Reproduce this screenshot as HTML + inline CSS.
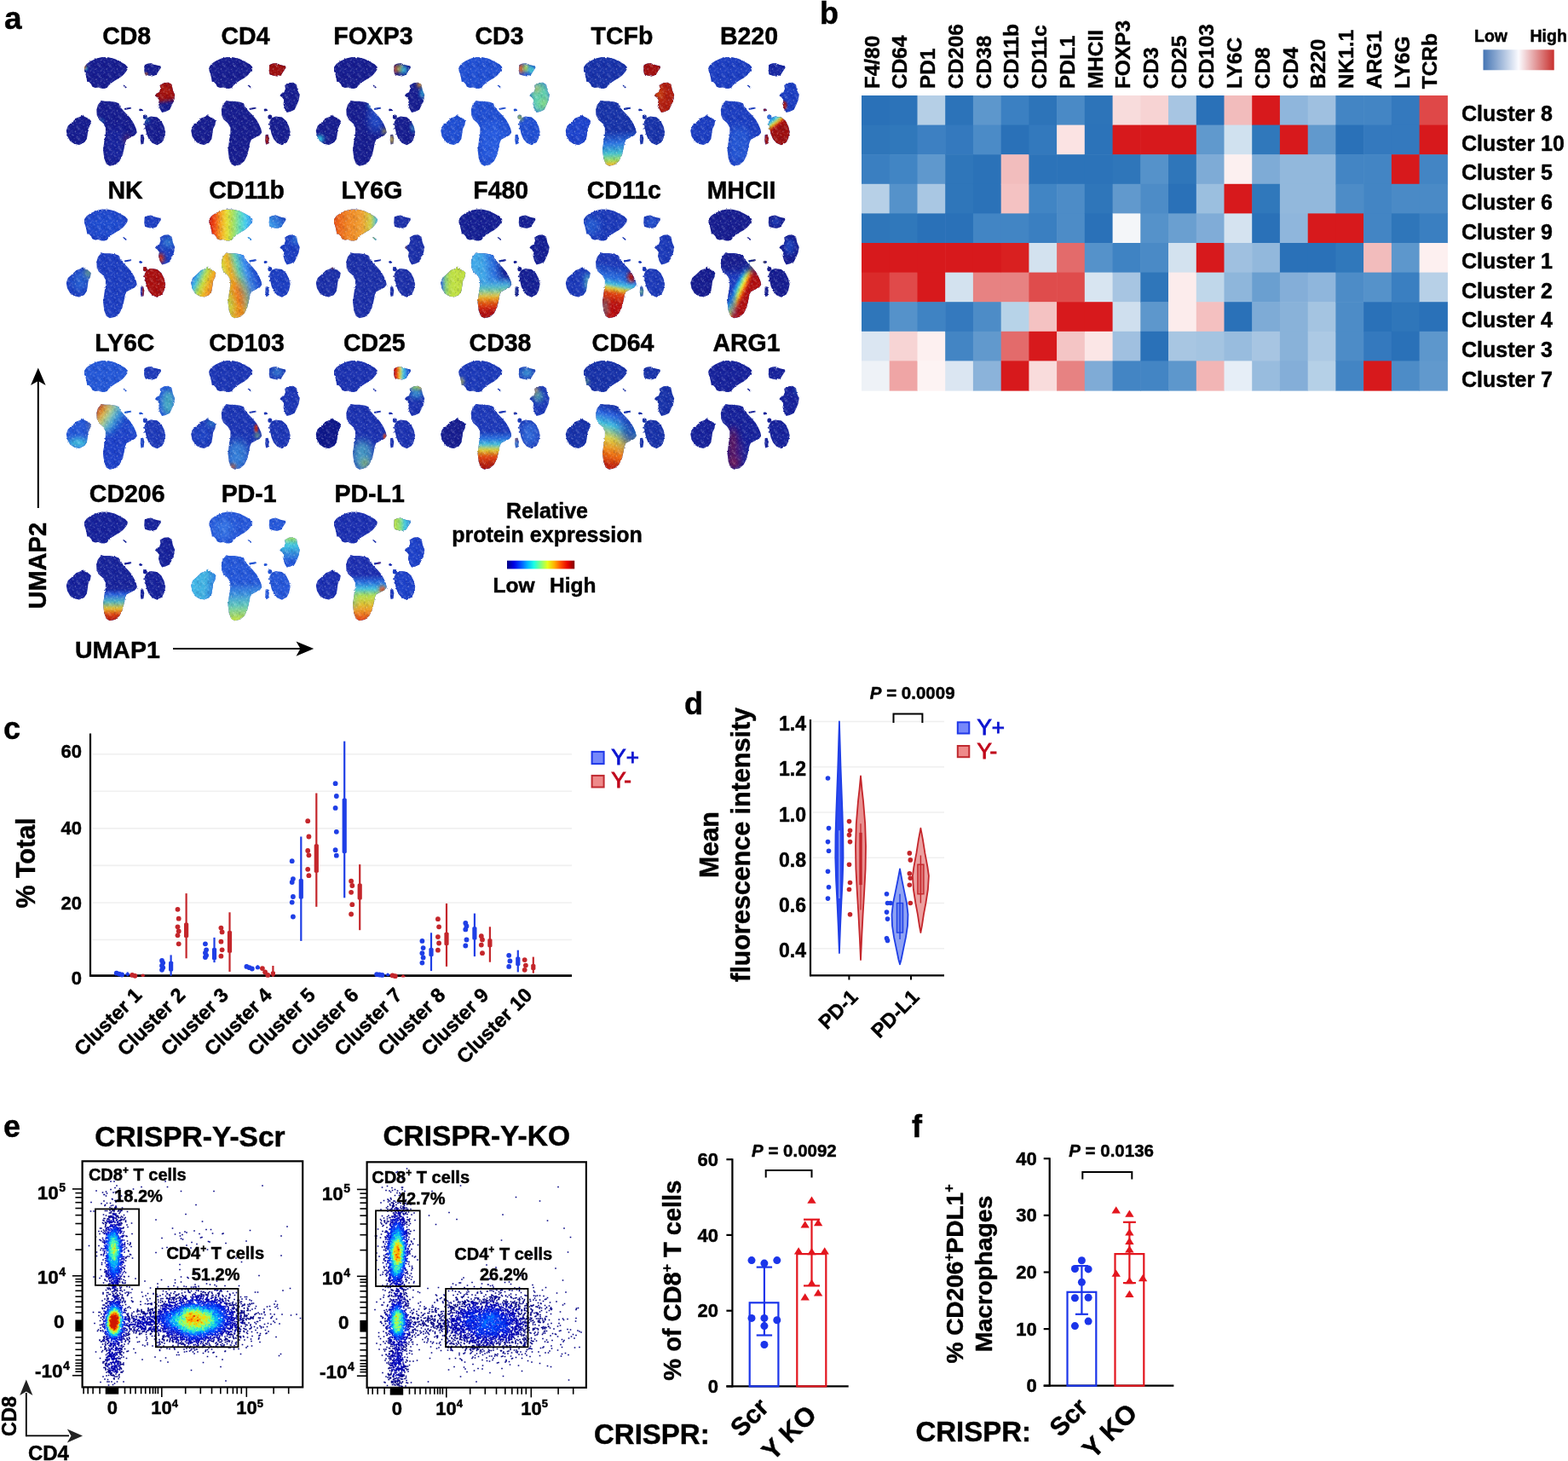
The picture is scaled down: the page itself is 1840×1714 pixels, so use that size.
<!DOCTYPE html><html><head><meta charset="utf-8"><title>Figure</title><style>html,body{margin:0;padding:0;background:#fff;}svg{display:block;filter:blur(0.55px);}</style></head><body>
<svg width="1840" height="1714" viewBox="0 0 1840 1714" font-family="'Liberation Sans', Arial, Helvetica, sans-serif" font-weight="bold">
<style>text{stroke:currentColor;stroke-width:0.45px;}</style>
<rect width="1840" height="1714" fill="#fff"/>
<defs><path id="ump" d="M355,230 390,180 450,140 530,105 610,85 700,90 790,110 870,150 940,190 975,225 975,260 950,300 910,345 860,385 800,420 740,460 700,500 680,525 640,540 590,535 560,520 510,525 470,510 450,470 420,440 395,440 385,380 370,320 355,280Z M1220,200 1260,180 1310,170 1380,200 1450,215 1455,240 1420,290 1390,340 1330,360 1270,350 1225,335 1215,280Z M1440,490 1500,455 1560,450 1610,480 1625,560 1655,630 1640,710 1610,780 1580,840 1520,870 1470,880 1440,830 1420,760 1430,700 1400,660 1370,640 1390,610 1430,590 1450,540Z M330,910 350,935 420,970 450,1000 440,1060 410,1120 400,1200 390,1260 350,1320 280,1345 210,1330 150,1290 110,1220 95,1140 120,1070 180,1020 240,960 300,940Z M600,710 650,720 720,720 800,730 850,750 870,800 920,860 980,920 1030,980 1070,1050 1100,1120 1110,1170 1080,1210 1020,1240 960,1270 940,1320 920,1420 900,1500 860,1580 800,1630 720,1650 670,1620 640,1540 625,1420 640,1300 660,1180 660,1100 620,1030 560,980 535,920 530,840 550,770Z M1250,960 1310,935 1400,950 1460,1000 1500,1080 1520,1160 1500,1250 1470,1310 1400,1350 1330,1320 1280,1260 1250,1190 1230,1100 1220,1020Z M1140,845 a25,18 0 1,0 50,0 a25,18 0 1,0 -50,0Z M1198,945 a30,32 0 1,0 60,0 a30,32 0 1,0 -60,0Z M1165,1200 1200,1195 1215,1250 1205,1330 1170,1340 1160,1280Z M905,490 925,488 965,520 950,532Z M930,820 1025,805 1030,825 935,845Z M1203,1050 a12,12 0 1,0 24,0 a12,12 0 1,0 -24,0Z M1215,1110 a10,12 0 1,0 20,0 a10,12 0 1,0 -20,0Z"/>
<clipPath id="umc"><use href="#ump"/></clipPath>
<filter id="bl15" x="-100%" y="-100%" width="300%" height="300%"><feGaussianBlur stdDeviation="15"/></filter>
<filter id="bl25" x="-100%" y="-100%" width="300%" height="300%"><feGaussianBlur stdDeviation="25"/></filter>
<filter id="bl40" x="-100%" y="-100%" width="300%" height="300%"><feGaussianBlur stdDeviation="40"/></filter>
<filter id="bl60" x="-100%" y="-100%" width="300%" height="300%"><feGaussianBlur stdDeviation="60"/></filter>
<filter id="bl90" x="-100%" y="-100%" width="300%" height="300%"><feGaussianBlur stdDeviation="90"/></filter>
<filter id="rough" x="-60" y="-60" width="1840" height="1840" filterUnits="userSpaceOnUse" primitiveUnits="userSpaceOnUse"><feTurbulence type="fractalNoise" baseFrequency="0.05" numOctaves="2" seed="4" result="t"/><feDisplacementMap in="SourceGraphic" in2="t" scale="26" xChannelSelector="R" yChannelSelector="G"/></filter>
<pattern id="spk" width="150" height="150" patternUnits="userSpaceOnUse"><circle cx="36" cy="82" r="5.1" fill="#fff" fill-opacity="0.32"/><circle cx="91" cy="94" r="4.2" fill="#fff" fill-opacity="0.32"/><circle cx="2" cy="126" r="4.8" fill="#fff" fill-opacity="0.32"/><circle cx="35" cy="149" r="5.4" fill="#fff" fill-opacity="0.32"/><circle cx="125" cy="71" r="5.9" fill="#fff" fill-opacity="0.32"/><circle cx="23" cy="95" r="6.6" fill="#fff" fill-opacity="0.32"/><circle cx="78" cy="111" r="6.0" fill="#fff" fill-opacity="0.32"/><circle cx="10" cy="114" r="5.8" fill="#fff" fill-opacity="0.32"/><circle cx="45" cy="5" r="6.6" fill="#fff" fill-opacity="0.32"/><circle cx="71" cy="108" r="6.6" fill="#fff" fill-opacity="0.32"/><circle cx="107" cy="138" r="5.2" fill="#fff" fill-opacity="0.32"/><circle cx="120" cy="67" r="6.8" fill="#fff" fill-opacity="0.32"/><circle cx="132" cy="15" r="4.4" fill="#fff" fill-opacity="0.32"/><circle cx="33" cy="145" r="5.3" fill="#fff" fill-opacity="0.32"/><circle cx="94" cy="45" r="5.5" fill="#fff" fill-opacity="0.32"/><circle cx="58" cy="53" r="5.8" fill="#fff" fill-opacity="0.32"/><circle cx="88" cy="136" r="6.0" fill="#fff" fill-opacity="0.32"/><circle cx="139" cy="128" r="7.0" fill="#fff" fill-opacity="0.32"/><circle cx="101" cy="24" r="6.6" fill="#fff" fill-opacity="0.32"/><circle cx="145" cy="136" r="5.7" fill="#fff" fill-opacity="0.32"/><circle cx="107" cy="32" r="6.5" fill="#fff" fill-opacity="0.32"/><circle cx="86" cy="43" r="4.2" fill="#fff" fill-opacity="0.32"/><circle cx="128" cy="148" r="4.3" fill="#fff" fill-opacity="0.32"/><circle cx="120" cy="62" r="4.5" fill="#fff" fill-opacity="0.32"/><circle cx="44" cy="115" r="6.6" fill="#fff" fill-opacity="0.32"/><circle cx="7" cy="92" r="4.1" fill="#fff" fill-opacity="0.32"/><circle cx="108" cy="50" r="6.6" fill="#fff" fill-opacity="0.32"/><circle cx="147" cy="76" r="7.0" fill="#fff" fill-opacity="0.32"/><circle cx="46" cy="12" r="5.8" fill="#fff" fill-opacity="0.32"/><circle cx="5" cy="30" r="5.2" fill="#fff" fill-opacity="0.32"/><circle cx="92" cy="23" r="4.1" fill="#fff" fill-opacity="0.32"/><circle cx="130" cy="47" r="6.9" fill="#fff" fill-opacity="0.32"/><circle cx="134" cy="57" r="5.4" fill="#fff" fill-opacity="0.32"/><circle cx="78" cy="97" r="5.8" fill="#fff" fill-opacity="0.32"/><circle cx="84" cy="93" r="6.8" fill="#000040" fill-opacity="0.25"/><circle cx="76" cy="65" r="6.2" fill="#000040" fill-opacity="0.25"/><circle cx="36" cy="45" r="6.9" fill="#000040" fill-opacity="0.25"/><circle cx="78" cy="82" r="4.0" fill="#000040" fill-opacity="0.25"/><circle cx="62" cy="87" r="4.1" fill="#000040" fill-opacity="0.25"/><circle cx="92" cy="95" r="4.2" fill="#000040" fill-opacity="0.25"/><circle cx="94" cy="70" r="6.0" fill="#000040" fill-opacity="0.25"/><circle cx="53" cy="106" r="6.2" fill="#000040" fill-opacity="0.25"/><circle cx="3" cy="9" r="6.0" fill="#000040" fill-opacity="0.25"/><circle cx="144" cy="38" r="5.4" fill="#000040" fill-opacity="0.25"/><circle cx="89" cy="48" r="5.1" fill="#000040" fill-opacity="0.25"/><circle cx="47" cy="55" r="5.8" fill="#000040" fill-opacity="0.25"/><circle cx="45" cy="57" r="6.3" fill="#000040" fill-opacity="0.25"/><circle cx="4" cy="85" r="6.2" fill="#000040" fill-opacity="0.25"/><circle cx="47" cy="33" r="6.4" fill="#000040" fill-opacity="0.25"/><circle cx="36" cy="28" r="5.3" fill="#000040" fill-opacity="0.25"/><circle cx="105" cy="15" r="5.0" fill="#000040" fill-opacity="0.25"/><circle cx="50" cy="125" r="5.3" fill="#000040" fill-opacity="0.25"/></pattern></defs>
<text x="5.0" y="33.5" font-size="37">a</text>
<text transform="translate(148.7,51.5) scale(1,1.04)" font-size="28.5" text-anchor="middle">CD8</text>
<g transform="translate(70.0,60) scale(0.08170)"><g filter="url(#rough)"><use href="#ump" fill="#141b8e"/><g clip-path="url(#umc)"><path d="M1340,420 1700,420 1700,700 1340,740Z" fill="#9c0a0a" filter="url(#bl25)"/><ellipse cx="1540" cy="560" rx="50" ry="50" fill="#c83010" filter="url(#bl40)" opacity="0.6"/><ellipse cx="360" cy="225" rx="22" ry="35" fill="#f07010" filter="url(#bl15)"/><ellipse cx="385" cy="250" rx="18" ry="30" fill="#30c8e8" filter="url(#bl15)" opacity="0.7"/><ellipse cx="1240" cy="330" rx="30" ry="18" fill="#f07010" filter="url(#bl15)" opacity="0.8"/><ellipse cx="960" cy="1270" rx="35" ry="70" fill="#b03030" filter="url(#bl40)" opacity="0.6"/><ellipse cx="600" cy="1000" rx="30" ry="30" fill="#30c8e8" filter="url(#bl25)" opacity="0.5"/><ellipse cx="1250" cy="990" rx="30" ry="40" fill="#30c8e8" filter="url(#bl25)" opacity="0.5"/><ellipse cx="800" cy="1350" rx="150" ry="250" fill="#1a2aa8" filter="url(#bl60)" opacity="0.6"/><rect width="1714" height="1714" fill="url(#spk)"/></g></g></g>
<text transform="translate(288.0,51.5) scale(1,1.04)" font-size="28.5" text-anchor="middle">CD4</text>
<g transform="translate(216.5,60) scale(0.08170)"><g filter="url(#rough)"><use href="#ump" fill="#141b8e"/><g clip-path="url(#umc)"><path d="M1190,150 1480,150 1480,390 1190,390Z" fill="#9c0a0a" filter="url(#bl15)"/><ellipse cx="1185" cy="1270" rx="30" ry="75" fill="#9c0a0a" filter="url(#bl15)"/><rect width="1714" height="1714" fill="url(#spk)"/></g></g></g>
<text transform="translate(438.0,51.5) scale(1,1.04)" font-size="28.5" text-anchor="middle">FOXP3</text>
<g transform="translate(363.0,60) scale(0.08170)"><g filter="url(#rough)"><use href="#ump" fill="#141b8e"/><g clip-path="url(#umc)"><ellipse cx="1235" cy="260" rx="25" ry="60" fill="#e04010" filter="url(#bl25)"/><ellipse cx="1300" cy="250" rx="45" ry="50" fill="#e8d820" filter="url(#bl25)" opacity="0.8"/><ellipse cx="1360" cy="270" rx="50" ry="60" fill="#30c8e8" filter="url(#bl25)" opacity="0.8"/><ellipse cx="1590" cy="480" rx="40" ry="40" fill="#f0a020" filter="url(#bl25)"/><ellipse cx="1625" cy="600" rx="25" ry="80" fill="#30c8e8" filter="url(#bl25)"/><ellipse cx="960" cy="950" rx="110" ry="220" fill="#2860e0" filter="url(#bl60)" opacity="0.7"/><ellipse cx="880" cy="780" rx="40" ry="30" fill="#30c8e8" filter="url(#bl25)" opacity="0.7"/><ellipse cx="1080" cy="1150" rx="25" ry="30" fill="#e8d820" filter="url(#bl25)"/><ellipse cx="150" cy="1260" rx="60" ry="50" fill="#30c8e8" filter="url(#bl25)"/><ellipse cx="1185" cy="1270" rx="30" ry="60" fill="#e0c030" filter="url(#bl25)"/><ellipse cx="1490" cy="1100" rx="25" ry="60" fill="#30c8e8" filter="url(#bl25)" opacity="0.7"/><rect width="1714" height="1714" fill="url(#spk)"/></g></g></g>
<text transform="translate(586.0,51.5) scale(1,1.04)" font-size="28.5" text-anchor="middle">CD3</text>
<g transform="translate(509.5,60) scale(0.08170)"><g filter="url(#rough)"><use href="#ump" fill="#1f4ed2"/><g clip-path="url(#umc)"><ellipse cx="1245" cy="250" rx="40" ry="70" fill="#f06010" filter="url(#bl25)"/><ellipse cx="1320" cy="240" rx="45" ry="60" fill="#b0e050" filter="url(#bl25)"/><ellipse cx="1400" cy="270" rx="50" ry="60" fill="#40d0d0" filter="url(#bl25)"/><ellipse cx="1520" cy="660" rx="150" ry="230" fill="#60d0b0" filter="url(#bl40)"/><ellipse cx="1470" cy="540" rx="50" ry="50" fill="#f0a020" filter="url(#bl40)" opacity="0.6"/><ellipse cx="1580" cy="750" rx="60" ry="80" fill="#a0e060" filter="url(#bl40)" opacity="0.6"/><ellipse cx="1230" cy="955" rx="40" ry="40" fill="#c0e040" filter="url(#bl25)"/><ellipse cx="850" cy="1300" rx="180" ry="300" fill="#2a64e8" filter="url(#bl60)" opacity="0.6"/><rect width="1714" height="1714" fill="url(#spk)"/></g></g></g>
<text transform="translate(730.0,51.5) scale(1,1.04)" font-size="28.5" text-anchor="middle">TCFb</text>
<g transform="translate(656.0,60) scale(0.08170)"><g filter="url(#rough)"><use href="#ump" fill="#1630a8"/><g clip-path="url(#umc)"><path d="M1190,150 1480,150 1480,390 1190,390Z" fill="#a01010" filter="url(#bl15)"/><path d="M1350,430 1680,430 1680,900 1350,900Z" fill="#b01a0c" filter="url(#bl15)"/><ellipse cx="1430" cy="620" rx="60" ry="90" fill="#e06010" filter="url(#bl40)" opacity="0.6"/><path d="M70,890 470,890 470,1370 70,1370Z" fill="#1d42cc" filter="url(#bl25)"/><linearGradient id="lg1" gradientUnits="userSpaceOnUse" x1="760" y1="1150" x2="780" y2="1640"><stop offset="0" stop-color="#1630a8"/><stop offset="0.35" stop-color="#2a70e0"/><stop offset="0.65" stop-color="#40c0d0"/><stop offset="0.85" stop-color="#a0e060"/><stop offset="1" stop-color="#f0b020"/></linearGradient><path d="M470,660 1122,660 1122,1700 470,1700Z" fill="url(#lg1)" filter="url(#bl15)"/><rect width="1714" height="1714" fill="url(#spk)"/></g></g></g>
<text transform="translate(879.0,51.5) scale(1,1.04)" font-size="28.5" text-anchor="middle">B220</text>
<g transform="translate(802.5,60) scale(0.08170)"><g filter="url(#rough)"><use href="#ump" fill="#1a3cc0"/><g clip-path="url(#umc)"><path d="M1190,150 1480,150 1480,390 1190,390Z" fill="#1428a0" filter="url(#bl15)"/><ellipse cx="1440" cy="780" rx="40" ry="60" fill="#9c0a0a" filter="url(#bl15)"/><linearGradient id="lg2" gradientUnits="userSpaceOnUse" x1="1250" y1="940" x2="1360" y2="1080"><stop offset="0" stop-color="#3070e0"/><stop offset="0.35" stop-color="#30c8e8"/><stop offset="0.6" stop-color="#e8d820"/><stop offset="0.8" stop-color="#d02010"/><stop offset="1" stop-color="#9c0a0a"/></linearGradient><path d="M1190,900 1540,900 1540,1370 1190,1370Z" fill="url(#lg2)" filter="url(#bl15)"/><ellipse cx="1185" cy="1270" rx="30" ry="75" fill="#9c0a0a" filter="url(#bl15)"/><ellipse cx="1160" cy="840" rx="25" ry="25" fill="#9c0a0a" filter="url(#bl15)"/><ellipse cx="800" cy="1350" rx="180" ry="280" fill="#2c68e0" filter="url(#bl60)" opacity="0.6"/><rect width="1714" height="1714" fill="url(#spk)"/></g></g></g>
<text transform="translate(147.0,232.5) scale(1,1.04)" font-size="28.5" text-anchor="middle">NK</text>
<g transform="translate(70.0,238.5) scale(0.08170)"><g filter="url(#rough)"><use href="#ump" fill="#1b3cc0"/><g clip-path="url(#umc)"><path d="M1190,900 1540,900 1540,1370 1190,1370Z" fill="#a81008" filter="url(#bl15)"/><ellipse cx="1450" cy="790" rx="50" ry="70" fill="#c02010" filter="url(#bl25)"/><ellipse cx="1560" cy="560" rx="80" ry="80" fill="#3aa0e0" filter="url(#bl40)" opacity="0.6"/><ellipse cx="410" cy="1000" rx="45" ry="70" fill="#a0e060" filter="url(#bl40)" opacity="0.8"/><ellipse cx="300" cy="1120" rx="130" ry="150" fill="#2f80e0" filter="url(#bl60)" opacity="0.5"/><ellipse cx="650" cy="300" rx="300" ry="200" fill="#2454d8" filter="url(#bl60)" opacity="0.6"/><rect width="1714" height="1714" fill="url(#spk)"/></g></g></g>
<text transform="translate(289.6,232.5) scale(1,1.04)" font-size="28.5" text-anchor="middle">CD11b</text>
<g transform="translate(216.5,238.5) scale(0.08170)"><g filter="url(#rough)"><use href="#ump" fill="#1a3cc0"/><g clip-path="url(#umc)"><linearGradient id="lg3" gradientUnits="userSpaceOnUse" x1="345" y1="300" x2="975" y2="300"><stop offset="0" stop-color="#c81810"/><stop offset="0.13" stop-color="#f04010"/><stop offset="0.27" stop-color="#f8a020"/><stop offset="0.42" stop-color="#e8e030"/><stop offset="0.57" stop-color="#a0e060"/><stop offset="0.72" stop-color="#60e0c0"/><stop offset="0.86" stop-color="#40c8f0"/><stop offset="1" stop-color="#3a90f0"/></linearGradient><path d="M330,60 1000,60 1000,560 330,560Z" fill="url(#lg3)" filter="url(#bl15)"/><linearGradient id="lg4" gradientUnits="userSpaceOnUse" x1="100" y1="1050" x2="430" y2="1190"><stop offset="0" stop-color="#2860e0"/><stop offset="0.25" stop-color="#40c0e0"/><stop offset="0.5" stop-color="#c0e040"/><stop offset="0.75" stop-color="#f0b020"/><stop offset="1" stop-color="#f08020"/></linearGradient><path d="M70,890 470,890 470,1370 70,1370Z" fill="url(#lg4)" filter="url(#bl15)"/><linearGradient id="lg5" gradientUnits="userSpaceOnUse" x1="553" y1="1037" x2="1093" y2="888"><stop offset="0" stop-color="#d0e040"/><stop offset="0.22" stop-color="#f0b020"/><stop offset="0.42" stop-color="#60d0b0"/><stop offset="0.6" stop-color="#3a90f0"/><stop offset="0.8" stop-color="#2050d0"/><stop offset="1" stop-color="#1a3cc0"/></linearGradient><path d="M470,660 1122,660 1122,1700 470,1700Z" fill="url(#lg5)" filter="url(#bl15)"/><ellipse cx="790" cy="1330" rx="90" ry="230" fill="#f05010" filter="url(#bl90)" opacity="0.9" transform="rotate(-15 790 1330)"/><ellipse cx="760" cy="1600" rx="90" ry="60" fill="#f06010" filter="url(#bl60)" opacity="0.8"/><ellipse cx="660" cy="1400" rx="30" ry="120" fill="#a0e060" filter="url(#bl60)" opacity="0.6"/><linearGradient id="lg6" gradientUnits="userSpaceOnUse" x1="1220" y1="350" x2="1450" y2="180"><stop offset="0" stop-color="#40a8f0"/><stop offset="1" stop-color="#1a40c0"/></linearGradient><path d="M1190,150 1480,150 1480,390 1190,390Z" fill="url(#lg6)" filter="url(#bl15)"/><ellipse cx="1600" cy="520" rx="60" ry="60" fill="#40a0f0" filter="url(#bl40)" opacity="0.7"/><rect width="1714" height="1714" fill="url(#spk)"/></g></g></g>
<text transform="translate(436.4,232.5) scale(1,1.04)" font-size="28.5" text-anchor="middle">LY6G</text>
<g transform="translate(363.0,238.5) scale(0.08170)"><g filter="url(#rough)"><use href="#ump" fill="#1a2ea8"/><g clip-path="url(#umc)"><linearGradient id="lg7" gradientUnits="userSpaceOnUse" x1="345" y1="300" x2="975" y2="300"><stop offset="0" stop-color="#e85010"/><stop offset="0.3" stop-color="#f08020"/><stop offset="0.65" stop-color="#f0a030"/><stop offset="0.85" stop-color="#d0d040"/><stop offset="1" stop-color="#40c0e0"/></linearGradient><path d="M330,60 1000,60 1000,560 330,560Z" fill="url(#lg7)" filter="url(#bl15)"/><ellipse cx="335" cy="920" rx="15" ry="20" fill="#f07010" filter="url(#bl15)"/><ellipse cx="1370" cy="630" rx="15" ry="20" fill="#f07010" filter="url(#bl15)"/><ellipse cx="1200" cy="1060" rx="12" ry="15" fill="#f07010" filter="url(#bl15)"/><rect width="1714" height="1714" fill="url(#spk)"/></g></g></g>
<text transform="translate(587.7,232.5) scale(1,1.04)" font-size="28.5" text-anchor="middle">F480</text>
<g transform="translate(509.5,238.5) scale(0.08170)"><g filter="url(#rough)"><use href="#ump" fill="#121e92"/><g clip-path="url(#umc)"><linearGradient id="lg8" gradientUnits="userSpaceOnUse" x1="100" y1="1100" x2="300" y2="1100"><stop offset="0" stop-color="#2860e0"/><stop offset="0.3" stop-color="#80d080"/><stop offset="0.6" stop-color="#b8e048"/><stop offset="1" stop-color="#c0e040"/></linearGradient><path d="M70,890 470,890 470,1370 70,1370Z" fill="url(#lg8)" filter="url(#bl15)"/><linearGradient id="lg9" gradientUnits="userSpaceOnUse" x1="690" y1="900" x2="1000" y2="860"><stop offset="0" stop-color="#40a8e8"/><stop offset="0.5" stop-color="#2a70e0"/><stop offset="1" stop-color="#121e92"/></linearGradient><path d="M470,660 1122,660 1122,1700 470,1700Z" fill="url(#lg9)" filter="url(#bl15)"/><linearGradient id="lg10" gradientUnits="userSpaceOnUse" x1="750" y1="1160" x2="760" y2="1630"><stop offset="0" stop-color="#40a0e8"/><stop offset="0.22" stop-color="#60d0a0"/><stop offset="0.36" stop-color="#f0d020"/><stop offset="0.55" stop-color="#e85010"/><stop offset="0.8" stop-color="#c01010"/><stop offset="1" stop-color="#a00808"/></linearGradient><path d="M470,1130 1122,1090 1122,1700 470,1700Z" fill="url(#lg10)" filter="url(#bl40)"/><rect width="1714" height="1714" fill="url(#spk)"/></g></g></g>
<text transform="translate(732.3,232.5) scale(1,1.04)" font-size="28.5" text-anchor="middle">CD11c</text>
<g transform="translate(656.0,238.5) scale(0.08170)"><g filter="url(#rough)"><use href="#ump" fill="#1a38b8"/><g clip-path="url(#umc)"><linearGradient id="lg11" gradientUnits="userSpaceOnUse" x1="880" y1="900" x2="780" y2="1450"><stop offset="0" stop-color="#1a38b8"/><stop offset="0.35" stop-color="#2a70e0"/><stop offset="0.5" stop-color="#40c0e0"/><stop offset="0.6" stop-color="#e0d030"/><stop offset="0.72" stop-color="#e04010"/><stop offset="1" stop-color="#b81010"/></linearGradient><path d="M470,660 1122,660 1122,1700 470,1700Z" fill="url(#lg11)" filter="url(#bl15)"/><ellipse cx="1040" cy="1060" rx="55" ry="75" fill="#a80c0c" filter="url(#bl25)"/><ellipse cx="660" cy="1500" rx="25" ry="150" fill="#40c0d0" filter="url(#bl40)" opacity="0.8"/><ellipse cx="410" cy="1130" rx="35" ry="130" fill="#40c0e0" filter="url(#bl40)"/><ellipse cx="430" cy="1150" rx="20" ry="90" fill="#e0d040" filter="url(#bl40)" opacity="0.5"/><ellipse cx="1185" cy="1270" rx="25" ry="50" fill="#80e080" filter="url(#bl25)"/><ellipse cx="470" cy="330" rx="110" ry="130" fill="#2a70e0" filter="url(#bl60)" opacity="0.7"/><ellipse cx="1330" cy="270" rx="90" ry="70" fill="#2a60d8" filter="url(#bl40)" opacity="0.7"/><rect width="1714" height="1714" fill="url(#spk)"/></g></g></g>
<text transform="translate(870.0,232.5) scale(1,1.04)" font-size="28.5" text-anchor="middle">MHCII</text>
<g transform="translate(802.5,238.5) scale(0.08170)"><g filter="url(#rough)"><use href="#ump" fill="#141b8e"/><g clip-path="url(#umc)"><linearGradient id="lg12" gradientUnits="userSpaceOnUse" x1="1046" y1="476" x2="1219" y2="555"><stop offset="0" stop-color="#1a3cc0"/><stop offset="0.25" stop-color="#20b0f0"/><stop offset="0.45" stop-color="#a0f070"/><stop offset="0.6" stop-color="#f8e020"/><stop offset="0.78" stop-color="#f05010"/><stop offset="1" stop-color="#b00c0c"/></linearGradient><path d="M470,660 1122,660 1122,1700 470,1700Z" fill="url(#lg12)" filter="url(#bl15)"/><path d="M400,600 1300,600 1300,950 400,1010Z" fill="#141b8e" filter="url(#bl60)"/><ellipse cx="700" cy="1450" rx="40" ry="200" fill="#1a3cc0" filter="url(#bl40)" opacity="0.8"/><ellipse cx="1320" cy="260" rx="60" ry="50" fill="#2a60e0" filter="url(#bl40)" opacity="0.7"/><ellipse cx="1520" cy="620" rx="70" ry="120" fill="#2458d8" filter="url(#bl40)" opacity="0.7"/><ellipse cx="1140" cy="840" rx="15" ry="15" fill="#e8d820" filter="url(#bl15)"/><rect width="1714" height="1714" fill="url(#spk)"/></g></g></g>
<text transform="translate(146.3,411.5) scale(1,1.04)" font-size="28.5" text-anchor="middle">LY6C</text>
<g transform="translate(70.0,416) scale(0.08170)"><g filter="url(#rough)"><use href="#ump" fill="#2256d6"/><g clip-path="url(#umc)"><linearGradient id="lg13" gradientUnits="userSpaceOnUse" x1="540" y1="800" x2="860" y2="1000"><stop offset="0" stop-color="#c01810"/><stop offset="0.12" stop-color="#f06010"/><stop offset="0.3" stop-color="#e8d030"/><stop offset="0.5" stop-color="#80d8a0"/><stop offset="0.72" stop-color="#30a0e8"/><stop offset="1" stop-color="#1a40c8"/></linearGradient><path d="M480,680 1000,680 1000,1150 480,1250Z" fill="url(#lg13)" filter="url(#bl60)"/><path d="M480,1150 1140,1100 1140,1700 480,1700Z" fill="#1a40c8" filter="url(#bl60)"/><ellipse cx="270" cy="1270" rx="150" ry="70" fill="#40c0e0" filter="url(#bl40)"/><ellipse cx="1560" cy="690" rx="90" ry="180" fill="#50c0c0" filter="url(#bl40)" opacity="0.8"/><path d="M1190,150 1480,150 1480,390 1190,390Z" fill="#1a38b8" filter="url(#bl15)"/><path d="M1190,900 1540,900 1540,1370 1190,1370Z" fill="#1a38b8" filter="url(#bl25)"/><rect width="1714" height="1714" fill="url(#spk)"/></g></g></g>
<text transform="translate(289.6,411.5) scale(1,1.04)" font-size="28.5" text-anchor="middle">CD103</text>
<g transform="translate(216.5,416) scale(0.08170)"><g filter="url(#rough)"><use href="#ump" fill="#1a34b4"/><g clip-path="url(#umc)"><ellipse cx="1030" cy="1060" rx="25" ry="60" fill="#c02010" filter="url(#bl15)"/><ellipse cx="1045" cy="1160" rx="25" ry="40" fill="#a0e050" filter="url(#bl25)" opacity="0.8"/><ellipse cx="760" cy="1450" rx="160" ry="220" fill="#3a90e0" filter="url(#bl60)" opacity="0.8"/><ellipse cx="690" cy="1610" rx="40" ry="30" fill="#e06010" filter="url(#bl25)"/><ellipse cx="1330" cy="250" rx="90" ry="70" fill="#3a90d8" filter="url(#bl40)" opacity="0.7"/><ellipse cx="390" cy="980" rx="60" ry="60" fill="#40b0e0" filter="url(#bl40)" opacity="0.7"/><ellipse cx="250" cy="1150" rx="150" ry="150" fill="#2050d0" filter="url(#bl60)" opacity="0.6"/><rect width="1714" height="1714" fill="url(#spk)"/></g></g></g>
<text transform="translate(439.3,411.5) scale(1,1.04)" font-size="28.5" text-anchor="middle">CD25</text>
<g transform="translate(363.0,416) scale(0.08170)"><g filter="url(#rough)"><use href="#ump" fill="#1a30b0"/><g clip-path="url(#umc)"><linearGradient id="lg14" gradientUnits="userSpaceOnUse" x1="1220" y1="260" x2="1450" y2="260"><stop offset="0" stop-color="#b01010"/><stop offset="0.15" stop-color="#f03010"/><stop offset="0.35" stop-color="#e8d030"/><stop offset="0.55" stop-color="#40c8e0"/><stop offset="0.8" stop-color="#2a70e0"/><stop offset="1" stop-color="#1a40c0"/></linearGradient><path d="M1190,150 1480,150 1480,390 1190,390Z" fill="url(#lg14)" filter="url(#bl15)"/><ellipse cx="1540" cy="470" rx="90" ry="40" fill="#a0e060" filter="url(#bl25)"/><ellipse cx="1600" cy="470" rx="30" ry="25" fill="#f08020" filter="url(#bl25)"/><ellipse cx="1540" cy="560" rx="90" ry="60" fill="#40c0e0" filter="url(#bl40)" opacity="0.7"/><ellipse cx="1085" cy="1180" rx="20" ry="45" fill="#e04010" filter="url(#bl15)"/><ellipse cx="760" cy="1450" rx="150" ry="220" fill="#50b0c8" filter="url(#bl60)" opacity="0.8"/><ellipse cx="800" cy="1560" rx="60" ry="60" fill="#c0d040" filter="url(#bl40)" opacity="0.6"/><path d="M70,890 470,890 470,1370 70,1370Z" fill="#101888" filter="url(#bl15)"/><rect width="1714" height="1714" fill="url(#spk)"/></g></g></g>
<text transform="translate(587.0,411.5) scale(1,1.04)" font-size="28.5" text-anchor="middle">CD38</text>
<g transform="translate(509.5,416) scale(0.08170)"><g filter="url(#rough)"><use href="#ump" fill="#1a38b8"/><g clip-path="url(#umc)"><linearGradient id="lg15" gradientUnits="userSpaceOnUse" x1="760" y1="1100" x2="760" y2="1640"><stop offset="0" stop-color="#1a38b8"/><stop offset="0.2" stop-color="#2a70e0"/><stop offset="0.35" stop-color="#40c0e0"/><stop offset="0.5" stop-color="#e0d030"/><stop offset="0.68" stop-color="#e04010"/><stop offset="1" stop-color="#a01010"/></linearGradient><path d="M470,660 1122,660 1122,1700 470,1700Z" fill="url(#lg15)" filter="url(#bl15)"/><ellipse cx="1440" cy="520" rx="40" ry="70" fill="#f0a020" filter="url(#bl40)"/><ellipse cx="1500" cy="600" rx="60" ry="80" fill="#60d0b0" filter="url(#bl40)" opacity="0.7"/><ellipse cx="1330" cy="260" rx="90" ry="70" fill="#40a8d8" filter="url(#bl40)" opacity="0.8"/><ellipse cx="1370" cy="1140" rx="120" ry="180" fill="#3a80e8" filter="url(#bl60)" opacity="0.7"/><ellipse cx="1180" cy="1200" rx="20" ry="40" fill="#f08020" filter="url(#bl25)"/><ellipse cx="1180" cy="1290" rx="20" ry="40" fill="#60c0e0" filter="url(#bl25)"/><ellipse cx="1141" cy="820" rx="15" ry="15" fill="#f07010" filter="url(#bl15)"/><ellipse cx="390" cy="390" rx="25" ry="60" fill="#d0d040" filter="url(#bl25)"/><path d="M70,890 470,890 470,1370 70,1370Z" fill="#141b8e" filter="url(#bl15)"/><rect width="1714" height="1714" fill="url(#spk)"/></g></g></g>
<text transform="translate(731.0,411.5) scale(1,1.04)" font-size="28.5" text-anchor="middle">CD64</text>
<g transform="translate(656.0,416) scale(0.08170)"><g filter="url(#rough)"><use href="#ump" fill="#1630a8"/><g clip-path="url(#umc)"><linearGradient id="lg16" gradientUnits="userSpaceOnUse" x1="969" y1="801" x2="745" y2="1602"><stop offset="0" stop-color="#1630a8"/><stop offset="0.15" stop-color="#2a64e0"/><stop offset="0.32" stop-color="#40c0e0"/><stop offset="0.55" stop-color="#e0d040"/><stop offset="0.8" stop-color="#f07010"/><stop offset="1" stop-color="#c02010"/></linearGradient><path d="M480,680 1140,680 1140,1700 480,1700Z" fill="url(#lg16)" filter="url(#bl15)"/><path d="M900,880 1140,880 1140,1300 960,1330Z" fill="#1630a8" filter="url(#bl90)"/><ellipse cx="400" cy="390" rx="20" ry="40" fill="#80d080" filter="url(#bl25)"/><rect width="1714" height="1714" fill="url(#spk)"/></g></g></g>
<text transform="translate(876.0,411.5) scale(1,1.04)" font-size="28.5" text-anchor="middle">ARG1</text>
<g transform="translate(802.5,416) scale(0.08170)"><g filter="url(#rough)"><use href="#ump" fill="#14209a"/><g clip-path="url(#umc)"><ellipse cx="700" cy="1300" rx="60" ry="260" fill="#801040" filter="url(#bl60)" opacity="0.9"/><ellipse cx="720" cy="1560" rx="90" ry="80" fill="#a01830" filter="url(#bl60)" opacity="0.8"/><ellipse cx="800" cy="1400" rx="60" ry="150" fill="#5a2080" filter="url(#bl60)" opacity="0.5"/><ellipse cx="1620" cy="520" rx="30" ry="30" fill="#40a0e0" filter="url(#bl25)" opacity="0.6"/><rect width="1714" height="1714" fill="url(#spk)"/></g></g></g>
<text transform="translate(149.2,589.0) scale(1,1.04)" font-size="28.5" text-anchor="middle">CD206</text>
<g transform="translate(70.0,593.5) scale(0.08170)"><g filter="url(#rough)"><use href="#ump" fill="#14209a"/><g clip-path="url(#umc)"><linearGradient id="lg17" gradientUnits="userSpaceOnUse" x1="760" y1="1200" x2="760" y2="1650"><stop offset="0" stop-color="#14209a"/><stop offset="0.15" stop-color="#2a60e0"/><stop offset="0.4" stop-color="#50b8c0"/><stop offset="0.6" stop-color="#e0c030"/><stop offset="0.8" stop-color="#e04010"/><stop offset="1" stop-color="#a81010"/></linearGradient><path d="M470,660 1122,660 1122,1700 470,1700Z" fill="url(#lg17)" filter="url(#bl15)"/><rect width="1714" height="1714" fill="url(#spk)"/></g></g></g>
<text transform="translate(292.2,589.0) scale(1,1.04)" font-size="28.5" text-anchor="middle">PD-1</text>
<g transform="translate(216.5,593.5) scale(0.08170)"><g filter="url(#rough)"><use href="#ump" fill="#2456d8"/><g clip-path="url(#umc)"><linearGradient id="lg18" gradientUnits="userSpaceOnUse" x1="100" y1="1100" x2="430" y2="1150"><stop offset="0" stop-color="#40b8e8"/><stop offset="0.6" stop-color="#40b0e0"/><stop offset="1" stop-color="#2a80e0"/></linearGradient><path d="M70,890 470,890 470,1370 70,1370Z" fill="url(#lg18)" filter="url(#bl15)"/><linearGradient id="lg19" gradientUnits="userSpaceOnUse" x1="760" y1="1100" x2="780" y2="1640"><stop offset="0" stop-color="#2456d8"/><stop offset="0.3" stop-color="#3a90e0"/><stop offset="0.6" stop-color="#60c8c0"/><stop offset="1" stop-color="#c0e040"/></linearGradient><path d="M470,660 1122,660 1122,1700 470,1700Z" fill="url(#lg19)" filter="url(#bl15)"/><linearGradient id="lg20" gradientUnits="userSpaceOnUse" x1="1540" y1="450" x2="1540" y2="800"><stop offset="0" stop-color="#a0e060"/><stop offset="0.3" stop-color="#40c8e0"/><stop offset="1" stop-color="#2456d8"/></linearGradient><path d="M1350,430 1680,430 1680,900 1350,900Z" fill="url(#lg20)" filter="url(#bl15)"/><ellipse cx="560" cy="320" rx="130" ry="150" fill="#3a80e8" filter="url(#bl60)" opacity="0.7"/><rect width="1714" height="1714" fill="url(#spk)"/></g></g></g>
<text transform="translate(433.6,589.0) scale(1,1.04)" font-size="28.5" text-anchor="middle">PD-L1</text>
<g transform="translate(363.0,593.5) scale(0.08170)"><g filter="url(#rough)"><use href="#ump" fill="#1a2eb0"/><g clip-path="url(#umc)"><linearGradient id="lg21" gradientUnits="userSpaceOnUse" x1="760" y1="1000" x2="760" y2="1640"><stop offset="0" stop-color="#1a2eb0"/><stop offset="0.15" stop-color="#2a70e0"/><stop offset="0.3" stop-color="#40c0e0"/><stop offset="0.45" stop-color="#b0e050"/><stop offset="0.65" stop-color="#e0c030"/><stop offset="0.85" stop-color="#f08020"/><stop offset="1" stop-color="#e04010"/></linearGradient><path d="M470,660 1122,660 1122,1700 470,1700Z" fill="url(#lg21)" filter="url(#bl15)"/><ellipse cx="640" cy="1350" rx="25" ry="150" fill="#60d0c0" filter="url(#bl40)" opacity="0.7"/><ellipse cx="1050" cy="1200" rx="45" ry="50" fill="#e04010" filter="url(#bl25)"/><linearGradient id="lg22" gradientUnits="userSpaceOnUse" x1="1210" y1="270" x2="1440" y2="270"><stop offset="0" stop-color="#c0e040"/><stop offset="0.4" stop-color="#90e070"/><stop offset="0.7" stop-color="#40c8e0"/><stop offset="1" stop-color="#40a0e0"/></linearGradient><path d="M1190,150 1480,150 1480,390 1190,390Z" fill="url(#lg22)" filter="url(#bl15)"/><ellipse cx="1000" cy="830" rx="15" ry="15" fill="#e03010" filter="url(#bl15)"/><path d="M1350,430 1680,430 1680,900 1350,900Z" fill="#1a40c8" filter="url(#bl15)"/><path d="M1190,900 1540,900 1540,1370 1190,1370Z" fill="#1a40c8" filter="url(#bl15)"/><rect width="1714" height="1714" fill="url(#spk)"/></g></g></g>
<line x1="44.8" y1="596.0" x2="44.8" y2="446.0" stroke="#000" stroke-width="2"/>
<path d="M44.8,431.5 L53.6,452 L44.8,447 L36,452 Z"/>
<text transform="translate(53.8,714.5) rotate(-90)" font-size="29">UMAP2</text>
<text x="88.0" y="772.4" font-size="28.5">UMAP1</text>
<line x1="203.0" y1="761.1" x2="354.0" y2="761.1" stroke="#000" stroke-width="2"/>
<path d="M368.2,761.1 L347.5,769.8 L352.5,761.1 L347.5,752.4 Z"/>
<text x="642.0" y="607.5" font-size="25" text-anchor="middle">Relative</text>
<text x="642.0" y="636.4" font-size="25" text-anchor="middle">protein expression</text>
<linearGradient id="jetg" x1="0" x2="1" y1="0" y2="0"><stop offset="0.0" stop-color="#00007f"/><stop offset="0.1" stop-color="#0000e5"/><stop offset="0.2" stop-color="#004cff"/><stop offset="0.3" stop-color="#00b2ff"/><stop offset="0.4" stop-color="#19ffe5"/><stop offset="0.5" stop-color="#7fff7f"/><stop offset="0.6" stop-color="#e5ff19"/><stop offset="0.7" stop-color="#ffb200"/><stop offset="0.8" stop-color="#ff4c00"/><stop offset="0.9" stop-color="#e50000"/><stop offset="1.0" stop-color="#7f0000"/></linearGradient>
<rect x="595.0" y="657.7" width="79.2" height="9.7" fill="url(#jetg)"/>
<text x="578.5" y="694.8" font-size="24.5">Low</text>
<text x="645.0" y="694.8" font-size="24.5">High</text>
<text x="962.0" y="27.5" font-size="36">b</text>
<rect x="1011.0" y="112.0" width="33.3" height="35.2" fill="#2a71b8"/>
<rect x="1011.0" y="146.6" width="33.3" height="35.2" fill="#2f76ba"/>
<rect x="1011.0" y="181.2" width="33.3" height="35.2" fill="#3a7fc1"/>
<rect x="1011.0" y="215.8" width="33.3" height="35.2" fill="#b7d0e7"/>
<rect x="1011.0" y="250.4" width="33.3" height="35.2" fill="#2f76ba"/>
<rect x="1011.0" y="285.0" width="33.3" height="35.2" fill="#d7191c"/>
<rect x="1011.0" y="319.6" width="33.3" height="35.2" fill="#da2a2a"/>
<rect x="1011.0" y="354.2" width="33.3" height="35.2" fill="#2f76ba"/>
<rect x="1011.0" y="388.8" width="33.3" height="35.2" fill="#dbe6f2"/>
<rect x="1011.0" y="423.4" width="33.3" height="35.2" fill="#eef2f7"/>
<text transform="translate(1031.7,104.3) rotate(-90)" font-size="24.5">F4/80</text>
<rect x="1043.7" y="112.0" width="33.3" height="35.2" fill="#2c73b9"/>
<rect x="1043.7" y="146.6" width="33.3" height="35.2" fill="#3078bb"/>
<rect x="1043.7" y="181.2" width="33.3" height="35.2" fill="#4185c4"/>
<rect x="1043.7" y="215.8" width="33.3" height="35.2" fill="#5592ca"/>
<rect x="1043.7" y="250.4" width="33.3" height="35.2" fill="#3078bb"/>
<rect x="1043.7" y="285.0" width="33.3" height="35.2" fill="#d7191c"/>
<rect x="1043.7" y="319.6" width="33.3" height="35.2" fill="#e04a4a"/>
<rect x="1043.7" y="354.2" width="33.3" height="35.2" fill="#5592ca"/>
<rect x="1043.7" y="388.8" width="33.3" height="35.2" fill="#f7d4d4"/>
<rect x="1043.7" y="423.4" width="33.3" height="35.2" fill="#efa5a5"/>
<text transform="translate(1064.4,104.3) rotate(-90)" font-size="24.5">CD64</text>
<rect x="1076.5" y="112.0" width="33.3" height="35.2" fill="#b5cfe6"/>
<rect x="1076.5" y="146.6" width="33.3" height="35.2" fill="#3d80c2"/>
<rect x="1076.5" y="181.2" width="33.3" height="35.2" fill="#5f98cd"/>
<rect x="1076.5" y="215.8" width="33.3" height="35.2" fill="#a9c7e3"/>
<rect x="1076.5" y="250.4" width="33.3" height="35.2" fill="#2a71b8"/>
<rect x="1076.5" y="285.0" width="33.3" height="35.2" fill="#d7191c"/>
<rect x="1076.5" y="319.6" width="33.3" height="35.2" fill="#d7191c"/>
<rect x="1076.5" y="354.2" width="33.3" height="35.2" fill="#3f83c3"/>
<rect x="1076.5" y="388.8" width="33.3" height="35.2" fill="#fdf0f0"/>
<rect x="1076.5" y="423.4" width="33.3" height="35.2" fill="#fdf3f3"/>
<text transform="translate(1097.1,104.3) rotate(-90)" font-size="24.5">PD1</text>
<rect x="1109.2" y="112.0" width="33.3" height="35.2" fill="#2c73b9"/>
<rect x="1109.2" y="146.6" width="33.3" height="35.2" fill="#3479be"/>
<rect x="1109.2" y="181.2" width="33.3" height="35.2" fill="#2f76ba"/>
<rect x="1109.2" y="215.8" width="33.3" height="35.2" fill="#2f76ba"/>
<rect x="1109.2" y="250.4" width="33.3" height="35.2" fill="#2a71b8"/>
<rect x="1109.2" y="285.0" width="33.3" height="35.2" fill="#d7191c"/>
<rect x="1109.2" y="319.6" width="33.3" height="35.2" fill="#d3e2ef"/>
<rect x="1109.2" y="354.2" width="33.3" height="35.2" fill="#3479be"/>
<rect x="1109.2" y="388.8" width="33.3" height="35.2" fill="#4385c4"/>
<rect x="1109.2" y="423.4" width="33.3" height="35.2" fill="#dbe6f2"/>
<text transform="translate(1129.9,104.3) rotate(-90)" font-size="24.5">CD206</text>
<rect x="1141.9" y="112.0" width="33.3" height="35.2" fill="#5d97cc"/>
<rect x="1141.9" y="146.6" width="33.3" height="35.2" fill="#4b8bc7"/>
<rect x="1141.9" y="181.2" width="33.3" height="35.2" fill="#2b72b8"/>
<rect x="1141.9" y="215.8" width="33.3" height="35.2" fill="#2b72b8"/>
<rect x="1141.9" y="250.4" width="33.3" height="35.2" fill="#4285c4"/>
<rect x="1141.9" y="285.0" width="33.3" height="35.2" fill="#d7191c"/>
<rect x="1141.9" y="319.6" width="33.3" height="35.2" fill="#e78282"/>
<rect x="1141.9" y="354.2" width="33.3" height="35.2" fill="#4d8cc7"/>
<rect x="1141.9" y="388.8" width="33.3" height="35.2" fill="#6199cd"/>
<rect x="1141.9" y="423.4" width="33.3" height="35.2" fill="#8bb3da"/>
<text transform="translate(1162.6,104.3) rotate(-90)" font-size="24.5">CD38</text>
<rect x="1174.7" y="112.0" width="33.3" height="35.2" fill="#3b80c2"/>
<rect x="1174.7" y="146.6" width="33.3" height="35.2" fill="#2a71b8"/>
<rect x="1174.7" y="181.2" width="33.3" height="35.2" fill="#f2bdbd"/>
<rect x="1174.7" y="215.8" width="33.3" height="35.2" fill="#f4c2c2"/>
<rect x="1174.7" y="250.4" width="33.3" height="35.2" fill="#4285c4"/>
<rect x="1174.7" y="285.0" width="33.3" height="35.2" fill="#d92020"/>
<rect x="1174.7" y="319.6" width="33.3" height="35.2" fill="#e78282"/>
<rect x="1174.7" y="354.2" width="33.3" height="35.2" fill="#b7d3e8"/>
<rect x="1174.7" y="388.8" width="33.3" height="35.2" fill="#e36b6b"/>
<rect x="1174.7" y="423.4" width="33.3" height="35.2" fill="#d7191c"/>
<text transform="translate(1195.3,104.3) rotate(-90)" font-size="24.5">CD11b</text>
<rect x="1207.4" y="112.0" width="33.3" height="35.2" fill="#2d74b9"/>
<rect x="1207.4" y="146.6" width="33.3" height="35.2" fill="#3379bd"/>
<rect x="1207.4" y="181.2" width="33.3" height="35.2" fill="#2c73b9"/>
<rect x="1207.4" y="215.8" width="33.3" height="35.2" fill="#4185c4"/>
<rect x="1207.4" y="250.4" width="33.3" height="35.2" fill="#3a7fc1"/>
<rect x="1207.4" y="285.0" width="33.3" height="35.2" fill="#d3e2ef"/>
<rect x="1207.4" y="319.6" width="33.3" height="35.2" fill="#df4c4c"/>
<rect x="1207.4" y="354.2" width="33.3" height="35.2" fill="#f4c2c2"/>
<rect x="1207.4" y="388.8" width="33.3" height="35.2" fill="#d7191c"/>
<rect x="1207.4" y="423.4" width="33.3" height="35.2" fill="#f9dcdc"/>
<text transform="translate(1228.0,104.3) rotate(-90)" font-size="24.5">CD11c</text>
<rect x="1240.1" y="112.0" width="33.3" height="35.2" fill="#4a8ac6"/>
<rect x="1240.1" y="146.6" width="33.3" height="35.2" fill="#fbe3e3"/>
<rect x="1240.1" y="181.2" width="33.3" height="35.2" fill="#2c73b9"/>
<rect x="1240.1" y="215.8" width="33.3" height="35.2" fill="#4d8cc7"/>
<rect x="1240.1" y="250.4" width="33.3" height="35.2" fill="#4d8cc7"/>
<rect x="1240.1" y="285.0" width="33.3" height="35.2" fill="#e36b6b"/>
<rect x="1240.1" y="319.6" width="33.3" height="35.2" fill="#df4c4c"/>
<rect x="1240.1" y="354.2" width="33.3" height="35.2" fill="#d7191c"/>
<rect x="1240.1" y="388.8" width="33.3" height="35.2" fill="#f4c5c5"/>
<rect x="1240.1" y="423.4" width="33.3" height="35.2" fill="#e78282"/>
<text transform="translate(1260.8,104.3) rotate(-90)" font-size="24.5">PDL1</text>
<rect x="1272.8" y="112.0" width="33.3" height="35.2" fill="#2d74b9"/>
<rect x="1272.8" y="146.6" width="33.3" height="35.2" fill="#2c73b9"/>
<rect x="1272.8" y="181.2" width="33.3" height="35.2" fill="#2c73b9"/>
<rect x="1272.8" y="215.8" width="33.3" height="35.2" fill="#2f76ba"/>
<rect x="1272.8" y="250.4" width="33.3" height="35.2" fill="#2a71b8"/>
<rect x="1272.8" y="285.0" width="33.3" height="35.2" fill="#5592ca"/>
<rect x="1272.8" y="319.6" width="33.3" height="35.2" fill="#d8e5f1"/>
<rect x="1272.8" y="354.2" width="33.3" height="35.2" fill="#d7191c"/>
<rect x="1272.8" y="388.8" width="33.3" height="35.2" fill="#fbe6e6"/>
<rect x="1272.8" y="423.4" width="33.3" height="35.2" fill="#7fabd6"/>
<text transform="translate(1293.5,104.3) rotate(-90)" font-size="24.5">MHCII</text>
<rect x="1305.6" y="112.0" width="33.3" height="35.2" fill="#f8dcdc"/>
<rect x="1305.6" y="146.6" width="33.3" height="35.2" fill="#d7191c"/>
<rect x="1305.6" y="181.2" width="33.3" height="35.2" fill="#2f76ba"/>
<rect x="1305.6" y="215.8" width="33.3" height="35.2" fill="#6199cd"/>
<rect x="1305.6" y="250.4" width="33.3" height="35.2" fill="#f4f6f9"/>
<rect x="1305.6" y="285.0" width="33.3" height="35.2" fill="#3f83c3"/>
<rect x="1305.6" y="319.6" width="33.3" height="35.2" fill="#a7c5e2"/>
<rect x="1305.6" y="354.2" width="33.3" height="35.2" fill="#cfdfee"/>
<rect x="1305.6" y="388.8" width="33.3" height="35.2" fill="#a0c0e0"/>
<rect x="1305.6" y="423.4" width="33.3" height="35.2" fill="#4385c4"/>
<text transform="translate(1326.2,104.3) rotate(-90)" font-size="24.5">FOXP3</text>
<rect x="1338.3" y="112.0" width="33.3" height="35.2" fill="#f7d3d3"/>
<rect x="1338.3" y="146.6" width="33.3" height="35.2" fill="#d7191c"/>
<rect x="1338.3" y="181.2" width="33.3" height="35.2" fill="#5592ca"/>
<rect x="1338.3" y="215.8" width="33.3" height="35.2" fill="#4d8cc7"/>
<rect x="1338.3" y="250.4" width="33.3" height="35.2" fill="#5592ca"/>
<rect x="1338.3" y="285.0" width="33.3" height="35.2" fill="#4a8ac6"/>
<rect x="1338.3" y="319.6" width="33.3" height="35.2" fill="#2f76ba"/>
<rect x="1338.3" y="354.2" width="33.3" height="35.2" fill="#5d97cc"/>
<rect x="1338.3" y="388.8" width="33.3" height="35.2" fill="#2a71b8"/>
<rect x="1338.3" y="423.4" width="33.3" height="35.2" fill="#4385c4"/>
<text transform="translate(1359.0,104.3) rotate(-90)" font-size="24.5">CD3</text>
<rect x="1371.0" y="112.0" width="33.3" height="35.2" fill="#a7c5e2"/>
<rect x="1371.0" y="146.6" width="33.3" height="35.2" fill="#d7191c"/>
<rect x="1371.0" y="181.2" width="33.3" height="35.2" fill="#2f76ba"/>
<rect x="1371.0" y="215.8" width="33.3" height="35.2" fill="#2a71b8"/>
<rect x="1371.0" y="250.4" width="33.3" height="35.2" fill="#6a9fd0"/>
<rect x="1371.0" y="285.0" width="33.3" height="35.2" fill="#d3e2ef"/>
<rect x="1371.0" y="319.6" width="33.3" height="35.2" fill="#fcecec"/>
<rect x="1371.0" y="354.2" width="33.3" height="35.2" fill="#fcecec"/>
<rect x="1371.0" y="388.8" width="33.3" height="35.2" fill="#a8c6e2"/>
<rect x="1371.0" y="423.4" width="33.3" height="35.2" fill="#5d97cc"/>
<text transform="translate(1391.7,104.3) rotate(-90)" font-size="24.5">CD25</text>
<rect x="1403.8" y="112.0" width="33.3" height="35.2" fill="#2a71b8"/>
<rect x="1403.8" y="146.6" width="33.3" height="35.2" fill="#6099cd"/>
<rect x="1403.8" y="181.2" width="33.3" height="35.2" fill="#7eabd6"/>
<rect x="1403.8" y="215.8" width="33.3" height="35.2" fill="#9bbfdf"/>
<rect x="1403.8" y="250.4" width="33.3" height="35.2" fill="#80acd7"/>
<rect x="1403.8" y="285.0" width="33.3" height="35.2" fill="#d7191c"/>
<rect x="1403.8" y="319.6" width="33.3" height="35.2" fill="#c0d7ea"/>
<rect x="1403.8" y="354.2" width="33.3" height="35.2" fill="#f4c0c0"/>
<rect x="1403.8" y="388.8" width="33.3" height="35.2" fill="#a4c4e1"/>
<rect x="1403.8" y="423.4" width="33.3" height="35.2" fill="#f2b5b5"/>
<text transform="translate(1424.4,104.3) rotate(-90)" font-size="24.5">CD103</text>
<rect x="1436.5" y="112.0" width="33.3" height="35.2" fill="#f2bcbc"/>
<rect x="1436.5" y="146.6" width="33.3" height="35.2" fill="#d0e1ef"/>
<rect x="1436.5" y="181.2" width="33.3" height="35.2" fill="#fcf0f0"/>
<rect x="1436.5" y="215.8" width="33.3" height="35.2" fill="#d7191c"/>
<rect x="1436.5" y="250.4" width="33.3" height="35.2" fill="#d5e3f0"/>
<rect x="1436.5" y="285.0" width="33.3" height="35.2" fill="#9fc0e0"/>
<rect x="1436.5" y="319.6" width="33.3" height="35.2" fill="#8eb6db"/>
<rect x="1436.5" y="354.2" width="33.3" height="35.2" fill="#2a71b8"/>
<rect x="1436.5" y="388.8" width="33.3" height="35.2" fill="#98bcde"/>
<rect x="1436.5" y="423.4" width="33.3" height="35.2" fill="#e6eef7"/>
<text transform="translate(1457.2,104.3) rotate(-90)" font-size="24.5">LY6C</text>
<rect x="1469.2" y="112.0" width="33.3" height="35.2" fill="#d7191c"/>
<rect x="1469.2" y="146.6" width="33.3" height="35.2" fill="#3078bb"/>
<rect x="1469.2" y="181.2" width="33.3" height="35.2" fill="#7eabd6"/>
<rect x="1469.2" y="215.8" width="33.3" height="35.2" fill="#3078bb"/>
<rect x="1469.2" y="250.4" width="33.3" height="35.2" fill="#2a71b8"/>
<rect x="1469.2" y="285.0" width="33.3" height="35.2" fill="#92b8dc"/>
<rect x="1469.2" y="319.6" width="33.3" height="35.2" fill="#6a9fd0"/>
<rect x="1469.2" y="354.2" width="33.3" height="35.2" fill="#7eabd6"/>
<rect x="1469.2" y="388.8" width="33.3" height="35.2" fill="#a7c5e2"/>
<rect x="1469.2" y="423.4" width="33.3" height="35.2" fill="#98bcde"/>
<text transform="translate(1489.9,104.3) rotate(-90)" font-size="24.5">CD8</text>
<rect x="1501.9" y="112.0" width="33.3" height="35.2" fill="#8fb6dc"/>
<rect x="1501.9" y="146.6" width="33.3" height="35.2" fill="#d7191c"/>
<rect x="1501.9" y="181.2" width="33.3" height="35.2" fill="#92b8dc"/>
<rect x="1501.9" y="215.8" width="33.3" height="35.2" fill="#92b8dc"/>
<rect x="1501.9" y="250.4" width="33.3" height="35.2" fill="#8fb6dc"/>
<rect x="1501.9" y="285.0" width="33.3" height="35.2" fill="#2a71b8"/>
<rect x="1501.9" y="319.6" width="33.3" height="35.2" fill="#84aed8"/>
<rect x="1501.9" y="354.2" width="33.3" height="35.2" fill="#89b2d9"/>
<rect x="1501.9" y="388.8" width="33.3" height="35.2" fill="#89b2d9"/>
<rect x="1501.9" y="423.4" width="33.3" height="35.2" fill="#84aed8"/>
<text transform="translate(1522.6,104.3) rotate(-90)" font-size="24.5">CD4</text>
<rect x="1534.7" y="112.0" width="33.3" height="35.2" fill="#9fc0e0"/>
<rect x="1534.7" y="146.6" width="33.3" height="35.2" fill="#6199cd"/>
<rect x="1534.7" y="181.2" width="33.3" height="35.2" fill="#92b8dc"/>
<rect x="1534.7" y="215.8" width="33.3" height="35.2" fill="#92b8dc"/>
<rect x="1534.7" y="250.4" width="33.3" height="35.2" fill="#d7191c"/>
<rect x="1534.7" y="285.0" width="33.3" height="35.2" fill="#2a71b8"/>
<rect x="1534.7" y="319.6" width="33.3" height="35.2" fill="#8fb6dc"/>
<rect x="1534.7" y="354.2" width="33.3" height="35.2" fill="#a4c4e1"/>
<rect x="1534.7" y="388.8" width="33.3" height="35.2" fill="#acc9e4"/>
<rect x="1534.7" y="423.4" width="33.3" height="35.2" fill="#b5d0e7"/>
<text transform="translate(1555.3,104.3) rotate(-90)" font-size="24.5">B220</text>
<rect x="1567.4" y="112.0" width="33.3" height="35.2" fill="#4385c4"/>
<rect x="1567.4" y="146.6" width="33.3" height="35.2" fill="#2a71b8"/>
<rect x="1567.4" y="181.2" width="33.3" height="35.2" fill="#4385c4"/>
<rect x="1567.4" y="215.8" width="33.3" height="35.2" fill="#4d8cc7"/>
<rect x="1567.4" y="250.4" width="33.3" height="35.2" fill="#d7191c"/>
<rect x="1567.4" y="285.0" width="33.3" height="35.2" fill="#3078bb"/>
<rect x="1567.4" y="319.6" width="33.3" height="35.2" fill="#4d8cc7"/>
<rect x="1567.4" y="354.2" width="33.3" height="35.2" fill="#4d8cc7"/>
<rect x="1567.4" y="388.8" width="33.3" height="35.2" fill="#4d8cc7"/>
<rect x="1567.4" y="423.4" width="33.3" height="35.2" fill="#4385c4"/>
<text transform="translate(1588.1,104.3) rotate(-90)" font-size="24.5">NK1.1</text>
<rect x="1600.1" y="112.0" width="33.3" height="35.2" fill="#4385c4"/>
<rect x="1600.1" y="146.6" width="33.3" height="35.2" fill="#3479be"/>
<rect x="1600.1" y="181.2" width="33.3" height="35.2" fill="#4385c4"/>
<rect x="1600.1" y="215.8" width="33.3" height="35.2" fill="#4385c4"/>
<rect x="1600.1" y="250.4" width="33.3" height="35.2" fill="#4385c4"/>
<rect x="1600.1" y="285.0" width="33.3" height="35.2" fill="#f2bcbc"/>
<rect x="1600.1" y="319.6" width="33.3" height="35.2" fill="#5592ca"/>
<rect x="1600.1" y="354.2" width="33.3" height="35.2" fill="#2a71b8"/>
<rect x="1600.1" y="388.8" width="33.3" height="35.2" fill="#3479be"/>
<rect x="1600.1" y="423.4" width="33.3" height="35.2" fill="#d7191c"/>
<text transform="translate(1620.8,104.3) rotate(-90)" font-size="24.5">ARG1</text>
<rect x="1632.9" y="112.0" width="33.3" height="35.2" fill="#3479be"/>
<rect x="1632.9" y="146.6" width="33.3" height="35.2" fill="#3479be"/>
<rect x="1632.9" y="181.2" width="33.3" height="35.2" fill="#d7191c"/>
<rect x="1632.9" y="215.8" width="33.3" height="35.2" fill="#4a8ac6"/>
<rect x="1632.9" y="250.4" width="33.3" height="35.2" fill="#2f76ba"/>
<rect x="1632.9" y="285.0" width="33.3" height="35.2" fill="#5d97cc"/>
<rect x="1632.9" y="319.6" width="33.3" height="35.2" fill="#3a7fc1"/>
<rect x="1632.9" y="354.2" width="33.3" height="35.2" fill="#2f76ba"/>
<rect x="1632.9" y="388.8" width="33.3" height="35.2" fill="#2a71b8"/>
<rect x="1632.9" y="423.4" width="33.3" height="35.2" fill="#4d8cc7"/>
<text transform="translate(1653.5,104.3) rotate(-90)" font-size="24.5">LY6G</text>
<rect x="1665.6" y="112.0" width="33.3" height="35.2" fill="#df4848"/>
<rect x="1665.6" y="146.6" width="33.3" height="35.2" fill="#d7191c"/>
<rect x="1665.6" y="181.2" width="33.3" height="35.2" fill="#4385c4"/>
<rect x="1665.6" y="215.8" width="33.3" height="35.2" fill="#4a8ac6"/>
<rect x="1665.6" y="250.4" width="33.3" height="35.2" fill="#3a7fc1"/>
<rect x="1665.6" y="285.0" width="33.3" height="35.2" fill="#fdf0f0"/>
<rect x="1665.6" y="319.6" width="33.3" height="35.2" fill="#b7d0e7"/>
<rect x="1665.6" y="354.2" width="33.3" height="35.2" fill="#2a71b8"/>
<rect x="1665.6" y="388.8" width="33.3" height="35.2" fill="#5d97cc"/>
<rect x="1665.6" y="423.4" width="33.3" height="35.2" fill="#6199cd"/>
<text transform="translate(1686.3,104.3) rotate(-90)" font-size="24.5">TCRb</text>
<text x="1715.0" y="142.1" font-size="25">Cluster 8</text>
<text x="1715.0" y="176.7" font-size="25">Cluster 10</text>
<text x="1715.0" y="211.3" font-size="25">Cluster 5</text>
<text x="1715.0" y="245.9" font-size="25">Cluster 6</text>
<text x="1715.0" y="280.5" font-size="25">Cluster 9</text>
<text x="1715.0" y="315.1" font-size="25">Cluster 1</text>
<text x="1715.0" y="349.7" font-size="25">Cluster 2</text>
<text x="1715.0" y="384.3" font-size="25">Cluster 4</text>
<text x="1715.0" y="418.9" font-size="25">Cluster 3</text>
<text x="1715.0" y="453.5" font-size="25">Cluster 7</text>
<linearGradient id="bwr" x1="0" x2="1" y1="0" y2="0"><stop offset="0" stop-color="#4575b4"/><stop offset="0.5" stop-color="#fbfbff"/><stop offset="1" stop-color="#c8302e"/></linearGradient>
<rect x="1740.5" y="58.3" width="83.2" height="24.0" fill="url(#bwr)"/>
<text x="1730.0" y="49.0" font-size="19.5">Low</text>
<text x="1795.5" y="49.0" font-size="19.5">High</text>
<text x="4.0" y="866.8" font-size="36">c</text>
<line x1="108.0" y1="1102.5" x2="671.0" y2="1102.5" stroke="#f0f0f0" stroke-width="1.6"/>
<line x1="108.0" y1="1059.0" x2="671.0" y2="1059.0" stroke="#f0f0f0" stroke-width="1.6"/>
<line x1="108.0" y1="1015.4" x2="671.0" y2="1015.4" stroke="#f0f0f0" stroke-width="1.6"/>
<line x1="108.0" y1="971.9" x2="671.0" y2="971.9" stroke="#f0f0f0" stroke-width="1.6"/>
<line x1="108.0" y1="928.3" x2="671.0" y2="928.3" stroke="#f0f0f0" stroke-width="1.6"/>
<line x1="108.0" y1="884.8" x2="671.0" y2="884.8" stroke="#f0f0f0" stroke-width="1.6"/>
<line x1="106.0" y1="860.6" x2="106.0" y2="1145.5" stroke="#000" stroke-width="2.2"/>
<line x1="105.0" y1="1144.6" x2="671.0" y2="1144.6" stroke="#000" stroke-width="2.6"/>
<text x="96.0" y="889.2" font-size="22" text-anchor="end">60</text>
<text x="96.0" y="978.8" font-size="22" text-anchor="end">40</text>
<text x="96.0" y="1067.0" font-size="22" text-anchor="end">20</text>
<text x="96.0" y="1155.2" font-size="22" text-anchor="end">0</text>
<text transform="translate(41.2,1012.5) rotate(-90)" font-size="30.5" text-anchor="middle">% Total</text>
<line x1="149.7" y1="1140.4" x2="149.7" y2="1145.2" stroke="#1f3fe6" stroke-width="2.2"/>
<rect x="147.1" y="1141.7" width="5.2" height="2.6" rx="1.5" fill="#1f3fe6"/>
<circle cx="136.7" cy="1141.7" r="2.9" fill="#1f3fe6"/>
<circle cx="139.9" cy="1142.6" r="2.9" fill="#1f3fe6"/>
<circle cx="143.1" cy="1143.5" r="2.9" fill="#1f3fe6"/>
<line x1="167.7" y1="1142.6" x2="167.7" y2="1146.1" stroke="#c4262b" stroke-width="2.2"/>
<rect x="165.1" y="1143.5" width="5.2" height="2.0" rx="1.5" fill="#c4262b"/>
<circle cx="155.2" cy="1143.9" r="2.9" fill="#c4262b"/>
<circle cx="158.4" cy="1144.8" r="2.9" fill="#c4262b"/>
<text transform="translate(167.8,1168.8) rotate(-45)" font-size="23.5" text-anchor="end">Cluster 1</text>
<line x1="200.6" y1="1120.4" x2="200.6" y2="1144.8" stroke="#1f3fe6" stroke-width="2.2"/>
<rect x="198.0" y="1127.8" width="5.2" height="11.8" rx="1.5" fill="#1f3fe6"/>
<circle cx="190.0" cy="1126.9" r="2.9" fill="#1f3fe6"/>
<circle cx="191.2" cy="1129.6" r="2.9" fill="#1f3fe6"/>
<circle cx="190.0" cy="1133.0" r="2.9" fill="#1f3fe6"/>
<circle cx="191.2" cy="1135.2" r="2.9" fill="#1f3fe6"/>
<circle cx="190.0" cy="1137.8" r="2.9" fill="#1f3fe6"/>
<line x1="218.6" y1="1048.1" x2="218.6" y2="1124.3" stroke="#c4262b" stroke-width="2.2"/>
<rect x="216.0" y="1082.5" width="5.2" height="17.4" rx="1.5" fill="#c4262b"/>
<circle cx="208.5" cy="1066.8" r="2.9" fill="#c4262b"/>
<circle cx="209.7" cy="1077.7" r="2.9" fill="#c4262b"/>
<circle cx="208.5" cy="1087.3" r="2.9" fill="#c4262b"/>
<circle cx="209.7" cy="1092.5" r="2.9" fill="#c4262b"/>
<circle cx="208.5" cy="1097.3" r="2.9" fill="#c4262b"/>
<circle cx="209.7" cy="1107.3" r="2.9" fill="#c4262b"/>
<text transform="translate(218.7,1168.8) rotate(-45)" font-size="23.5" text-anchor="end">Cluster 2</text>
<line x1="251.5" y1="1099.9" x2="251.5" y2="1129.1" stroke="#1f3fe6" stroke-width="2.2"/>
<rect x="248.9" y="1112.1" width="5.2" height="13.9" rx="1.5" fill="#1f3fe6"/>
<circle cx="240.9" cy="1107.3" r="2.9" fill="#1f3fe6"/>
<circle cx="242.1" cy="1114.3" r="2.9" fill="#1f3fe6"/>
<circle cx="240.9" cy="1117.8" r="2.9" fill="#1f3fe6"/>
<circle cx="242.1" cy="1120.8" r="2.9" fill="#1f3fe6"/>
<circle cx="240.9" cy="1123.0" r="2.9" fill="#1f3fe6"/>
<line x1="269.5" y1="1070.3" x2="269.5" y2="1140.0" stroke="#c4262b" stroke-width="2.2"/>
<rect x="266.9" y="1092.1" width="5.2" height="25.7" rx="1.5" fill="#c4262b"/>
<circle cx="259.4" cy="1088.6" r="2.9" fill="#c4262b"/>
<circle cx="260.6" cy="1093.4" r="2.9" fill="#c4262b"/>
<circle cx="259.4" cy="1104.7" r="2.9" fill="#c4262b"/>
<circle cx="260.6" cy="1114.3" r="2.9" fill="#c4262b"/>
<circle cx="259.4" cy="1121.7" r="2.9" fill="#c4262b"/>
<text transform="translate(269.6,1168.8) rotate(-45)" font-size="23.5" text-anchor="end">Cluster 3</text>
<line x1="302.4" y1="1132.2" x2="302.4" y2="1137.4" stroke="#1f3fe6" stroke-width="2.2"/>
<rect x="299.8" y="1133.0" width="5.2" height="3.9" rx="1.5" fill="#1f3fe6"/>
<circle cx="289.4" cy="1133.9" r="2.9" fill="#1f3fe6"/>
<circle cx="292.6" cy="1135.2" r="2.9" fill="#1f3fe6"/>
<circle cx="295.8" cy="1136.5" r="2.9" fill="#1f3fe6"/>
<line x1="320.4" y1="1133.0" x2="320.4" y2="1146.1" stroke="#c4262b" stroke-width="2.2"/>
<rect x="317.8" y="1139.6" width="5.2" height="5.2" rx="1.5" fill="#c4262b"/>
<circle cx="307.9" cy="1136.1" r="2.9" fill="#c4262b"/>
<circle cx="311.1" cy="1140.4" r="2.9" fill="#c4262b"/>
<circle cx="314.3" cy="1143.9" r="2.9" fill="#c4262b"/>
<text transform="translate(320.5,1168.8) rotate(-45)" font-size="23.5" text-anchor="end">Cluster 4</text>
<line x1="353.3" y1="981.5" x2="353.3" y2="1103.9" stroke="#1f3fe6" stroke-width="2.2"/>
<rect x="350.7" y="1031.1" width="5.2" height="23.5" rx="1.5" fill="#1f3fe6"/>
<circle cx="342.7" cy="1010.2" r="2.9" fill="#1f3fe6"/>
<circle cx="343.9" cy="1031.1" r="2.9" fill="#1f3fe6"/>
<circle cx="342.7" cy="1035.0" r="2.9" fill="#1f3fe6"/>
<circle cx="343.9" cy="1052.0" r="2.9" fill="#1f3fe6"/>
<circle cx="342.7" cy="1058.6" r="2.9" fill="#1f3fe6"/>
<circle cx="343.9" cy="1075.5" r="2.9" fill="#1f3fe6"/>
<line x1="371.3" y1="930.5" x2="371.3" y2="1063.8" stroke="#c4262b" stroke-width="2.2"/>
<rect x="368.7" y="990.2" width="5.2" height="33.5" rx="1.5" fill="#c4262b"/>
<circle cx="361.2" cy="963.2" r="2.9" fill="#c4262b"/>
<circle cx="362.4" cy="981.5" r="2.9" fill="#c4262b"/>
<circle cx="361.2" cy="998.0" r="2.9" fill="#c4262b"/>
<circle cx="362.4" cy="1003.3" r="2.9" fill="#c4262b"/>
<circle cx="361.2" cy="1019.8" r="2.9" fill="#c4262b"/>
<circle cx="362.4" cy="1027.2" r="2.9" fill="#c4262b"/>
<text transform="translate(371.4,1168.8) rotate(-45)" font-size="23.5" text-anchor="end">Cluster 5</text>
<line x1="404.2" y1="869.6" x2="404.2" y2="1053.3" stroke="#1f3fe6" stroke-width="2.2"/>
<rect x="401.6" y="936.6" width="5.2" height="64.5" rx="1.5" fill="#1f3fe6"/>
<circle cx="393.6" cy="919.2" r="2.9" fill="#1f3fe6"/>
<circle cx="394.8" cy="934.0" r="2.9" fill="#1f3fe6"/>
<circle cx="393.6" cy="947.9" r="2.9" fill="#1f3fe6"/>
<circle cx="394.8" cy="975.8" r="2.9" fill="#1f3fe6"/>
<circle cx="393.6" cy="997.2" r="2.9" fill="#1f3fe6"/>
<circle cx="394.8" cy="1003.7" r="2.9" fill="#1f3fe6"/>
<line x1="422.2" y1="1014.1" x2="422.2" y2="1091.2" stroke="#c4262b" stroke-width="2.2"/>
<rect x="419.6" y="1036.4" width="5.2" height="19.2" rx="1.5" fill="#c4262b"/>
<circle cx="412.1" cy="1033.7" r="2.9" fill="#c4262b"/>
<circle cx="413.3" cy="1039.0" r="2.9" fill="#c4262b"/>
<circle cx="412.1" cy="1046.8" r="2.9" fill="#c4262b"/>
<circle cx="413.3" cy="1061.2" r="2.9" fill="#c4262b"/>
<circle cx="412.1" cy="1072.5" r="2.9" fill="#c4262b"/>
<text transform="translate(422.3,1168.8) rotate(-45)" font-size="23.5" text-anchor="end">Cluster 6</text>
<line x1="455.1" y1="1141.7" x2="455.1" y2="1145.2" stroke="#1f3fe6" stroke-width="2.2"/>
<rect x="452.5" y="1142.6" width="5.2" height="2.2" rx="1.5" fill="#1f3fe6"/>
<circle cx="442.1" cy="1143.1" r="2.9" fill="#1f3fe6"/>
<circle cx="445.3" cy="1143.5" r="2.9" fill="#1f3fe6"/>
<circle cx="448.5" cy="1143.9" r="2.9" fill="#1f3fe6"/>
<line x1="473.1" y1="1143.5" x2="473.1" y2="1146.1" stroke="#c4262b" stroke-width="2.2"/>
<rect x="470.5" y="1144.4" width="5.2" height="2.0" rx="1.5" fill="#c4262b"/>
<circle cx="460.6" cy="1144.4" r="2.9" fill="#c4262b"/>
<circle cx="463.8" cy="1145.2" r="2.9" fill="#c4262b"/>
<text transform="translate(473.2,1168.8) rotate(-45)" font-size="23.5" text-anchor="end">Cluster 7</text>
<line x1="506.0" y1="1094.3" x2="506.0" y2="1139.1" stroke="#1f3fe6" stroke-width="2.2"/>
<rect x="503.4" y="1112.1" width="5.2" height="10.0" rx="1.5" fill="#1f3fe6"/>
<circle cx="495.4" cy="1103.9" r="2.9" fill="#1f3fe6"/>
<circle cx="496.6" cy="1112.1" r="2.9" fill="#1f3fe6"/>
<circle cx="495.4" cy="1118.2" r="2.9" fill="#1f3fe6"/>
<circle cx="496.6" cy="1123.5" r="2.9" fill="#1f3fe6"/>
<circle cx="495.4" cy="1129.6" r="2.9" fill="#1f3fe6"/>
<line x1="524.0" y1="1059.9" x2="524.0" y2="1133.9" stroke="#c4262b" stroke-width="2.2"/>
<rect x="521.4" y="1093.8" width="5.2" height="15.2" rx="1.5" fill="#c4262b"/>
<circle cx="513.9" cy="1078.2" r="2.9" fill="#c4262b"/>
<circle cx="515.1" cy="1087.3" r="2.9" fill="#c4262b"/>
<circle cx="513.9" cy="1099.1" r="2.9" fill="#c4262b"/>
<circle cx="515.1" cy="1106.5" r="2.9" fill="#c4262b"/>
<circle cx="513.9" cy="1114.7" r="2.9" fill="#c4262b"/>
<text transform="translate(524.1,1168.8) rotate(-45)" font-size="23.5" text-anchor="end">Cluster 8</text>
<line x1="556.9" y1="1071.6" x2="556.9" y2="1122.1" stroke="#1f3fe6" stroke-width="2.2"/>
<rect x="554.3" y="1087.3" width="5.2" height="15.2" rx="1.5" fill="#1f3fe6"/>
<circle cx="546.3" cy="1083.0" r="2.9" fill="#1f3fe6"/>
<circle cx="547.5" cy="1086.4" r="2.9" fill="#1f3fe6"/>
<circle cx="546.3" cy="1090.4" r="2.9" fill="#1f3fe6"/>
<circle cx="547.5" cy="1102.5" r="2.9" fill="#1f3fe6"/>
<circle cx="546.3" cy="1109.5" r="2.9" fill="#1f3fe6"/>
<line x1="574.9" y1="1087.3" x2="574.9" y2="1128.7" stroke="#c4262b" stroke-width="2.2"/>
<rect x="572.3" y="1101.2" width="5.2" height="10.0" rx="1.5" fill="#c4262b"/>
<circle cx="564.8" cy="1098.2" r="2.9" fill="#c4262b"/>
<circle cx="566.0" cy="1102.5" r="2.9" fill="#c4262b"/>
<circle cx="564.8" cy="1108.6" r="2.9" fill="#c4262b"/>
<circle cx="566.0" cy="1118.2" r="2.9" fill="#c4262b"/>
<text transform="translate(575.0,1168.8) rotate(-45)" font-size="23.5" text-anchor="end">Cluster 9</text>
<line x1="607.8" y1="1114.7" x2="607.8" y2="1140.4" stroke="#1f3fe6" stroke-width="2.2"/>
<rect x="605.2" y="1122.6" width="5.2" height="10.5" rx="1.5" fill="#1f3fe6"/>
<circle cx="597.2" cy="1120.8" r="2.9" fill="#1f3fe6"/>
<circle cx="598.4" cy="1127.4" r="2.9" fill="#1f3fe6"/>
<circle cx="597.2" cy="1133.9" r="2.9" fill="#1f3fe6"/>
<line x1="625.8" y1="1122.6" x2="625.8" y2="1141.7" stroke="#c4262b" stroke-width="2.2"/>
<rect x="623.2" y="1130.9" width="5.2" height="7.0" rx="1.5" fill="#c4262b"/>
<circle cx="615.7" cy="1126.1" r="2.9" fill="#c4262b"/>
<circle cx="616.9" cy="1132.6" r="2.9" fill="#c4262b"/>
<circle cx="615.7" cy="1137.8" r="2.9" fill="#c4262b"/>
<text transform="translate(625.9,1168.8) rotate(-45)" font-size="23.5" text-anchor="end">Cluster 10</text>
<rect x="694.6" y="881.9" width="14" height="14.2" fill="#7688fa" stroke="#2038e8" stroke-width="2"/>
<rect x="694.6" y="909.9" width="14" height="13.6" fill="#ee8a8a" stroke="#c02a30" stroke-width="2"/>
<text x="717.3" y="897.0" font-size="26" font-weight="normal" fill="#0c14d0" color="#0c14d0" style="stroke-width:0.9px">Y+</text>
<text x="717.3" y="924.4" font-size="26" font-weight="normal" fill="#c0081c" color="#c0081c" style="stroke-width:0.9px">Y-</text>
<text x="803.0" y="837.5" font-size="36">d</text>
<line x1="953.0" y1="1112.7" x2="1108.0" y2="1112.7" stroke="#efefef" stroke-width="1.5"/>
<line x1="953.0" y1="1059.5" x2="1108.0" y2="1059.5" stroke="#efefef" stroke-width="1.5"/>
<line x1="953.0" y1="1006.2" x2="1108.0" y2="1006.2" stroke="#efefef" stroke-width="1.5"/>
<line x1="953.0" y1="953.0" x2="1108.0" y2="953.0" stroke="#efefef" stroke-width="1.5"/>
<line x1="953.0" y1="899.7" x2="1108.0" y2="899.7" stroke="#efefef" stroke-width="1.5"/>
<line x1="953.0" y1="846.5" x2="1108.0" y2="846.5" stroke="#efefef" stroke-width="1.5"/>
<line x1="951.0" y1="843.9" x2="951.0" y2="1145.3" stroke="#000" stroke-width="2.2"/>
<line x1="950.0" y1="1144.3" x2="1108.0" y2="1144.3" stroke="#000" stroke-width="2.2"/>
<line x1="996.4" y1="1144.3" x2="996.4" y2="1149.5" stroke="#000" stroke-width="2"/>
<line x1="1069.0" y1="1144.3" x2="1069.0" y2="1149.5" stroke="#000" stroke-width="2"/>
<text x="946.0" y="1123.2" font-size="23" text-anchor="end">0.4</text>
<text x="946.0" y="1070.0" font-size="23" text-anchor="end">0.6</text>
<text x="946.0" y="1016.7" font-size="23" text-anchor="end">0.8</text>
<text x="946.0" y="963.5" font-size="23" text-anchor="end">1.0</text>
<text x="946.0" y="910.2" font-size="23" text-anchor="end">1.2</text>
<text x="946.0" y="857.0" font-size="23" text-anchor="end">1.4</text>
<text transform="translate(842.7,991.0) rotate(-90)" font-size="30.5" text-anchor="middle">Mean</text>
<text transform="translate(879.8,991.0) rotate(-90)" font-size="30.5" text-anchor="middle">fluorescence intensity</text>
<path d="M984.9,846.5 985.7,873.1 986.5,899.7 987.5,926.3 988.5,953.0 989.3,979.6 989.5,1006.2 988.7,1032.8 987.3,1059.5 986.1,1086.1 984.9,1118.0 984.9,1118.0 983.7,1086.1 982.5,1059.5 981.1,1032.8 980.3,1006.2 980.5,979.6 981.3,953.0 982.3,926.3 983.3,899.7 984.1,873.1 984.9,846.5Z" fill="#2a48f0" fill-opacity="1.0" stroke="#1f3fe6" stroke-width="1.8" stroke-linejoin="round"/>
<line x1="984.9" y1="974.2" x2="984.9" y2="1054.1" stroke="#8ea2f4" stroke-width="1.5"/>
<path d="M1010.0,910.4 1011.5,926.3 1013.0,939.6 1015.2,966.3 1016.0,992.9 1015.6,1019.5 1014.2,1046.1 1012.6,1072.8 1011.2,1099.4 1010.0,1126.0 1010.0,1126.0 1008.8,1099.4 1007.4,1072.8 1005.8,1046.1 1004.4,1019.5 1004.0,992.9 1004.8,966.3 1007.0,939.6 1008.5,926.3 1010.0,910.4Z" fill="#e89090" fill-opacity="1.0" stroke="#c4262b" stroke-width="1.8" stroke-linejoin="round"/>
<rect x="1008.3" y="976.9" width="3.4" height="61.2" fill="#c4262b"/>
<line x1="1010.0" y1="966.3" x2="1010.0" y2="1067.4" stroke="#c4262b" stroke-width="1.2"/>
<path d="M1056.0,1019.5 1058.5,1032.8 1061.2,1046.1 1064.0,1059.5 1065.5,1072.8 1065.0,1086.1 1063.0,1099.4 1060.2,1112.7 1057.5,1126.0 1056.0,1131.3 1056.0,1131.3 1054.5,1126.0 1051.8,1112.7 1049.0,1099.4 1047.0,1086.1 1046.5,1072.8 1048.0,1059.5 1050.8,1046.1 1053.5,1032.8 1056.0,1019.5Z" fill="#8ea2f4" fill-opacity="1.0" stroke="#1f3fe6" stroke-width="1.8" stroke-linejoin="round"/>
<rect x="1052.5" y="1059.5" width="7" height="34.6" fill="#6f88f0" stroke="#1f3fe6" stroke-width="1.4"/>
<line x1="1056.0" y1="1048.8" x2="1056.0" y2="1102.0" stroke="#1f3fe6" stroke-width="1.4"/>
<path d="M1080.4,971.6 1082.9,984.9 1085.4,1000.9 1088.4,1016.9 1089.9,1027.5 1088.9,1043.5 1086.4,1059.5 1083.9,1072.8 1081.9,1086.1 1080.4,1094.1 1080.4,1094.1 1078.9,1086.1 1076.9,1072.8 1074.4,1059.5 1071.9,1043.5 1070.9,1027.5 1072.4,1016.9 1075.4,1000.9 1077.9,984.9 1080.4,971.6Z" fill="#eba0a0" fill-opacity="1.0" stroke="#c4262b" stroke-width="1.8" stroke-linejoin="round"/>
<rect x="1076.9" y="1014.2" width="7" height="34.6" fill="#e07878" stroke="#c4262b" stroke-width="1.4"/>
<line x1="1080.4" y1="1003.5" x2="1080.4" y2="1059.5" stroke="#c4262b" stroke-width="1.4"/>
<circle cx="971.5" cy="913.0" r="2.8" fill="#1f3fe6"/>
<circle cx="972.5" cy="971.6" r="2.8" fill="#1f3fe6"/>
<circle cx="971.5" cy="987.6" r="2.8" fill="#1f3fe6"/>
<circle cx="972.5" cy="998.2" r="2.8" fill="#1f3fe6"/>
<circle cx="971.5" cy="1022.2" r="2.8" fill="#1f3fe6"/>
<circle cx="972.5" cy="1040.8" r="2.8" fill="#1f3fe6"/>
<circle cx="971.5" cy="1054.1" r="2.8" fill="#1f3fe6"/>
<circle cx="996.5" cy="963.6" r="2.8" fill="#c4262b"/>
<circle cx="997.5" cy="974.2" r="2.8" fill="#c4262b"/>
<circle cx="996.5" cy="979.6" r="2.8" fill="#c4262b"/>
<circle cx="997.5" cy="987.6" r="2.8" fill="#c4262b"/>
<circle cx="996.5" cy="1014.2" r="2.8" fill="#c4262b"/>
<circle cx="997.5" cy="1035.5" r="2.8" fill="#c4262b"/>
<circle cx="996.5" cy="1043.5" r="2.8" fill="#c4262b"/>
<circle cx="997.5" cy="1072.8" r="2.8" fill="#c4262b"/>
<circle cx="1040.5" cy="1048.8" r="2.8" fill="#1f3fe6"/>
<circle cx="1041.5" cy="1059.5" r="2.8" fill="#1f3fe6"/>
<circle cx="1040.5" cy="1070.1" r="2.8" fill="#1f3fe6"/>
<circle cx="1041.5" cy="1078.1" r="2.8" fill="#1f3fe6"/>
<circle cx="1040.5" cy="1100.7" r="2.8" fill="#1f3fe6"/>
<circle cx="1041.5" cy="1103.4" r="2.8" fill="#1f3fe6"/>
<circle cx="1067.3" cy="1000.9" r="2.8" fill="#c4262b"/>
<circle cx="1068.3" cy="1008.9" r="2.8" fill="#c4262b"/>
<circle cx="1067.3" cy="1024.8" r="2.8" fill="#c4262b"/>
<circle cx="1068.3" cy="1030.2" r="2.8" fill="#c4262b"/>
<circle cx="1067.3" cy="1038.2" r="2.8" fill="#c4262b"/>
<circle cx="1068.3" cy="1059.5" r="2.8" fill="#c4262b"/>
<circle cx="1045" cy="1059.5" r="2.8" fill="#1f3fe6"/>
<path d="M1048.5,848 V837.5 H1082.4 V848" fill="none" stroke="#000" stroke-width="2"/>
<text x="1020.8" y="820.3" font-size="20.5"><tspan font-style="italic">P</tspan> = 0.0009</text>
<text transform="translate(1008.0,1171.0) rotate(-45)" font-size="23.5" text-anchor="end">PD-1</text>
<text transform="translate(1080.0,1171.0) rotate(-45)" font-size="23.5" text-anchor="end">PD-L1</text>
<rect x="1123.8" y="847.3" width="13.5" height="13.2" fill="#7688fa" stroke="#2038e8" stroke-width="2"/>
<rect x="1123.8" y="875" width="13.5" height="13.2" fill="#ee8a8a" stroke="#c02a30" stroke-width="2"/>
<text x="1146.5" y="861.8" font-size="26" font-weight="normal" fill="#0c14d0" color="#0c14d0" style="stroke-width:0.9px">Y+</text>
<text x="1146.5" y="889.8" font-size="26" font-weight="normal" fill="#c0081c" color="#c0081c" style="stroke-width:0.9px">Y-</text>
<text x="4.0" y="1333.8" font-size="36">e</text>
<text x="222.9" y="1344.7" font-size="33.5" text-anchor="middle">CRISPR-Y-Scr</text>
<text x="559.2" y="1344.0" font-size="33.5" text-anchor="middle">CRISPR-Y-KO</text>
<path d="M218 1424.5h0M166 1392.5h0M265 1458.5h0M304 1496.5h0M212.5 1397.5h0M167 1595h0M110 1498h0M230 1413.5h0M324 1568.5h0M277 1476h0M251 1397.5h0M289 1456h0M332 1514h0M308 1391h0M196.5 1392.5h0M156.5 1395h0M265 1620h0M330 1473h0M224.5 1607.5h0M237.5 1433h0M183 1431h0M104.5 1461.5h0M291 1468.5h0M107 1410.5h0M159 1500h0M337 1439h0M229 1492.5h0M190 1452.5h0M352.5 1546.5h0M259 1603.5h0M293.5 1443.5h0M225 1473h0M283.5 1480.5h0M182 1592h0M330 1450h0M282.5 1588.5h0M280.5 1508.5h0M211 1489.5h0M183 1469.5h0M340.5 1511.5h0M194 1386h0M190.5 1464.5h0M238.5 1598.5h0M196 1463.5h0M170 1503h0M188.5 1596.5h0M131 1377.5h0M211 1483.5h0M348 1542h0M261 1595h0M228 1444h0M231.5 1467.5h0M329.5 1588.5h0M110 1421h0M341.5 1543h0M159 1587h0M194.5 1593h0M243.5 1466h0M327.5 1590.5h0M221 1499.5h0M130 1386h0M197 1598h0M331 1542h0M202.5 1441h0M113 1397h0M262 1447h0M208.5 1467h0M134 1386h0M249.5 1447h0M244.5 1456.5h0M189.5 1501.5h0M118 1621.5h0M219 1461h0M247.5 1442.5h0M302.5 1516h0M106.5 1421h0M225 1457.5h0M212.5 1498h0M145 1621h0M109.5 1539.5h0M185 1510h0M208.5 1465.5h0M231 1459.5h0M185 1506h0M224 1464h0M242 1442.5h0M205.5 1448h0M246 1457h0M166.5 1516h0M328 1553h0M299.5 1516h0M305 1574.5h0M235.5 1452h0M176.5 1511h0M242.5 1502h0M161.5 1574.5h0M254.5 1501h0M112.5 1586h0M155 1447.5h0M254 1591.5h0M234 1447.5h0M261 1447.5h0M205.5 1501.5h0M295.5 1579h0M220 1498.5h0M157 1582.5h0M112.5 1451h0M219 1446h0M211 1446.5h0M140.5 1394.5h0M289 1581h0M149.5 1421.5h0M137 1391h0M212.5 1504h0M237 1451.5h0M154.5 1435h0M214.5 1454h0M242.5 1506h0M290.5 1579.5h0M243.5 1591.5h0M254.5 1503h0M264 1585.5h0M155 1512.5h0M139.5 1400.5h0M135 1393.5h0M323.5 1526.5h0M212.5 1453h0M217 1445h0M130 1395.5h0M119 1412h0M311.5 1560.5h0M205.5 1505h0M295 1573.5h0M315 1562h0M111 1552.5h0M155.5 1527.5h0M167.5 1521h0M141.5 1408h0M173.5 1517.5h0M165 1527h0M142.5 1403h0M264 1508.5h0M264.5 1585h0M120.5 1399h0M187.5 1584.5h0M170 1579h0M312 1564.5h0M294.5 1571h0M155.5 1476h0M252 1507.5h0M322 1530h0M113.5 1473.5h0M125.5 1400h0M289.5 1521.5h0M318 1553.5h0M197.5 1509.5h0M122.5 1401.5h0M179 1579h0M313.5 1533h0M167.5 1578h0M160.5 1569h0M135.5 1398.5h0M325.5 1530.5h0M210 1589.5h0M314.5 1552.5h0M211.5 1450h0M322 1542h0M322.5 1551.5h0M122 1401.5h0M303.5 1571h0M171 1520h0M251 1586.5h0M151 1497.5h0M316.5 1532.5h0M317.5 1541.5h0M319.5 1544.5h0M184 1518.5h0M156 1527h0M323 1533.5h0M250 1587h0M163.5 1574h0M313 1564h0M127.5 1625h0M113.5 1469h0M133 1399h0M277.5 1516.5h0M180 1518h0M124.5 1398h0M310 1536h0M214 1448.5h0M122 1409h0M304 1567h0M117.5 1593.5h0M325 1532.5h0M204 1508.5h0M153.5 1516.5h0M173 1577.5h0M296 1567.5h0M246.5 1507h0M124.5 1403h0M207.5 1589.5h0M125.5 1411.5h0M324.5 1547.5h0M321 1550h0M126 1621h0M274.5 1583h0M326 1535h0M132.5 1624.5h0M153.5 1472h0M305 1566.5h0M171.5 1572.5h0M180 1517.5h0M318 1546.5h0M290.5 1569h0M172.5 1524h0M317 1536.5h0M154.5 1522.5h0M117 1499.5h0M280 1582.5h0M304 1569.5h0M118 1489.5h0M216 1509h0M210 1589.5h0M199 1582.5h0M284.5 1577.5h0M208.5 1510h0M238.5 1587.5h0M154 1462.5h0M287.5 1521.5h0M196 1582h0M173 1575.5h0M114.5 1561.5h0M154.5 1526h0M143.5 1417h0M309 1557h0M128 1621h0M308.5 1546.5h0M295.5 1562.5h0M121 1615h0M152 1510h0M297.5 1529h0M274.5 1581h0M273.5 1517h0M205 1583h0M123 1414.5h0M306.5 1556.5h0M209 1586.5h0M172.5 1570.5h0M246.5 1512h0M123.5 1413.5h0M153 1459.5h0M134.5 1623h0M311 1542.5h0M310 1539h0M310.5 1553.5h0M287 1572h0M218.5 1509.5h0M120 1526h0M282.5 1521.5h0M153 1458h0M289 1524h0M191.5 1514.5h0M299.5 1535h0M151 1516h0M267 1515h0M254 1509h0M187.5 1583.5h0M137.5 1621h0M303 1540h0M149 1509.5h0M295 1526h0M244.5 1586h0M310 1540h0M305.5 1564.5h0M189 1581h0M150.5 1585h0M131 1621h0M121 1518h0M318.5 1546h0M241 1585.5h0M228 1588h0M313.5 1556.5h0M302 1558h0M198.5 1513h0M300.5 1532.5h0M302 1563.5h0M277 1577h0M165 1530.5h0M188 1520h0M216 1583h0M176 1523.5h0M126.5 1618.5h0M138 1408h0M275.5 1519.5h0M150 1519h0M151 1468h0M149 1585.5h0M293 1525h0M116 1444.5h0M304.5 1541.5h0M132 1407h0M116 1539.5h0M306.5 1558h0M275 1578.5h0M286 1568.5h0M298.5 1556.5h0M131.5 1406.5h0M277.5 1574.5h0M231 1583h0M148.5 1593.5h0M184.5 1521h0M151.5 1574.5h0M150 1439.5h0M121 1516.5h0M152.5 1471.5h0M173.5 1526h0M123 1618h0M224.5 1510h0M151 1517.5h0M136 1409h0M284 1524h0M135 1408.5h0M307 1541.5h0M300.5 1553h0M270 1581h0M295.5 1529.5h0M172 1568.5h0M229 1507h0M116 1543.5h0M129.5 1411.5h0M119.5 1586h0M227 1510h0M219 1585.5h0M208.5 1512.5h0M149 1516h0M299 1542.5h0M300 1560.5h0M147 1505h0M116 1461.5h0M299 1551.5h0M295 1557h0M170.5 1529.5h0M151.5 1474h0M123.5 1420.5h0M233 1509h0M185.5 1521h0M204.5 1581.5h0M203 1578.5h0M291 1535.5h0M248.5 1583h0M305 1555.5h0M299.5 1541.5h0M243.5 1583.5h0M259.5 1513.5h0M149 1437h0M119 1497h0M204.5 1581.5h0M302.5 1550.5h0M136 1410h0M305 1549h0M238 1512h0M301 1541h0M276.5 1575.5h0M150.5 1576.5h0M191 1518.5h0M222.5 1585h0M296 1536h0M268.5 1581h0M192 1579h0M222.5 1585h0M216.5 1586h0M305 1546.5h0M290.5 1561.5h0M270 1519h0M121.5 1425h0M213.5 1513h0M173 1530h0M195 1515.5h0M230 1510h0M147 1428.5h0M184.5 1579h0M293.5 1530.5h0M303.5 1546h0M271 1578h0M283.5 1527h0M130.5 1414.5h0M262.5 1512.5h0M229 1509.5h0M195 1515.5h0M301.5 1550.5h0M118.5 1580.5h0M142 1420.5h0M283 1529.5h0M147.5 1432h0M139 1617.5h0M186.5 1575h0M153 1534.5h0M293.5 1537.5h0M190.5 1575h0M254.5 1514h0M232 1586h0M305.5 1546h0M149.5 1456h0M294 1554h0M145.5 1425.5h0M221 1513.5h0M243.5 1512.5h0M117.5 1454.5h0M289.5 1563.5h0M269.5 1518h0M147 1502.5h0M181.5 1571h0M253.5 1579h0M253 1513h0M293 1559h0M150 1534h0M205 1515.5h0M294.5 1558.5h0M220 1512.5h0M293 1529.5h0M252 1513.5h0M261 1519.5h0M143 1420h0M161.5 1536h0M120.5 1434.5h0M233.5 1511.5h0M294 1555h0M226.5 1586h0M152 1460.5h0M210 1518h0M255.5 1580.5h0M245 1581.5h0M279 1525.5h0M269.5 1522h0M115.5 1560h0M221 1514.5h0M123 1524h0M224.5 1514.5h0M222 1516h0M121.5 1505h0M132.5 1414h0M145 1599h0M151.5 1533h0M191 1523.5h0M149.5 1520h0M186.5 1578h0M280.5 1525.5h0M202.5 1580h0M176.5 1529.5h0M248.5 1516h0M295.5 1529h0M290.5 1564.5h0M255.5 1513.5h0M230.5 1514h0M141.5 1419.5h0M149 1450.5h0M241.5 1584h0M189 1523.5h0M125.5 1516.5h0M146 1513.5h0M117 1447.5h0M282 1527.5h0M292.5 1532.5h0M297 1547h0M163.5 1538h0M189.5 1574.5h0M161.5 1537.5h0M234.5 1512h0M119 1441h0M143.5 1610h0M188 1577h0M184.5 1575h0M157 1539h0M217.5 1512.5h0M117.5 1441h0M275 1524.5h0M118.5 1574h0M297 1545.5h0M291.5 1532.5h0M291 1537.5h0M181.5 1528h0M259 1514h0M270 1519.5h0M187 1575.5h0M260 1579h0M196.5 1517.5h0M228.5 1584h0M147 1517h0M281 1572h0M200.5 1517h0M182.5 1573h0M146.5 1505.5h0M291 1530.5h0M125.5 1420.5h0M276.5 1569.5h0M285 1531h0M140 1615.5h0M292 1552h0M265 1570.5h0M228.5 1580.5h0M205.5 1515.5h0M147.5 1433.5h0M120 1534.5h0M196 1518h0M287 1531h0M294.5 1545h0M274.5 1570.5h0M199.5 1519h0M262.5 1579.5h0M152 1573.5h0M290 1554.5h0M287 1530h0M124.5 1508h0M134 1618h0M122 1429.5h0M185.5 1525h0M217 1516h0M145 1431h0M291.5 1541.5h0M157 1539h0M144.5 1522.5h0M289 1559.5h0M118.5 1561.5h0M120.5 1584.5h0M193 1576h0M219 1582h0M143.5 1515h0M286.5 1562.5h0M260 1515h0M285.5 1567.5h0M125 1614h0M291 1536h0M119 1444.5h0M142.5 1510h0M145 1592h0M188.5 1525.5h0M282 1568.5h0M250.5 1580h0M120.5 1577h0M272 1575.5h0M152 1570.5h0M117 1572.5h0M209 1579h0M178 1529h0M254 1580h0M148 1450h0M261.5 1521h0M147.5 1493h0M121.5 1597.5h0M266.5 1576.5h0M286 1561.5h0M117 1454.5h0M145 1601h0M150.5 1467h0M263 1577.5h0M187 1571.5h0M297.5 1544.5h0M213.5 1517h0M174.5 1529.5h0M166 1538h0M135 1615h0M296 1546h0M258 1515h0M295 1546.5h0M134 1617h0M227.5 1580.5h0M144.5 1608.5h0M261 1579h0M119.5 1483.5h0M265.5 1520.5h0M166 1564.5h0M246 1515.5h0M290.5 1534.5h0M125.5 1521h0M146 1430h0M133.5 1617h0M270.5 1578h0M282.5 1568.5h0M187.5 1573.5h0M204 1517.5h0M272.5 1573.5h0M263 1578h0M178.5 1567.5h0M117 1572h0M186 1527.5h0M121 1431.5h0M282.5 1569.5h0M142 1513.5h0M144 1428h0M269 1574h0M163.5 1565.5h0M174 1536h0M196 1573h0M181.5 1567.5h0M224 1584h0M117.5 1539.5h0M141 1422h0M291.5 1547h0M119.5 1481.5h0M139.5 1419.5h0M277 1570h0M255.5 1517.5h0M150 1459h0M140 1612.5h0M225 1582.5h0M274 1569.5h0M188.5 1528h0M222.5 1581.5h0M186.5 1566.5h0M183 1569h0M163 1538h0M247.5 1579.5h0M244.5 1516.5h0M186 1566.5h0M145 1587h0M192.5 1573h0M279 1566.5h0M186 1532h0M142.5 1427h0M285.5 1531.5h0M124.5 1426h0M118 1561h0M177.5 1530.5h0M122.5 1597.5h0M277 1529h0M221.5 1516h0M119.5 1574h0M269 1523h0M236 1517.5h0M281 1568h0M138 1514.5h0M161 1538h0M144.5 1441h0M238 1516h0M183.5 1533.5h0M261 1576.5h0M227.5 1582h0M240.5 1516.5h0M206.5 1519h0M230.5 1583h0M121 1598h0M178 1530.5h0M129 1420h0M121 1599h0M122.5 1531h0M122 1604.5h0M281 1564.5h0M147 1526.5h0M136.5 1416.5h0M129 1416.5h0M125.5 1519.5h0M118 1558h0M117.5 1549.5h0M171.5 1565.5h0M268.5 1522.5h0M255.5 1577.5h0M151.5 1569h0M253.5 1519.5h0M145 1501.5h0M266.5 1574h0M118.5 1546h0M135.5 1417h0M183.5 1570.5h0M286 1558.5h0M284 1532.5h0M234 1580.5h0M147.5 1530.5h0M118 1466.5h0M141 1511h0M249 1517.5h0M149.5 1474h0M137.5 1615h0M121 1531h0M126 1511h0M183.5 1534h0M250 1519.5h0M286.5 1539.5h0M135 1416.5h0M137 1615h0M286.5 1534.5h0M232.5 1513.5h0M294 1546h0M121.5 1435.5h0M285 1552.5h0M129.5 1512h0M127.5 1613.5h0M213 1577h0M120.5 1535.5h0M117.5 1554.5h0M182 1533.5h0M240.5 1578.5h0M268.5 1526.5h0M273.5 1568.5h0M166 1536.5h0M184 1530h0M136 1415h0M256.5 1517h0M190.5 1571h0M124.5 1513.5h0M259 1577.5h0M278 1567h0M155 1540.5h0M127 1516.5h0M267 1571.5h0M259 1574.5h0M145 1579.5h0M142.5 1609.5h0M280 1528.5h0M152 1565h0M266 1570.5h0M237.5 1580.5h0M183 1570.5h0M126 1523.5h0M145 1526h0M140.5 1517h0M273.5 1527.5h0M143.5 1519h0M283 1537.5h0M288 1556h0M146 1498h0M143.5 1580.5h0M123 1501h0M164 1565.5h0M198.5 1519h0M236 1515h0M135 1418.5h0M132 1419.5h0M130.5 1418.5h0M124 1529h0M128 1518.5h0M207.5 1519.5h0M146.5 1582.5h0M293.5 1547.5h0M145 1524h0M124.5 1582h0M286.5 1558.5h0M254 1575h0M123.5 1600h0M135 1417.5h0M174 1534.5h0M279 1531.5h0M214 1577h0M206.5 1574.5h0M253 1576h0M287.5 1559.5h0M290 1537.5h0M191 1571.5h0M257.5 1574.5h0M143.5 1520h0M176.5 1564.5h0M255.5 1576.5h0M192.5 1568h0M267.5 1525.5h0M199.5 1520.5h0M145.5 1571h0M281 1559h0M136 1514h0M223 1516.5h0M166 1539.5h0M128 1610.5h0M159.5 1564h0M206.5 1520.5h0M141.5 1511.5h0M119 1464.5h0M257.5 1517h0M265 1524h0M245.5 1578h0M290 1543.5h0M286.5 1541h0M269.5 1573h0M278.5 1534.5h0M122 1432h0M162 1542h0M218 1520h0M128.5 1423h0M239 1515.5h0M143.5 1527h0M282.5 1568h0M209 1577h0M194.5 1520.5h0M154.5 1542.5h0M157 1563.5h0M289 1543h0M149.5 1571.5h0M196 1523.5h0M141 1514h0M177.5 1530.5h0M130.5 1421.5h0M205 1522h0M151 1566h0M286.5 1538h0M264 1523h0M123.5 1502h0M139.5 1613.5h0M118.5 1472h0M131 1417.5h0M199 1574h0M265 1526h0M243 1577h0M150.5 1572h0M276.5 1531h0M176.5 1565.5h0M262 1521h0M282 1540h0M144 1505h0M125.5 1503h0M145 1440h0M273.5 1567h0M246.5 1578h0M125.5 1525.5h0M292 1547.5h0M131.5 1613.5h0M161 1539h0M287 1543.5h0M122 1573.5h0M140 1423.5h0M123 1429.5h0M289 1548.5h0M145.5 1445h0M143 1430.5h0M141.5 1428.5h0M135 1418.5h0M143.5 1504h0M289 1544.5h0M118.5 1455.5h0M209 1519h0M119 1472h0M124 1600.5h0M126 1430h0M192.5 1571.5h0M156 1561.5h0M256.5 1572.5h0M154.5 1543.5h0M178.5 1562.5h0M204.5 1523.5h0M142 1430.5h0M289 1548.5h0M286.5 1535h0M147.5 1479h0M151.5 1565.5h0M268 1573h0M254.5 1577.5h0M154 1559h0M143 1435.5h0M201.5 1522.5h0M147.5 1476h0M123 1580h0M159.5 1544h0M143 1585.5h0M283.5 1539h0M182.5 1565.5h0M124 1596h0M173.5 1538h0M192 1569h0M142 1610h0M288.5 1547.5h0M123.5 1604.5h0M195.5 1523h0M177 1536h0M144 1600.5h0M144.5 1505.5h0M141 1598h0M120.5 1452.5h0M128.5 1600.5h0M147 1574h0M164 1564h0M191 1569.5h0M238 1579h0M134 1421h0M124 1436.5h0M177.5 1564.5h0M146.5 1528h0M261 1524h0M142 1605h0M123.5 1581.5h0M145.5 1497.5h0M285 1552h0M241.5 1576.5h0M143 1523h0M264.5 1570h0M142.5 1592.5h0M212.5 1576.5h0M241 1516.5h0M265 1572h0M264.5 1574.5h0M134 1419.5h0M217 1579h0M148.5 1464h0M143 1600.5h0M278 1532h0M125.5 1584h0M138.5 1506.5h0M280.5 1532.5h0M141 1594h0M146 1577h0M160 1562.5h0M170 1541h0M244.5 1518h0M287 1553h0M273 1530h0M124 1595h0M257 1518.5h0M196 1522.5h0M150.5 1541h0M119 1541.5h0M143 1590h0M142.5 1431.5h0M167.5 1539h0M241.5 1518.5h0M124 1602h0M284 1540.5h0M280 1533.5h0M124 1607h0M123 1579.5h0M190.5 1526.5h0M139 1594h0M227.5 1518h0M137 1427.5h0M242.5 1519.5h0M219.5 1580h0M275 1530.5h0M260.5 1524h0M233 1514.5h0M139.5 1420.5h0M122 1568.5h0M127 1523h0M290 1546.5h0M239 1519h0M281.5 1562.5h0M141.5 1518.5h0M259.5 1574.5h0M132.5 1420.5h0M280.5 1533.5h0M220.5 1579h0M143 1522h0M128 1508.5h0M174 1538h0M143 1583h0M123 1492.5h0M203.5 1522h0M199.5 1572.5h0M256.5 1519.5h0M280 1532.5h0M214 1519.5h0M128 1511h0M279.5 1539h0M196.5 1572h0M167.5 1539h0M133 1613h0M216 1577.5h0M141 1604h0M275 1535h0M226 1519h0M182.5 1566.5h0M127 1609.5h0M288.5 1544.5h0M285 1540h0M147.5 1535h0M121 1446h0M135.5 1517.5h0M244 1520h0M271.5 1531.5h0M145.5 1487.5h0M160 1562h0M178.5 1535.5h0M142.5 1606h0M286 1549h0M133.5 1510.5h0M273.5 1531.5h0M223.5 1579.5h0M130 1423h0M123.5 1434h0M282 1561.5h0M249.5 1519.5h0M147.5 1567.5h0M194 1527h0M135.5 1418.5h0M182 1535h0M237 1518.5h0M127.5 1427h0M149 1570h0M279.5 1562h0M214.5 1520.5h0M141 1600h0M191 1527.5h0M136 1429h0M134 1419.5h0M288.5 1554h0M179 1537.5h0M175.5 1540.5h0M137.5 1519h0M239 1578.5h0M141 1589h0M171.5 1563h0M229.5 1577.5h0M145.5 1449.5h0M214.5 1575.5h0M137.5 1512h0M270.5 1568.5h0M129.5 1611.5h0M145 1449.5h0M123 1583h0M123.5 1583h0M217 1577.5h0M148 1475h0M202 1573h0M170.5 1541h0M283 1548h0M158.5 1560.5h0M202.5 1572.5h0M121.5 1471.5h0M259.5 1571.5h0M174 1536.5h0M152 1547.5h0M173 1561h0M198 1523.5h0M126 1588h0M149 1566.5h0M275 1565h0M120.5 1457h0M132.5 1517.5h0M139.5 1597h0M132.5 1423.5h0M272.5 1528.5h0M133 1614h0M136 1612h0M176 1536.5h0M179 1562h0M282.5 1559.5h0M238 1579.5h0M184 1562.5h0M260.5 1573h0M125 1585h0M266.5 1567.5h0M274 1532h0M167.5 1541h0M140.5 1605h0M287 1542.5h0M265 1571.5h0M122 1569.5h0M168.5 1540h0M286.5 1546.5h0M177 1536h0M142.5 1582h0M147.5 1572.5h0M286 1546.5h0M192 1568.5h0M169 1539h0M238.5 1574.5h0M126 1576.5h0M248.5 1520.5h0M139.5 1428.5h0M150 1566.5h0M124 1434.5h0M272.5 1565.5h0M139.5 1520h0M121.5 1571.5h0M137 1426h0M212 1575.5h0M232 1579h0M149 1541.5h0M137.5 1514h0M202.5 1522.5h0M157 1559.5h0M150 1564.5h0M199.5 1522.5h0M168 1562h0M128 1511.5h0M157 1544.5h0M153.5 1559h0M242 1519h0M124 1578h0M199.5 1571h0M147.5 1475.5h0M146.5 1537.5h0M210.5 1576h0M141.5 1598.5h0M126.5 1573h0M125 1610h0M265 1529h0M124.5 1494h0M172 1562.5h0M129.5 1518.5h0M141 1432.5h0M136 1424h0M275 1534h0M256 1573h0M123 1489.5h0M174 1561h0M275.5 1564.5h0M209 1575h0M132 1515.5h0M121.5 1443h0M142.5 1500.5h0M131.5 1515.5h0M127.5 1506.5h0M151 1563h0M157.5 1559h0M128.5 1610h0M125 1435h0M284.5 1538h0M156 1557h0M203.5 1574h0M256.5 1521h0M122.5 1444.5h0M157.5 1561.5h0M129 1506h0M148 1475.5h0M132.5 1520h0M231 1579h0M287 1551.5h0M136.5 1516.5h0M142.5 1434.5h0M141 1604h0M125.5 1593h0M218.5 1524h0M284.5 1550h0M277 1536h0M182 1562.5h0M271 1565h0M176 1537.5h0M138.5 1426.5h0M130 1612.5h0M215.5 1521h0M162.5 1561.5h0M245.5 1576h0M138 1521.5h0M151.5 1545h0M268.5 1529.5h0M269.5 1531.5h0M146 1491.5h0M272.5 1534.5h0M281 1549h0M250.5 1574h0M178.5 1536.5h0M133 1578.5h0M141 1581.5h0M142.5 1586h0M270 1529h0M210.5 1521.5h0M263.5 1572h0M130.5 1613.5h0M169.5 1561.5h0M141 1435h0M285 1548.5h0M164 1561.5h0M139 1435h0M121.5 1573.5h0M157 1546.5h0M126.5 1606.5h0M124 1606h0M191 1567.5h0M211.5 1524h0M158 1549.5h0M270 1531h0M180 1539.5h0M258.5 1525h0M126.5 1527.5h0M229.5 1516.5h0M179.5 1535.5h0M139 1428.5h0M127 1512.5h0M156.5 1550h0M215.5 1576.5h0M126 1602.5h0M243.5 1519h0M120.5 1572.5h0M186 1564h0M124.5 1441.5h0M151 1544.5h0M127.5 1581.5h0M129 1427h0M219 1575.5h0M130 1426.5h0M207 1523.5h0M166 1559h0M134 1515h0M127 1524h0M138.5 1427h0M140.5 1586.5h0M128.5 1608h0M247.5 1573h0M155 1545h0M269 1569h0M194.5 1568h0M119.5 1554h0M245 1573h0M277.5 1537h0M217 1523h0M154 1560h0M283 1543.5h0M176 1541h0M120.5 1548h0M167 1562.5h0M140.5 1509h0M276 1560.5h0M284 1551.5h0M286.5 1544.5h0M125.5 1595h0M140.5 1593.5h0M192 1530.5h0M123.5 1439.5h0M137 1609.5h0M253.5 1522h0M144 1531.5h0M203.5 1574h0M151 1555.5h0M149.5 1542.5h0M224 1575.5h0M198.5 1569h0M270 1565.5h0M122.5 1456h0M120.5 1560.5h0M188.5 1562h0M149 1559.5h0M134 1614h0M135 1424.5h0M176 1539.5h0M170 1540.5h0M179.5 1559h0M258.5 1571h0M141.5 1587h0M128.5 1431h0M135.5 1512.5h0M152.5 1559.5h0M121.5 1568.5h0M266.5 1530h0M282.5 1544h0M137.5 1518.5h0M138.5 1421h0M188.5 1532h0M139.5 1586.5h0M150 1544h0M142 1583.5h0M127 1430h0M233 1578h0M186 1561h0M127 1608.5h0M199 1528h0M128 1428h0M256.5 1570.5h0M125 1602.5h0M243.5 1575h0M191 1560.5h0M282 1547h0M152 1557h0M239 1577.5h0M156.5 1550h0M141 1589h0M186.5 1536.5h0M217.5 1521.5h0M224.5 1574h0M131.5 1524h0M252.5 1521.5h0M128 1428.5h0M122.5 1568h0M224 1521.5h0M128.5 1506h0M129 1608.5h0M140.5 1501.5h0M182.5 1560.5h0M236 1518.5h0M186.5 1566h0M267 1565.5h0M282.5 1541h0M204 1525.5h0M125 1599h0M284.5 1552h0M280.5 1562h0M129.5 1579h0M211 1522h0M141 1437.5h0M277.5 1558h0M127 1608.5h0M280.5 1541h0M124.5 1589.5h0M141 1432h0M161 1560h0M148 1537.5h0M122.5 1570.5h0M146 1488.5h0M175 1560h0M250.5 1573h0M285 1550.5h0M124 1438h0M126.5 1596h0M203 1574.5h0M124 1532.5h0M146 1571h0M135.5 1522h0M123.5 1576.5h0M283 1545.5h0M151.5 1546h0M177.5 1557h0M137 1608.5h0M249 1573.5h0M137.5 1430.5h0M121 1478h0M284.5 1547h0M178.5 1536.5h0M142.5 1574.5h0M190.5 1558.5h0M202 1567h0M283 1556h0M143 1578h0M235.5 1576.5h0M261 1525.5h0M265 1528.5h0M213 1522.5h0M196 1567h0M190 1531.5h0M201 1525h0M261.5 1524.5h0M130.5 1427h0M169 1561.5h0M147.5 1558.5h0M178 1560.5h0M133 1519.5h0M134.5 1522h0M273.5 1535.5h0M177.5 1540.5h0M278.5 1544.5h0M278 1538h0M124.5 1443.5h0M211 1522.5h0M181 1561.5h0M129.5 1513h0M279 1562h0M227.5 1578h0M128.5 1586h0M183.5 1561.5h0M207 1575h0M130 1428h0M164.5 1542h0M135 1521.5h0M122.5 1535h0M130.5 1508.5h0M169 1541.5h0M209 1523h0M128 1607.5h0M127 1575.5h0M193 1529h0M279 1551h0M133.5 1519h0M278.5 1536.5h0M131 1611.5h0M124.5 1491h0M238 1576.5h0M198 1567h0M128 1587h0M199 1524h0M141.5 1525.5h0M203.5 1524h0M126 1495h0M142.5 1579h0M206.5 1524.5h0M152 1546.5h0M170.5 1544h0M137 1582h0M126 1498h0M139 1582.5h0M197 1523.5h0M122.5 1447.5h0M140.5 1587.5h0M241.5 1576h0M132.5 1428.5h0M267.5 1564.5h0M164.5 1546h0M192 1530h0M169.5 1562h0M136.5 1593.5h0M184 1562h0M213 1574h0M140.5 1504h0M266.5 1529h0M175.5 1558.5h0M198 1525.5h0M122 1569h0M236.5 1520h0M141.5 1601h0M271 1566h0M274 1534h0M141.5 1498h0M201 1569h0M192.5 1566.5h0M162.5 1548.5h0M182 1562.5h0M124 1574.5h0M275 1539h0M155 1546.5h0M271 1531h0M129.5 1609.5h0M248.5 1522.5h0M125 1528.5h0M142 1589h0M138 1520h0M250 1522h0M134 1429h0M279 1561h0M273 1560h0M124.5 1434.5h0M158 1554h0M178 1562h0M200 1528h0M135 1520.5h0M175.5 1540h0M125 1600h0M236 1521.5h0M205 1571.5h0M160.5 1544.5h0M278 1545h0" stroke="#000083" stroke-width="1.6" stroke-linecap="square" fill="none"/>
<path d="M207 1573.5h0M157.5 1554.5h0M282.5 1543h0M261 1564.5h0M150.5 1548h0M173 1551.5h0M279.5 1547.5h0M143.5 1449.5h0M283.5 1552h0M275.5 1561.5h0M205.5 1570.5h0M278 1557.5h0M273.5 1536h0M204 1568.5h0M146.5 1485h0M232 1520h0M139.5 1591.5h0M133 1511h0M120 1554h0M125.5 1597h0M160 1545h0M258.5 1524h0M134 1423.5h0M159.5 1547.5h0M139 1503h0M281 1558h0M207.5 1526.5h0M135.5 1425h0M186 1538.5h0M144.5 1447h0M122 1538h0M126.5 1592.5h0M128.5 1587.5h0M185.5 1561.5h0M140 1432h0M275 1564h0M276 1562h0M140 1522.5h0M132.5 1520.5h0M146.5 1465h0M147 1547.5h0M137.5 1589.5h0M137 1610.5h0M140.5 1607h0M204.5 1569h0M122.5 1572.5h0M154.5 1551.5h0M177 1539h0M182 1560.5h0M140 1606.5h0M139.5 1579h0M157 1556.5h0M243.5 1521.5h0M276 1546.5h0M278 1560h0M175 1554.5h0M132.5 1425h0M133.5 1514.5h0M150 1546.5h0M141.5 1524.5h0M279.5 1557h0M126 1595.5h0M134 1425h0M279.5 1561.5h0M137 1580.5h0M174.5 1551h0M151 1549.5h0M220.5 1575.5h0M122.5 1470.5h0M144.5 1450.5h0M160.5 1561.5h0M124.5 1443h0M122 1541.5h0M155 1554h0M134.5 1513.5h0M136 1426.5h0M130.5 1507.5h0M174.5 1559.5h0M143 1450.5h0M125.5 1529.5h0M277 1546h0M157 1556.5h0M265 1529.5h0M172 1541.5h0M280 1558h0M264 1568h0M149 1561h0M219 1524h0M143 1574.5h0M278 1547.5h0M136.5 1431.5h0M216 1522h0M282.5 1548.5h0M238 1520.5h0M226 1520.5h0M150 1548.5h0M277.5 1543.5h0M157 1547h0M185.5 1560.5h0M126.5 1602.5h0M239.5 1520.5h0M186.5 1561h0M136.5 1583.5h0M122.5 1447h0M138 1606.5h0M128 1600.5h0M140 1602h0M233 1575h0M140.5 1602.5h0M137 1602.5h0M198.5 1524.5h0M182 1539h0M262.5 1527h0M133 1427.5h0M162.5 1558.5h0M131.5 1427h0M242.5 1522.5h0M132 1511.5h0M173.5 1545h0M282 1544.5h0M126 1433.5h0M182 1558.5h0M136 1521h0M146 1469h0M126.5 1603.5h0M275 1539h0M160.5 1547.5h0M267.5 1562.5h0M128.5 1508h0M180 1539.5h0M258.5 1523.5h0M230.5 1575h0M191.5 1562.5h0M276 1557.5h0M162 1555h0M131.5 1582.5h0M142 1497h0M151 1556.5h0M134.5 1509.5h0M159.5 1551h0M233.5 1520.5h0M155 1554.5h0M125.5 1432h0M218.5 1524.5h0M128.5 1583h0M207.5 1531h0M279 1551h0M122.5 1469.5h0M131.5 1581.5h0M158.5 1557.5h0M137 1610h0M278.5 1544h0M141 1499.5h0M133.5 1428h0M225.5 1575.5h0M133 1429h0M134 1522h0M131.5 1602.5h0M214.5 1524h0M278 1557h0M134.5 1512h0M127 1430.5h0M134.5 1508.5h0M278.5 1541h0M164.5 1545h0M125 1592.5h0M140.5 1585h0M141 1584.5h0M149.5 1555h0M162 1556.5h0M277.5 1544h0M263.5 1529h0M134 1609.5h0M191 1533h0M152.5 1548h0M275.5 1552.5h0M136 1521.5h0M251 1572h0M260.5 1525h0M133.5 1592.5h0M273.5 1540h0M157.5 1547.5h0M197 1566.5h0M136 1429.5h0M152 1550h0M269.5 1559.5h0M139 1600h0M229 1519h0M128 1499h0M192.5 1562.5h0M138 1609.5h0M137.5 1597h0M278 1553.5h0M138.5 1433h0M277.5 1554.5h0M173 1540.5h0M264 1528.5h0M203 1571.5h0M186 1538.5h0M176.5 1543h0M143 1441h0M248.5 1571h0M130.5 1432h0M146 1460.5h0M226.5 1523.5h0M258 1523h0M144.5 1476.5h0M152 1561.5h0M137.5 1577h0M124.5 1444h0M128.5 1502.5h0M180 1541h0M218 1524h0M274.5 1546h0M131 1610.5h0M125 1571.5h0M203.5 1527.5h0M193 1530h0M282 1546.5h0M170.5 1542.5h0M170.5 1541.5h0M127 1601h0M159.5 1548h0M171 1559h0M143.5 1528h0M284.5 1552.5h0M215.5 1523.5h0M124.5 1496h0M167.5 1545h0M169.5 1560h0M143 1444.5h0M143 1572h0M236.5 1574.5h0M128.5 1590h0M125 1497.5h0M203 1524h0M257.5 1569.5h0M128 1578.5h0M273.5 1535.5h0M145.5 1474.5h0M145 1570h0M128.5 1435h0M191 1532h0M123.5 1491.5h0M156 1553.5h0M253.5 1522.5h0M269.5 1566h0M121 1454.5h0M152 1558.5h0M139 1603h0M279 1556.5h0M147 1540h0M140.5 1584.5h0M134.5 1510h0M202 1568.5h0M279.5 1556h0M135 1509h0M257 1572h0M122.5 1469h0M137 1432h0M163.5 1545h0M269 1562.5h0M127.5 1600h0M232 1575.5h0M127 1590.5h0M130.5 1581.5h0M176.5 1541.5h0M184.5 1557.5h0M127.5 1526.5h0M277.5 1550.5h0M176.5 1559h0M138.5 1523.5h0M129 1610h0M145.5 1477h0M240.5 1572.5h0M131 1605.5h0M142 1437h0M272 1539.5h0M167 1547.5h0M134 1503h0M143.5 1495h0M188.5 1561.5h0M183.5 1539h0M222.5 1574.5h0M274 1548h0M150.5 1543h0M139.5 1582h0M146.5 1458h0M216.5 1523.5h0M128 1434h0M124.5 1569h0M131 1605h0M136 1523.5h0M127.5 1432.5h0M137 1596.5h0M242 1524h0M276.5 1560h0M176 1546.5h0M165.5 1545.5h0M140.5 1436h0M124.5 1497.5h0M177 1542h0M151.5 1550h0M252 1525h0M145 1481.5h0M137 1504.5h0M129 1579.5h0M178.5 1559.5h0M139 1584h0M260.5 1567h0M131.5 1586.5h0M262 1563.5h0M170.5 1560h0M181.5 1540h0M138.5 1597h0M132 1598.5h0M140.5 1440.5h0M205 1569h0M129.5 1585.5h0M140.5 1528h0M256.5 1526h0M181.5 1552h0M195 1530h0M273.5 1541.5h0M136 1510h0M168.5 1544h0M129 1503.5h0M221.5 1577h0M210.5 1526h0M161.5 1560h0M250.5 1569.5h0M254.5 1525h0M254.5 1569.5h0M226.5 1522.5h0M132 1428.5h0M152 1555.5h0M145.5 1466.5h0M188 1537h0M172 1545.5h0M279 1552h0M268.5 1564h0M128 1605h0M127.5 1584h0M133.5 1428h0M132.5 1510h0M146 1536h0M176.5 1560h0M138 1586.5h0M133.5 1520.5h0M265.5 1564h0M253.5 1525.5h0M148 1565.5h0M206 1530h0M270 1562.5h0M231 1524h0M126 1440h0M121 1465h0M159 1552h0M271 1562h0M209.5 1572h0M138 1506.5h0M139.5 1525h0M277.5 1543h0M153.5 1553.5h0M126 1570.5h0M125 1441h0M208 1571.5h0M130.5 1599h0M187.5 1561h0M244.5 1570h0M122 1457.5h0M129 1433h0M175 1558.5h0M211 1525.5h0M137.5 1605.5h0M278 1557h0M227 1521.5h0M158.5 1557.5h0M127.5 1500.5h0M269 1563h0M207 1571h0M128 1601h0M194.5 1530.5h0M282.5 1551.5h0M136.5 1603.5h0M168.5 1545.5h0M134 1588.5h0M175 1547h0M232 1577h0M219.5 1573h0M278.5 1556.5h0M133 1580.5h0M136.5 1602h0M131.5 1428h0M141 1582h0M186.5 1550.5h0M198 1526.5h0M234 1519.5h0M129.5 1585.5h0M268 1535h0M129.5 1507.5h0M274 1552.5h0M207.5 1570.5h0M137 1604.5h0M128 1595.5h0M258 1526h0M186 1539.5h0M134.5 1602.5h0M137 1506h0M212.5 1571.5h0M187.5 1560h0M127.5 1573h0M137 1584h0M166.5 1557h0M162 1555h0M126.5 1440h0M160 1556h0M136 1582.5h0M133.5 1591.5h0M200.5 1565.5h0M176.5 1560h0M208 1572h0M260.5 1565.5h0M276 1552.5h0M256 1571h0M144.5 1493h0M271 1536.5h0M232.5 1520.5h0M179.5 1559.5h0M211 1526h0M223.5 1575h0M166.5 1545.5h0M127.5 1432.5h0M212 1524.5h0M247.5 1523.5h0M129 1583.5h0M169 1552h0M261 1565h0M202.5 1570.5h0M130.5 1579h0M269.5 1559h0M126 1572h0M184.5 1556.5h0M137.5 1607.5h0M271 1558.5h0M142 1579h0M145.5 1565.5h0M235.5 1520.5h0M200 1531h0M133 1598.5h0M229 1521.5h0M251 1571.5h0M129 1439h0M198 1564.5h0M209.5 1573.5h0M128.5 1591.5h0M133 1598.5h0M136.5 1604h0M176.5 1552.5h0M179 1550.5h0M272 1562.5h0M244 1573h0M138.5 1502.5h0M164.5 1557.5h0M138 1593h0M121.5 1557h0M157 1550.5h0M135.5 1609.5h0M205.5 1528h0M146 1567h0M181.5 1556.5h0M257.5 1568h0M262 1526.5h0M135.5 1607h0M252.5 1523.5h0M201.5 1527.5h0M215 1571.5h0M152 1555.5h0M184 1552.5h0M148 1548.5h0M166.5 1560h0M134.5 1433.5h0M240.5 1573h0M259.5 1565h0M136.5 1594.5h0M144.5 1480.5h0M123 1534.5h0M132 1591h0M251.5 1568.5h0M131.5 1594.5h0M132.5 1608.5h0M135.5 1582h0M233 1525.5h0M274.5 1546h0M207 1569h0M128 1499.5h0M143 1477h0M200 1570.5h0M228.5 1518.5h0M164.5 1551.5h0M180 1544h0M153 1554.5h0M180 1557h0M251.5 1569.5h0M269.5 1559.5h0M148 1561h0M120.5 1544.5h0M129 1428.5h0M132.5 1433.5h0M143.5 1451.5h0M244 1574h0M197 1568h0M194.5 1533.5h0M225 1523h0M133.5 1431.5h0M221.5 1576h0M133 1509h0M146 1537.5h0M130 1598.5h0M176 1557.5h0M146.5 1462.5h0M131 1577h0M129 1606h0M150 1555.5h0M130 1527.5h0M268 1565.5h0M261 1526.5h0M158.5 1548.5h0M206 1571h0M129.5 1434h0M141 1443h0M146 1459.5h0M130.5 1578.5h0M212.5 1569.5h0M275.5 1554h0M183 1558h0M190.5 1531.5h0M134 1577.5h0M208.5 1569.5h0M131.5 1595h0M128.5 1601h0M246.5 1572h0M140 1575.5h0M133 1430h0M221.5 1526h0M134 1609.5h0M132.5 1575.5h0M140 1435.5h0M272.5 1557.5h0M124 1446h0M236 1575h0M182 1538.5h0M243.5 1524.5h0M255 1567h0M243 1523h0M178.5 1545.5h0M207 1527h0M134 1605h0M236.5 1573.5h0M164.5 1555h0M214.5 1528h0M133 1590h0M196 1563.5h0M179 1544.5h0M238 1524h0M122.5 1556.5h0M249.5 1567h0M138 1434h0M218 1522.5h0M148 1555h0M173 1552h0M196 1564.5h0M142.5 1497h0M137 1580.5h0M136.5 1520.5h0M193.5 1562h0M273.5 1549.5h0M158 1554h0M245.5 1572h0M182.5 1557h0M276 1556h0M121 1467h0M123.5 1481.5h0M176 1550.5h0M128.5 1594h0M134 1607h0M172.5 1553h0M265.5 1563.5h0M127 1594.5h0M135.5 1590h0M152 1554h0M176 1547h0M183.5 1553h0M161.5 1549.5h0M232 1522h0M260 1528h0M140 1500.5h0M145 1566h0M133.5 1429h0M134.5 1594h0M196 1530h0M148 1545h0M194 1562h0M131 1582h0M252 1527.5h0M181 1553h0M180.5 1560h0M224 1574.5h0M130.5 1507.5h0M273 1551.5h0M183.5 1545h0M126.5 1442.5h0M248.5 1523h0M139 1575h0M212.5 1528h0M136 1581h0M127.5 1526.5h0M271.5 1542.5h0M130 1598.5h0M135 1587.5h0M156.5 1548h0M206.5 1571h0M170.5 1557h0M202 1569h0M168 1548h0M126.5 1591.5h0M138.5 1601h0M125 1493h0M197.5 1557h0M134 1508h0M134.5 1606.5h0M139.5 1577.5h0M168.5 1559.5h0M162.5 1553h0M242.5 1525h0M273 1545.5h0M176 1548h0M256 1569.5h0M142 1441.5h0M125.5 1440.5h0M199.5 1527.5h0M161.5 1556h0M133 1597.5h0M146.5 1460.5h0M142.5 1569.5h0M275.5 1550.5h0M135 1434h0M214 1569.5h0M255 1524.5h0M130 1583.5h0M136.5 1587.5h0M133.5 1602.5h0M130 1499h0M267.5 1536h0M141.5 1445.5h0M130.5 1576.5h0M139 1577h0M273.5 1539h0M273.5 1554h0M132.5 1428.5h0M171 1557.5h0M133 1594h0M138 1587h0M161.5 1551.5h0M269 1559.5h0M176 1554.5h0M133.5 1589h0M169.5 1558.5h0M124.5 1571.5h0M144.5 1480h0M165.5 1557h0M188.5 1534.5h0M240 1572.5h0M132 1605.5h0M140 1527h0M128.5 1588.5h0M137 1589h0M162.5 1549.5h0M134.5 1503h0M137.5 1582h0M137.5 1598h0M139.5 1438h0M244.5 1570.5h0M192 1562h0M171 1556.5h0M170 1550h0M267 1532.5h0M194 1562.5h0M230.5 1521.5h0M145.5 1455h0M152 1547h0M130.5 1591.5h0M176 1547.5h0M249 1566h0M149.5 1555h0M168 1558.5h0M134.5 1602.5h0M133.5 1525.5h0M252.5 1568.5h0M202 1568.5h0M165.5 1557h0M142.5 1572.5h0M186 1544h0M144 1570.5h0M214.5 1525.5h0M137.5 1600h0M152 1551h0M132 1437.5h0M136 1584h0M161.5 1552.5h0M220 1526h0M198.5 1568h0M232 1522h0M225 1525.5h0M222 1574.5h0M227.5 1577.5h0M217.5 1574h0M132.5 1527h0M259 1529h0M126.5 1569.5h0M178.5 1554.5h0M277 1555h0M252.5 1524h0M275.5 1539.5h0M206.5 1567h0M235.5 1522h0M133 1508h0M171 1552h0M199 1531.5h0M143.5 1486.5h0M229.5 1521.5h0M175 1547.5h0M272 1538h0M150 1552.5h0M185 1559h0M194.5 1561.5h0M157 1553.5h0M175 1545h0M195.5 1531.5h0M138 1501h0M268 1563h0M198 1528h0M135 1584.5h0M172 1553.5h0M159 1554h0M130 1590.5h0M134.5 1502.5h0M243.5 1525h0M161 1555h0M249 1526h0M140.5 1585.5h0M130.5 1592h0M177 1544.5h0M204 1566.5h0M131.5 1577h0M134.5 1600.5h0M272 1539h0M149 1554.5h0M145.5 1478h0M182 1542.5h0M131 1505.5h0M143 1489.5h0M273.5 1549h0M205 1528.5h0M272 1556.5h0M133 1583.5h0M141.5 1572.5h0M131.5 1577h0M212 1526.5h0M129.5 1608h0M202.5 1570h0M135 1524h0M205 1568.5h0M188.5 1538h0M135 1578h0M143.5 1483.5h0M138.5 1600.5h0M188 1538.5h0M249.5 1570h0M148 1564h0M190.5 1555.5h0M131.5 1508.5h0M182 1542.5h0M131.5 1587h0M128 1574.5h0M131.5 1577h0M166.5 1559h0M233 1572h0M258 1567h0M165 1556h0M135.5 1589.5h0M135.5 1602h0M162.5 1549h0M257.5 1569h0M167.5 1547h0M122 1554h0M231 1573h0M141 1447h0M211.5 1529h0M133 1605.5h0M129 1591h0M130 1588.5h0M263 1562.5h0M139.5 1496.5h0M136.5 1598h0M214 1525.5h0M212 1572h0M273 1541h0M270 1539.5h0M182 1560h0M143 1461h0M181 1551h0M129.5 1598.5h0M135.5 1598h0M206 1566.5h0M138 1437h0M238 1570.5h0M170.5 1557h0M134 1594.5h0M142.5 1535.5h0M132.5 1509h0M138.5 1528h0M274.5 1548.5h0M123 1459h0M145 1460.5h0M130.5 1590h0M183 1556.5h0M144.5 1486.5h0M141 1440.5h0M131.5 1507.5h0M143.5 1568h0M268 1553h0M181 1559h0M173 1547h0M163 1548.5h0M129 1434.5h0M177 1558h0M258.5 1527.5h0M133 1579h0M193 1538h0M137.5 1434.5h0M219 1572.5h0M181 1556.5h0M236 1523.5h0M167.5 1552h0M203.5 1528.5h0M206.5 1530.5h0M135.5 1608h0M183 1549.5h0M275 1547.5h0M121.5 1473h0M130 1434h0M132 1603.5h0M183.5 1547.5h0M167.5 1554h0M219 1572.5h0M134.5 1589.5h0M132.5 1431h0M189.5 1540h0M201 1532h0M136 1596.5h0M130.5 1604h0M129.5 1577h0M132 1586.5h0M226.5 1523h0M199 1566h0M128.5 1498.5h0M268.5 1537.5h0M125.5 1571h0M121.5 1545h0M204.5 1564.5h0M130 1575.5h0M196.5 1531.5h0M246.5 1568.5h0M214 1571.5h0M199 1533h0M190.5 1551h0M229.5 1573h0M133 1598h0M125.5 1491h0M121 1562h0M202 1566h0M226 1522.5h0M182 1542.5h0M196.5 1531.5h0M265.5 1531h0M126.5 1531.5h0M170 1547.5h0M133 1607h0M129 1527h0M180.5 1546h0M165 1557.5h0M132.5 1506.5h0M137 1580.5h0M124 1565.5h0M272.5 1540h0M123.5 1476.5h0M129 1584.5h0M137.5 1597h0M128 1496.5h0M188 1560h0M215 1527h0M199.5 1527.5h0M132 1590.5h0M242.5 1525.5h0M216.5 1571.5h0M127 1496.5h0M193.5 1532h0M186 1556h0M166 1557h0M122.5 1542.5h0M207.5 1568.5h0M243.5 1526h0M132 1598h0M271.5 1552.5h0M139 1598.5h0M241 1528h0M197.5 1567.5h0M135.5 1576h0M148 1553h0M138.5 1504h0M215 1526h0M138 1502.5h0M134.5 1603.5h0M163.5 1556.5h0M131.5 1437.5h0M268 1533.5h0M182.5 1554.5h0M130 1437h0M167.5 1557.5h0M181.5 1547.5h0M161.5 1553.5h0M214 1572h0M233.5 1573.5h0M241.5 1569h0M230.5 1520.5h0M247 1569h0M192 1558.5h0M181.5 1544.5h0M223.5 1576h0M165 1552h0M185.5 1541.5h0M170 1547h0M169.5 1558.5h0M162 1553h0M133.5 1607h0M258 1564.5h0M182.5 1551h0M232.5 1521.5h0M131 1590.5h0M147 1555h0M122 1546h0M199.5 1530.5h0M187.5 1553.5h0M136.5 1504.5h0M189.5 1540h0M271 1558h0M198.5 1558.5h0M273.5 1543h0M243 1568.5h0M265 1533h0M133 1505.5h0M184.5 1553.5h0M190.5 1538h0M174 1552h0M180.5 1550h0M131.5 1604.5h0M132.5 1500.5h0M235.5 1523.5h0M212 1570h0M135 1577h0M255 1527.5h0M131.5 1587.5h0M133 1433h0M270.5 1551.5h0M276.5 1557.5h0M132.5 1438h0M135 1587.5h0M263 1559.5h0M131 1593h0M137 1574h0M169 1547.5h0M197 1565.5h0M273.5 1555h0M133 1595.5h0M126 1494.5h0M263.5 1561.5h0M210.5 1529h0M166 1556.5h0M191.5 1560h0M179 1554h0M240.5 1570.5h0M127.5 1587h0M192 1535h0M224.5 1525.5h0M176.5 1550.5h0M253.5 1566.5h0M135 1605h0M135.5 1579h0M134.5 1603h0M206 1532.5h0M177 1558h0M170 1547.5h0M237.5 1571h0M191.5 1536h0M195 1533h0M125 1492h0M267 1554.5h0M134.5 1591.5h0M197 1564h0M182 1552h0M193.5 1534.5h0M131 1433.5h0M141 1528h0M170 1549h0M267.5 1562h0M147 1546h0M144.5 1480h0M271.5 1544h0M188 1541h0M270.5 1541h0M134.5 1598.5h0M171 1551h0M137.5 1503h0M243 1526.5h0M136.5 1523h0M266 1556.5h0M253.5 1528h0M271 1547.5h0M148 1548h0M134 1592.5h0M143 1481.5h0M222.5 1574.5h0M270.5 1541.5h0M140 1499.5h0M141 1442.5h0M197.5 1532h0M137.5 1524.5h0M179.5 1549h0M142 1485h0M177 1553.5h0M134 1604.5h0M168.5 1555.5h0M177 1548h0M201 1532h0M186 1547h0M177.5 1554.5h0M138.5 1505.5h0M193 1536.5h0M266.5 1550.5h0M133.5 1575.5h0M137 1573h0M143 1568.5h0M172 1550h0M127.5 1441h0M174 1554h0M178.5 1548h0M136 1587h0M271.5 1548.5h0M167 1548.5h0M168.5 1553h0M125 1568h0M231 1572h0M135.5 1528h0M267.5 1539h0M123.5 1539.5h0M128.5 1527.5h0M216.5 1528h0M230.5 1523h0M142 1446h0M245 1525h0M234 1572.5h0M135.5 1603h0M124 1479h0M272.5 1555h0M196 1531.5h0M236 1574h0M137.5 1523h0M127.5 1495.5h0M231.5 1573.5h0M130 1589h0M137.5 1577h0M208.5 1529.5h0M228.5 1574h0M131 1600.5h0M138 1576.5h0M228.5 1525h0M141.5 1443.5h0M233 1522h0M233 1528h0M187.5 1538.5h0M222 1527.5h0M238.5 1522.5h0M137.5 1574.5h0M137 1498h0M272.5 1546.5h0M183.5 1548.5h0M136.5 1505h0M137.5 1576.5h0M190 1550.5h0M268.5 1546h0M232 1525.5h0M203.5 1562h0M194.5 1537h0M191 1535h0M168.5 1547h0M178.5 1555h0M244 1526.5h0M272 1549.5h0M218.5 1572h0M142.5 1567h0M122.5 1455.5h0M182.5 1546h0M165 1551.5h0M163.5 1549h0M127.5 1440h0M208 1569.5h0M275.5 1555.5h0M234.5 1523.5h0M272.5 1554h0M272.5 1545.5h0M184.5 1545h0M136 1597h0M135 1442h0M197 1559h0M187 1544.5h0M134 1578h0M136.5 1597.5h0M224.5 1528.5h0M201 1531.5h0M188 1540.5h0M130 1591.5h0M244.5 1526.5h0M130.5 1502h0M164.5 1551h0M201.5 1534h0M209.5 1568.5h0M249.5 1526h0M165.5 1552.5h0M133 1591h0M182.5 1551h0M127.5 1531.5h0M135 1524.5h0M168 1551.5h0M164 1553h0M270.5 1556.5h0M223 1573.5h0M238.5 1526h0M268 1536h0M202 1528.5h0M234 1570.5h0M135.5 1506h0M131.5 1437.5h0M137.5 1436.5h0M268 1536.5h0M134 1576.5h0M131 1504h0M134 1592.5h0M246.5 1569.5h0M131 1607.5h0M123 1467.5h0M138.5 1576.5h0M214 1528h0M212 1569h0M266.5 1558.5h0M186 1552h0M139.5 1436.5h0M165 1550h0M131 1434.5h0M270.5 1545h0M200.5 1531.5h0M128 1591.5h0M250.5 1527.5h0M140 1529.5h0M190.5 1536h0M124.5 1451.5h0M141.5 1531.5h0M173 1548.5h0M222 1570.5h0M132 1505h0M270.5 1555h0M141.5 1488.5h0M222 1573h0M273 1557h0M199.5 1566h0M233.5 1526h0M143 1477.5h0M234 1528.5h0M254.5 1568.5h0M197 1562.5h0M231.5 1523h0M144.5 1559h0M263 1532.5h0M141 1444h0M192.5 1557h0M204.5 1531.5h0M124.5 1485.5h0M185 1544h0M143.5 1455h0M136 1437h0M211.5 1569h0M205.5 1563h0M131 1592.5h0M233 1573h0M189.5 1555h0M230 1520.5h0M145 1568h0M208.5 1565.5h0M190 1542.5h0M259.5 1565.5h0M130.5 1589h0M239 1572h0M138.5 1500h0M226.5 1527h0M266.5 1539h0M200 1531.5h0M231.5 1522.5h0M164.5 1552.5h0M143 1534h0M201 1532h0M221.5 1571h0M122 1550.5h0M246.5 1527h0M133 1440h0M126 1567.5h0M246.5 1570h0M127 1497h0M142.5 1467h0M145.5 1539.5h0M203 1562.5h0M245 1525.5h0M162.5 1551.5h0M194 1558h0M136.5 1596h0M132 1499h0M231 1573.5h0M270.5 1557h0M142.5 1463.5h0M121.5 1552.5h0M261.5 1564h0M260.5 1561.5h0M262.5 1559h0M176 1551.5h0M264 1559h0M177.5 1551h0M143 1476h0M173 1548.5h0M134 1436.5h0M126.5 1535h0M141 1443h0M241 1524.5h0M243.5 1569.5h0M270.5 1556h0M165.5 1556.5h0M175 1553.5h0M267.5 1558h0M137.5 1501.5h0M145 1539.5h0M245 1524.5h0M166.5 1553.5h0M244.5 1569h0M188 1547h0M130.5 1437h0M249.5 1570h0M193 1532.5h0M125 1533h0M234 1524.5h0M251.5 1526.5h0M122 1546.5h0M120.5 1556h0M270.5 1540h0M142 1565.5h0M265 1562h0M259.5 1563.5h0M266.5 1561.5h0M208 1566h0M264.5 1533h0M226.5 1525h0M262.5 1560h0M142 1571h0M268 1545h0M172 1554.5h0M179 1550h0M130 1527.5h0M135.5 1502.5h0M189 1558h0M230.5 1523h0M142 1492h0M131.5 1527.5h0M247.5 1564.5h0M193 1536h0M271 1558.5h0M264 1561h0M135 1529.5h0M146 1563h0M124 1562.5h0M257.5 1531h0M132.5 1607.5h0M248.5 1526h0M196 1534.5h0M212.5 1527.5h0M126 1486.5h0M169.5 1555.5h0M178 1550.5h0M247 1568.5h0M136 1504.5h0M137 1437h0M172.5 1551h0M270.5 1551.5h0M248 1527h0M189.5 1539h0M133 1501h0M138.5 1500h0M272.5 1546.5h0M214.5 1533.5h0M197 1559h0M187.5 1548.5h0M258.5 1532h0M132 1588h0M134.5 1599h0M139 1530.5h0M268 1559h0M234 1571h0M211.5 1568h0M187 1540.5h0M262.5 1546h0M272.5 1558h0M127.5 1570.5h0M241.5 1570.5h0M221.5 1571.5h0M122.5 1458h0M242.5 1527h0M133 1499.5h0M125 1452h0M124.5 1456h0M137 1499h0M202 1532h0M163.5 1549h0M269 1558.5h0M257 1529.5h0M145.5 1558h0M142.5 1564h0M177.5 1549.5h0M186.5 1548h0M207.5 1565h0M146.5 1558h0M252 1526.5h0M270 1554.5h0M270.5 1548h0M130.5 1530h0M123 1564h0M219 1527.5h0M166 1556h0M271.5 1548h0M182 1546.5h0M133 1527.5h0M132 1504h0M200 1533h0M262 1562.5h0M271.5 1546h0M143.5 1454.5h0M168 1548.5h0M142 1534h0M180.5 1550h0M199 1533h0M195.5 1558.5h0M262.5 1535h0M265 1554.5h0M128 1443h0M168.5 1554h0M200 1536h0M173 1553h0M143.5 1476.5h0M135 1437.5h0M124.5 1473.5h0M214 1568.5h0M241.5 1571h0M211 1560.5h0M132.5 1593.5h0M182 1545.5h0M124.5 1540.5h0M258 1530.5h0M136 1594h0M129.5 1498.5h0M183.5 1550h0M235 1570.5h0M210.5 1532.5h0M163.5 1550h0M231 1525h0M234.5 1525h0M186.5 1550.5h0M132 1437h0M239.5 1527.5h0M187 1548h0" stroke="#0000ae" stroke-width="1.6" stroke-linecap="square" fill="none"/>
<path d="M192.5 1535h0M270 1553h0M131.5 1527h0M199 1563h0M213 1528.5h0M272 1557h0M185.5 1548.5h0M190.5 1541.5h0M131 1438.5h0M136 1501h0M131.5 1529.5h0M247 1570h0M169.5 1551.5h0M225.5 1526.5h0M259.5 1564h0M124 1541.5h0M139.5 1497.5h0M131.5 1438h0M192 1555.5h0M124.5 1463.5h0M270.5 1542h0M123.5 1462.5h0M194.5 1556h0M197 1561h0M265 1537h0M193.5 1558h0M269.5 1539h0M124.5 1460.5h0M257 1532h0M253 1564.5h0M130 1528.5h0M229.5 1525.5h0M144.5 1463h0M199 1530h0M135 1525h0M223.5 1525.5h0M237 1570h0M148 1547h0M140.5 1443h0M193 1539h0M187 1551h0M259 1562.5h0M130.5 1573.5h0M255.5 1566h0M193 1560h0M142 1482.5h0M213 1529h0M143.5 1463.5h0M133 1439h0M192.5 1558h0M125.5 1533.5h0M130 1437.5h0M134.5 1599.5h0M263 1535.5h0M126 1565.5h0M268.5 1546.5h0M221.5 1528h0M184.5 1546.5h0M219.5 1571.5h0M256 1565h0M258 1532h0M193 1556.5h0M137 1443.5h0M263.5 1558.5h0M226 1524.5h0M128 1533.5h0M192 1556h0M179.5 1551h0M135 1439h0M188.5 1539.5h0M237.5 1527.5h0M238 1529.5h0M140.5 1527h0M264.5 1560.5h0M126.5 1480h0M226.5 1572h0M127.5 1570.5h0M218 1530h0M259 1562.5h0M255 1562.5h0M136.5 1503h0M126.5 1488h0M128.5 1529.5h0M134 1577h0M258 1534h0M138.5 1442h0M134.5 1500h0M271 1540h0M258 1561h0M218.5 1529.5h0M201 1565h0M262.5 1533.5h0M137 1527h0M195 1562h0M235.5 1526.5h0M188.5 1546.5h0M129.5 1439h0M244 1528h0M262.5 1533h0M233 1570h0M143.5 1461h0M126.5 1448.5h0M140.5 1492h0M170 1552h0M183.5 1548h0M131.5 1588.5h0M253 1565h0M146 1559h0M268 1545.5h0M222.5 1572h0M199.5 1563.5h0M130 1530h0M143 1564h0M142 1481h0M166.5 1550.5h0M127 1494h0M270 1559.5h0M169.5 1555.5h0M230 1525h0M194 1538h0M192.5 1536h0M137 1502.5h0M215.5 1532h0M229.5 1571h0M260 1562.5h0M134 1504.5h0M205.5 1531.5h0M133.5 1440.5h0M183 1549h0M206.5 1561h0M143 1455.5h0M267 1550.5h0M134.5 1504h0M214.5 1570h0M130 1499.5h0M127 1490h0M211 1528.5h0M194.5 1559.5h0M192 1536.5h0M202 1565.5h0M218 1568.5h0M131 1529.5h0M143 1468.5h0M133 1498.5h0M123.5 1538.5h0M198 1564h0M136 1574h0M266.5 1554h0M124 1464h0M249 1528h0M124 1463h0M263 1557h0M134 1502.5h0M131 1572h0M202.5 1560.5h0M232 1571.5h0M228 1570.5h0M197.5 1535.5h0M246.5 1527.5h0M225 1526h0M269 1547.5h0M241.5 1569h0M187.5 1549h0M131.5 1527.5h0M193.5 1559.5h0M236.5 1571h0M129.5 1495.5h0M135.5 1498h0M266.5 1553h0M133.5 1506h0M127.5 1442.5h0M185.5 1550.5h0M199 1535.5h0M142.5 1490h0M261 1532.5h0M263 1539h0M124 1539h0M265 1555.5h0M136.5 1442h0M266 1553.5h0M261 1535.5h0M131.5 1439h0M146 1561h0M189 1553h0M123.5 1457.5h0M141 1494h0M232 1525h0M235.5 1528h0M124.5 1447.5h0M202.5 1532h0M224.5 1570.5h0M196.5 1557h0M272.5 1540.5h0M258.5 1531h0M136 1500h0M168 1554h0M140.5 1489.5h0M269.5 1550.5h0M122 1549.5h0M249.5 1565.5h0M267 1550h0M141.5 1565.5h0M186.5 1545h0M134.5 1504.5h0M270 1542h0M249.5 1527h0M142.5 1472h0M134.5 1529.5h0M242.5 1568.5h0M194.5 1558.5h0M230.5 1526h0M257.5 1560.5h0M134 1526.5h0M270.5 1540h0M137 1439.5h0M216 1567.5h0M200.5 1560.5h0M127 1492.5h0M196.5 1553h0M262 1550h0M140.5 1569h0M232 1566.5h0M191.5 1546h0M201.5 1537.5h0M252 1527h0M125.5 1452h0M238 1529h0M187.5 1543h0M134 1574h0M129 1500h0M139 1528h0M141 1492h0M206 1537h0M258.5 1538.5h0M267.5 1550h0M124 1465h0M212 1567h0M201 1564h0M142 1568.5h0M257.5 1562h0M184 1546.5h0M222.5 1526.5h0M221.5 1572.5h0M210 1564.5h0M260.5 1533.5h0M214 1567.5h0M137.5 1499.5h0M165.5 1551h0M188 1546.5h0M241 1528.5h0M137.5 1441.5h0M131.5 1497h0M143.5 1459.5h0M234 1571.5h0M188 1545.5h0M139 1440.5h0M131.5 1501.5h0M187 1543.5h0M191 1552.5h0M267.5 1551h0M133 1500h0M256 1566h0M238 1528h0M239 1529.5h0M262.5 1535h0M263.5 1555h0M206.5 1533.5h0M185.5 1544.5h0M267 1539h0M190 1555.5h0M144.5 1474.5h0M250.5 1565.5h0M265 1557.5h0M183.5 1544.5h0M126 1484.5h0M226.5 1574.5h0M190.5 1545.5h0M235.5 1570h0M129.5 1494.5h0M128 1480h0M129.5 1441.5h0M136.5 1527.5h0M200 1532.5h0M134.5 1439.5h0M269.5 1540.5h0M139 1530h0M216 1570.5h0M209.5 1535.5h0M195 1536h0M140 1490.5h0M261 1559.5h0M201.5 1562.5h0M140 1534h0M192 1542.5h0M194 1536.5h0M245 1565.5h0M233 1526h0M133 1570.5h0M267.5 1548.5h0M247 1565.5h0M196 1556.5h0M186 1549h0M131.5 1571h0M202.5 1535h0M146.5 1545h0M252.5 1566h0M207 1534h0M193 1540h0M130 1487h0M143 1472h0M255.5 1563.5h0M186.5 1550.5h0M123.5 1540.5h0M219 1529.5h0M134 1574h0M138.5 1495h0M134 1571h0M224.5 1526.5h0M130.5 1530.5h0M183.5 1547.5h0M223.5 1530h0M251 1565.5h0M123.5 1562h0M221.5 1569.5h0M224 1525h0M143.5 1480h0M244 1530h0M192 1550.5h0M129.5 1569.5h0M131.5 1594h0M138.5 1526.5h0M198.5 1532.5h0M257.5 1533.5h0M146 1553.5h0M221.5 1526.5h0M126 1537h0M265.5 1543h0M223.5 1527.5h0M144.5 1550.5h0M197 1531h0M194.5 1554h0M221.5 1526.5h0M230.5 1568.5h0M146 1552h0M142 1487.5h0M209.5 1566h0M125.5 1447h0M223.5 1572.5h0M126.5 1540h0M133 1576h0M240 1529h0M137.5 1527.5h0M272 1547.5h0M193.5 1537.5h0M228 1573.5h0M269 1550.5h0M235 1571h0M224.5 1571.5h0M141 1484h0M127 1490h0M241 1532.5h0M218.5 1566.5h0M272 1544h0M263.5 1541.5h0M131.5 1569h0M236 1526h0M133 1573.5h0M195.5 1542h0M135 1528.5h0M141.5 1451h0M266 1544.5h0M208 1534h0M201 1562h0M251.5 1528.5h0M242.5 1569.5h0M191.5 1550.5h0M138 1532h0M257.5 1558.5h0M208.5 1534.5h0M208 1563.5h0M192 1556h0M133.5 1497.5h0M265.5 1541h0M123 1465h0M127.5 1483h0M135.5 1493.5h0M222 1569.5h0M192 1552h0M193.5 1539h0M127.5 1487h0M196.5 1546h0M136 1572.5h0M238 1529h0M128 1490.5h0M251 1527h0M146.5 1548h0M124.5 1547h0M271 1551.5h0M235.5 1571h0M124 1453.5h0M262 1551h0M135.5 1500h0M199.5 1535.5h0M197.5 1539h0M266.5 1542h0M196.5 1538.5h0M138.5 1529h0M135.5 1441h0M136.5 1528h0M137 1570.5h0M266.5 1537h0M255 1531h0M257 1559h0M125 1565h0M248 1531.5h0M129.5 1531.5h0M143 1474h0M265.5 1541h0M130.5 1489.5h0M200.5 1558.5h0M188 1545h0M139.5 1496h0M251 1536h0M127.5 1533h0M141.5 1535.5h0M127.5 1448.5h0M136.5 1530.5h0M125 1473h0M200 1537.5h0M126.5 1536.5h0M247.5 1528h0M144 1557h0M268 1554.5h0M137 1527h0M254.5 1530h0M242 1527h0M142 1480h0M197.5 1535h0M268.5 1546.5h0M209 1564h0M140 1444h0M142 1455h0M269 1552.5h0M249 1566h0M139.5 1530h0M197 1534.5h0M134.5 1571h0M264.5 1539h0M131.5 1495h0M193 1549.5h0M206.5 1562h0M270 1549.5h0M192.5 1556h0M123 1555.5h0M134 1500h0M204.5 1562.5h0M129 1500h0M138.5 1442.5h0M239 1569.5h0M228 1570h0M133.5 1496.5h0M219.5 1568.5h0M237.5 1527.5h0M122.5 1465h0M188.5 1542h0M125 1565.5h0M256 1561h0M210 1563h0M140 1529.5h0M194.5 1535.5h0M251 1528h0M143 1473.5h0M125 1483.5h0M218.5 1529.5h0M207.5 1534h0M137 1440.5h0M206.5 1534h0M141 1533.5h0M209 1532h0M211.5 1563.5h0M142.5 1488h0M230 1571.5h0M139.5 1441h0M210.5 1532.5h0M248 1529h0M130.5 1490.5h0M253.5 1527.5h0M267 1544.5h0M254.5 1532.5h0M225 1570h0M248.5 1562.5h0M258 1556h0M266.5 1549h0M193.5 1556h0M122.5 1461.5h0M140.5 1571.5h0M270.5 1552.5h0M268.5 1545.5h0M267.5 1553.5h0M130 1492h0M144 1561h0M206.5 1564h0M138 1574h0M200.5 1538.5h0M142.5 1465h0M241.5 1568h0M195.5 1540h0M141.5 1481.5h0M187.5 1542.5h0M241 1568h0M195 1536.5h0M196 1541h0M213 1566h0M141 1534.5h0M138.5 1529h0M255.5 1531.5h0M221.5 1571.5h0M217 1569h0M270 1545h0M264 1554.5h0M189 1542.5h0M134.5 1571.5h0M127.5 1485h0M128 1446h0M240 1568h0M259.5 1543h0M187 1548.5h0M137.5 1497.5h0M126.5 1483.5h0M197 1539h0M204.5 1533.5h0M193 1554.5h0M228.5 1570h0M263 1536.5h0M247.5 1564.5h0M228.5 1566.5h0M130 1441.5h0M218.5 1568.5h0M245.5 1527.5h0M199 1562h0M197 1542h0M210.5 1564.5h0M219.5 1529.5h0M270 1541h0M265.5 1547h0M146 1547.5h0M129.5 1531.5h0M190.5 1546h0M236.5 1568.5h0M210 1561h0M254 1528.5h0M129 1569.5h0M143.5 1459h0M126.5 1537.5h0M214.5 1569.5h0M242.5 1568h0M259 1556h0M261 1533h0M261.5 1536.5h0M266.5 1548h0M227 1570.5h0M200.5 1536.5h0M236.5 1527h0M190.5 1539h0M127.5 1492h0M246.5 1531h0M137 1449h0M131.5 1439h0M267.5 1550h0M201 1539.5h0M124 1463h0M260.5 1534h0M124 1548.5h0M137.5 1568.5h0M134 1439.5h0M260 1535h0M257 1531h0M141.5 1483h0M133 1573.5h0M140.5 1472h0M261 1559h0M239 1568h0M140.5 1531.5h0M200.5 1542h0M167 1550.5h0M126.5 1565h0M267.5 1548h0M204.5 1534.5h0M132 1493h0M146 1550.5h0M264 1539h0M138.5 1442.5h0M138 1571.5h0M135 1438.5h0M196 1539h0M228 1569h0M200 1557.5h0M244.5 1563.5h0M142.5 1560h0M136.5 1441h0M189.5 1547.5h0M260 1562h0M139 1443h0M261 1554.5h0M195 1546h0M124.5 1546h0M139 1451h0M253 1531h0M142 1566.5h0M269.5 1547h0M265.5 1552h0M192 1541.5h0M131.5 1498h0M269.5 1545h0M261 1537h0M215 1568h0M143.5 1467h0M125.5 1477h0M137.5 1569.5h0M251 1529h0M229.5 1569.5h0M239.5 1566h0M231.5 1568.5h0M140.5 1490h0M203 1564h0M244 1566.5h0M137.5 1574h0M137.5 1495h0M203 1560h0M122.5 1544h0M125.5 1473.5h0M226.5 1569h0M261.5 1536.5h0M222 1528.5h0M208 1533.5h0M214 1565h0M191.5 1544.5h0M139 1445h0M199.5 1538h0M212.5 1532.5h0M252 1563.5h0M263.5 1548.5h0M213 1565.5h0M126.5 1445h0M204 1536.5h0M272 1548.5h0M265 1553.5h0M259 1531.5h0M138 1442.5h0M266.5 1542.5h0M146 1560h0M195.5 1544h0M125.5 1456.5h0M193 1553h0M211.5 1534.5h0M217.5 1530.5h0M207 1535h0M215.5 1530.5h0M254 1557.5h0M189.5 1550h0M139 1487.5h0M207 1561.5h0M194 1539h0M268.5 1542h0M134 1492.5h0M191 1546.5h0M131 1442h0M194.5 1552h0M213 1530.5h0M139.5 1490h0M260 1532.5h0M231 1571.5h0M259.5 1536.5h0M126.5 1475.5h0M266 1544.5h0M145.5 1554.5h0M141 1453h0M264 1535h0M128 1489.5h0M264.5 1552h0M139 1492.5h0M251.5 1532h0M201.5 1562h0M146 1551h0M192 1545h0M141.5 1478h0M201 1560h0M247.5 1568h0M133.5 1528.5h0M216 1530h0M260 1537h0M231 1532h0M141 1455.5h0M125.5 1476.5h0M138 1493h0M130.5 1497.5h0M232.5 1528h0M142 1462h0M206.5 1539.5h0M191.5 1549h0M258.5 1558h0M239 1531.5h0M141.5 1457h0M261.5 1549h0M144.5 1563h0M212.5 1563.5h0M264.5 1546.5h0M238 1528.5h0M233 1572h0M143 1547.5h0M246 1562.5h0M132.5 1444h0M221 1530h0M194.5 1538.5h0M137.5 1528.5h0M263.5 1555h0M142.5 1556.5h0M249.5 1531h0M199 1561.5h0M196 1541h0M142 1455.5h0M261 1550.5h0M195.5 1555.5h0M137 1448h0M240.5 1568.5h0M123 1559h0M139.5 1572h0M262 1560h0M261 1540.5h0M190 1544h0M131.5 1442h0M210.5 1536h0M130 1446h0M136 1439h0M263 1544h0M126.5 1451.5h0M131 1496.5h0M258 1533h0M242.5 1565h0M140 1452.5h0M140 1570h0M265 1555.5h0M137 1443h0M131 1493h0M125.5 1476.5h0M125.5 1475h0M138.5 1492.5h0M133.5 1497h0M254.5 1533h0M128.5 1450h0M126 1473.5h0M231.5 1528h0M141.5 1468.5h0M241.5 1568.5h0M228 1567h0M125 1479.5h0M219.5 1562.5h0M143 1562h0M243.5 1565h0M141 1464h0M201.5 1538h0M264.5 1553h0M223.5 1528.5h0M203 1557h0M137.5 1444h0M143 1561h0M259.5 1558.5h0M245.5 1529.5h0M219 1529.5h0M195.5 1550h0M263.5 1553.5h0M229 1571h0M257.5 1555h0M205 1560.5h0M139 1446h0M215 1564h0M227.5 1569.5h0M203.5 1561h0M219 1570h0M142 1463.5h0M265 1555h0M212 1534h0M193.5 1547h0M264.5 1537.5h0M226 1570h0M199.5 1536h0M136.5 1530h0M231.5 1570h0M195 1554h0M136.5 1443.5h0M136 1570.5h0M218.5 1531.5h0M127 1446.5h0M136 1493.5h0M259 1533h0M141 1464h0M133 1571h0M125 1449h0M258.5 1541.5h0M123 1557.5h0M257.5 1533.5h0M134.5 1569.5h0M139 1451.5h0M261 1541h0M262 1557.5h0M266.5 1547h0M225.5 1571.5h0M247.5 1532h0M248 1529h0M136.5 1569h0M129 1443.5h0M262 1552.5h0M203 1560h0M257 1554.5h0M132 1443.5h0M141 1458h0M253.5 1563h0M143 1559h0M205.5 1558.5h0M237 1532.5h0M205.5 1559h0M257.5 1561h0M137.5 1440.5h0M126 1479h0M226.5 1529h0M128 1480h0M248.5 1530h0M139.5 1568.5h0M206.5 1559.5h0M135 1442.5h0M234 1567.5h0M127.5 1445.5h0M205 1538h0M253 1530.5h0M256 1533h0M138 1494.5h0M195 1552.5h0M264.5 1546h0M139 1492.5h0M201.5 1536h0M142.5 1481.5h0M127.5 1471.5h0M128.5 1567.5h0M134.5 1496h0M253.5 1562h0M124 1550h0M215.5 1566h0M142.5 1468h0M239.5 1531h0M137 1490h0M259.5 1534.5h0M194 1553.5h0M192 1545h0M131.5 1496.5h0M227 1568.5h0M242.5 1530.5h0M265 1540h0M125.5 1467.5h0M240.5 1532.5h0M223.5 1569.5h0M208 1534.5h0M138.5 1442.5h0M128 1484.5h0M191.5 1548h0M192.5 1552h0M208.5 1562.5h0M144 1562.5h0M141 1474h0M228.5 1569.5h0M265.5 1545h0M131 1570.5h0M139.5 1482h0M214.5 1532h0M258 1540h0M265 1540.5h0M190.5 1552.5h0M193 1539h0M211.5 1565.5h0M228.5 1530.5h0M206 1537.5h0M142 1551h0" stroke="#0011d1" stroke-width="1.6" stroke-linecap="square" fill="none"/>
<path d="M141 1473h0M133 1500h0M253 1558.5h0M129.5 1486h0M126 1461h0M232 1565h0M136 1531h0M131.5 1443h0M132.5 1498h0M205 1542h0M243.5 1530.5h0M196.5 1556h0M139.5 1493h0M223.5 1529.5h0M227.5 1568.5h0M248 1565h0M234 1568h0M142 1468.5h0M196 1555.5h0M207 1562h0M125.5 1455.5h0M263.5 1548.5h0M142.5 1534.5h0M200 1545h0M142.5 1536.5h0M190.5 1550h0M197 1542h0M144 1555.5h0M231 1531.5h0M267 1545h0M198.5 1560h0M195.5 1557h0M261 1534.5h0M142.5 1553.5h0M263.5 1540h0M197 1539.5h0M249 1565.5h0M259.5 1551.5h0M239 1566h0M130.5 1492h0M231 1526.5h0M136.5 1441h0M189 1547.5h0M137 1476.5h0M128.5 1443.5h0M260 1550h0M137.5 1530.5h0M130 1490.5h0M257 1558.5h0M140 1492.5h0M141.5 1461.5h0M228 1569.5h0M234 1528h0M143 1538.5h0M126.5 1452.5h0M142.5 1533h0M125.5 1467.5h0M257 1538h0M192 1543.5h0M232 1565.5h0M262 1544h0M196.5 1553.5h0M197 1551h0M237 1529.5h0M259.5 1560h0M213 1531h0M189 1544h0M126 1461h0M139 1450h0M223.5 1569.5h0M198.5 1558h0M217 1568h0M229 1569h0M132 1531h0M249 1564.5h0M192.5 1543.5h0M125 1565.5h0M241 1530.5h0M137.5 1568.5h0M133.5 1441h0M257 1560h0M252 1566h0M129 1494h0M135 1497.5h0M126 1466.5h0M128.5 1568h0M262 1556h0M223 1529.5h0M138.5 1493.5h0M218.5 1564h0M198.5 1544h0M266.5 1552h0M224.5 1569h0M190.5 1549h0M193 1552.5h0M262 1558h0M136.5 1445.5h0M139.5 1488h0M135.5 1444.5h0M243.5 1531.5h0M214.5 1566h0M128.5 1485h0M136.5 1568.5h0M196.5 1555h0M258 1560h0M207 1559h0M222.5 1529.5h0M261 1549h0M206.5 1538h0M131 1571.5h0M263 1543.5h0M125.5 1451.5h0M134.5 1497h0M247 1564h0M130 1446.5h0M124.5 1462h0M194.5 1546.5h0M139.5 1484h0M137.5 1452h0M125.5 1538.5h0M195 1543h0M256.5 1530.5h0M224 1572h0M199 1555h0M139 1482.5h0M250.5 1532.5h0M232.5 1529.5h0M128.5 1476h0M234.5 1533.5h0M230.5 1568h0M209 1561h0M197.5 1542h0M258.5 1538.5h0M256 1534h0M225 1528.5h0M141 1463h0M255 1530.5h0M135.5 1496h0M237 1563h0M193 1548h0M262 1534.5h0M133 1491h0M262.5 1538h0M142.5 1457h0M137 1568.5h0M248.5 1532h0M131 1568.5h0M257 1532h0M125 1452h0M265 1544.5h0M194 1545.5h0M124.5 1456h0M129.5 1487.5h0M144 1540.5h0M126 1463.5h0M131 1495h0M225 1568.5h0M137.5 1447.5h0M142.5 1463.5h0M191 1543h0M260.5 1556h0M201.5 1559.5h0M222 1565.5h0M259 1555h0M249.5 1532h0M211.5 1533h0M258 1534.5h0M135.5 1494h0M138 1490h0M134 1529h0M135 1498h0M130.5 1445.5h0M142 1471.5h0M239 1564.5h0M195 1543h0M125.5 1452.5h0M213 1530.5h0M202.5 1559h0M138 1489h0M206 1536h0M128 1536h0M139.5 1475.5h0M126 1462h0M192.5 1546.5h0M132 1534h0M245.5 1566h0M234 1566.5h0M221 1531h0M144 1561h0M139 1453h0M139 1487.5h0M124.5 1563.5h0M256 1560.5h0M140.5 1570h0M223 1567.5h0M138.5 1484h0M126 1476h0M262 1541h0M247 1565.5h0M195.5 1554.5h0M217 1565h0M250.5 1532.5h0M261.5 1547.5h0M204 1539h0M127.5 1474.5h0M252 1538.5h0M197 1541.5h0M139 1532.5h0M139 1493.5h0M190 1548.5h0M252.5 1563.5h0M140.5 1461.5h0M259 1549h0M132.5 1444h0M241.5 1567h0M200.5 1554h0M141 1564.5h0M244.5 1565h0M194 1544h0M133.5 1444.5h0M244.5 1532.5h0M243 1563.5h0M244 1562.5h0M133 1495.5h0M258 1562h0M135.5 1443.5h0M129.5 1533.5h0M210.5 1561h0M249 1534.5h0M136 1491h0M254 1563h0M233.5 1530h0M139.5 1490h0M132.5 1494.5h0M198 1552.5h0M243 1540h0M208 1561h0M195 1552.5h0M265.5 1555h0M128 1537.5h0M205.5 1538.5h0M130 1491.5h0M253.5 1559.5h0M142 1472.5h0M139 1450h0M137 1487h0M253.5 1561.5h0M129 1480.5h0M203.5 1557h0M194 1540.5h0M261.5 1544h0M200 1540.5h0M138 1494.5h0M242 1532h0M137 1532h0M195.5 1550.5h0M233 1529.5h0M191.5 1549.5h0M136 1568.5h0M132 1495.5h0M258 1561.5h0M258.5 1540.5h0M255 1534h0M200.5 1554h0M139.5 1458h0M229.5 1567h0M128 1476h0M249 1533.5h0M134 1495h0M127.5 1487h0M233 1570h0M213 1564h0M229.5 1569.5h0M138.5 1531.5h0M223 1569.5h0M232.5 1531h0M200 1542h0M258.5 1534.5h0M133.5 1533h0M260 1536h0M131 1530.5h0M195 1551h0M221 1567.5h0M198.5 1556h0M126 1453h0M253 1536h0M218.5 1533h0M209.5 1543h0M137.5 1489h0M197.5 1549.5h0M249.5 1531.5h0M138.5 1485.5h0M193.5 1554h0M212.5 1533.5h0M234 1528.5h0M130 1489.5h0M260.5 1543h0M125 1540.5h0M259 1554h0M255.5 1559h0M216 1533.5h0M141.5 1564h0M262 1556.5h0M247 1532.5h0M127.5 1448.5h0M227 1566.5h0M240.5 1566.5h0M209 1538h0M252.5 1531.5h0M224 1569.5h0M143 1555.5h0M125.5 1562.5h0M131.5 1531h0M127.5 1533.5h0M142 1482.5h0M242.5 1530.5h0M140.5 1482.5h0M143 1561.5h0M246 1562.5h0M250 1532h0M142.5 1464.5h0M245.5 1563h0M256.5 1534.5h0M139.5 1491h0M133.5 1497h0M248 1529h0M140 1457.5h0M249.5 1529.5h0M139.5 1479h0M241 1534h0M264 1543.5h0M219.5 1531.5h0M191 1548h0M137 1489h0M129 1494.5h0M221 1531.5h0M260.5 1543h0M252.5 1561.5h0M207.5 1536h0M125 1474h0M142 1537h0M140 1483.5h0M227 1530h0M207.5 1534.5h0M132.5 1570h0M135 1571.5h0M137 1533h0M253 1535h0M139 1456h0M212 1534h0M125 1470h0M253.5 1566h0M213.5 1565.5h0M125.5 1456.5h0M259 1535h0M244 1532.5h0M205.5 1546h0M264 1540h0M126 1461.5h0M235 1564h0M263 1550h0M135.5 1447h0M201 1538.5h0M218.5 1565h0M139 1485h0M131 1443.5h0M253 1538h0M192.5 1542.5h0M195 1546h0M196.5 1541.5h0M124.5 1461.5h0M195.5 1540.5h0M255 1537h0M235 1565h0M253.5 1558.5h0M142 1566h0M236.5 1565h0M205 1537h0M263.5 1549.5h0M262.5 1539h0M257.5 1536h0M211 1540.5h0M214 1531h0M232.5 1529.5h0M233 1567h0M263.5 1537h0M194.5 1551.5h0M192.5 1548h0M201 1555h0M137 1569h0M196 1553.5h0M228 1530h0M139.5 1488h0M131.5 1486h0M245.5 1529.5h0M262.5 1550.5h0M139 1565.5h0M258 1543.5h0M192.5 1546h0M128 1568h0M259.5 1540h0M251.5 1530.5h0M248 1532h0M197.5 1556h0M139.5 1456.5h0M141.5 1540h0M200.5 1553.5h0M251 1532.5h0M236 1566.5h0M142 1467.5h0M257.5 1533.5h0M210.5 1563.5h0M140 1487.5h0M208.5 1559.5h0M208.5 1539h0M135.5 1492h0M215.5 1533.5h0M200 1542h0M202 1540h0M197.5 1543h0M136.5 1492h0M259 1549.5h0M129.5 1487.5h0M253.5 1558h0M134 1444.5h0M207.5 1535.5h0M249 1562.5h0M134 1445h0M127.5 1447.5h0M260 1547.5h0M135.5 1493.5h0M224.5 1568h0M126 1476h0M200.5 1553.5h0M206.5 1558.5h0M197 1542.5h0M236 1566h0M129.5 1482.5h0M200.5 1558h0M257.5 1559h0M264 1545h0M201 1546.5h0M137.5 1483h0M141 1562.5h0M125 1476.5h0M201.5 1557.5h0M131.5 1532.5h0M136 1443.5h0M262 1547.5h0M212.5 1563.5h0M199.5 1547h0M260 1536.5h0M219 1562.5h0M130.5 1533.5h0M193 1548h0M137.5 1492.5h0M191 1552h0M196.5 1543.5h0M202.5 1538.5h0M128 1453.5h0M134.5 1495.5h0M132 1494h0M138 1448h0M202 1538h0M251.5 1531h0M239 1534.5h0M138.5 1566h0M220.5 1567h0M263 1553.5h0M126.5 1473h0M250.5 1562.5h0M197 1546.5h0M136 1489h0M190.5 1545.5h0M129.5 1483h0M198.5 1548.5h0M215.5 1532h0M235 1566h0M196.5 1546h0M129 1488.5h0M216 1535h0M140 1454h0M256.5 1553h0M245.5 1556.5h0M263.5 1551.5h0M191 1545h0M262 1544h0M255.5 1538.5h0M223 1565.5h0M135 1444h0M142 1560h0M234 1566h0M237.5 1533.5h0M125.5 1465.5h0M194.5 1542h0M129.5 1568h0M256 1535.5h0M127 1482.5h0M240.5 1565h0M262 1541.5h0M265 1545.5h0M129.5 1492h0M234.5 1535.5h0M193.5 1548h0M137.5 1486.5h0M261.5 1548h0M244 1534h0M260 1543.5h0M245.5 1563h0M123.5 1553.5h0M258 1556h0M139 1485.5h0M133 1529.5h0M135.5 1447.5h0M136.5 1487h0M228 1529.5h0M257.5 1556.5h0M133 1528.5h0M241.5 1564.5h0M249.5 1561.5h0M226 1570h0M222.5 1568h0M210 1535h0M139 1476.5h0M208 1557.5h0M127 1451.5h0M238.5 1533.5h0M131 1444h0M128 1474h0M203.5 1537.5h0M134.5 1450h0M197 1548.5h0M240 1535.5h0M201 1554.5h0M219.5 1533h0M253.5 1533h0M208.5 1538h0M245.5 1534.5h0M227.5 1532.5h0M139.5 1454h0M138.5 1488.5h0M260.5 1555h0M136.5 1491.5h0M248 1562.5h0M253.5 1532h0M129.5 1449h0M126 1462.5h0M139.5 1478h0M135.5 1494h0M252 1532.5h0M250 1533.5h0M125 1457.5h0M245 1531.5h0M221 1565.5h0M140.5 1457.5h0M229 1565.5h0M253.5 1533h0M125 1465h0M202 1560h0M126 1459h0M238 1567h0M256.5 1560.5h0M124 1550h0M139 1491h0M262.5 1544h0M196 1551h0M256.5 1538.5h0M130 1535.5h0M133 1499.5h0M207.5 1537h0M199.5 1548h0M258.5 1555h0M126.5 1448.5h0M243 1534h0M133 1444.5h0M258.5 1556.5h0M136.5 1452h0M139 1458h0M128.5 1482.5h0M130.5 1448h0M130 1452h0M254.5 1539.5h0M243.5 1532h0M259 1538h0M131 1495h0M138.5 1486.5h0M218.5 1531h0M140.5 1470.5h0M204.5 1558.5h0M131.5 1569h0M236 1568h0M141.5 1475h0M127 1456.5h0M252.5 1531h0M263 1545h0M240 1532.5h0M260 1556h0M128 1449h0M129 1482.5h0M198.5 1546.5h0M251.5 1531.5h0M244 1531h0M252 1531h0M142 1459.5h0M240 1533.5h0M244.5 1564.5h0M137 1489.5h0M133.5 1442.5h0M198.5 1540.5h0M140 1535h0M225 1529.5h0M129 1452.5h0M218 1532h0M244 1561h0M228 1531.5h0M224.5 1569h0M135.5 1494h0M219 1565h0M212.5 1559.5h0M124.5 1552h0M128 1480h0M131 1444h0M260 1541.5h0M137.5 1492h0M133 1532h0M204.5 1537h0M218 1562h0M210 1541.5h0M139.5 1452.5h0M259 1540h0M140.5 1567h0M136.5 1447h0M139.5 1458h0M126.5 1561.5h0M251 1561.5h0M138 1485.5h0M138.5 1534.5h0M216 1532.5h0M194 1545h0M255.5 1550.5h0M237.5 1534h0M211.5 1537.5h0M126.5 1475h0M124.5 1552.5h0M138.5 1491h0M139 1485.5h0M252.5 1534h0M200 1542h0M203 1546h0M205 1559h0M243.5 1529.5h0M132.5 1568.5h0M131 1446.5h0M237 1534h0M206.5 1555h0M192 1550h0M255.5 1538h0M195 1551h0M235 1563h0M137.5 1532.5h0M142.5 1474h0M135 1446h0M204 1541.5h0M256.5 1542.5h0M144 1553.5h0M247.5 1532h0M236 1530h0M210 1538h0M141 1466.5h0M235 1568h0M203.5 1538h0M132 1491.5h0M130 1472h0M252.5 1558.5h0M202 1554.5h0M203.5 1538.5h0M234.5 1531h0M242 1565h0M126 1472h0M138.5 1464.5h0M219 1531.5h0M216.5 1563h0M203.5 1541h0M211 1555h0M223 1530.5h0M195.5 1545.5h0M207 1537h0M138.5 1494h0M204.5 1536.5h0M231 1531.5h0M214.5 1559h0M200 1543.5h0M141 1540h0M259 1540.5h0M201 1537.5h0M264 1546h0M252.5 1537.5h0M134.5 1487h0M239.5 1533h0M136 1442h0M228.5 1565h0M258 1554h0M129 1567h0M204.5 1540h0M262.5 1545.5h0M128 1485h0M252.5 1534.5h0M222.5 1566h0M127 1480.5h0M126 1479.5h0M257 1556h0M248 1562h0M255.5 1540h0M139 1566.5h0M211 1537.5h0M201.5 1553.5h0M127 1566h0M221 1564h0M251 1561.5h0M195 1542.5h0M125.5 1554.5h0M131 1445.5h0M227 1532h0M208.5 1535h0M259 1538h0M138 1492.5h0M142 1540h0M246.5 1535h0M251 1560.5h0M199.5 1543h0M130 1448h0M235.5 1532h0M253.5 1558.5h0M128 1455h0M235.5 1532.5h0M135.5 1492.5h0M259.5 1548h0M245.5 1532.5h0M262 1543.5h0M258 1550h0M259 1539h0M134.5 1490h0M132 1489.5h0M207.5 1539.5h0M205 1556h0M133 1493h0M217 1534h0M137 1483h0M135.5 1484h0M130 1564.5h0M133 1568.5h0M250.5 1533.5h0M131.5 1536h0M137.5 1481.5h0M202 1552h0M196.5 1545.5h0M258 1541.5h0M134.5 1443h0M200.5 1555.5h0M131 1493.5h0M212 1558.5h0M139 1534.5h0M132 1486.5h0M258.5 1559.5h0M232 1534h0M203 1543h0M201 1541.5h0M141 1467.5h0M129.5 1490h0M255.5 1536.5h0M210.5 1533.5h0M139.5 1480.5h0M138.5 1453.5h0M138 1446.5h0M198.5 1553h0M256 1562h0M132 1533.5h0M133 1492.5h0M139 1458h0M138 1483.5h0M135.5 1490.5h0M203.5 1539.5h0M144 1549.5h0M126.5 1452.5h0M230.5 1536h0M136.5 1443h0M194.5 1546h0M133.5 1489.5h0M224 1564h0M255.5 1558h0M128 1539h0M129.5 1486h0M130 1448h0M200 1547.5h0M211.5 1561h0M249.5 1534.5h0M139 1482h0M246 1561h0M128 1566h0M247.5 1533h0M253 1536.5h0M136.5 1493.5h0M261.5 1541h0M251 1541h0M241.5 1562.5h0M230.5 1564h0M143 1543h0M205.5 1557h0M124.5 1555.5h0M221.5 1532.5h0M200 1541h0M135 1465.5h0M139 1478h0M225.5 1530.5h0M137 1491h0M134.5 1569h0M221 1566.5h0M135 1485h0M210.5 1535h0M141 1472h0M198 1542h0M221.5 1561h0M134.5 1448h0M137.5 1484.5h0M132.5 1485h0M208.5 1539h0M212.5 1560h0M140 1459.5h0M223.5 1531h0M259 1541h0M217 1536h0M231.5 1562.5h0M198.5 1546.5h0M261.5 1547h0M203 1538.5h0M133.5 1493.5h0M203.5 1535.5h0M205 1557.5h0M257.5 1543.5h0M134.5 1492.5h0M137 1491.5h0M135 1445h0M128 1460h0M205 1559.5h0M229 1531h0M201 1556h0M136.5 1446h0M127.5 1466h0M127.5 1449h0M244 1534.5h0M144 1545h0M198.5 1551h0M221.5 1566.5h0M253.5 1535h0M250.5 1559h0M132.5 1531h0M213.5 1537.5h0M130.5 1450h0M262 1543h0M220.5 1565h0M127.5 1479.5h0M126.5 1464.5h0M195.5 1549.5h0" stroke="#0030ef" stroke-width="1.6" stroke-linecap="square" fill="none"/>
<path d="M222.5 1565.5h0M240.5 1566h0M132.5 1568h0M139 1475.5h0M239 1568h0M254 1543.5h0M235 1533h0M138 1473.5h0M133.5 1491h0M258 1555.5h0M254 1557.5h0M197.5 1546h0M142 1465h0M134.5 1446.5h0M222.5 1532h0M260 1549.5h0M130.5 1483.5h0M232 1533.5h0M218 1566h0M202 1549.5h0M240.5 1564.5h0M207.5 1540.5h0M135 1531h0M138.5 1450.5h0M139.5 1481h0M212.5 1561.5h0M128 1451.5h0M137 1568h0M214.5 1534.5h0M257 1550h0M252.5 1557.5h0M204.5 1542h0M199 1551h0M235 1565h0M214.5 1532.5h0M202.5 1542h0M228.5 1531.5h0M242.5 1533.5h0M252 1556.5h0M262 1549.5h0M257.5 1553h0M256.5 1543.5h0M223 1532h0M143.5 1545.5h0M244 1531.5h0M237.5 1562.5h0M213 1563h0M261 1544h0M230 1535h0M136.5 1566h0M221.5 1530.5h0M138.5 1475.5h0M251.5 1537.5h0M131.5 1533h0M133 1492h0M127 1537.5h0M133.5 1496.5h0M202 1556.5h0M129 1469h0M140 1475h0M238 1564.5h0M202 1545.5h0M129.5 1566.5h0M128 1482h0M254 1534h0M202.5 1553.5h0M130.5 1565.5h0M255 1543h0M195.5 1551.5h0M257.5 1555h0M135 1564.5h0M132 1569h0M130.5 1448.5h0M258.5 1543h0M258 1553.5h0M258.5 1551.5h0M212 1536h0M132 1449.5h0M208 1559h0M200 1553.5h0M257 1539h0M134 1445.5h0M200.5 1553h0M197 1555h0M213.5 1563.5h0M137.5 1484h0M249 1561.5h0M258.5 1545.5h0M219 1531h0M139 1473h0M141 1466h0M255 1534.5h0M132 1567h0M260.5 1554h0M132.5 1538h0M208 1539.5h0M257 1548h0M136.5 1444h0M202 1542h0M226 1565h0M140 1478h0M139 1565.5h0M133.5 1447.5h0M128 1471h0M207.5 1540.5h0M226.5 1565h0M222.5 1536.5h0M240 1565.5h0M128 1454.5h0M251 1537.5h0M128.5 1474.5h0M214 1561.5h0M256 1554.5h0M201 1556h0M259 1547.5h0M255 1546h0M132 1490h0M243 1564h0M200 1553.5h0M139.5 1534.5h0M136.5 1448h0M132.5 1446h0M132.5 1568h0M260.5 1550h0M239 1534h0M216 1563.5h0M230 1563.5h0M131 1486.5h0M201.5 1553h0M129.5 1470.5h0M232.5 1532h0M232 1531.5h0M236.5 1560.5h0M128.5 1481.5h0M131.5 1448h0M128.5 1472.5h0M195 1548.5h0M211 1537.5h0M247.5 1562h0M140 1461.5h0M226.5 1562h0M216 1535h0M134.5 1454h0M215.5 1534.5h0M208 1537h0M130.5 1487h0M251.5 1560h0M125.5 1559.5h0M144 1544.5h0M253 1557.5h0M248 1534.5h0M213.5 1533h0M144 1547h0M218 1563h0M129.5 1479h0M252 1531.5h0M140 1482.5h0M136.5 1489.5h0M128.5 1467h0M252.5 1559h0M129 1448h0M128.5 1564.5h0M132 1566.5h0M134 1533h0M209.5 1558h0M249 1547.5h0M251 1553.5h0M212.5 1562h0M133.5 1449.5h0M137 1534.5h0M202.5 1541.5h0M230 1535.5h0M127 1457h0M252.5 1544.5h0M135 1530.5h0M257 1544h0M260.5 1547.5h0M127.5 1480h0M133 1445h0M227.5 1531.5h0M135.5 1534h0M128 1450.5h0M211 1536h0M234 1564h0M130 1483h0M128 1477h0M259 1539h0M136.5 1451h0M256.5 1550h0M248.5 1548h0M218 1533.5h0M247.5 1536h0M244 1536.5h0M140 1473.5h0M129 1479h0M232.5 1564.5h0M236 1563h0M198.5 1548.5h0M137.5 1483.5h0M249.5 1559.5h0M201.5 1547.5h0M204.5 1549.5h0M255 1543h0M227 1565h0M235 1564.5h0M213.5 1534h0M137 1538h0M214 1561.5h0M139.5 1475h0M242 1561h0M229 1531h0M257 1552.5h0M125 1545.5h0M141.5 1539.5h0M131.5 1566.5h0M134.5 1493h0M243 1563h0M247.5 1533.5h0M132.5 1492.5h0M253 1539h0M133.5 1445.5h0M210.5 1544h0M135 1449.5h0M134.5 1445.5h0M243 1538.5h0M125.5 1549h0M200.5 1553h0M205.5 1560h0M245 1538h0M135.5 1534h0M256.5 1554.5h0M197 1545h0M254 1541h0M232 1534h0M131 1452.5h0M211 1535.5h0M244 1564h0M241.5 1561.5h0M250.5 1536.5h0M258.5 1546h0M136.5 1478.5h0M259.5 1547h0M127 1450h0M128.5 1471.5h0M244.5 1561h0M133 1487.5h0M205.5 1538.5h0M247 1560.5h0M127.5 1453h0M217 1534h0M257.5 1554h0M140.5 1543.5h0M138.5 1476.5h0M225 1534h0M242.5 1555h0M254 1538h0M140.5 1469h0M198 1543.5h0M232.5 1565.5h0M252.5 1536.5h0M130 1481.5h0M223.5 1562.5h0M137 1476.5h0M142 1561h0M242.5 1562.5h0M258 1548.5h0M137.5 1452.5h0M196.5 1546.5h0M127.5 1563.5h0M127.5 1448.5h0M128.5 1454.5h0M257 1543h0M251 1536.5h0M203.5 1542h0M128 1471h0M140 1475.5h0M219.5 1560.5h0M219 1563.5h0M139 1562.5h0M229 1563h0M127.5 1540h0M129.5 1447.5h0M134.5 1479h0M253 1552h0M246.5 1558.5h0M200 1548h0M205 1539.5h0M206.5 1541h0M250 1563h0M219.5 1561.5h0M261 1543.5h0M130.5 1489h0M202.5 1555h0M207 1541h0M254.5 1548.5h0M134 1492.5h0M133 1567.5h0M216 1535h0M210.5 1539h0M134 1452h0M136.5 1451h0M249 1535.5h0M213.5 1533h0M240.5 1561.5h0M134.5 1534h0M130 1449h0M129.5 1537.5h0M141.5 1539.5h0M139 1538h0M129.5 1484.5h0M130 1534h0M127.5 1458.5h0M137 1452h0M203 1554h0M135 1456h0M248.5 1541.5h0M216.5 1539h0M250 1534h0M234.5 1563.5h0M127.5 1562.5h0M127.5 1453h0M140.5 1565h0M133 1535.5h0M236.5 1561h0M252.5 1542h0M136 1481h0M203.5 1544h0M257.5 1544.5h0M212 1561.5h0M127 1471h0M138 1564.5h0M130.5 1477h0M135 1563.5h0M140 1487.5h0M256.5 1556.5h0M132 1484.5h0M256.5 1539.5h0M252 1537.5h0M259 1551h0M126 1462h0M133.5 1444h0M214 1559.5h0M133.5 1448h0M201 1554h0M137 1488.5h0M131 1491.5h0M125 1557.5h0M230.5 1530.5h0M209.5 1542h0M219.5 1561.5h0M244.5 1535h0M139 1563.5h0M126 1558.5h0M127.5 1539h0M246 1537h0M216 1533h0M133.5 1456h0M251.5 1562h0M135 1484h0M221 1565.5h0M129 1453.5h0M138 1533.5h0M217 1561.5h0M258.5 1548.5h0M249 1554h0M218 1560.5h0M256 1539.5h0M233 1566h0M211 1557.5h0M128.5 1467.5h0M215 1563h0M139.5 1459.5h0M226 1565.5h0M206.5 1540.5h0M201.5 1554h0M132.5 1452h0M205 1546h0M243.5 1535.5h0M139 1457h0M228.5 1565h0M208.5 1556.5h0M129 1482h0M140.5 1455h0M248.5 1557h0M254 1536h0M135 1488.5h0M224.5 1535h0M218.5 1564h0M225 1566h0M204.5 1546.5h0M198 1543.5h0M262 1546.5h0M126.5 1465.5h0M255.5 1545h0M137 1453.5h0M140.5 1454h0M249 1532.5h0M132.5 1456h0M135 1567.5h0M229.5 1531h0M224.5 1565.5h0M242 1559h0M227.5 1561.5h0M252 1557.5h0M258.5 1548.5h0M133 1485h0M126 1543.5h0M195.5 1545.5h0M132.5 1447.5h0M200 1552.5h0M126.5 1557.5h0M140 1538h0M257 1544.5h0M133.5 1491.5h0M135.5 1489.5h0M197.5 1549.5h0M126.5 1561h0M235 1557h0M213.5 1535h0M128.5 1543.5h0M132.5 1479.5h0M257.5 1544.5h0M252.5 1557.5h0M231.5 1566h0M228.5 1533h0M255 1555.5h0M227 1562.5h0M138 1454h0M217 1559.5h0M249.5 1535h0M248 1537.5h0M128 1466h0M127 1474h0M246.5 1538h0M212.5 1558h0M198.5 1544.5h0M137.5 1566h0M140 1464.5h0M128.5 1484.5h0M252.5 1558h0M226.5 1533h0M140.5 1566h0M131.5 1447.5h0M247.5 1560.5h0M256.5 1553h0M127 1455.5h0M135.5 1482.5h0M253 1554.5h0M204.5 1543h0M128.5 1540h0M126.5 1548h0M199.5 1547.5h0M243.5 1538.5h0M204.5 1544.5h0M135.5 1474.5h0M252 1558h0M135.5 1568h0M256.5 1552h0M218 1539h0M131.5 1451h0M234.5 1560.5h0M140 1462.5h0M126.5 1551h0M248.5 1535h0M125 1553h0M132.5 1532.5h0M248.5 1561h0M214.5 1561h0M252 1537h0M126.5 1559.5h0M252 1534h0M131.5 1534.5h0M209.5 1542.5h0M133.5 1490h0M227 1533h0M257 1552.5h0M227 1563h0M132 1490h0M205 1547.5h0M218 1561h0M138.5 1453.5h0M226 1565.5h0M203.5 1543h0M220 1533.5h0M221.5 1566h0M128.5 1468.5h0M211 1535h0M251 1543h0M217 1561.5h0M215.5 1535h0M132.5 1490h0M137.5 1449h0M258.5 1551.5h0M253 1543.5h0M219 1564.5h0M227 1566h0M129 1479.5h0M137.5 1450.5h0M137 1492h0M222 1561.5h0M254 1540h0M215 1561.5h0M203 1540.5h0M130 1485.5h0M224 1564.5h0M239 1563.5h0M139 1484h0M204 1545.5h0M249.5 1560h0M130.5 1466.5h0M139 1461.5h0M232 1530.5h0M209 1537h0M126 1560h0M140.5 1467.5h0M128 1456.5h0M144 1554h0M250.5 1560h0M210.5 1545.5h0M136 1488.5h0M205.5 1545.5h0M139.5 1471h0M247.5 1535h0M128.5 1453.5h0M254 1536.5h0M252.5 1540h0M131 1566.5h0M138 1452.5h0M132.5 1448h0M130.5 1453.5h0M245.5 1537.5h0M135.5 1456.5h0M255 1554h0M217 1560.5h0M232.5 1533h0M140.5 1474.5h0M136.5 1483h0M251 1542h0M199 1551.5h0M137 1536.5h0M129 1448h0M259.5 1543.5h0M130.5 1448h0M220.5 1534h0M249.5 1556h0M242 1561h0M138 1464.5h0M133.5 1454h0M130 1481h0M256.5 1548.5h0M238 1536.5h0M128.5 1465.5h0M208 1558.5h0M226 1564h0M200 1548.5h0M140.5 1456.5h0M136.5 1480.5h0M126.5 1545h0M246.5 1561.5h0M245.5 1535.5h0M246 1535h0M240 1561h0M256.5 1552.5h0M251 1540h0M135.5 1492h0M226 1531h0M138 1536h0M142 1560.5h0M133 1537.5h0M237.5 1563.5h0M237 1537h0M215 1538h0M256.5 1542.5h0M220.5 1534.5h0M138 1463h0M222 1532.5h0M247.5 1551.5h0M251.5 1558.5h0M254 1557h0M255 1555h0M133.5 1449h0M204.5 1555.5h0M129.5 1484h0M234.5 1533h0M207 1553.5h0M215.5 1560.5h0M140.5 1555.5h0M248 1559.5h0M209.5 1537.5h0M202 1552.5h0M246 1536h0M229 1532.5h0M127.5 1467h0M222.5 1536.5h0M137 1461.5h0M202.5 1551h0M132 1531.5h0M217 1534.5h0M132 1479h0M206 1551h0M243 1536.5h0M259 1544.5h0M257 1554h0M127.5 1538.5h0M129 1565h0M196 1545h0M244 1536h0M135.5 1480.5h0M131 1488h0M128 1457.5h0M212.5 1539.5h0M139 1565h0M129.5 1463.5h0M251 1543h0M235.5 1562.5h0M133 1488.5h0M255.5 1554.5h0M134.5 1485.5h0M252.5 1538.5h0M234 1533h0M133 1489.5h0M249.5 1557h0M132 1477h0M138.5 1536h0M238.5 1535h0M200.5 1553.5h0M141.5 1540.5h0M224.5 1562h0M135.5 1534h0M207 1555h0M142 1542.5h0M207 1546h0M213 1538h0M141 1554h0M204 1545h0M242 1561h0M248.5 1559.5h0M129.5 1565.5h0M127.5 1463h0M200.5 1547.5h0M135 1473h0M133 1568h0M243 1554h0M250 1541.5h0M253.5 1546.5h0M127 1562.5h0M208.5 1552.5h0M135 1482h0M130.5 1539.5h0M260 1541.5h0M260.5 1552h0M209 1558h0M139 1463h0M204.5 1555.5h0M223 1565h0M203.5 1554h0M134 1452h0M260.5 1540.5h0M198 1548h0M138.5 1470.5h0M254.5 1550h0M210.5 1541h0M243 1561.5h0M226.5 1531h0M200.5 1548.5h0M228 1535h0M133 1478.5h0M235 1536h0M137.5 1485h0M134 1488.5h0M134 1567.5h0M208.5 1556h0M131.5 1487h0M141 1541.5h0M229.5 1532.5h0M130 1484.5h0M138.5 1457.5h0M128 1456.5h0M224.5 1532.5h0M215.5 1538h0M223.5 1564.5h0M132 1483.5h0M137 1451h0M258 1549.5h0M242.5 1535.5h0M203.5 1555.5h0M249.5 1562h0M195.5 1547h0M133.5 1480.5h0M235 1561h0M134.5 1492.5h0M132 1479.5h0M127.5 1560.5h0M211.5 1538h0M136.5 1460.5h0M213.5 1553.5h0M215.5 1559.5h0M132.5 1485h0M233 1563h0M213.5 1561h0M254.5 1547h0M204.5 1545.5h0M240 1557h0M124.5 1544.5h0M244.5 1541.5h0M212.5 1539h0M135.5 1481.5h0M141 1543h0M203.5 1547.5h0M207 1540h0M135 1534h0M126 1554h0M207.5 1548h0M256.5 1540h0M199 1550h0M216 1558.5h0M244 1558h0M127.5 1478h0M247.5 1558.5h0M247.5 1560h0M135 1450.5h0M252.5 1547.5h0M133.5 1532.5h0M216.5 1559h0M133.5 1449h0M142 1553.5h0M219 1532.5h0M127 1463h0M256.5 1551.5h0M249.5 1535.5h0M127.5 1542h0M247.5 1552.5h0M250.5 1550.5h0M131 1485.5h0M140.5 1541.5h0M226.5 1566h0M224 1557h0M249 1539.5h0M240.5 1560.5h0M229 1534h0M131.5 1460.5h0M140.5 1536.5h0M199 1547.5h0M127 1463h0M203.5 1544.5h0M131 1486h0M139 1468.5h0M138 1450h0M129 1459h0M205 1540.5h0M140 1460h0M250.5 1559.5h0M217.5 1534.5h0M135 1567h0M140 1561h0M206.5 1554h0" stroke="#005aff" stroke-width="1.6" stroke-linecap="square" fill="none"/>
<path d="M243 1557.5h0M128 1461.5h0M248 1542.5h0M251 1557h0M135 1483.5h0M254.5 1548h0M203.5 1555h0M141 1541h0M255 1546h0M207.5 1554.5h0M253.5 1550.5h0M237.5 1561h0M256 1545.5h0M241.5 1562h0M239 1538h0M231.5 1562.5h0M133.5 1564.5h0M131 1453h0M138 1480h0M222 1562.5h0M249.5 1537h0M130 1456.5h0M134.5 1482.5h0M202.5 1544h0M224 1563h0M247.5 1539h0M132.5 1567.5h0M215 1556.5h0M136.5 1450.5h0M228.5 1536h0M211 1539.5h0M130 1480.5h0M125.5 1555.5h0M245 1559.5h0M234.5 1533.5h0M226 1562.5h0M207.5 1554h0M126.5 1543h0M199 1550h0M248 1559h0M136 1566.5h0M136 1535h0M134.5 1449h0M251.5 1549h0M140 1536.5h0M137.5 1478h0M127.5 1477.5h0M235.5 1533.5h0M251.5 1555.5h0M254 1551.5h0M251.5 1553.5h0M246.5 1539h0M251.5 1541.5h0M201 1552.5h0M231.5 1535h0M219 1535.5h0M208.5 1555h0M135.5 1481h0M200.5 1548.5h0M237 1534h0M258.5 1547.5h0M125.5 1555h0M205.5 1542.5h0M130 1537h0M133 1489h0M255 1546h0M129.5 1472h0M129 1451h0M225.5 1561.5h0M257.5 1542.5h0M254.5 1549.5h0M217 1535h0M213.5 1536.5h0M208 1555h0M137 1487h0M240.5 1533.5h0M236 1561h0M235 1534h0M140 1562.5h0M127 1450.5h0M143 1549.5h0M205.5 1544.5h0M214 1543.5h0M206.5 1539h0M205.5 1549h0M233.5 1561.5h0M139 1473h0M138.5 1464.5h0M130 1480.5h0M255 1552h0M230.5 1563.5h0M242.5 1539h0M223 1535.5h0M236 1534h0M213.5 1534.5h0M208 1554h0M138 1456.5h0M137 1474.5h0M207 1555h0M130.5 1483.5h0M136.5 1483h0M216 1539.5h0M234 1564.5h0M128 1472h0M254 1538.5h0M257 1551.5h0M137 1451h0M125.5 1557.5h0M134.5 1536h0M247 1545.5h0M228 1565h0M214.5 1558.5h0M126.5 1546.5h0M125 1547h0M257.5 1544.5h0M201.5 1547h0M205 1543h0M231.5 1534h0M137.5 1479h0M141 1555h0M202 1545h0M256.5 1536.5h0M202 1556h0M209 1545h0M220 1535h0M245 1538h0M250.5 1543h0M205.5 1544h0M251.5 1537h0M218 1535h0M134.5 1454h0M127 1477.5h0M131 1482.5h0M238.5 1533h0M135 1481.5h0M227.5 1561h0M127.5 1472h0M216.5 1560h0M247 1535h0M134.5 1472.5h0M139 1468h0M134.5 1535.5h0M139.5 1459h0M258 1550.5h0M229 1565h0M256.5 1555h0M256.5 1550.5h0M208 1544h0M208 1553h0M141 1548.5h0M254.5 1543.5h0M247 1545h0M139.5 1464h0M133.5 1484.5h0M133 1448.5h0M249 1558h0M132 1486h0M140 1454.5h0M254 1556h0M129.5 1453h0M243 1559h0M254.5 1547h0M134 1481.5h0M126.5 1557h0M137.5 1492h0M138 1482.5h0M210 1557h0M128 1542h0M140.5 1537.5h0M132.5 1481.5h0M134 1484h0M249.5 1537h0M244.5 1558.5h0M138 1473.5h0M138 1472.5h0M251 1556.5h0M136.5 1461.5h0M129 1470h0M204 1549h0M134.5 1471h0M247.5 1536.5h0M251.5 1543h0M131.5 1451.5h0M140.5 1471.5h0M218 1533.5h0M234 1562.5h0M137 1457h0M135 1447h0M142.5 1562h0M252.5 1557h0M131.5 1566.5h0M144.5 1548.5h0M129.5 1536.5h0M127 1549.5h0M215.5 1561h0M133.5 1490h0M204 1551.5h0M138 1535h0M129 1476.5h0M213 1559h0M133.5 1566.5h0M126 1554.5h0M131 1534h0M258.5 1547.5h0M240 1555h0M254 1552.5h0M256.5 1552h0M130 1453.5h0M135 1565.5h0M245.5 1540h0M137.5 1451h0M198 1542.5h0M253 1555.5h0M137 1483.5h0M218 1559h0M137 1454h0M223.5 1532.5h0M253 1545.5h0M137.5 1565h0M132.5 1481h0M130.5 1461.5h0M240.5 1553h0M256.5 1541.5h0M212 1543.5h0M254.5 1539h0M245 1551.5h0M141.5 1539.5h0M206 1554h0M137 1464.5h0M213.5 1559h0M242.5 1561.5h0M209 1545h0M248 1557h0M139 1464.5h0M206.5 1545.5h0M229 1566h0M126.5 1558h0M250 1546.5h0M210.5 1558.5h0M253.5 1553.5h0M227 1534h0M249.5 1545.5h0M251 1547.5h0M130 1482h0M233.5 1550.5h0M254 1539h0M248.5 1559h0M131.5 1448.5h0M204 1549h0M137 1535h0M131.5 1482.5h0M134 1566h0M242 1556h0M138 1465.5h0M132 1482.5h0M130 1455.5h0M134.5 1448.5h0M216 1560.5h0M236 1535h0M208 1540h0M140.5 1468.5h0M234 1535.5h0M247.5 1536h0M218 1535h0M129.5 1564.5h0M137 1472h0M237 1538.5h0M134 1458h0M227.5 1565h0M133.5 1489h0M228.5 1532.5h0M205 1552.5h0M127.5 1458.5h0M201 1539.5h0M137 1468h0M223.5 1564h0M242 1559h0M212.5 1555h0M244 1540h0M248 1546.5h0M128 1560.5h0M257.5 1545h0M135.5 1565.5h0M132.5 1452h0M139.5 1473h0M252 1555.5h0M215 1557.5h0M135.5 1533.5h0M219 1562h0M207.5 1556h0M203 1545.5h0M250 1552.5h0M204.5 1556h0M230.5 1562.5h0M209.5 1558h0M134 1478h0M250 1555h0M252 1546h0M208 1554.5h0M231.5 1562h0M131.5 1534.5h0M233 1533.5h0M139 1470h0M137.5 1535.5h0M205.5 1555h0M137 1469.5h0M125 1551.5h0M236.5 1535.5h0M253 1549h0M134 1447h0M244.5 1557.5h0M231.5 1564h0M131 1484h0M220 1558.5h0M232.5 1557.5h0M129.5 1455h0M139.5 1460.5h0M258.5 1551h0M139 1470.5h0M130 1536.5h0M132.5 1455h0M132 1568h0M219 1560.5h0M133.5 1449h0M230.5 1557.5h0M132.5 1478.5h0M249.5 1539h0M204 1551.5h0M255 1549h0M251 1553h0M238.5 1538h0M132 1535.5h0M238.5 1561.5h0M138.5 1538h0M213 1537.5h0M251 1543h0M125 1555h0M130 1454h0M134.5 1487.5h0M244.5 1561.5h0M249 1545.5h0M212 1537h0M229 1533.5h0M224.5 1564.5h0M134 1451h0M245.5 1559.5h0M240.5 1558.5h0M214 1537.5h0M129 1461.5h0M226.5 1534.5h0M230.5 1562.5h0M133.5 1450h0M129.5 1459.5h0M255 1548h0M217 1557h0M126.5 1466.5h0M244 1538h0M207 1555.5h0M210.5 1549.5h0M136.5 1483.5h0M209 1545.5h0M132 1539h0M204 1545.5h0M135.5 1476h0M252.5 1538.5h0M128.5 1539.5h0M136.5 1470h0M214.5 1559h0M137 1466.5h0M128.5 1478h0M132 1455h0M213 1540h0M129.5 1475h0M204 1544.5h0M129 1565.5h0M136 1483.5h0M136.5 1566.5h0M233 1561h0M129.5 1537.5h0M216.5 1561h0M217.5 1561.5h0M238 1533.5h0M131.5 1477.5h0M203.5 1551h0M204 1545.5h0M243 1557.5h0M224 1560.5h0M254 1550.5h0M133.5 1484.5h0M137.5 1451h0M244.5 1550h0M140 1469h0M140.5 1556.5h0M129.5 1472.5h0M135 1450.5h0M240 1559h0M132.5 1461.5h0M137 1536.5h0M131 1449.5h0M133 1472.5h0M213.5 1546.5h0M136.5 1564.5h0M130.5 1466h0M243.5 1556h0M208 1543.5h0M201 1547.5h0M248.5 1538h0M131 1535.5h0M210 1539h0M237.5 1561h0M236.5 1555.5h0M220 1535h0M136.5 1534.5h0M243 1557h0M136.5 1482h0M251.5 1552h0M132 1479.5h0M243.5 1557h0M231.5 1555h0M244.5 1559h0M133 1535.5h0M129 1477.5h0M229.5 1565.5h0M223.5 1564.5h0M138 1484.5h0M250.5 1536.5h0M137.5 1475.5h0M134.5 1535h0M217 1537.5h0M234.5 1561h0M205.5 1551.5h0M231.5 1536.5h0M130 1474h0M138 1538h0M137 1477h0M138.5 1463h0M207 1546h0M201 1548.5h0M208.5 1544h0M139.5 1541.5h0M133.5 1483.5h0M129.5 1477.5h0M218.5 1534.5h0M240 1534.5h0M132 1564.5h0M254.5 1551.5h0M131.5 1474.5h0M204 1548.5h0M137 1472.5h0M126.5 1542h0M240 1561.5h0M229.5 1533.5h0M132.5 1454.5h0M131.5 1564h0M251.5 1541.5h0M217 1558.5h0M243 1538h0M137.5 1475.5h0M251 1544.5h0M128 1469h0M243 1549.5h0M131 1446.5h0M235 1548.5h0M132.5 1483h0M133 1459.5h0M236 1561.5h0M225.5 1536.5h0M138.5 1459h0M213.5 1541h0M237 1540.5h0M132 1482h0M207.5 1555h0M230 1565.5h0M138 1478h0M234 1535h0M223 1563.5h0M138 1469h0M240.5 1538h0M238 1538h0M223.5 1537h0M129.5 1455h0M210 1554h0M138 1535h0M229.5 1535.5h0M137 1455h0M139.5 1455h0M251 1540.5h0M131 1533h0M252.5 1555.5h0M249.5 1558h0M213.5 1556h0M135 1536h0M253 1544h0M247 1539h0M207 1551.5h0M234.5 1562h0M209.5 1551h0M137.5 1565.5h0M138 1535.5h0M233.5 1533.5h0M215 1558.5h0M134 1482h0M128.5 1562h0M137 1452h0M212 1558h0M223.5 1535.5h0M129.5 1480.5h0M231.5 1539.5h0M211 1551h0M130 1452.5h0M210.5 1543h0M250 1549h0M248.5 1546h0M253 1551h0M129.5 1475.5h0M134.5 1486h0M256.5 1550.5h0M130 1455.5h0M253.5 1546.5h0M235 1560.5h0M139.5 1561h0M129 1462.5h0M210.5 1552h0M138 1479h0M235.5 1552.5h0M135 1536h0M133 1453h0M137.5 1457.5h0M129 1478h0M130.5 1535h0M130.5 1475.5h0M241 1544h0M205.5 1548h0M128.5 1554.5h0M244.5 1557h0M258 1542.5h0M129.5 1462.5h0M252.5 1555h0M229.5 1555h0M252.5 1546.5h0M135 1485h0M209 1547.5h0M129.5 1457h0M133.5 1534.5h0M213 1541.5h0M206.5 1542.5h0M132.5 1455.5h0M213 1541h0M215 1560h0M213 1540.5h0M137 1470h0M214.5 1534.5h0M251 1547.5h0M230 1536h0M137.5 1536h0M244.5 1538h0M252 1552.5h0M255 1543h0M133 1489h0M215.5 1558h0M249.5 1542.5h0M134 1482h0M213.5 1540.5h0M241.5 1562h0M131 1480.5h0M202.5 1541h0M206.5 1549.5h0M252.5 1551.5h0M208 1545.5h0M212.5 1543.5h0M249.5 1551.5h0M206.5 1542.5h0M223.5 1539h0M221.5 1536h0M132 1451h0M140.5 1550h0M213.5 1537h0M224.5 1556.5h0M255 1541h0M135.5 1564.5h0M207.5 1546h0M243 1547h0M240 1559h0M218 1550.5h0M211 1543h0M131 1565h0M137 1472h0M244 1559.5h0M248.5 1557.5h0M133.5 1486h0M131.5 1484h0M137.5 1457h0M132.5 1480.5h0M223 1536h0M207.5 1544.5h0M200 1551h0M250.5 1555h0M135.5 1538h0M252.5 1542h0M222.5 1535.5h0M138 1458h0M199.5 1548.5h0M134.5 1450.5h0M209 1553.5h0M239.5 1541.5h0M129 1475.5h0M136 1454h0M224.5 1560.5h0M208.5 1545h0M249.5 1559.5h0M206.5 1553.5h0M206.5 1553h0M251 1544.5h0M138 1456.5h0M246.5 1538.5h0M206.5 1554h0M142 1561.5h0M246.5 1556h0M132 1454h0M219.5 1536.5h0M132 1537h0M240.5 1533h0M129.5 1476.5h0M215.5 1560.5h0M135 1483h0M206.5 1547h0M258 1552h0M230 1536h0M241 1541.5h0M257.5 1550h0M226.5 1535.5h0M141.5 1544h0M241 1537.5h0M131 1476.5h0M248.5 1557.5h0M126.5 1555.5h0M136 1462.5h0M247 1543h0M129.5 1460h0M127.5 1471h0M128.5 1473.5h0M205 1552h0M250.5 1549h0M249.5 1539.5h0M134.5 1447.5h0M214.5 1540.5h0M213.5 1547h0M132.5 1471.5h0M134 1488h0M217 1535.5h0M236 1535h0M242.5 1538.5h0M212.5 1547h0M246.5 1540h0M225.5 1562h0M128.5 1459h0M239 1560h0M215.5 1537.5h0M134 1477h0M243.5 1562h0M236.5 1561.5h0M248 1542h0M130.5 1475h0M137.5 1565.5h0M203.5 1547.5h0M213 1556h0M214.5 1552h0M235.5 1558h0M132 1467h0M215 1560.5h0M132 1462.5h0M140.5 1553.5h0M206 1546.5h0M130.5 1462.5h0M236 1539.5h0M204 1548.5h0M249 1554h0M126.5 1551h0M249 1544h0M132.5 1451h0M133 1452.5h0M239 1545.5h0M135 1454.5h0M127 1542h0M136.5 1463h0M205.5 1552.5h0M130.5 1541.5h0M202.5 1551h0M248 1558.5h0M128.5 1449h0M212 1556.5h0M244.5 1538.5h0M137 1456.5h0M250.5 1547.5h0M209 1549h0M229 1538h0M223.5 1561h0M132 1480.5h0M255.5 1546.5h0M241 1536h0M238.5 1562.5h0M223.5 1533.5h0M137.5 1463.5h0M222.5 1536h0M209 1545h0M226 1561h0M213 1553h0M245 1543.5h0M207 1549.5h0M214 1543h0M133 1456h0M208.5 1547.5h0M251.5 1551h0M130.5 1451h0M133 1453h0M139 1539h0M134 1566.5h0M240.5 1540h0M241.5 1558h0M247.5 1542h0M127 1478h0M138.5 1564.5h0M254.5 1541h0M130 1461.5h0M229 1560.5h0M134.5 1482h0M241.5 1550.5h0M216 1539h0M239 1536.5h0" stroke="#0090ff" stroke-width="1.6" stroke-linecap="square" fill="none"/>
<path d="M212.5 1545.5h0M242 1537.5h0M137.5 1472.5h0M130.5 1564.5h0M133.5 1476h0M136.5 1471.5h0M222 1562.5h0M131.5 1467h0M135 1459h0M244 1558.5h0M219 1539.5h0M247 1539.5h0M248 1549h0M225.5 1534h0M137 1470.5h0M207 1545h0M138 1457h0M134.5 1565h0M244.5 1542.5h0M129 1453h0M134.5 1564h0M248 1542h0M229 1562h0M228.5 1556h0M234 1561h0M139 1561.5h0M137 1472.5h0M142 1555.5h0M260 1548.5h0M235.5 1537.5h0M138.5 1470.5h0M230.5 1538h0M252.5 1555.5h0M219.5 1540h0M221.5 1535.5h0M231.5 1535h0M219.5 1559h0M233 1560h0M129 1474.5h0M237 1563.5h0M134.5 1566.5h0M133.5 1455.5h0M131 1477h0M137 1462h0M205.5 1554h0M217.5 1560h0M130.5 1540h0M243 1545.5h0M133.5 1454h0M209 1552h0M133.5 1476h0M213 1557h0M247 1552.5h0M254 1555h0M212 1544h0M227.5 1531.5h0M132.5 1477.5h0M250.5 1538h0M131 1453.5h0M131 1450.5h0M242.5 1547.5h0M222 1559.5h0M127 1546h0M233 1560h0M132 1474h0M216 1543.5h0M250 1545h0M129 1538h0M137.5 1481h0M128.5 1477h0M250 1557h0M219.5 1536.5h0M135.5 1535.5h0M214.5 1551.5h0M141.5 1554h0M131 1485h0M135 1478.5h0M134 1456.5h0M242 1559h0M242 1557h0M249.5 1550.5h0M225.5 1534h0M230.5 1559.5h0M215.5 1547.5h0M228.5 1563h0M131 1479.5h0M252.5 1555h0M133.5 1483h0M232.5 1550.5h0M259.5 1548h0M203 1553.5h0M204.5 1544.5h0M132 1458.5h0M128.5 1478.5h0M239 1538h0M142 1555h0M134 1457h0M239.5 1550h0M248.5 1554.5h0M132.5 1464h0M129 1473h0M209.5 1557.5h0M215.5 1558.5h0M139 1468h0M136.5 1452.5h0M129.5 1462.5h0M243 1538h0M130 1471.5h0M246 1543h0M216.5 1546h0M136.5 1452.5h0M245 1545h0M235.5 1558h0M216 1542.5h0M214 1551h0M130.5 1540.5h0M212 1539.5h0M234.5 1537.5h0M220.5 1555h0M131 1476.5h0M236.5 1558.5h0M227 1557.5h0M135 1457.5h0M240.5 1561h0M137.5 1456h0M221.5 1535.5h0M209 1541h0M134 1475.5h0M213 1558.5h0M208.5 1549h0M238.5 1558.5h0M223 1536.5h0M210 1546h0M250.5 1552.5h0M219.5 1534.5h0M215 1542h0M132.5 1475.5h0M213 1555h0M233.5 1560h0M247.5 1554h0M214.5 1558h0M206 1550.5h0M210 1545.5h0M142.5 1557h0M136.5 1477.5h0M210.5 1550.5h0M201.5 1548.5h0M243.5 1548.5h0M204.5 1546h0M140 1542h0M128 1471.5h0M131.5 1455.5h0M224.5 1559h0M252 1546.5h0M226.5 1536h0M228.5 1562h0M220 1538h0M127 1560.5h0M132.5 1537.5h0M250.5 1557h0M207.5 1548h0M135.5 1534.5h0M243.5 1558.5h0M135 1458h0M139.5 1562.5h0M232.5 1536.5h0M235 1559.5h0M234.5 1538.5h0M215.5 1537h0M135.5 1475.5h0M134.5 1535h0M233 1533h0M212 1551h0M208.5 1549.5h0M129.5 1459h0M132.5 1565h0M252 1549.5h0M213 1555.5h0M132.5 1452h0M230 1551h0M134 1478h0M225 1562h0M253 1541.5h0M240 1538h0M249 1554h0M254.5 1549.5h0M205.5 1551.5h0M135 1476.5h0M133 1472.5h0M131 1452.5h0M132.5 1537.5h0M253.5 1548.5h0M207 1550.5h0M220.5 1560h0M129 1463.5h0M207 1547h0M255 1548h0M234 1538.5h0M137.5 1477.5h0M232 1547.5h0M128 1556.5h0M248 1554h0M243 1547h0M129.5 1560h0M255 1546.5h0M240.5 1558.5h0M256 1550h0M249 1558.5h0M253 1549.5h0M132.5 1465h0M222 1536.5h0M223 1561.5h0M248 1539.5h0M207 1546h0M245 1546.5h0M130.5 1463h0M228 1557.5h0M252 1546.5h0M250 1557.5h0M136.5 1537.5h0M234.5 1539h0M239 1560.5h0M247.5 1537.5h0M135 1473h0M236.5 1538.5h0M135.5 1451h0M241.5 1539.5h0M136.5 1536h0M250.5 1553.5h0M222.5 1550.5h0M204 1547h0M135.5 1476.5h0M240.5 1539h0M203.5 1545.5h0M129.5 1480h0M221.5 1561.5h0M245.5 1542.5h0M253 1553.5h0M129 1464.5h0M215.5 1542h0M221 1554.5h0M249 1545h0M223 1560.5h0M239.5 1537h0M211.5 1553.5h0M128.5 1560.5h0M246 1538.5h0M217 1559.5h0M131.5 1539h0M244.5 1545.5h0M129 1561.5h0M221.5 1560h0M136 1459h0M132 1478h0M240.5 1537.5h0M250 1557h0M134.5 1482.5h0M244 1556h0M132.5 1470.5h0M250.5 1548.5h0M247 1554h0M138 1469.5h0M213 1550.5h0M202 1550h0M247.5 1543.5h0M129.5 1457.5h0M125.5 1553h0M238.5 1537h0M222.5 1562h0M133.5 1456h0M229 1534.5h0M129.5 1459.5h0M219.5 1559h0M134 1486.5h0M139.5 1558.5h0M226.5 1537.5h0M221 1535.5h0M137 1564h0M232 1557h0M128 1556h0M131.5 1482h0M217 1545h0M243 1539.5h0M223 1556.5h0M231.5 1559h0M231 1540h0M136 1465h0M210.5 1551h0M225.5 1537.5h0M132 1479.5h0M244 1541h0M252.5 1549h0M214 1540.5h0M242.5 1536.5h0M131 1468.5h0M211.5 1557h0M235 1559h0M129 1466h0M223 1535.5h0M135 1564.5h0M253.5 1554.5h0M229 1534.5h0M202.5 1550.5h0M139 1561h0M203 1547h0M134.5 1483.5h0M136.5 1539h0M136.5 1452h0M224.5 1562h0M129 1458.5h0M131.5 1474h0M133.5 1455.5h0M130 1459.5h0M209 1554h0M210.5 1554h0M245.5 1555h0M126 1545h0M249.5 1553.5h0M221 1554.5h0M133.5 1476.5h0M130 1462.5h0M247.5 1554h0M242 1555.5h0M128 1560.5h0M133 1463.5h0M213.5 1559h0M136.5 1460h0M133 1566h0M141 1544.5h0M224.5 1537h0M244 1539.5h0M248 1538.5h0M135 1452h0M229 1561.5h0M133 1468.5h0M128.5 1475h0M232.5 1559.5h0M134.5 1452.5h0M137.5 1463.5h0M130 1474h0M136 1479.5h0M135 1535h0M135 1564h0M227.5 1561.5h0M134 1537.5h0M214.5 1541.5h0M212 1542.5h0M214.5 1550.5h0M142.5 1552h0M130.5 1450.5h0M141 1540.5h0M253.5 1545.5h0M139 1545h0M130 1558.5h0M245 1541h0M239.5 1552h0M208 1543.5h0M129 1564h0M205 1550.5h0M228.5 1559h0M138 1468.5h0M214 1546.5h0M233.5 1535.5h0M206 1549.5h0M136 1471h0M225 1532.5h0M130.5 1458.5h0M255 1548h0M248.5 1538.5h0M222 1538h0M234.5 1537h0M216 1542h0M224 1559.5h0M244.5 1554h0M132 1468h0M226.5 1561.5h0M135 1478.5h0M246.5 1548.5h0M133 1452.5h0M232 1560.5h0M235 1537h0M243.5 1548h0M139.5 1563h0M243 1553.5h0M133 1483h0M134.5 1457h0M209.5 1557.5h0M237.5 1560h0M132.5 1468.5h0M251 1545h0M219.5 1538.5h0M216 1557.5h0M242.5 1553.5h0M131 1480.5h0M132.5 1456.5h0M135 1477h0M135.5 1484h0M253 1547.5h0M248 1552.5h0M240.5 1561h0M237.5 1559h0M235.5 1540.5h0M133 1460.5h0M130.5 1455.5h0M210.5 1545.5h0M138 1465h0M137 1464.5h0M225.5 1541.5h0M237.5 1537h0M223.5 1537h0M247.5 1556h0M135.5 1535h0M245 1556.5h0M137 1479.5h0M137.5 1468.5h0M209.5 1545h0M129.5 1470.5h0M208 1552h0M133.5 1537h0M207 1550.5h0M242 1538h0M228.5 1558.5h0M236.5 1543h0M128.5 1465.5h0M247 1540.5h0M137.5 1457h0M139 1561h0M211 1552h0M130 1471.5h0M228.5 1561.5h0M255 1547.5h0M132 1465h0M216.5 1557h0M237 1554.5h0M209.5 1555h0M226 1534.5h0M250.5 1546.5h0M211 1555.5h0M241 1558h0M254.5 1553.5h0M241.5 1538.5h0M243.5 1537h0M245 1554.5h0M209.5 1549h0M243.5 1554.5h0M246 1544h0M136 1462h0M249.5 1558h0M135 1480h0M211.5 1546h0M135 1535h0M203 1550h0M241.5 1560h0M134.5 1480.5h0M219 1545.5h0M248 1547.5h0M214 1542h0M131 1471.5h0M239.5 1541.5h0M133 1535h0M246.5 1554.5h0M215 1554h0M136 1456.5h0M250.5 1547.5h0M134 1449.5h0M248.5 1555.5h0M224 1538h0M238.5 1555.5h0M216 1540h0M243 1552h0M130 1457h0M212.5 1545.5h0M137 1470h0M129.5 1469h0M243.5 1553.5h0M206.5 1546h0M245 1541.5h0M132 1463h0M131.5 1452h0M228 1558.5h0M130.5 1466.5h0M136.5 1454h0M246.5 1554.5h0M219 1540h0M134 1469h0M221 1552.5h0M243.5 1540.5h0M230.5 1534.5h0M136 1565h0M246 1538.5h0M233 1558.5h0M131 1454.5h0M136 1465h0M223.5 1558h0M134.5 1447h0M230.5 1557.5h0M127.5 1547.5h0M134 1467h0M135.5 1459h0M216.5 1534.5h0M141 1546.5h0M141.5 1549.5h0M235.5 1560h0M205 1547.5h0M232 1537h0M130 1465h0M221 1534.5h0M217 1544.5h0M245 1555h0M245.5 1551.5h0M129.5 1453h0M227.5 1548.5h0M232 1561h0M235 1538h0M250.5 1545.5h0M219.5 1544.5h0M232.5 1539.5h0M212 1543.5h0M251.5 1554h0M210 1553h0M211 1544h0M232 1560.5h0M245.5 1541h0M135.5 1457h0M135 1566h0M137.5 1563.5h0M231.5 1539.5h0M213 1556h0M136 1463h0M207 1554.5h0M223 1536.5h0M133.5 1470h0M134 1475.5h0M133.5 1457h0M132.5 1476h0M216 1551.5h0M137 1457.5h0M212 1554.5h0M135 1464.5h0M133.5 1474.5h0M142 1547.5h0M227 1556.5h0M234 1558.5h0M222.5 1541.5h0M218 1543h0M233.5 1537.5h0M214.5 1540h0M137.5 1537h0M134.5 1474h0M132 1537h0M231.5 1539.5h0M236 1556.5h0M133.5 1565h0M136 1474h0M248.5 1548.5h0M134 1475.5h0M253.5 1544.5h0M240.5 1539h0M245 1548h0M137.5 1465h0M205 1551h0M134.5 1461h0M211 1558h0M247.5 1556.5h0M250 1552h0M139 1558.5h0M134 1476h0M241.5 1539h0M207 1545.5h0M227 1560.5h0M219 1548.5h0M217.5 1540h0M130.5 1458h0M251.5 1548.5h0M223 1562h0M205 1545h0M130 1467.5h0M249 1544.5h0M243 1558.5h0M239 1552h0M239.5 1538.5h0M239 1542h0M239 1559.5h0M240.5 1539h0M220.5 1536.5h0M248 1554h0M131.5 1464h0M235 1552h0M213.5 1543h0M237 1557.5h0M254.5 1542h0M246.5 1547h0M244.5 1540.5h0M209.5 1554.5h0M137.5 1458.5h0M133.5 1454h0M128.5 1470h0M133 1455.5h0M248.5 1540h0M248.5 1551h0M140 1557h0M218 1555.5h0M209 1543.5h0M249.5 1555.5h0M237.5 1547h0M218 1542.5h0M226 1557h0M213.5 1544h0M134.5 1469h0M252 1547h0M141.5 1551h0M136.5 1474.5h0M226.5 1564h0M133 1485.5h0M134 1474h0M130 1540h0M133 1564h0M232.5 1541h0M216 1550.5h0M222.5 1556h0M133.5 1478h0M221.5 1559.5h0M226.5 1538h0M129 1471h0M247 1549.5h0M132 1537.5h0M130 1463.5h0M240 1540.5h0M135.5 1458.5h0M138.5 1555h0M129.5 1539h0M131 1454h0M131 1562.5h0M250 1548.5h0M133.5 1481h0M241 1554.5h0M210.5 1551h0M130 1463h0M131 1474.5h0M213 1546.5h0M247.5 1545.5h0M227.5 1558h0M244.5 1556h0M204 1546.5h0M235 1553.5h0M129 1472h0M141 1548h0M138 1459h0M245.5 1542h0M135.5 1471.5h0M211.5 1542.5h0M237.5 1544.5h0M135.5 1563.5h0M135 1537h0M237 1562h0M218.5 1538h0M130.5 1566h0M243.5 1543h0M136.5 1562h0M136.5 1481.5h0M217.5 1555h0M134 1452.5h0M222 1561.5h0M215 1555.5h0M218.5 1554h0M134.5 1477h0M246 1544h0M131.5 1539h0M213.5 1554h0M232 1550.5h0M240.5 1538.5h0M137 1548h0M224.5 1561.5h0M238.5 1553h0M209.5 1548.5h0M233 1558.5h0M233 1534.5h0M240 1556h0M222.5 1557.5h0M133 1561.5h0M250.5 1546h0M136 1459h0M226 1559.5h0M233.5 1560h0M214 1552.5h0M133.5 1472h0M130.5 1460h0M134 1450h0M131 1457h0M131.5 1456h0M217 1537.5h0M130.5 1561h0M213.5 1554h0M218.5 1552.5h0M132.5 1461h0M223 1557h0M229.5 1556.5h0M139.5 1553.5h0M238 1549.5h0" stroke="#0dc1f1" stroke-width="1.6" stroke-linecap="square" fill="none"/>
<path d="M224 1537.5h0M135.5 1465.5h0M240.5 1538.5h0M248 1548.5h0M221 1536h0M220.5 1558h0M243.5 1557h0M127 1549.5h0M210 1554h0M218 1537.5h0M243 1556.5h0M217 1552h0M129 1457.5h0M136 1473h0M214 1548h0M246 1550h0M228.5 1551.5h0M133.5 1462h0M132.5 1460.5h0M219.5 1559h0M236 1544.5h0M215.5 1543.5h0M133.5 1563.5h0M216 1544.5h0M230 1535h0M133.5 1563h0M244.5 1538h0M133.5 1472.5h0M215.5 1560h0M215 1542.5h0M130.5 1465.5h0M238 1541.5h0M225 1549.5h0M221 1542.5h0M137.5 1538h0M132.5 1470.5h0M207.5 1545h0M246 1549.5h0M132.5 1461.5h0M236 1544h0M235.5 1560.5h0M238 1539.5h0M221 1560.5h0M219 1562h0M228.5 1536.5h0M140.5 1560.5h0M249 1548h0M237.5 1560h0M233.5 1536.5h0M242 1553h0M133.5 1561h0M219.5 1548.5h0M243 1557h0M213.5 1558.5h0M211 1551.5h0M241 1553h0M137 1472h0M248.5 1551.5h0M130 1539h0M132.5 1538.5h0M129.5 1541h0M224.5 1558h0M141 1552.5h0M224.5 1560h0M219.5 1549.5h0M212.5 1545.5h0M241.5 1553h0M244 1548h0M249.5 1547h0M210.5 1547.5h0M139 1558h0M221 1558h0M229 1560.5h0M226.5 1556.5h0M224 1539.5h0M233 1557h0M232.5 1534.5h0M237 1540h0M131 1464.5h0M219 1540.5h0M136.5 1476h0M134.5 1459.5h0M220.5 1560h0M234.5 1557.5h0M221 1543h0M239 1559h0M227 1560.5h0M206 1549h0M249 1550h0M219.5 1542h0M215 1556h0M227.5 1543h0M242.5 1537h0M241 1557h0M131 1453h0M230.5 1553h0M247.5 1548.5h0M233 1537h0M235 1558h0M208.5 1544.5h0M133.5 1465h0M220.5 1538.5h0M136 1473.5h0M248.5 1552h0M133.5 1455.5h0M220.5 1535h0M135.5 1474.5h0M132 1472.5h0M135 1535h0M243 1555.5h0M227.5 1540.5h0M137.5 1471h0M225 1557h0M218 1542h0M246.5 1553h0M134 1461.5h0M140 1542h0M135.5 1478h0M222 1555.5h0M236 1559h0M246.5 1557h0M128.5 1463.5h0M226.5 1560h0M233 1541h0M134 1566h0M251 1552.5h0M139 1558.5h0M131 1562.5h0M212.5 1551h0M223 1536h0M249 1552.5h0M130.5 1474h0M224.5 1556.5h0M129.5 1465.5h0M135.5 1563h0M132.5 1454.5h0M232 1559h0M138.5 1463.5h0M137.5 1554.5h0M130.5 1472.5h0M138.5 1458h0M128.5 1464.5h0M134.5 1460.5h0M133.5 1537h0M235.5 1556.5h0M137 1566.5h0M243.5 1547.5h0M232.5 1560h0M233.5 1559h0M213.5 1553.5h0M234 1553.5h0M141.5 1549.5h0M231 1545.5h0M219.5 1557.5h0M232 1560h0M236.5 1542.5h0M134 1537h0M215.5 1540.5h0M235.5 1560h0M241 1551.5h0M248 1543.5h0M134.5 1473h0M240.5 1538.5h0M134 1458h0M214 1557.5h0M131.5 1474.5h0M211.5 1547h0M138 1468h0M245 1551h0M134 1453h0M132 1458.5h0M209.5 1552h0M135 1460h0M221 1541h0M217 1554.5h0M233 1556h0M132 1461h0M137 1539h0M239.5 1559h0M225.5 1560.5h0M220.5 1557h0M232 1559h0M135 1477.5h0M230.5 1557.5h0M210.5 1546h0M233.5 1539.5h0M127.5 1557h0M133 1463.5h0M229 1555h0M235 1539.5h0M132.5 1462h0M207 1541.5h0M245.5 1546h0M138 1472.5h0M139.5 1544.5h0M133 1462.5h0M211 1546.5h0M213.5 1557h0M133 1473h0M129 1466.5h0M138.5 1543h0M135 1464h0M236 1549.5h0M138.5 1562.5h0M210 1547h0M127.5 1556h0M139 1560h0M132 1539.5h0M243 1550h0M135 1462h0M133.5 1474.5h0M247 1547.5h0M223.5 1554h0M240.5 1536.5h0M226.5 1540h0M131.5 1563.5h0M209.5 1549.5h0M127.5 1548h0M240.5 1554.5h0M216 1562h0M217.5 1549h0M237 1555.5h0M133 1473.5h0M242.5 1542h0M213 1540h0M228.5 1554h0M234.5 1538h0M242 1538.5h0M131.5 1460.5h0M245 1553h0M231 1554.5h0M228.5 1545h0M251.5 1552h0M208 1554.5h0M235.5 1545h0M238.5 1542h0M226.5 1559.5h0M130 1560.5h0M225 1534.5h0M139.5 1544.5h0M228 1557.5h0M130.5 1562.5h0M134 1563h0M134 1461.5h0M218 1536.5h0M212.5 1554.5h0M240 1537.5h0M241.5 1538.5h0M234.5 1558.5h0M216.5 1548h0M244 1544h0M131 1472h0M219.5 1537h0M221 1558.5h0M248 1540h0M137 1563h0M218.5 1541h0M132.5 1564.5h0M217.5 1559.5h0M233.5 1561h0M251.5 1556h0M133.5 1475h0M225 1539h0M240 1540h0M218 1537h0M228.5 1539.5h0M210.5 1548.5h0M229.5 1556.5h0M135.5 1464.5h0M236.5 1545.5h0M131.5 1541h0M214.5 1558.5h0M132.5 1538h0M239.5 1552.5h0M246.5 1554.5h0M250.5 1544h0M213.5 1554h0M210 1551.5h0M133.5 1537h0M226 1562h0M226.5 1537h0M220.5 1540h0M218 1542h0M126 1553.5h0M134 1468h0M207 1547h0M132 1458.5h0M231.5 1541.5h0M130.5 1462h0M134.5 1467.5h0M136 1463h0M135 1473h0M132 1477h0M135 1562.5h0M129 1468h0M132 1472.5h0M239 1548h0M132 1463.5h0M136 1465.5h0M135.5 1476.5h0M129 1560.5h0M238.5 1557.5h0M243 1547.5h0M133.5 1465.5h0M247 1552h0M130.5 1468h0M215 1552.5h0M211 1546.5h0M136.5 1461.5h0M135 1464.5h0M132 1467h0M246 1541h0M128.5 1545.5h0M226 1551.5h0M216.5 1547h0M133.5 1471.5h0M212 1550.5h0M227 1541.5h0M214.5 1553h0M224 1553.5h0M238.5 1557h0M206 1547.5h0M220 1551h0M217.5 1542h0M131 1455.5h0M133 1457.5h0M130.5 1562.5h0M131 1463h0M130.5 1455.5h0M206.5 1548.5h0M137.5 1538.5h0M210 1548.5h0M131.5 1563.5h0M235 1541h0M224 1541.5h0M227 1539h0M236 1552.5h0M239 1553h0M134 1562h0M249 1550.5h0M241 1557h0M223 1551h0M129.5 1470h0M242 1559h0M248.5 1538.5h0M134.5 1565.5h0M219 1547h0M238.5 1545h0M228.5 1541.5h0M132.5 1470h0M137.5 1561.5h0M216.5 1552.5h0M134.5 1462.5h0M231 1556.5h0M210.5 1548.5h0M213 1549.5h0M230.5 1538h0M208.5 1549h0M137 1471h0M134.5 1466h0M129.5 1472.5h0M218 1553.5h0M242.5 1553.5h0M241.5 1549.5h0M130 1558h0M243 1548h0M213 1544h0M221.5 1552.5h0M136 1469h0M130.5 1467h0M132.5 1471h0M228.5 1547.5h0M248.5 1550.5h0M241.5 1541h0M239.5 1552.5h0M128.5 1556h0M138 1564h0M237 1555.5h0M235 1545.5h0M222 1557h0M135 1469.5h0M217.5 1542h0M133 1469h0M233 1538h0M227.5 1541.5h0M218 1549.5h0M128.5 1556.5h0M232 1540h0M229.5 1537.5h0M250 1555h0M137 1561h0M235.5 1554.5h0M221.5 1536h0M217.5 1550h0M241.5 1550h0M129.5 1460.5h0M132 1473h0M251.5 1549.5h0M219.5 1552.5h0M247 1548.5h0M217 1545.5h0M216.5 1544.5h0M138.5 1561.5h0M137 1563.5h0M237.5 1550.5h0M134 1560.5h0M237.5 1543h0M131.5 1538.5h0M231 1539h0M135 1468.5h0M136 1562h0M230 1558h0M245.5 1549.5h0M230 1535h0M219.5 1539.5h0M139.5 1553h0M225.5 1554h0M137.5 1463h0M250 1550h0M227 1563.5h0M250.5 1546.5h0M216.5 1543h0M132 1540h0M136.5 1461.5h0M229.5 1556.5h0M225 1558h0M126.5 1546h0M239 1543h0M131 1473h0M233 1536.5h0M248.5 1548.5h0M228 1553.5h0M232 1560h0M214 1547h0M214 1544h0M136 1561.5h0M240.5 1556h0M134 1459.5h0M230.5 1545h0M233 1555h0M221 1559.5h0M215.5 1551h0M140.5 1552.5h0M214.5 1549.5h0M246 1542h0M221 1559.5h0M236 1539.5h0M216.5 1546h0M217 1545h0M227.5 1555h0M128.5 1555h0M246 1554h0M240.5 1543h0M211.5 1551h0M235 1556h0M241 1542.5h0M227.5 1558h0M241 1547.5h0M249.5 1548.5h0M136.5 1469.5h0M234.5 1552h0M131 1460.5h0M135.5 1540h0M234.5 1560h0M236 1541.5h0M133.5 1469h0M239 1558h0M240.5 1543h0M235.5 1542h0M139.5 1545.5h0M218 1556.5h0M237.5 1555.5h0M240.5 1556.5h0M224 1556h0M213.5 1551h0M139.5 1544h0M244 1552h0M229.5 1540.5h0M133 1468h0M217.5 1555.5h0M229.5 1555h0M214 1553h0M218 1543h0M218 1540.5h0M223 1545.5h0M233 1540.5h0M129 1541h0M232 1537.5h0M227.5 1538h0M247.5 1540.5h0M134.5 1459.5h0M244.5 1543.5h0M215 1552h0M229 1552.5h0M236 1535h0M136.5 1469.5h0M221.5 1558h0M229 1540.5h0M241.5 1546.5h0M136 1540h0M213 1559.5h0M242.5 1549.5h0M220.5 1549h0M224 1540.5h0M234.5 1559.5h0M226.5 1536.5h0M230.5 1544h0M217.5 1540.5h0M222.5 1537.5h0M133.5 1476h0M235.5 1542h0M239 1539.5h0M236.5 1554h0M135.5 1541h0M243.5 1552.5h0M215 1553h0M224.5 1560h0M227 1557h0M238 1549h0M237 1555.5h0M130 1458.5h0M233.5 1552.5h0M216 1548h0M133.5 1470h0M223.5 1540h0M131 1561h0M239.5 1557.5h0M241 1543h0M216.5 1544.5h0M210 1547h0M248.5 1542.5h0M237.5 1552h0M214 1555h0M133.5 1460h0M216 1545h0M224.5 1538.5h0M127.5 1543h0M140 1559.5h0M133 1459.5h0M128 1557h0M215.5 1551h0M132.5 1563h0M233 1557h0M232.5 1560h0M242 1546h0M133 1541.5h0M142 1544.5h0M247 1553.5h0M243 1543.5h0M132 1472.5h0M142.5 1548h0M231 1542h0M230 1550.5h0M238.5 1558h0M134 1459.5h0M133.5 1473h0M130.5 1469h0M133.5 1470h0M215.5 1548.5h0M220 1559h0M231 1551h0M224.5 1544.5h0M134 1471h0M225 1538.5h0M223.5 1557.5h0M222 1552.5h0M139.5 1542h0M217.5 1549.5h0M222 1540.5h0M132.5 1461.5h0M207 1550h0M130.5 1469.5h0M133 1453h0M233.5 1537h0M209.5 1554h0M212 1545h0M208 1549h0M127 1554h0M136 1566.5h0M232 1540h0M232 1553.5h0M228 1545h0M131.5 1456.5h0M214 1551h0M225 1556.5h0M210.5 1551h0M129 1472h0M136 1458.5h0M137 1539.5h0M134.5 1468h0M134.5 1465.5h0M231 1550h0M209.5 1553h0M228 1559h0M228 1538.5h0M218.5 1557h0M137 1538.5h0M231 1539h0M215 1552.5h0M140.5 1541.5h0M218.5 1558h0M241.5 1556h0M214.5 1550h0M226.5 1538h0M213 1545.5h0M226.5 1555.5h0M217 1560h0M216.5 1546.5h0M231.5 1545.5h0M228 1558.5h0M221 1559h0M232.5 1537.5h0M232 1547h0M136 1558.5h0M135.5 1561h0M131 1466h0M127.5 1549h0M134 1476h0M214.5 1551.5h0M220 1550.5h0M236 1539.5h0M240 1555.5h0M233.5 1557.5h0M224.5 1557.5h0M226 1540h0M247.5 1545h0M131 1453h0M136 1544.5h0M129 1463h0" stroke="#2fead0" stroke-width="1.6" stroke-linecap="square" fill="none"/>
<path d="M135.5 1467h0M218 1545.5h0M234 1540.5h0M231.5 1554h0M216 1545.5h0M221.5 1551h0M247.5 1545.5h0M232.5 1560h0M131.5 1539.5h0M235.5 1551h0M137.5 1555h0M218.5 1539h0M219.5 1542h0M232 1535.5h0M231.5 1561h0M244.5 1547.5h0M237.5 1557.5h0M229.5 1544h0M136.5 1456.5h0M136 1467.5h0M215 1542.5h0M131.5 1462h0M221 1558h0M234.5 1555h0M222.5 1557.5h0M219.5 1554h0M245.5 1549.5h0M222.5 1543h0M134.5 1455.5h0M233.5 1557h0M134.5 1460.5h0M134 1538.5h0M243.5 1542.5h0M132.5 1476h0M241 1540h0M246 1543h0M135.5 1469h0M138.5 1557.5h0M225.5 1556.5h0M135.5 1472h0M217 1558h0M231 1545h0M242.5 1543.5h0M215.5 1541.5h0M136.5 1537h0M224.5 1537h0M134.5 1537.5h0M241 1545h0M220.5 1550h0M250 1552.5h0M222.5 1560h0M224 1557.5h0M216 1538h0M132 1460.5h0M134 1539.5h0M213.5 1554.5h0M132 1475.5h0M133.5 1453h0M232 1546h0M225 1544.5h0M225.5 1551h0M134 1475.5h0M232 1559.5h0M130.5 1563h0M132.5 1453.5h0M246 1551.5h0M225.5 1547h0M244.5 1548.5h0M220.5 1538.5h0M237.5 1551h0M238 1554.5h0M140.5 1548.5h0M133.5 1460h0M135 1469.5h0M241 1548h0M212.5 1549h0M248 1541h0M131.5 1468.5h0M244 1548.5h0M239 1550h0M221 1555.5h0M132.5 1468h0M217.5 1547.5h0M240 1556h0M220.5 1557h0M135 1564h0M130.5 1470h0M250.5 1546.5h0M132.5 1457.5h0M138.5 1541.5h0M221.5 1539.5h0M219.5 1556.5h0M219.5 1555.5h0M233 1543h0M228 1556h0M250 1550.5h0M129 1559.5h0M237 1554.5h0M235 1546h0M219.5 1550.5h0M240 1555.5h0M225 1554h0M211.5 1551h0M210.5 1550.5h0M223 1554h0M136.5 1467h0M244 1552.5h0M217 1554h0M137 1563.5h0M134 1537.5h0M235 1553h0M136 1561.5h0M215 1551.5h0M222.5 1539.5h0M224 1559h0M231 1539h0M238 1543h0M237.5 1559h0M246 1541h0M250 1549h0M131.5 1467h0M133.5 1459h0M225 1555.5h0M210.5 1552h0M134 1475.5h0M228 1556h0M216 1548.5h0M245.5 1543h0M218 1541.5h0M220.5 1550.5h0M224 1540h0M127 1555.5h0M244.5 1546.5h0M214.5 1554.5h0M239 1540h0M243.5 1539.5h0M232 1538.5h0M128 1556.5h0M131 1558.5h0M226 1559.5h0M135 1538.5h0M136 1470h0M240.5 1549.5h0M239 1551h0M243 1552.5h0M227 1559h0M220 1539h0M212 1546.5h0M212.5 1547h0M234 1541h0M230.5 1560.5h0M219.5 1553.5h0M220 1556.5h0M131.5 1563.5h0M225.5 1555.5h0M230 1543h0M247.5 1554.5h0M134 1470.5h0M240.5 1551h0M241.5 1546.5h0M230.5 1542h0M216 1539h0M127 1556.5h0M233 1557.5h0M244 1554.5h0M136 1469h0M131.5 1563.5h0M133 1460.5h0M221.5 1540h0M135.5 1468h0M235 1558h0M227.5 1555.5h0M135 1539.5h0M136.5 1466h0M220 1548h0M222.5 1554h0M131 1458h0M227 1539h0M132.5 1460.5h0M228 1561.5h0M238 1560h0M136 1460.5h0M218 1555.5h0M134.5 1468.5h0M213.5 1553.5h0M134.5 1464h0M227.5 1557h0M237.5 1553h0M220.5 1555.5h0M225.5 1559h0M127.5 1553h0M128.5 1561.5h0M234.5 1553.5h0M135 1458.5h0M133.5 1563.5h0M234 1557.5h0M241 1551h0M213.5 1552h0M132.5 1467.5h0M225.5 1540h0M134.5 1470h0M244.5 1546.5h0M229 1541.5h0M134 1536h0M236.5 1550.5h0M213 1552.5h0M221.5 1544h0M233 1560h0M140.5 1541.5h0M207 1549h0M134.5 1561.5h0M230 1557.5h0M128.5 1547h0M212 1547.5h0M240 1550h0M132.5 1470h0M239.5 1545h0M211.5 1549.5h0M229.5 1556.5h0M129.5 1542h0M240 1551.5h0M245.5 1548h0M229 1554.5h0M241 1543.5h0M226 1550.5h0M128 1554h0M211.5 1547.5h0M219 1544.5h0M247.5 1550h0M129.5 1466h0M219 1547.5h0M138.5 1542h0M134 1468h0M244.5 1540.5h0M226.5 1553h0M132 1554h0M236.5 1538h0M132.5 1473.5h0M234 1544.5h0M138 1466h0M131.5 1467h0M215.5 1543.5h0M245 1550.5h0M248 1544.5h0M211 1553.5h0M234.5 1549.5h0M130.5 1560h0M133.5 1464h0M221 1540.5h0M236.5 1542h0M132 1469.5h0M134 1466.5h0M133.5 1563.5h0M131.5 1464h0M225.5 1541h0M217 1535.5h0M241.5 1545.5h0M133 1468.5h0M136 1560.5h0M133 1459.5h0M132 1562.5h0M138 1559h0M229 1540.5h0M214 1548.5h0M243.5 1546h0M219.5 1545h0M227 1550.5h0M242 1553h0M229 1539h0M139 1542h0M216 1546.5h0M222 1550.5h0M228.5 1548.5h0M127.5 1545.5h0M228 1542h0M138 1562h0M133.5 1460h0M229 1547h0M226 1539.5h0M127 1551h0M130.5 1561.5h0M132.5 1460h0M231 1546.5h0M215.5 1540.5h0M133.5 1466.5h0M248 1544.5h0M225.5 1538.5h0M237.5 1551h0M134 1460.5h0M130 1559.5h0M221.5 1539h0M239.5 1551h0M219 1545h0M239 1543.5h0M218.5 1551h0M132.5 1561h0M232.5 1541.5h0M140 1558.5h0M239 1547h0M134 1540h0M136 1541.5h0M131 1467h0M211.5 1547.5h0M135 1467h0M132 1562.5h0M216 1552.5h0M128 1559.5h0M135.5 1472h0M131.5 1538.5h0M248 1543.5h0M137.5 1551h0M240 1548.5h0M128 1551h0M235.5 1550.5h0M225.5 1556h0M244.5 1550h0M140 1542.5h0M132.5 1456h0M133.5 1564.5h0M132.5 1540.5h0M130 1540h0M140 1543.5h0M245.5 1544.5h0M248 1546.5h0M224.5 1548.5h0M215 1552h0M247 1543h0M128 1548.5h0M232.5 1542h0M218.5 1547.5h0M233 1555.5h0M135 1469h0M131 1542.5h0M236 1541h0M135.5 1563h0M217 1544h0M135.5 1467h0M135 1561h0M135.5 1463.5h0M138.5 1556h0M139 1544.5h0M225 1556h0M211.5 1554h0M130.5 1558h0M133 1538.5h0M244.5 1545h0M132.5 1555h0M235 1551h0M241.5 1543h0M221 1556h0M131.5 1462h0M226.5 1536.5h0M232.5 1538h0M240.5 1556h0M226.5 1553.5h0M224.5 1540h0M133.5 1460h0M128.5 1556.5h0M217 1540.5h0M138.5 1559.5h0M224 1547.5h0M229.5 1539h0M227.5 1556.5h0M138 1537.5h0M226 1538h0M128 1549.5h0M134.5 1471h0M211.5 1548.5h0M228 1537.5h0M134.5 1456.5h0M237 1555h0M131 1539h0M235 1547h0M237.5 1549.5h0M134.5 1541h0M134 1474.5h0M225.5 1557.5h0M130.5 1542.5h0M233.5 1555h0M221.5 1549h0M220.5 1549.5h0M235.5 1549.5h0M226.5 1551.5h0M130 1560h0M216.5 1553h0M235 1539.5h0M233 1544.5h0M221 1541h0M214.5 1552h0M243.5 1549h0M240.5 1556h0M219 1544.5h0M132 1562h0M128.5 1545.5h0M132.5 1466.5h0M132 1464h0M130 1543.5h0M136.5 1467h0M134.5 1539h0M219.5 1545h0M242 1552.5h0M127 1546h0M133 1464h0M230 1558.5h0M238.5 1543.5h0M128.5 1540h0M127 1548h0M221 1540h0M214.5 1552h0M131 1563h0M214.5 1551h0M129 1543.5h0M239.5 1552.5h0M244 1542.5h0M133 1470.5h0M235 1541h0M225 1542h0M140 1552.5h0M236 1542h0M139.5 1542h0M222.5 1543.5h0M243.5 1545h0M246 1547.5h0M220.5 1555h0M127 1547h0M128.5 1551h0M222.5 1548.5h0M131.5 1465.5h0M240.5 1544h0M233.5 1545.5h0M219 1548h0M216 1550h0M211 1552h0M131.5 1463h0M209 1546.5h0M222 1553.5h0M224 1554h0M132.5 1544.5h0M134 1473h0M218 1553.5h0M241.5 1544.5h0M132 1560.5h0M219 1551h0M138 1561.5h0M132.5 1463h0M132.5 1461h0M233.5 1549h0M236 1547.5h0M133.5 1466h0M239 1556.5h0M231 1542.5h0M218 1551.5h0M228.5 1550h0M234.5 1550h0M232 1551h0M221 1555h0M225.5 1558h0M130.5 1558h0M226.5 1553h0M219 1550.5h0M222 1541.5h0M135.5 1563.5h0M226 1544h0M239 1547.5h0M235.5 1553.5h0M235 1549h0M130.5 1543h0M247 1548.5h0M128.5 1548h0M131 1556.5h0M131 1460.5h0M129 1561.5h0M241.5 1552.5h0M129.5 1547.5h0M237.5 1542h0M232 1552.5h0M235.5 1553h0M133 1464h0M235 1539.5h0M213.5 1553.5h0M238 1542.5h0M137.5 1558h0M220.5 1539.5h0M228 1537.5h0M237 1544.5h0M128.5 1546.5h0M236 1544h0M128.5 1547.5h0M224 1547.5h0M225.5 1556h0M131 1542h0M128.5 1546h0M222.5 1543.5h0M229 1548.5h0M223.5 1551.5h0M242 1542.5h0M217.5 1542h0M219.5 1539h0M217.5 1550h0M133 1545h0M131.5 1468.5h0M214.5 1548.5h0M239.5 1555.5h0M221.5 1537h0M217.5 1548.5h0M237.5 1543.5h0M223 1539.5h0M128.5 1547.5h0M133.5 1540.5h0M236.5 1544.5h0M133 1462.5h0M214 1548.5h0M245.5 1550h0M218 1555.5h0M230 1556h0M242.5 1542h0M136 1469h0M242.5 1547h0M241 1551.5h0M234.5 1545h0M223.5 1559.5h0M218 1553.5h0M233.5 1540h0M140 1551h0M236 1552.5h0M221 1557h0M216 1546h0" stroke="#61ff9e" stroke-width="1.6" stroke-linecap="square" fill="none"/>
<path d="M130 1551.5h0M128.5 1544h0M135 1465.5h0M232.5 1545.5h0M218 1542h0M219.5 1543h0M129.5 1546h0M234.5 1544.5h0M232.5 1545h0M137 1538.5h0M228.5 1545.5h0M135.5 1560.5h0M224.5 1538.5h0M231 1545h0M242.5 1550h0M239 1543.5h0M243 1544.5h0M210.5 1551.5h0M243 1554h0M224.5 1545h0M239 1545h0M128.5 1546h0M233.5 1548.5h0M130 1552.5h0M241.5 1547.5h0M135 1467.5h0M227 1549.5h0M239 1546.5h0M247.5 1548.5h0M211.5 1545h0M233.5 1552h0M134.5 1536.5h0M232 1553h0M215 1545.5h0M241 1547.5h0M246 1544h0M232.5 1540h0M231 1537h0M222 1554.5h0M229 1542.5h0M226.5 1538.5h0M137 1541.5h0M136.5 1559.5h0M233 1557.5h0M137 1560h0M229 1550.5h0M234 1552.5h0M137 1545.5h0M134.5 1475.5h0M221.5 1557h0M217 1550.5h0M219.5 1539.5h0M240 1542h0M239 1547.5h0M233 1540.5h0M230.5 1553h0M136.5 1466.5h0M242 1544h0M226 1549.5h0M220 1550.5h0M233.5 1547.5h0M233.5 1543.5h0M228 1542h0M217 1543.5h0M133 1464h0M137.5 1552.5h0M211.5 1551h0M134.5 1555.5h0M234.5 1551h0M218.5 1553h0M128.5 1551.5h0M243 1549.5h0M239.5 1547.5h0M129.5 1556.5h0M245.5 1545.5h0M231.5 1556h0M240.5 1547h0M214 1543.5h0M220.5 1550h0M131.5 1556h0M138 1548h0M228.5 1548h0M138 1558h0M129.5 1558.5h0M136.5 1558.5h0M243 1547.5h0M233 1545h0M244 1552h0M237 1549.5h0M216.5 1543h0M132.5 1466h0M234.5 1553.5h0M238.5 1551.5h0M226.5 1540h0M244.5 1544.5h0M129.5 1547.5h0M134.5 1476.5h0M227 1552.5h0M234.5 1538.5h0M230 1553.5h0M135.5 1542.5h0M129 1549.5h0M133.5 1471.5h0M221.5 1547.5h0M228.5 1555.5h0M225.5 1539h0M234.5 1543h0M226 1539.5h0M133 1470h0M135 1460.5h0M216 1553.5h0M231.5 1545.5h0M214.5 1554h0M239.5 1560.5h0M239 1549h0M217.5 1544h0M128 1547.5h0M133.5 1563h0M213 1553h0M221 1553.5h0M136 1539h0M131 1461.5h0M233.5 1556.5h0M230.5 1545h0M132 1466h0M136 1467.5h0M224.5 1543h0M130 1553h0M224 1542.5h0M232.5 1556.5h0M225 1549h0M136.5 1557.5h0M220 1542h0M138.5 1557h0M222 1542.5h0M228 1540h0M130 1556.5h0M241 1548h0M135 1559.5h0M134 1539.5h0M137.5 1541h0M219 1551.5h0M133 1539h0M136.5 1546.5h0M138 1540h0M237 1542.5h0M231.5 1553h0M229.5 1538.5h0M221 1546h0M130 1548.5h0M236.5 1544h0M220 1551h0M222.5 1540.5h0M134 1538h0M225 1553.5h0M135 1546h0M230.5 1553h0M232.5 1541.5h0M236.5 1544.5h0M134 1469.5h0M235.5 1551h0M217.5 1552h0M234 1549h0M239 1554.5h0M232.5 1550h0M224.5 1551.5h0M233 1547.5h0M137 1540h0M224.5 1551h0M219 1550h0M128 1553h0M225 1539.5h0M222 1547.5h0M137.5 1545h0M248 1549h0M128.5 1550.5h0M224 1541h0M245.5 1556h0M230.5 1552h0M132 1464.5h0M221 1542h0M130.5 1556.5h0M126.5 1553h0M232 1542.5h0M129.5 1557.5h0M216 1542.5h0M133 1463.5h0M238 1551h0M220 1545h0M236.5 1550.5h0M239.5 1546h0M137 1556h0M220.5 1554.5h0M236.5 1542h0M217.5 1544.5h0M134 1478h0M238 1557.5h0M240 1546h0M242.5 1540.5h0M234 1545h0M135 1459.5h0M220 1536.5h0M217 1553.5h0M217 1545h0M223 1553h0M134 1466h0M220.5 1549.5h0M129.5 1555.5h0M229.5 1553.5h0M231.5 1542.5h0M227 1542h0M131.5 1460h0M137 1548h0M140 1550h0M224.5 1542h0M136.5 1543h0M231.5 1555h0M131.5 1542h0M230 1543.5h0M229 1552.5h0M223.5 1545.5h0M224.5 1545.5h0M216.5 1553h0M128.5 1548.5h0M128.5 1549.5h0M241 1545.5h0M220.5 1552h0M225.5 1542.5h0M227.5 1543.5h0M235.5 1555.5h0M217 1549.5h0M240.5 1543.5h0M220.5 1551h0M136 1560.5h0M222 1556.5h0M129 1559h0M229 1542.5h0M236.5 1544.5h0M131 1561.5h0M230.5 1540.5h0M227 1551.5h0M215 1551h0M225.5 1556h0M231 1555h0M221.5 1546.5h0M226 1541h0M139.5 1551h0M233 1557.5h0M237.5 1551.5h0M223 1551.5h0M224.5 1542.5h0M219.5 1547h0M222.5 1545.5h0M220.5 1536.5h0M227 1546h0M134 1559.5h0M236 1540.5h0M127 1550h0M220.5 1542.5h0M139.5 1550.5h0M236 1549.5h0M212 1548.5h0M222.5 1547h0M128.5 1555h0M217.5 1544.5h0M229 1551h0M135.5 1463.5h0M133 1465.5h0M234.5 1541h0M140 1549.5h0M137.5 1541h0M225 1547.5h0M239 1549h0M137.5 1539h0M218 1556h0M132.5 1562h0M239.5 1546.5h0M226.5 1542.5h0M137.5 1559.5h0M237 1546.5h0M227.5 1539h0M130 1541.5h0M134.5 1559.5h0M138 1544h0M216 1551.5h0M133.5 1559.5h0M233.5 1552.5h0M220 1550.5h0M132 1552h0M231 1553.5h0M136.5 1561.5h0M134.5 1544h0M135 1542h0M136.5 1542.5h0M229 1541h0M137.5 1542h0M138 1542h0M139.5 1551.5h0M132 1562h0M129.5 1555h0M227 1554h0M129 1558h0M135 1556.5h0M139.5 1553h0M244.5 1551h0M226 1545.5h0M224.5 1541h0M222 1551.5h0M231 1539.5h0M220 1545.5h0M246 1552h0M128.5 1549h0M220 1548.5h0M216.5 1552h0M134.5 1561h0M228.5 1545.5h0M227 1549.5h0M220.5 1558h0M225 1551.5h0M134.5 1476h0M130 1551.5h0M224 1553h0M244 1542.5h0M221 1552h0M222 1549.5h0M138 1546h0M133 1540h0M227.5 1541.5h0M243.5 1545.5h0M224 1540.5h0M133.5 1547h0M133 1539h0M210.5 1550h0M244 1547.5h0M231.5 1552h0M234 1550h0M135 1558h0M135 1467h0M228 1549.5h0M226 1550h0M242.5 1555.5h0M219 1543h0M236 1550h0M227.5 1550.5h0M229 1541.5h0M238 1542h0M224 1539.5h0M217.5 1551.5h0M227.5 1551.5h0M234.5 1546h0M232 1554.5h0M225.5 1539h0M131 1462.5h0M226 1550h0M230 1549.5h0M215.5 1551h0M237 1544h0M240 1547.5h0M238 1558h0M228 1539.5h0M134 1540h0M231.5 1542h0M239.5 1545.5h0M232 1542.5h0M133.5 1538.5h0M239.5 1546h0M222 1550.5h0M226.5 1548.5h0M134 1464h0M130 1553h0M234.5 1550.5h0M222.5 1558h0M227 1537h0M136.5 1560.5h0M132.5 1559.5h0M220 1542h0M137 1542.5h0M219.5 1543.5h0M229 1557.5h0M224 1543h0M135.5 1559h0M236 1545h0M240 1544h0M238 1548h0M133 1544h0M231.5 1543.5h0M231.5 1555h0M140.5 1545.5h0M226.5 1552h0M235 1549h0M225 1555.5h0M139.5 1549.5h0M136.5 1555.5h0M241.5 1547.5h0M225.5 1555.5h0M236 1544.5h0M229 1545h0M237.5 1552h0M131 1546h0M227 1554.5h0M224 1538.5h0" stroke="#a4ff5c" stroke-width="1.6" stroke-linecap="square" fill="none"/>
<path d="M134 1560h0M240 1545.5h0M140 1551h0M138 1542h0M132.5 1558.5h0M227 1547h0M230.5 1540.5h0M228 1544.5h0M229 1545h0M129.5 1544.5h0M225.5 1549.5h0M126.5 1555h0M132 1559.5h0M231.5 1550.5h0M238 1552h0M237 1553.5h0M128.5 1557h0M235.5 1551.5h0M227.5 1552.5h0M233.5 1545h0M128.5 1549.5h0M130.5 1550h0M136 1542h0M240.5 1553.5h0M134 1561h0M224.5 1542h0M226 1548h0M236.5 1549.5h0M232 1537.5h0M233 1551h0M232.5 1540.5h0M140 1545h0M242.5 1552h0M228 1541h0M239 1543.5h0M224.5 1550.5h0M224.5 1548.5h0M233.5 1541h0M137.5 1553.5h0M220 1549.5h0M129.5 1555h0M221 1545h0M135 1555h0M240 1548.5h0M224.5 1547h0M232 1541.5h0M233 1550.5h0M130 1551h0M217 1543.5h0M131 1540.5h0M240 1550.5h0M238 1551.5h0M232.5 1550.5h0M133.5 1543.5h0M237.5 1551.5h0M221 1543.5h0M240 1540.5h0M244 1545.5h0M129 1557h0M136.5 1557.5h0M233 1544h0M222.5 1553.5h0M134.5 1558h0M134.5 1461.5h0M245 1552h0M231.5 1548.5h0M214 1549.5h0M236 1545.5h0M234 1555h0M219.5 1554.5h0M135.5 1554.5h0M234 1538.5h0M219 1547h0M234 1555.5h0M133.5 1561h0M219 1545.5h0M235.5 1541.5h0M139.5 1556h0M239.5 1547.5h0M137.5 1548.5h0M218.5 1548.5h0M136 1561.5h0M215.5 1551h0M136 1539h0M236 1547.5h0M236 1540.5h0M232 1556h0M226.5 1549.5h0M132 1540h0M130.5 1558h0M239 1546.5h0M242.5 1549h0M232.5 1542.5h0M134.5 1560.5h0M224.5 1546h0M128.5 1549h0M215 1555.5h0M130.5 1553h0M128.5 1554.5h0M136.5 1541h0M224.5 1554h0M222.5 1552h0M228.5 1546h0M134.5 1462.5h0M225.5 1548h0M219 1542h0M134 1469h0M227 1546.5h0M238 1552.5h0M227 1545h0M231 1551.5h0M238.5 1544h0M219 1544h0M138 1545.5h0M220 1542.5h0M220 1540h0M240 1548h0M240.5 1545.5h0M128 1549.5h0M135 1551h0M222 1548.5h0M236.5 1550.5h0M223.5 1546h0M137.5 1551.5h0M233.5 1544h0M134.5 1558.5h0M226 1542h0M222.5 1545.5h0M133 1469.5h0M128.5 1550.5h0M138 1553.5h0M246 1545.5h0M129 1553.5h0M219.5 1552h0M230.5 1556h0M224 1551h0M241 1549h0M220 1554.5h0M139.5 1547.5h0M228.5 1551.5h0M236 1541.5h0M133 1465.5h0M227 1553.5h0M130 1552h0M136.5 1562.5h0M137.5 1557.5h0M134 1558h0M135 1558.5h0M130 1560h0M224.5 1543.5h0M219.5 1541.5h0M230 1542.5h0M224 1543h0M133 1559.5h0M232 1545h0M131.5 1542.5h0M131 1539.5h0M223.5 1543.5h0M133.5 1564h0M232.5 1550.5h0M218.5 1542h0M224 1552h0M139 1546h0M242 1551.5h0M222.5 1547.5h0M232 1549.5h0M132 1550.5h0M237 1545.5h0M138 1558h0M134.5 1562h0M139.5 1552.5h0M137.5 1542h0M220.5 1541h0M136 1557h0M226 1547.5h0M136 1555h0M129.5 1548h0M230 1539h0M135 1561h0M236.5 1549.5h0M236 1553h0M133 1550h0M138 1559.5h0M224 1545.5h0M221.5 1551h0M134 1542h0M136.5 1548h0M135 1558h0M138 1552.5h0M228 1553h0M219 1548.5h0M239 1544.5h0M130.5 1546h0M136 1556h0M130 1552.5h0M134.5 1540h0M219.5 1543h0M138 1557.5h0M133 1556.5h0M224.5 1552.5h0M223.5 1543h0M231 1552.5h0M229 1548h0M235 1545.5h0M222.5 1546.5h0M130.5 1545.5h0M227 1550h0M219.5 1540.5h0M230 1549.5h0M225.5 1556h0M136.5 1539.5h0M238 1542.5h0M223 1547h0M228 1543h0M231 1547.5h0M238.5 1545.5h0M226 1542.5h0M134 1557h0M138 1541.5h0M130 1543.5h0M131 1541.5h0M216.5 1543h0M222 1551h0M228 1543.5h0M132 1545h0M139.5 1549h0M226.5 1546h0M231 1542h0M232 1545h0M137 1558h0M226 1545.5h0M135 1547.5h0M139.5 1551h0M244 1545h0M132 1559.5h0M238.5 1547.5h0M132.5 1558.5h0M239 1548h0M134.5 1543h0M224 1550.5h0M136 1541.5h0M136 1553h0M236.5 1546.5h0M136.5 1560h0M224.5 1544.5h0M226 1553h0M229.5 1544h0M220 1546.5h0M221 1549h0M232.5 1542.5h0M219.5 1545h0M132.5 1564h0M233.5 1552.5h0M131.5 1544.5h0M228.5 1543.5h0M226 1549h0M135 1543h0M224 1547h0M226 1548h0M132 1543.5h0M231.5 1548.5h0M238 1546.5h0M238.5 1553.5h0M136 1539.5h0M129 1557.5h0M238 1549h0M221.5 1548h0M233 1542.5h0M231.5 1552.5h0M231 1551h0M137 1542.5h0M134 1468h0M138.5 1547.5h0M223 1542h0M242 1549.5h0M137.5 1551h0M235 1550h0M131 1557.5h0M135.5 1557.5h0M136.5 1551.5h0M130.5 1558h0M135.5 1557h0M223.5 1544.5h0M236 1545.5h0M135 1540.5h0M134 1544.5h0M134 1544.5h0M140 1547h0M136.5 1548.5h0M226 1548.5h0M233.5 1550h0M140 1550.5h0M230.5 1549h0M225 1550h0" stroke="#d1f12e" stroke-width="1.6" stroke-linecap="square" fill="none"/>
<path d="M231.5 1550h0M222.5 1549.5h0M230.5 1554h0M130 1543.5h0M132.5 1542.5h0M132 1545.5h0M137.5 1542.5h0M230.5 1555.5h0M240.5 1544.5h0M137 1553h0M239 1545h0M133.5 1545.5h0M227.5 1547.5h0M229 1547.5h0M229 1553.5h0M232 1554.5h0M137.5 1542h0M130.5 1551.5h0M233.5 1552.5h0M130 1555h0M246 1547h0M237.5 1546.5h0M229 1549.5h0M222.5 1556h0M222.5 1540h0M137.5 1557h0M232.5 1548.5h0M222 1545h0M225.5 1547.5h0M228 1545h0M136 1554.5h0M224.5 1541.5h0M132.5 1559h0M221.5 1542h0M228.5 1543h0M241.5 1544.5h0M232 1546h0M138.5 1543h0M135.5 1554.5h0M235.5 1556.5h0M235.5 1544.5h0M232 1550.5h0M222 1552h0M219.5 1549.5h0M223 1552h0M225 1543h0M140.5 1545.5h0M236.5 1545.5h0M134.5 1559h0M242 1548.5h0M227.5 1542.5h0M129.5 1553.5h0M139.5 1551h0M137 1550.5h0M231 1539.5h0M130 1555h0M137.5 1544h0M137 1546.5h0M137 1546.5h0M140 1545.5h0M222 1544.5h0M227 1550h0M130 1546h0M233 1550.5h0M138 1544h0M233 1552h0M137.5 1545.5h0M225 1546h0M222.5 1549.5h0M135.5 1558.5h0M219.5 1550h0M230.5 1553h0M223.5 1550h0M227.5 1546.5h0M138 1550.5h0M239.5 1547.5h0M133 1539.5h0M232.5 1551h0M235 1545.5h0M226.5 1550h0M225 1539.5h0M137.5 1556h0M238 1545h0M222 1554h0M131 1556.5h0M136.5 1561h0M243 1546.5h0M238 1547h0M138.5 1553.5h0M131.5 1556h0M233 1543.5h0M239 1553h0M136.5 1544h0M133 1540h0M239.5 1542.5h0M230 1540h0M136.5 1556h0M136.5 1560h0M242.5 1550h0M225.5 1546.5h0M228.5 1544.5h0M224.5 1546h0M138 1542.5h0M239 1546.5h0M132 1554.5h0M234 1556h0M128.5 1548.5h0M140 1552h0M232.5 1548h0M233.5 1544h0M133 1556.5h0M136.5 1548h0M134.5 1550.5h0M138.5 1556h0M130.5 1552.5h0M231.5 1545h0M241 1546h0M236 1545.5h0M220 1547h0M135 1562h0M223 1553h0M237 1552h0M132.5 1553.5h0M130.5 1558.5h0M133 1545h0M229 1552h0M132 1551h0M224.5 1549h0M231 1547.5h0M234.5 1543h0M227 1546h0M131.5 1556h0M132.5 1546h0M132.5 1554h0M236.5 1551.5h0M137.5 1550.5h0M131.5 1559.5h0M137 1555h0M132.5 1542.5h0M139 1548h0M133.5 1547h0M130 1549h0M220.5 1548h0M132.5 1556h0M134.5 1546.5h0M138 1546h0M138 1543.5h0M138.5 1542h0M228 1549h0M227.5 1549.5h0M225.5 1548h0M136.5 1547h0M129 1555h0M239.5 1542.5h0M137.5 1556.5h0M230.5 1543.5h0M130.5 1548h0M226 1550h0M224 1544.5h0M228 1541.5h0M130 1546.5h0M224 1549h0M133 1550.5h0M226 1542h0M223 1544h0M136.5 1559.5h0M131.5 1543h0M130.5 1552.5h0M234 1543h0M129 1546.5h0M136.5 1546h0M234 1548h0M132 1542.5h0M135.5 1550.5h0M230 1548.5h0M223.5 1542.5h0M132 1556h0M233.5 1548.5h0M230 1549h0M133.5 1544.5h0M130.5 1547.5h0M230 1543.5h0M223.5 1554h0M223.5 1549h0M230 1555.5h0M225.5 1543.5h0M225.5 1550h0M224 1552h0M137 1556h0M224 1548h0M221.5 1546.5h0M220.5 1546h0M227.5 1546.5h0M136.5 1558h0M224 1541h0M128 1548.5h0M131.5 1554h0M220.5 1542.5h0M228 1550.5h0M133 1547.5h0M138.5 1541.5h0M134.5 1539.5h0M237.5 1551.5h0M132.5 1559h0M129 1552h0M137.5 1542.5h0M223.5 1547h0M135.5 1554h0M138 1547.5h0" stroke="#efdb0f" stroke-width="1.6" stroke-linecap="square" fill="none"/>
<path d="M129.5 1559h0M135.5 1543h0M223.5 1549h0M133 1561h0M232 1546.5h0M222 1549h0M232 1549h0M132.5 1548h0M133.5 1542h0M131.5 1555.5h0M229 1550.5h0M137.5 1555h0M135.5 1560h0M220 1551h0M132.5 1559.5h0M134 1552.5h0M222.5 1549h0M129.5 1551.5h0M228 1548h0M130 1542h0M129 1546h0M223.5 1551h0M235 1550h0M138 1544.5h0M136.5 1558h0M130 1555h0M132 1545.5h0M137 1550h0M132 1544h0M135 1556.5h0M130.5 1554.5h0M232.5 1543h0M229.5 1547.5h0M221 1545.5h0M130.5 1555h0M219.5 1547.5h0M224 1546.5h0M139 1549.5h0M233.5 1549.5h0M137.5 1544.5h0M229.5 1547.5h0M231.5 1546h0M226 1545h0M138.5 1548.5h0M135 1554h0M132.5 1555h0M134.5 1557h0M230 1546.5h0M130.5 1556.5h0M135.5 1543.5h0M233 1548.5h0M228 1553.5h0M227 1548h0M132 1555h0M134.5 1464.5h0M135 1541.5h0M232.5 1546h0M133 1556.5h0M137.5 1558h0M229.5 1543.5h0M134.5 1542.5h0M227.5 1550h0M135 1556.5h0M135 1558h0M133 1546h0M134.5 1557.5h0M225.5 1550.5h0M130.5 1557h0M139.5 1548h0M134 1541.5h0M136.5 1543h0M131.5 1559h0M135.5 1552h0M137.5 1555h0M223.5 1544.5h0M134.5 1543.5h0M130 1555h0M131.5 1543.5h0M135 1544.5h0M135 1554.5h0M129 1546.5h0M235.5 1547.5h0M224 1548h0M136.5 1556h0M132 1550h0M130.5 1555h0M225 1546h0M230 1543.5h0M223 1541h0M136.5 1546h0M132 1557.5h0M136 1559h0M137.5 1548h0M137.5 1556h0M132 1543.5h0M232.5 1551h0M220.5 1550h0M133.5 1543h0M134 1552.5h0M130.5 1549.5h0M134 1552.5h0M130 1556.5h0M234 1547h0M136 1542.5h0M130 1555.5h0M232 1545h0M129.5 1548h0M230.5 1553h0M130.5 1548.5h0M130 1551.5h0M130.5 1552.5h0M137 1547.5h0M230.5 1549.5h0M135 1553.5h0M133 1559.5h0M137.5 1549h0M229 1548.5h0M222.5 1546h0M136 1540.5h0M224 1547.5h0M226 1549.5h0M134 1558.5h0M132.5 1544h0M130 1549h0M136.5 1552.5h0M129.5 1554.5h0M132 1551.5h0M223.5 1542.5h0M226.5 1548.5h0M228.5 1544.5h0M138 1546.5h0M130 1551h0M225.5 1540.5h0M132 1546h0M133.5 1541.5h0M136 1556.5h0M131.5 1549.5h0M128.5 1552h0M131 1546h0M137.5 1553h0M134 1557.5h0M138 1552.5h0M134.5 1555h0M132 1555.5h0M131.5 1549.5h0M135.5 1544h0M226.5 1544h0M133.5 1558.5h0M135.5 1541h0M135.5 1553h0M136 1559.5h0M132.5 1558h0M131.5 1548h0M131.5 1544h0M231.5 1546h0M132 1558h0" stroke="#ffb200" stroke-width="1.6" stroke-linecap="square" fill="none"/>
<path d="M136 1555h0M236.5 1551.5h0M137 1545h0M232 1545.5h0M138 1550h0M135 1542.5h0M223 1548h0M135.5 1545h0M134 1542.5h0M232 1549.5h0M133.5 1554h0M224 1541.5h0M225 1548.5h0M129.5 1554.5h0M132 1546.5h0M226.5 1546h0M136 1559.5h0M133.5 1548h0M132 1547.5h0M136.5 1548h0M222 1549h0M131.5 1550h0M131 1549.5h0M132 1555.5h0M221 1548.5h0M223 1548.5h0M136 1555.5h0M131.5 1542h0M134 1540.5h0M138 1557h0M133 1541.5h0M224.5 1550h0M133 1545h0M136.5 1543h0M135 1544h0M134.5 1555.5h0M138 1542.5h0M133.5 1544.5h0M218.5 1545.5h0M136 1551.5h0M134.5 1547h0M134 1557.5h0M133.5 1551.5h0M132.5 1546h0M132 1544.5h0M129.5 1549.5h0M222.5 1541.5h0M135.5 1546.5h0M132 1544.5h0M136.5 1544.5h0M134 1553h0M129 1555h0M135 1552h0M130 1555.5h0M138 1547.5h0M138 1553.5h0M234 1548h0M221.5 1548.5h0M132.5 1549h0M226.5 1545.5h0M137 1549.5h0M131.5 1543.5h0M132 1555h0M135 1559h0M133.5 1542.5h0M137.5 1544.5h0M132 1555.5h0M138.5 1547h0M135.5 1548h0M135.5 1547.5h0M136 1543h0M135.5 1545.5h0M138.5 1551h0M135 1544h0M130 1556.5h0M136.5 1556.5h0M133.5 1547h0M136 1548.5h0M137 1547h0M231.5 1549.5h0M137.5 1546h0M135 1552.5h0M131 1544h0M134.5 1546h0M131 1550h0M131 1557h0M135 1550h0M137.5 1546.5h0M137.5 1553h0M135.5 1545.5h0M136.5 1549.5h0M132 1552h0M136.5 1557.5h0M134 1551h0M131 1543h0M137.5 1548.5h0M131 1546.5h0M136 1559h0M135.5 1551.5h0" stroke="#ff7800" stroke-width="1.6" stroke-linecap="square" fill="none"/>
<path d="M136 1554h0M135.5 1554.5h0M138 1550.5h0M132.5 1550h0M133 1549h0M136 1544.5h0M132.5 1554h0M134.5 1551h0M132.5 1554.5h0M132.5 1552.5h0M135.5 1555h0M131.5 1557.5h0M134.5 1549h0M131 1543.5h0M133 1544.5h0M130 1553h0M131 1554h0M135 1556.5h0M132 1547.5h0M137 1546.5h0M133.5 1554.5h0M134.5 1546.5h0M136 1552.5h0M132 1557.5h0M139.5 1551.5h0M132.5 1556h0M225 1547.5h0M135.5 1545.5h0M129.5 1554h0M133.5 1547.5h0M134 1555h0M135 1548.5h0M136 1541h0M138 1544h0M132 1551h0M133.5 1558.5h0M132.5 1546.5h0M136 1551.5h0M134 1546.5h0M136.5 1555h0M132 1558h0M136.5 1549.5h0M136 1543h0M135 1548.5h0M136.5 1557.5h0M133.5 1549.5h0M132 1546.5h0M133 1547.5h0M137.5 1551h0M136 1546h0M133 1542.5h0M138 1544.5h0M129.5 1550h0M137.5 1546.5h0M135.5 1554.5h0M131 1553.5h0M135 1556.5h0M130.5 1545h0M132.5 1552h0M134 1558h0M136.5 1546h0M135.5 1555h0M138 1544.5h0M135.5 1548h0M135 1543.5h0M134.5 1547h0M132.5 1543h0M133.5 1554.5h0M135.5 1556h0M131.5 1547h0M134.5 1548.5h0M136 1556.5h0M137 1554h0M134 1557.5h0M137.5 1550h0M135 1555h0M137.5 1552.5h0M131.5 1544.5h0M133.5 1548.5h0M134.5 1551.5h0M133 1543.5h0M134 1543.5h0" stroke="#ed4500" stroke-width="1.6" stroke-linecap="square" fill="none"/>
<path d="M134 1560h0M136 1543.5h0M137 1550h0M227.5 1544h0M133.5 1549.5h0M129.5 1545h0M129.5 1555.5h0M131.5 1545.5h0M131.5 1553.5h0M131 1550h0M137.5 1547.5h0M131 1550h0M136 1543.5h0M132 1545.5h0M136 1549h0M129 1549h0M132.5 1547.5h0M133.5 1557.5h0M134 1552h0M131 1553.5h0M134.5 1555.5h0M134 1547.5h0M134 1554h0M135.5 1554.5h0M136 1545.5h0M134 1550h0M132 1544.5h0M131.5 1544h0M136 1556h0M228 1544h0M134.5 1554.5h0M232 1549h0M131 1551.5h0M134 1558h0M138.5 1546.5h0M132 1549h0M138.5 1545.5h0M134.5 1543.5h0M133 1557h0M134 1555.5h0M131 1557.5h0M130.5 1554h0M135 1558.5h0M133.5 1546.5h0M138 1550h0M135.5 1549.5h0M136.5 1551h0M134 1554h0M132.5 1550h0M133 1552h0M136.5 1553h0M135 1554h0M131.5 1549.5h0M130 1551.5h0M136 1551h0M136.5 1546h0M131 1556h0M133.5 1548h0M134.5 1551.5h0M131.5 1548.5h0M130.5 1550.5h0M131.5 1549.5h0M131 1557.5h0M131 1551.5h0M132.5 1551.5h0M136 1550h0M135 1543.5h0M134.5 1544.5h0M133.5 1554h0M135 1556.5h0M131 1550.5h0M133.5 1553.5h0M134 1555.5h0M134.5 1545h0M138 1552.5h0M135.5 1552h0M132.5 1546.5h0M130 1550h0M134 1554h0M133.5 1552h0M135 1546.5h0M134.5 1550.5h0M132.5 1551.5h0M135 1545h0M133 1551.5h0M130.5 1552h0M133.5 1549h0M135.5 1551h0M132 1546.5h0M134 1552h0M133.5 1556.5h0M131 1554.5h0M133 1549h0M133 1546.5h0M133.5 1554.5h0M132.5 1553.5h0M132.5 1546.5h0M135 1549h0M134 1547h0M135.5 1545.5h0M134.5 1548.5h0M134 1548.5h0M131 1545.5h0M133 1554.5h0M131.5 1546.5h0M134 1553h0M133.5 1547h0M134 1548h0M134.5 1544.5h0M136 1550h0M134 1555.5h0M136 1550.5h0M131.5 1552h0M131.5 1549.5h0M132.5 1546.5h0M131.5 1549.5h0M136 1552.5h0M135 1546.5h0M135 1547.5h0M136 1551.5h0M135.5 1549.5h0M136 1551h0M133 1548h0M134.5 1548.5h0M135.5 1545.5h0M136 1548h0M134.5 1547h0M135 1554.5h0M136 1548h0M134 1548h0M132.5 1547.5h0M131 1550h0M134.5 1546.5h0M135 1551.5h0M129.5 1550h0M136.5 1545.5h0M132 1554h0M134 1549.5h0M135 1549.5h0M134 1551.5h0M136 1552.5h0M133.5 1553.5h0M132.5 1549.5h0M136.5 1552h0M136.5 1546.5h0M133.5 1554h0M132 1551h0M133 1555.5h0M132.5 1548h0M136.5 1551h0M135.5 1546h0M136.5 1551h0M135 1551h0M137.5 1546.5h0M132 1547.5h0M135 1546.5h0M133.5 1545h0M133.5 1556.5h0M133.5 1558h0M134.5 1546h0M133 1549h0M132.5 1550h0M133 1554.5h0M135.5 1543.5h0M134 1550.5h0M136.5 1545.5h0M135 1547.5h0M136.5 1549h0M135 1548h0M131 1551h0M134 1544h0M133 1549h0M132.5 1551h0M130.5 1548h0M135 1548h0M135.5 1554.5h0M132.5 1556h0M137 1550h0M135 1546h0M134 1550h0M134 1545h0M132.5 1553h0M135.5 1552h0M135 1553h0M135.5 1545.5h0M133.5 1546.5h0" stroke="#cf1700" stroke-width="1.6" stroke-linecap="square" fill="none"/>
<path d="M621.5 1473.5h0M590 1425h0M536 1430.5h0M504.5 1593.5h0M588.5 1455h0M667.5 1619h0M527 1422.5h0M655 1392.5h0M502.5 1621h0M575 1610.5h0M540.5 1391h0M559 1621h0M662 1441h0M582 1487h0M660.5 1502h0M511.5 1436.5h0M664 1516h0M507 1397.5h0M652 1488h0M537.5 1469h0M642.5 1432h0M502 1511.5h0M633.5 1409h0M669.5 1451.5h0M633.5 1599.5h0M666.5 1469h0M490 1411h0M514.5 1510.5h0M653.5 1517h0M611 1496.5h0M590.5 1614.5h0M472 1382.5h0M477.5 1371h0M605.5 1404.5h0M503.5 1426h0M680 1580.5h0M571 1484h0M674.5 1581h0M608.5 1602h0M612.5 1608.5h0M440 1536.5h0M571 1494h0M540.5 1615h0M653 1527h0M463.5 1384h0M533 1603.5h0M448.5 1393h0M615 1494h0M492 1583.5h0M526.5 1607h0M662.5 1529.5h0M566.5 1602h0M676 1546.5h0M667 1589.5h0M527.5 1594h0M441 1498.5h0M556.5 1608h0M646.5 1603.5h0M660.5 1531h0M490.5 1515.5h0M675.5 1550h0M554 1504.5h0M642.5 1602.5h0M624 1598h0M640.5 1510.5h0M442 1527.5h0M506.5 1587h0M657.5 1539h0M592.5 1504.5h0M555 1600.5h0M447 1419h0M589 1605.5h0M548 1609.5h0M544.5 1604h0M442 1478.5h0M654.5 1584h0M442 1576h0M663.5 1587.5h0M442 1470h0M469 1375.5h0M658 1577.5h0M634.5 1581.5h0M489.5 1596h0M678 1561h0M666 1547.5h0M447 1411h0M633.5 1590.5h0M566 1606h0M565.5 1506h0M492.5 1516.5h0M466.5 1374.5h0M487 1431.5h0M678.5 1534.5h0M465 1375.5h0M544 1499h0M658.5 1591h0M682 1563h0M444 1489.5h0M661 1574h0M647.5 1582h0M485 1513.5h0M619.5 1596.5h0M667.5 1563h0M625 1507.5h0M545.5 1598h0M534.5 1593.5h0M561 1605.5h0M597.5 1504h0M615 1512h0M643.5 1587h0M676.5 1535h0M609.5 1510.5h0M661.5 1548.5h0M648 1572.5h0M676 1536.5h0M666 1559.5h0M636.5 1513.5h0M531.5 1506h0M659.5 1571.5h0M454.5 1391.5h0M546 1606h0M626 1510.5h0M526.5 1514.5h0M645 1585h0M523 1517h0M669.5 1560h0M542 1501h0M599.5 1506.5h0M660.5 1547h0M605.5 1592.5h0M484.5 1522h0M443.5 1442h0M444.5 1568h0M647 1579h0M612.5 1593.5h0M442 1450h0M674 1570h0M491 1529h0M656 1548h0M511.5 1519h0M485 1597h0M657.5 1555h0M583.5 1599h0M450.5 1408.5h0M444.5 1563.5h0M654.5 1568h0M505.5 1580h0M632 1586h0M676 1566.5h0M489.5 1577.5h0M548.5 1508h0M529.5 1510h0M490 1478h0M672.5 1565.5h0M638 1580h0M658 1561h0M540.5 1505h0M472.5 1393h0M446.5 1577.5h0M680 1562h0M448.5 1426.5h0M446.5 1524h0M575 1500h0M659.5 1580.5h0M446.5 1570.5h0M475 1397.5h0M535 1507.5h0M451 1621.5h0M539 1505h0M659.5 1588.5h0M490.5 1460.5h0M667.5 1570h0M487.5 1474h0M642.5 1522.5h0M600.5 1594h0M556.5 1509.5h0M453 1396.5h0M441.5 1452.5h0M539 1589.5h0M485.5 1505h0M640 1587h0M471.5 1393h0M521 1519h0M598.5 1601h0M448.5 1590h0M622 1591.5h0M512.5 1582h0M486 1503.5h0M601.5 1593.5h0M545 1510.5h0M638 1520.5h0M566 1595.5h0M670.5 1568h0M473 1401.5h0M512.5 1520h0M574 1500.5h0M637 1581h0M542 1596h0M571.5 1596.5h0M482 1413h0M656 1552.5h0M446.5 1430.5h0M443.5 1462h0M572.5 1507h0M517.5 1584.5h0M445 1583h0M646 1567h0M585 1598.5h0M626.5 1514.5h0M454.5 1625.5h0M486 1423h0M541.5 1595h0M440.5 1450h0M618 1590h0M578 1595.5h0M496 1571.5h0M482.5 1622h0M654.5 1556h0M656.5 1561.5h0M460 1393.5h0M662 1572.5h0M513 1524.5h0M449 1610.5h0M639.5 1574h0M493.5 1527.5h0M564.5 1510.5h0M540 1594h0M593 1598h0M627.5 1516h0M641 1524h0M652.5 1565.5h0M645.5 1528h0M486 1443.5h0M643 1574.5h0M641.5 1572h0M574.5 1597h0M498 1533h0M476.5 1407.5h0M597.5 1597.5h0M448 1531h0M515 1581h0M508.5 1574.5h0M573 1507h0M637 1570.5h0M642.5 1574.5h0M450 1522h0M609.5 1513.5h0M531 1514h0M627.5 1523h0M604 1511h0M561.5 1591.5h0M460.5 1396.5h0M466.5 1397h0M647 1552.5h0M445 1474h0M510 1528h0M609.5 1514.5h0M651.5 1565h0M650 1559h0M598.5 1513.5h0M458.5 1405.5h0M472 1395.5h0M646.5 1541.5h0M449 1531h0M539 1587.5h0M532 1519.5h0M629.5 1573h0M449.5 1513h0M483.5 1588.5h0M647 1536.5h0M483 1585h0M633.5 1525h0M452 1622h0M606.5 1513h0M539 1515.5h0M575.5 1508.5h0M470 1405h0M498 1574.5h0M639.5 1524.5h0M648.5 1564.5h0M647.5 1535.5h0M510 1568.5h0M482 1418.5h0M609 1589h0M469 1399.5h0M555 1592h0M483 1490h0M457 1397h0M571 1593h0M554 1593.5h0M513.5 1526h0M450.5 1528h0M493 1532h0M617 1520h0M463.5 1402.5h0M624.5 1586h0M640 1535.5h0M470 1401h0M601 1514h0M512.5 1576h0M482.5 1501h0M540.5 1517h0M574.5 1591h0M626.5 1520h0M522 1520h0M507.5 1576h0M483.5 1498h0M449 1508h0M637.5 1526.5h0M599.5 1591h0M630.5 1520h0M534.5 1515h0M597.5 1513.5h0M455 1407h0M452 1514h0M628 1566.5h0M588.5 1513h0M486 1453.5h0M594 1595.5h0M517 1578h0M458.5 1398.5h0M544.5 1588h0M483 1425h0M590 1591h0M513 1525.5h0M628.5 1520.5h0M450.5 1519.5h0M571.5 1515h0M520 1528.5h0M501 1575h0M594 1597h0M611 1586h0M600.5 1587h0M481.5 1510.5h0M503.5 1565.5h0M463.5 1395.5h0M516.5 1574.5h0M627.5 1571h0M577 1591h0M513.5 1568.5h0M624 1582.5h0M644 1556.5h0M468.5 1402.5h0M550 1515.5h0M646 1535.5h0M557.5 1593h0M515.5 1576h0M622.5 1579.5h0M523 1525h0M589.5 1513.5h0M633.5 1520h0M521.5 1525.5h0M499 1569.5h0M618 1520h0M537 1518.5h0M578 1508h0M544 1588h0M560 1512h0M611.5 1516.5h0M644.5 1548.5h0M588.5 1591.5h0M466 1399.5h0M516.5 1523.5h0M612.5 1589h0M579 1593.5h0M548 1516h0M481 1524.5h0M447 1434.5h0M579 1510h0M446.5 1496h0M483.5 1485.5h0M564.5 1517h0M505.5 1574h0M646.5 1534h0M549 1513.5h0M524 1580h0M545.5 1587h0M564 1515h0M481 1597h0M557.5 1590h0M513 1569.5h0M641.5 1539.5h0M581.5 1512.5h0M641.5 1534h0M605.5 1519h0M450 1562h0M641.5 1544.5h0M538.5 1515.5h0M607 1587h0M590.5 1587h0M560 1517h0M450.5 1429h0M452.5 1510h0M489 1538.5h0M499.5 1535h0M631.5 1528.5h0M554 1519h0M552 1588h0M529 1584h0M493.5 1564h0M629 1525.5h0M484.5 1459.5h0M477 1622h0M596 1588h0M572 1515h0M618.5 1583.5h0M621.5 1581.5h0M631 1565h0M579 1512.5h0M626 1525h0M446.5 1551h0M512 1567.5h0M582 1589.5h0M450 1574h0M592.5 1591.5h0M491.5 1536h0M590.5 1587.5h0M607.5 1585.5h0M560.5 1516h0M616 1519.5h0M452 1596h0M624.5 1576.5h0M448 1552.5h0M583.5 1590.5h0M482.5 1494h0M622.5 1582h0M486.5 1475h0M641.5 1561.5h0M565.5 1517h0M510.5 1537h0M616.5 1588h0M640.5 1544.5h0M622 1524.5h0M481 1584.5h0M484 1488h0M483.5 1487.5h0M644.5 1532h0M638.5 1562h0M581 1589h0M521.5 1524h0M531 1584.5h0M477 1517.5h0M603.5 1584h0M518 1522.5h0M592.5 1515.5h0M448 1436h0M639.5 1561.5h0M599.5 1518h0M643 1553.5h0M525.5 1584h0M639.5 1531.5h0M498.5 1536h0M587 1517h0M580.5 1591h0M535 1522.5h0M630 1558.5h0M491.5 1566h0M523.5 1580h0M630 1533h0M645.5 1558h0M502 1573h0M644.5 1537.5h0M634.5 1529h0M606 1584h0M535.5 1522h0M599 1583.5h0M478.5 1622.5h0M459 1407h0M522 1533h0M575 1514h0M547 1518h0M477 1619.5h0M639.5 1548.5h0M588 1585h0M490 1566.5h0M584 1588.5h0M502.5 1571h0M502.5 1564h0M530 1583.5h0M639.5 1564h0M519.5 1527h0M633 1535h0M615 1580h0M507.5 1531.5h0M630 1566h0M635 1529.5h0M525.5 1526.5h0M498 1535.5h0M636.5 1565.5h0M480 1505h0M500 1534.5h0M456 1408h0M626 1573.5h0M476 1626h0M591 1586h0M569 1588h0M511.5 1534.5h0M563.5 1587.5h0M635.5 1537.5h0M560.5 1517h0M641.5 1533.5h0M611.5 1521.5h0M587.5 1514h0M453 1594h0M482 1580h0M470.5 1626h0M617.5 1585.5h0M447.5 1432h0M484 1473.5h0M637 1559h0M548.5 1518.5h0M448 1544.5h0M502 1570.5h0M558 1519.5h0M453.5 1417h0M446.5 1452h0M633.5 1533.5h0M566.5 1589.5h0M484.5 1577h0M529 1581.5h0M597.5 1519.5h0M546 1584.5h0M605.5 1586h0M447.5 1448h0M494.5 1540h0M639.5 1546.5h0M487.5 1568.5h0M477 1417h0M448.5 1463h0M507 1533.5h0M485.5 1536.5h0M641 1557.5h0M481 1430h0M545 1519h0M483 1457h0M577 1514h0M587.5 1584.5h0M480 1509.5h0M518.5 1571.5h0M544 1520.5h0M513.5 1567h0M559.5 1588h0M529.5 1581.5h0M609 1582h0M500.5 1568h0M614 1527h0M494.5 1563h0M637.5 1564h0M536.5 1523.5h0M450.5 1583h0M477.5 1413h0M479 1609h0M638.5 1558h0M480.5 1587.5h0M579 1584h0M570 1519h0M535.5 1525h0M449.5 1492.5h0M452 1576h0M476.5 1616.5h0M588.5 1584.5h0M547.5 1582h0M609.5 1523h0M576.5 1584.5h0M643.5 1556h0M622.5 1526.5h0M620.5 1582.5h0M583.5 1582.5h0M597 1585h0M510.5 1564.5h0M595.5 1585.5h0M485.5 1536h0M592.5 1588h0M524.5 1575h0M571.5 1587h0M565.5 1586h0M568 1521h0M481 1496.5h0M637.5 1551h0M507 1536.5h0M526 1579.5h0M631.5 1563h0M508.5 1533.5h0M500.5 1561.5h0M528 1576.5h0M504 1538.5h0M530 1579.5h0M579 1581.5h0M602.5 1523.5h0M514 1535.5h0M476 1411.5h0M532.5 1526.5h0M457.5 1409h0M542.5 1522.5h0M455 1418.5h0M635.5 1534.5h0M522.5 1573.5h0M627 1564.5h0M499.5 1564h0M481.5 1435.5h0M634 1544.5h0M544 1521h0M541 1579h0M635.5 1557.5h0M604.5 1523h0M483 1537.5h0M463 1409h0M536.5 1577.5h0M628 1563h0M615 1526h0M502.5 1559h0M615.5 1524.5h0M498.5 1541h0M472 1626.5h0M504 1536h0M574 1586.5h0M621.5 1533h0M529 1582h0M497 1562h0M491.5 1543.5h0M546.5 1583h0M451.5 1585h0M447 1544h0M517.5 1539h0M494.5 1558h0M623.5 1569.5h0M524 1576.5h0M639.5 1557h0M453 1615h0M496.5 1543h0M447 1550.5h0M500.5 1562h0M526 1581h0M450.5 1486h0M583 1513.5h0M629 1533h0M524 1525.5h0M533 1577h0M594.5 1578.5h0M610 1524.5h0M573 1585.5h0M450 1437.5h0M449 1444.5h0M454 1599h0M523 1576.5h0M599.5 1521h0M516.5 1563.5h0M447 1551h0M631.5 1560h0M455 1421h0M636.5 1557.5h0M455 1415.5h0M449.5 1481.5h0M623.5 1572.5h0M483 1465.5h0M633.5 1539h0M485 1540h0M600.5 1522.5h0M455.5 1521h0M474 1413h0M631.5 1559h0M593.5 1520h0M478 1521h0M484.5 1574.5h0M541.5 1521.5h0M619 1530h0M449 1438.5h0M626.5 1559.5h0M489 1541.5h0M599 1582h0M616 1579h0M625.5 1559h0M634 1542.5h0M456.5 1521h0M518.5 1538.5h0M478.5 1418.5h0M623.5 1570h0M508.5 1539h0M478 1592.5h0M543 1581h0M510.5 1563.5h0M589.5 1520.5h0M479 1606.5h0M531.5 1576h0M603 1580h0M563.5 1585.5h0M617.5 1531.5h0M626 1558.5h0M479.5 1422h0M514.5 1535.5h0M624.5 1573.5h0M606.5 1579h0M504.5 1561.5h0M632 1531.5h0M606 1522.5h0M468.5 1625.5h0M483.5 1574.5h0M625.5 1531.5h0M629 1544h0M632 1550h0M624 1532.5h0M483 1571.5h0M625 1537h0M639.5 1559h0M450.5 1473h0M455.5 1410h0M502 1563.5h0M480 1499.5h0M526.5 1573h0M497 1565h0M613 1523.5h0M612.5 1529.5h0M553 1587h0M453.5 1589.5h0M609.5 1580h0M627 1559.5h0M624.5 1537.5h0M490.5 1543h0M637.5 1556.5h0M507 1544.5h0M631 1533.5h0M454 1580.5h0M450.5 1555h0M455.5 1521h0M480.5 1433h0M627 1551h0M454.5 1532.5h0M529.5 1576.5h0M507 1539h0M538.5 1576h0M640 1548h0M520.5 1538.5h0M594 1525h0M477.5 1588.5h0M510.5 1562.5h0M626 1531h0M547 1580.5h0M468.5 1410.5h0M630 1540h0M502 1540.5h0M522.5 1541h0M561.5 1523h0M538 1575.5h0M511 1535.5h0M462 1409h0M468.5 1626h0M559.5 1522.5h0M512 1537.5h0M585.5 1515.5h0M610.5 1574h0M456.5 1516.5h0M623 1564h0M451 1537.5h0M449 1495h0M595.5 1521.5h0M554.5 1585.5h0M454 1508h0M470 1411.5h0M508 1561.5h0M464.5 1410.5h0M529 1528h0M620 1528h0M490 1561h0M527 1528.5h0M619 1562.5h0M522 1567.5h0M557.5 1522.5h0M532 1577h0M450.5 1478h0M631.5 1541h0M477 1595.5h0M536 1570.5h0M451 1432h0M529.5 1529h0M487 1559.5h0M630 1541h0M623 1535.5h0M531.5 1573.5h0M605 1576h0M611.5 1574.5h0M535 1579h0M511.5 1537.5h0M638.5 1550.5h0M455.5 1510.5h0M561.5 1583h0M593.5 1520.5h0M588 1516.5h0M503.5 1540.5h0M495.5 1543.5h0M633.5 1547h0M461 1411h0M623.5 1576h0M535.5 1576h0M628 1558h0M450.5 1568h0M480.5 1601.5h0M504 1561h0M579 1515h0M519.5 1567h0M452.5 1583h0M493 1561.5h0M484.5 1459h0M496.5 1543h0M456.5 1614h0M614 1578.5h0M637 1549h0M619 1535.5h0M608 1524.5h0M537 1525h0M488 1564h0M526.5 1538.5h0M456.5 1618.5h0M551.5 1583h0M479 1532h0M528 1573h0M525.5 1571h0M486.5 1566h0M595 1580.5h0M599.5 1578.5h0M474.5 1414.5h0M460.5 1624.5h0M623 1531.5h0M505.5 1560h0M599.5 1522h0M490 1551h0M453 1583h0M493 1553.5h0M524.5 1570h0M508 1554h0M627 1540.5h0M459.5 1411h0M632.5 1555h0M623 1540h0M450 1457.5h0M478 1596.5h0M451 1487.5h0M475 1412h0M574.5 1584.5h0M624.5 1539h0M534 1572.5h0M636.5 1547h0M612 1576h0M552.5 1584.5h0M485 1546.5h0M481 1534.5h0M494.5 1558h0M542.5 1521.5h0M524 1569h0M497 1542h0M549.5 1522h0M502.5 1544h0M521.5 1567h0M525 1531h0M475 1417h0M618 1529.5h0M631.5 1549.5h0M511 1539h0M505.5 1544h0M590 1580h0M618.5 1532h0M499.5 1546h0M622 1563.5h0M475 1617.5h0M573.5 1583.5h0M517.5 1542h0M548 1525h0M451.5 1434h0M456 1618.5h0M490 1548h0M454.5 1427.5h0M632 1549.5h0M476.5 1419h0M614 1528.5h0M527 1531h0M458 1419h0M452 1539.5h0M453.5 1573.5h0M486.5 1547h0M459.5 1622h0M459 1419h0M479 1527h0M591 1582h0M492 1550.5h0M456 1426h0M631.5 1547h0M588.5 1519.5h0M628 1554h0M451.5 1432h0M619.5 1555h0M477.5 1502h0M475 1592h0M633.5 1551h0M458 1524h0M632 1551h0M475.5 1513.5h0M630.5 1542.5h0M540.5 1577.5h0M453 1583h0M620.5 1570.5h0M629 1540h0M634 1551.5h0M478 1424.5h0M624.5 1532h0M594.5 1527h0M634.5 1546.5h0M526 1534h0M475 1523.5h0M590 1580.5h0M458 1616.5h0M511 1543.5h0M520 1543.5h0M581.5 1517h0M616.5 1556.5h0M609.5 1528h0M529.5 1575h0M521.5 1566.5h0M525.5 1574.5h0M451 1432.5h0M624 1546.5h0M507.5 1547h0M616.5 1559.5h0M460 1621.5h0M482 1444.5h0M537 1570h0M585.5 1518.5h0M455 1616h0M631.5 1542.5h0M623.5 1536h0M451.5 1540h0M449 1546.5h0M592.5 1577.5h0M450.5 1466.5h0M620 1571h0M623 1541.5h0M616 1577.5h0M455 1531h0M450 1456.5h0M605 1528.5h0M625.5 1560.5h0M556.5 1582h0M460 1513.5h0M450 1555h0M489 1556.5h0M527.5 1532.5h0M480 1431.5h0M598 1578.5h0M481.5 1570h0M618 1538h0M467 1411.5h0M610 1571.5h0M571.5 1523h0M453 1589h0M607.5 1576.5h0M620 1560.5h0M605 1574.5h0M479.5 1577h0M457.5 1412.5h0M496.5 1555.5h0M530 1569.5h0M473.5 1515h0M462 1412h0M618.5 1576.5h0M457 1519.5h0M500 1554.5h0M615.5 1578.5h0M625.5 1552h0M458 1510.5h0M610.5 1575h0M454.5 1506h0M462.5 1624.5h0M461.5 1412.5h0M501 1555.5h0M478.5 1512h0M479.5 1431h0M454.5 1430h0M564.5 1584h0M622.5 1542.5h0M476.5 1510h0M462 1415h0M590 1528h0M456.5 1581.5h0M625.5 1554h0M499 1559.5h0M496.5 1550h0M464 1625h0M625 1549.5h0M568.5 1524h0M603 1528h0M622.5 1575h0M506 1557h0M633 1549h0M554 1580h0M472.5 1621h0M595 1579h0M550 1580h0M453 1563.5h0M614 1571.5h0M477 1585h0M502 1559.5h0M605 1573h0M456 1605.5h0M557.5 1523h0M502.5 1545.5h0M460 1514h0M568 1585h0M512 1539.5h0M538 1527h0M477.5 1532.5h0M478 1525.5h0M473 1417h0M561 1524.5h0M454.5 1432.5h0M476 1516.5h0M491 1546.5h0M633.5 1551.5h0M516 1543.5h0M553 1524h0M545 1576.5h0M602 1575h0M528.5 1533.5h0M490.5 1546h0M479.5 1483h0M477 1582.5h0M464.5 1417h0M637.5 1551.5h0M477 1520h0M546 1526.5h0M616 1532h0M479.5 1529.5h0M625.5 1554h0M544.5 1527.5h0M610.5 1529.5h0M616 1571.5h0M484 1541.5h0M484 1540.5h0M494 1554.5h0M524 1568.5h0M555 1582.5h0M458 1414h0M552 1583h0M452 1550.5h0M473.5 1513.5h0M621 1560.5h0M502.5 1555.5h0M599.5 1527h0M564 1584h0M499 1553.5h0M615 1577h0M541 1575h0M559.5 1584.5h0M496 1552h0M514 1557.5h0M623 1548h0M494.5 1549.5h0M480.5 1485.5h0M452.5 1495h0M508 1548h0M497.5 1554.5h0M618.5 1569.5h0M576 1521.5h0M510 1544.5h0M478.5 1420h0M514.5 1543h0M615 1569.5h0M617.5 1531.5h0M595.5 1527h0M456 1573h0M524 1565.5h0M482 1572.5h0M515.5 1561h0M615.5 1575h0M530.5 1533h0M519 1541h0M458 1526.5h0M460.5 1414.5h0M613.5 1545h0M515.5 1543h0M459.5 1520.5h0M537.5 1574h0M614.5 1567h0M517.5 1549.5h0M457 1612.5h0M567 1524.5h0M456.5 1605h0M586.5 1522h0M617.5 1567.5h0M534 1532h0M621 1557.5h0M547 1579.5h0M468 1623.5h0M508 1551.5h0M550 1580h0M480 1437.5h0M523 1541h0M560.5 1523.5h0M457.5 1419h0M585.5 1522.5h0M476.5 1598h0M563 1525h0M619 1546.5h0M628 1544.5h0M455.5 1612.5h0M525.5 1551.5h0M528 1541h0M614 1543h0M502 1549.5h0M455.5 1611.5h0M619.5 1562.5h0M518.5 1555h0M631.5 1550.5h0M521.5 1551.5h0M466 1623.5h0M456.5 1589h0M460 1514h0M582.5 1521.5h0M539.5 1528h0M488 1551.5h0M603 1529h0M621 1551.5h0M479 1531.5h0M629.5 1547h0M509 1557.5h0M625.5 1549h0M456 1598h0M522.5 1542.5h0M605.5 1529.5h0M506 1551h0M537.5 1574h0M560 1583h0M485.5 1560h0M623 1543h0M474 1416.5h0M467 1624h0M513.5 1555.5h0M514 1549h0M459 1513h0M476.5 1503.5h0M620 1540h0M483.5 1568.5h0M502.5 1551h0M546.5 1528h0M548.5 1573.5h0M546 1533h0M527.5 1568h0M454.5 1538.5h0M459.5 1516.5h0M604 1526.5h0M544.5 1576h0M553 1527h0M522 1544h0M519 1559.5h0M585.5 1523h0M522.5 1545.5h0M609.5 1526h0M460.5 1621h0M481 1447.5h0M455.5 1575h0M503 1547h0M475 1518.5h0M620 1546h0M473 1415.5h0M529 1532.5h0M516 1547h0M457.5 1515.5h0M608 1572.5h0M534.5 1567.5h0M614 1566.5h0M478 1526h0M586 1578h0M454 1440h0M616 1537.5h0M623 1550h0M526 1554.5h0M476.5 1614.5h0M523 1563h0M505 1549h0M574.5 1525h0M469 1620h0M541 1571.5h0M609.5 1528.5h0M597.5 1575h0M618 1572.5h0M615.5 1566h0M523.5 1538.5h0M489.5 1546.5h0M578.5 1520h0M619.5 1573.5h0M513.5 1551.5h0M537.5 1573.5h0M514.5 1554.5h0M576.5 1522h0M591 1526h0M518 1558h0M610 1532.5h0M605 1533.5h0M519 1562h0M523 1538.5h0M497 1555h0M499.5 1550h0M457 1576h0M553 1581h0M491.5 1553.5h0M523.5 1543.5h0M521.5 1556h0M617.5 1534.5h0M523 1540h0M478 1498.5h0M517.5 1546h0M481.5 1460h0M497.5 1546.5h0M453.5 1502h0M477.5 1606.5h0M475 1584.5h0M510.5 1549h0M494.5 1548.5h0M537.5 1528h0M494 1545.5h0M449.5 1545.5h0M616 1575.5h0M552.5 1583h0M577 1519h0M522.5 1543h0M612.5 1537.5h0M530.5 1570.5h0M472.5 1618h0M500.5 1555.5h0M486 1551.5h0M477.5 1607h0M514.5 1542h0M616 1561.5h0M470.5 1415h0M619.5 1554h0M490.5 1555.5h0M578.5 1578h0M456.5 1593.5h0M577 1520h0M498 1546.5h0M465.5 1623.5h0M620.5 1552h0M459.5 1421h0M484 1567h0M615.5 1534.5h0M524.5 1564h0M483.5 1550.5h0M500 1549.5h0M480 1574.5h0M478 1431h0M488 1560.5h0M556.5 1525h0M452 1479.5h0M458.5 1616h0M550.5 1527h0M474 1517h0M477 1579h0M454.5 1556h0M543.5 1529h0M471 1623h0M484.5 1563.5h0M539.5 1571.5h0M573.5 1580h0M489 1556.5h0M459.5 1520.5h0M485 1562.5h0M616.5 1570h0M555 1583h0M484 1560.5h0M566.5 1583h0M478.5 1603h0M581.5 1523.5h0M612.5 1537h0M469 1622.5h0M532.5 1571.5h0M472 1621.5h0M506.5 1545h0M560 1582h0M606.5 1528h0M554.5 1526.5h0M518 1561h0M487.5 1552.5h0M617 1571.5h0M486.5 1546h0M527 1542h0M617 1555h0M580 1521h0M454 1559.5h0M615.5 1536h0M616 1576h0M478.5 1527.5h0M495.5 1553h0M536 1533h0M498 1552h0M615 1542.5h0M485.5 1545.5h0M451.5 1490.5h0M468 1624.5h0M619.5 1557.5h0M505.5 1552h0M617 1548h0M454.5 1566h0M592.5 1526.5h0M475.5 1583.5h0M454 1566.5h0M525 1559h0M477 1420.5h0M618.5 1563h0M532.5 1531h0M619 1538.5h0M524.5 1548.5h0M510.5 1547.5h0M471.5 1610h0M456.5 1588h0M478 1532h0M487 1559h0M558 1581.5h0M475.5 1423.5h0M502 1546.5h0M570.5 1525h0M516.5 1554.5h0M456 1600h0M530.5 1536h0M516.5 1553h0M516 1544.5h0M513.5 1550.5h0M496.5 1550.5h0M491 1551h0M453 1435.5h0M501.5 1548h0M549.5 1526h0M614.5 1566h0M481.5 1539.5h0M481 1467.5h0M573 1580.5h0M509 1553h0M452.5 1541.5h0M517 1552.5h0M456.5 1570h0M510.5 1558h0M473.5 1613h0M616 1563.5h0M465 1413.5h0M481.5 1444.5h0M481 1566h0M482.5 1456h0M609 1536h0M457.5 1582h0M476.5 1578h0M512.5 1559h0M609 1533h0M574.5 1578h0M568.5 1528h0M617.5 1574.5h0M460 1427h0M615 1542.5h0M612 1538h0M462 1414.5h0M525 1559.5h0M466.5 1621.5h0M452.5 1465h0M531 1534h0M512 1556h0M454 1434.5h0M487.5 1553.5h0M593 1576h0M485 1560h0M457.5 1608h0M584 1521.5h0M456 1433h0M459.5 1519.5h0M484.5 1561.5h0M585.5 1576h0M476.5 1434h0M458 1617h0M529.5 1537h0M622.5 1546h0M459 1612h0M528.5 1566.5h0M451 1476.5h0M476 1580.5h0M508.5 1553h0M503 1549h0M575.5 1526h0M534.5 1530.5h0M478 1428h0M477.5 1433.5h0M593 1527.5h0M464 1611h0M592 1574.5h0M510 1547.5h0M479 1534.5h0M452 1445.5h0M473.5 1419.5h0M476.5 1513h0M506.5 1553.5h0M525.5 1541.5h0M458 1508.5h0M592.5 1529h0M559 1528.5h0M506.5 1543.5h0M615 1561h0M457 1428.5h0M615.5 1537.5h0M533.5 1569.5h0M590.5 1579h0M529 1534h0M464.5 1620h0M465 1413.5h0M473.5 1583.5h0M453.5 1497h0M611 1565.5h0M613.5 1571h0M516.5 1559.5h0M608.5 1531.5h0M480 1447.5h0M466.5 1417.5h0M508 1556h0M453.5 1536.5h0M481 1471h0M516.5 1557.5h0M458.5 1613h0M585.5 1524.5h0M601 1528.5h0M582 1520.5h0M556.5 1582.5h0M545.5 1526h0M519.5 1549.5h0M504.5 1546.5h0M459.5 1418h0M556.5 1580h0M542.5 1527h0M613.5 1546.5h0M540 1570h0M461.5 1622.5h0M472.5 1614h0M578.5 1576.5h0M518 1548h0M482 1544.5h0M619 1556h0M560.5 1580.5h0M523.5 1561.5h0M555 1580.5h0M529.5 1538.5h0M532 1567h0M509 1549.5h0M617.5 1547h0M544 1527.5h0M545.5 1573.5h0M474 1519h0M542 1572h0M459 1611h0M580 1525h0M537 1531.5h0M579.5 1579h0M537 1531h0M565 1526.5h0M477 1434.5h0M574.5 1521.5h0M621.5 1548h0M460 1418.5h0M479 1446h0M598 1575.5h0M518.5 1544.5h0M534.5 1569.5h0M454.5 1532.5h0M524.5 1558.5h0M450.5 1477h0M562.5 1527h0M548.5 1570h0M460.5 1416.5h0M532 1534h0M549 1526.5h0M534 1563.5h0M476 1577.5h0M609.5 1542h0M471.5 1418h0M474 1509.5h0M474 1512.5h0M473 1420h0M570 1525h0M582.5 1576.5h0M587 1577h0M462.5 1415h0M466.5 1625h0M521.5 1546h0M474.5 1417.5h0M561.5 1578h0M478.5 1431h0M506 1548h0M495.5 1553h0M455 1591h0M619 1544h0M550.5 1576h0M570.5 1527h0M521 1559h0M462.5 1425h0M474.5 1508.5h0M525 1563h0M497 1553h0M514 1556h0M560.5 1578h0M509 1555.5h0M534.5 1532.5h0M476 1598h0M544.5 1571h0M539.5 1530h0M487 1551h0M480 1442.5h0M521.5 1554h0M539 1533.5h0M614.5 1562h0M480 1480.5h0M606 1530.5h0M583 1576h0M602 1527.5h0M525.5 1562.5h0M461.5 1414h0M470.5 1613.5h0M452 1547h0M461.5 1521h0M524 1556.5h0M455.5 1570.5h0M522 1552h0M487.5 1552.5h0M474 1614h0M468.5 1620h0M510 1550h0M531.5 1535.5h0M540 1527.5h0M477 1490h0M464 1622h0M477.5 1436.5h0M461 1582h0M554 1580.5h0M604 1533.5h0M476.5 1500.5h0M575.5 1523.5h0M475 1610h0M601 1574h0M465 1417h0M525.5 1557h0M600 1531.5h0M525 1561h0M456 1500h0M614.5 1560h0M477.5 1607h0M457 1588.5h0M563.5 1580h0M458 1575h0M482.5 1548.5h0M612 1567h0M567.5 1579.5h0M462.5 1617.5h0M477 1532h0M461.5 1413.5h0M615 1546.5h0M618.5 1544.5h0M517.5 1557h0M461.5 1618.5h0M523 1545h0M472 1511.5h0M481.5 1545h0M524 1561.5h0M457 1499h0M583 1526h0M522.5 1549.5h0M615.5 1537h0M528.5 1534h0M595 1528.5h0M605 1530.5h0M571.5 1528h0M542.5 1530h0M483.5 1546h0M529 1540h0M609 1542h0M616.5 1540.5h0M615 1573h0M469.5 1621.5h0M606.5 1536h0M612 1547.5h0M607.5 1563.5h0M465 1423h0M478 1492h0M474 1613h0M459.5 1525h0M458 1585.5h0M476 1424h0M525 1555h0M606.5 1571.5h0M458.5 1599.5h0M610 1547.5h0M457 1616.5h0M458 1428.5h0M530.5 1557h0M559.5 1578h0M579 1577h0M594.5 1531h0M545 1530.5h0M545 1528h0M579.5 1527.5h0M608.5 1565.5h0M562.5 1581h0M585.5 1574h0M460 1513h0M610.5 1554h0M600.5 1575h0M457 1527.5h0M608.5 1535.5h0M515 1552.5h0M476 1525h0M515.5 1553.5h0M584 1528.5h0M478.5 1494.5h0M520 1548.5h0M517 1556h0M506.5 1552h0M554.5 1581h0M470 1517.5h0M584.5 1524.5h0M568 1526h0M543 1532.5h0M612 1540.5h0M562.5 1579h0M521 1553.5h0M474 1418.5h0M569.5 1579h0M454 1440h0M595 1531.5h0M566.5 1528.5h0M477.5 1576h0M472 1583h0M454 1493.5h0M452.5 1553h0M509.5 1553.5h0M475 1527h0M608.5 1530.5h0M485 1557h0M570 1527.5h0M554 1573.5h0M468.5 1616.5h0M618.5 1547h0M472 1521h0M523 1547.5h0M600 1530h0M575.5 1578.5h0M533 1566.5h0M608 1568h0M453 1490h0M453.5 1541.5h0M459.5 1609h0M475 1532h0M548 1574.5h0M600.5 1571.5h0M462.5 1423h0M616 1550h0M520 1552.5h0M564.5 1530.5h0M540 1567.5h0M480.5 1566.5h0M615.5 1541h0M604 1570.5h0M459 1584.5h0M452.5 1452h0M474 1603h0M584 1575.5h0M470.5 1617.5h0M533.5 1534.5h0M518.5 1556.5h0M472.5 1505h0M558 1575h0M592 1575.5h0M476.5 1603h0M453.5 1564h0M460 1577.5h0M572.5 1581h0M578 1523h0M458 1605h0M603 1564.5h0M453 1558h0M569 1579h0M457.5 1601h0M618 1551h0M461.5 1615.5h0M531.5 1533.5h0M462 1420h0M465.5 1513.5h0M461.5 1423h0M476.5 1493.5h0M529.5 1536h0M551 1576h0M463.5 1521h0M535 1564h0M476 1501h0M537 1530.5h0M472.5 1615h0M561 1529h0M472.5 1582h0M548 1572h0M589.5 1571.5h0M530.5 1563.5h0M525 1560h0M452 1451h0M539.5 1534.5h0M613.5 1558.5h0M541 1566.5h0M452 1549.5h0M553 1573.5h0M552.5 1572h0M476.5 1422.5h0M511.5 1556h0M473 1423.5h0M457.5 1595.5h0M480 1570h0M606.5 1535.5h0M540 1569h0M556 1575h0M535.5 1538h0M461.5 1514h0M464 1518.5h0M463.5 1427h0M525 1548h0M618 1558.5h0M462 1615.5h0M473 1598h0M466.5 1618h0M558 1530h0M475.5 1577.5h0M458.5 1617h0M528.5 1537.5h0M533 1537h0M468 1619h0M457.5 1591.5h0M474 1579.5h0M465.5 1582.5h0M472.5 1522h0M469 1520.5h0M471.5 1614h0M459.5 1620.5h0M461 1416h0M474 1608h0M471 1618h0M580.5 1523.5h0M459 1585.5h0M527.5 1556.5h0M476 1605.5h0M531 1540h0M609 1540.5h0M470 1423h0M519.5 1556.5h0M530 1544h0M530.5 1561.5h0M453 1557.5h0M457.5 1593.5h0M459.5 1525.5h0M454.5 1550h0M466.5 1419h0M463.5 1622h0M470.5 1612h0M466.5 1514h0M554.5 1578.5h0M603 1534.5h0M589.5 1571.5h0M452 1474.5h0M471 1615h0M451 1462h0M457 1585.5h0M531 1540.5h0M513.5 1557.5h0M473.5 1424.5h0M457.5 1604.5h0M463.5 1621h0M616 1551h0M614 1545h0M530.5 1562.5h0M458.5 1602h0M566 1528.5h0M467 1620h0M462.5 1618h0M544 1528.5h0M620 1549.5h0M620.5 1552h0M465 1620.5h0M568 1528.5h0M454 1444.5h0M612 1565h0M586.5 1576.5h0M547.5 1569h0M582 1522h0M457.5 1572h0M567.5 1575.5h0M550.5 1574h0M476 1530h0M464 1617.5h0M459 1594.5h0M567.5 1577.5h0M456 1503h0M562 1577h0M475.5 1602.5h0M460.5 1579.5h0M459.5 1585.5h0M474.5 1507h0M453.5 1445.5h0M565 1528.5h0M473.5 1580.5h0M581 1522.5h0M477.5 1529.5h0M526 1550h0M482.5 1563h0M615 1547.5h0M472.5 1512.5h0M556 1578.5h0M458.5 1579.5h0M615 1547.5h0M591 1531.5h0M594.5 1533h0M472.5 1613.5h0M545.5 1530.5h0M470 1614.5h0M554 1529h0M572.5 1526h0M477.5 1493h0M460.5 1596h0M516 1552.5h0M471 1606.5h0M533.5 1537h0M526.5 1555h0M479 1542.5h0M606 1537h0M513 1555.5h0M545.5 1569.5h0M574 1578h0M546.5 1568h0M456.5 1576h0M471.5 1517.5h0M527.5 1547h0M474.5 1421h0M471 1422h0M460 1607.5h0M470 1417h0M599 1531.5h0M452.5 1467h0M545.5 1565.5h0M548.5 1569.5h0M566.5 1577.5h0M473.5 1602.5h0M529.5 1564h0M545 1533h0M476.5 1605.5h0M595.5 1575h0M586 1533.5h0M531.5 1547h0M608 1540.5h0M551 1531h0M469.5 1424.5h0M535 1563.5h0M475.5 1603.5h0M454 1549.5h0M594 1529.5h0M522 1550h0M608 1565.5h0M612 1558.5h0M581.5 1521.5h0M463 1620h0M458.5 1572h0M568 1528.5h0M578 1522.5h0M571.5 1578h0M451.5 1463h0M473 1528.5h0M474 1580.5h0M482 1548.5h0M527.5 1551h0M481 1555.5h0M473.5 1424h0M459 1577.5h0M536 1561.5h0M546.5 1566.5h0M562 1579.5h0M458 1573.5h0M461 1586h0M578.5 1527h0M537.5 1566h0M461.5 1615h0M456.5 1502.5h0M566 1532.5h0M612.5 1548h0M477.5 1439.5h0M456.5 1501.5h0M611 1542h0M583 1528.5h0M545 1529.5h0M604.5 1531.5h0M532 1535.5h0M541.5 1532.5h0M570.5 1529.5h0M522 1549.5h0M459 1590.5h0M475 1571.5h0M481.5 1556.5h0M541 1568h0M460.5 1589.5h0M532 1549h0M608.5 1544.5h0M616.5 1552h0M533 1540h0M563 1577.5h0M476 1530.5h0M460.5 1584.5h0M589.5 1573.5h0M469 1424h0M473.5 1532.5h0M471.5 1587.5h0M578 1522.5h0M606 1532.5h0M538.5 1536h0M457 1588h0M571 1525.5h0M577.5 1525.5h0M480 1462.5h0M465 1416.5h0M480 1451.5h0M467 1512.5h0M615.5 1552h0M608.5 1544h0M579 1528.5h0" stroke="#000083" stroke-width="1.6" stroke-linecap="square" fill="none"/>
<path d="M464 1421h0M471.5 1512.5h0M534.5 1563.5h0M472 1612.5h0M614.5 1554h0M565 1578.5h0M486 1554.5h0M459.5 1604.5h0M464.5 1586.5h0M608.5 1565h0M557.5 1575.5h0M618 1552.5h0M546 1533h0M466.5 1417.5h0M479 1565h0M480.5 1566h0M463 1420h0M587.5 1571.5h0M551 1574.5h0M545.5 1573h0M466.5 1515.5h0M473.5 1600h0M462 1524.5h0M473.5 1607.5h0M580.5 1522h0M531 1553h0M611 1546.5h0M609 1535h0M483.5 1556.5h0M554 1527h0M539 1534h0M462 1612h0M606 1536.5h0M563 1576.5h0M471 1588h0M579.5 1531h0M470.5 1510h0M603 1569h0M562 1533h0M605 1537.5h0M527.5 1561h0M613.5 1551.5h0M553 1570.5h0M582.5 1574h0M543.5 1567h0M456 1564.5h0M461 1614.5h0M544.5 1572.5h0M476 1574.5h0M473 1524h0M599.5 1537.5h0M544 1569.5h0M458 1507h0M470.5 1611h0M611 1563h0M587.5 1575h0M604 1566h0M583 1529.5h0M453.5 1485.5h0M551.5 1531h0M459.5 1604.5h0M481 1546h0M453.5 1483h0M468.5 1419.5h0M467.5 1616.5h0M461.5 1614.5h0M485 1553.5h0M475.5 1498.5h0M476.5 1530.5h0M609.5 1535.5h0M475 1432.5h0M452.5 1479h0M479 1465.5h0M465 1616.5h0M475.5 1530.5h0M471.5 1590h0M578 1574.5h0M469.5 1587h0M468.5 1420h0M548 1531h0M467 1513h0M577.5 1524.5h0M474.5 1608.5h0M539 1540h0M594 1572h0M467.5 1513.5h0M608 1536.5h0M529 1558.5h0M579 1526.5h0M538.5 1541.5h0M612.5 1560.5h0M460 1606.5h0M610 1534.5h0M571 1578.5h0M461 1587h0M468 1587h0M465.5 1518h0M530.5 1550h0M457 1571.5h0M574.5 1573.5h0M559.5 1577h0M605.5 1553h0M473 1430h0M606 1563.5h0M480.5 1461h0M616.5 1555h0M473.5 1429.5h0M578.5 1571.5h0M463 1424.5h0M462.5 1517h0M465 1418.5h0M474 1425h0M611 1558.5h0M474 1430h0M605.5 1564.5h0M582 1528.5h0M465 1515h0M458 1602h0M463 1582h0M599.5 1531.5h0M473 1428h0M469 1599h0M611 1556.5h0M460 1607.5h0M553 1528h0M474 1604h0M577.5 1576.5h0M467 1420.5h0M461.5 1586h0M597 1529.5h0M575 1576h0M530.5 1554.5h0M461 1508h0M470 1520h0M466.5 1517.5h0M469.5 1614h0M551 1533h0M588 1571.5h0M537 1538.5h0M590.5 1529.5h0M454 1496h0M469 1509.5h0M479 1557.5h0M474.5 1522h0M587 1572h0M608 1539h0M572.5 1529h0M538 1539.5h0M474 1604.5h0M529 1544h0M618 1555.5h0M475 1435h0M467 1583h0M463 1607.5h0M568.5 1580.5h0M475.5 1435.5h0M460 1577h0M611 1560h0M471 1518.5h0M464.5 1514.5h0M482.5 1556.5h0M595 1530.5h0M608.5 1563h0M536.5 1564.5h0M600.5 1569h0M571 1577h0M545.5 1566h0M457 1574h0M461.5 1577h0M479.5 1454h0M612 1536.5h0M539.5 1535.5h0M542.5 1536h0M582.5 1522h0M458.5 1437h0M571 1529.5h0M593.5 1530h0M481.5 1552.5h0M578.5 1526.5h0M464 1425.5h0M479 1471h0M469 1606.5h0M478 1442.5h0M461.5 1614h0M462 1427h0M463 1517h0M465.5 1616.5h0M601 1540h0M587.5 1530h0M469 1422.5h0M461.5 1620.5h0M476 1528h0M531 1543h0M594 1574.5h0M463.5 1518.5h0M606 1556h0M597.5 1571.5h0M452 1459.5h0M463 1577.5h0M462 1574h0M576.5 1576.5h0M459.5 1502h0M542 1569h0M465 1579h0M598 1572.5h0M462 1613h0M469.5 1419.5h0M525 1549.5h0M481.5 1554h0M466.5 1606h0M547 1570.5h0M534.5 1566h0M458.5 1599h0M529.5 1535.5h0M473 1504h0M535.5 1539.5h0M560 1528.5h0M454 1491h0M453.5 1556.5h0M567.5 1578.5h0M466.5 1619.5h0M529.5 1546h0M583 1529h0M547 1568.5h0M524 1552.5h0M571 1574.5h0M471 1525h0M549 1567h0M474 1607h0M462.5 1587.5h0M468 1515h0M480 1562.5h0M605.5 1563h0M567 1527.5h0M594 1571.5h0M454 1493.5h0M454 1542.5h0M605 1538h0M568 1575.5h0M460.5 1608h0M468.5 1520.5h0M561 1575.5h0M461 1525.5h0M565.5 1573h0M554.5 1529.5h0M590.5 1571.5h0M610.5 1553h0M476.5 1603h0M534.5 1544.5h0M472.5 1585.5h0M474 1603.5h0M456.5 1591.5h0M602 1539h0M591 1572h0M464.5 1584h0M471.5 1608h0M545 1572h0M532.5 1560.5h0M471.5 1589.5h0M469 1614.5h0M476.5 1571h0M555.5 1572h0M458.5 1431h0M463 1418h0M607 1552h0M465 1520.5h0M459 1506.5h0M472.5 1421.5h0M611 1557h0M552 1574h0M530.5 1547.5h0M580 1575h0M470.5 1519.5h0M591 1530.5h0M577 1573.5h0M462.5 1612.5h0M467 1418h0M466.5 1613h0M472.5 1506h0M605 1541h0M599.5 1533h0M459 1576.5h0M459 1573.5h0M538.5 1560.5h0M581 1573h0M541 1566h0M469 1590h0M531.5 1560h0M601 1550.5h0M469.5 1525.5h0M576.5 1575h0M604 1560.5h0M475.5 1575.5h0M585 1532h0M529.5 1551h0M464.5 1614h0M558.5 1529h0M470.5 1427h0M468.5 1574.5h0M467.5 1522.5h0M598.5 1534h0M535.5 1540.5h0M474 1433.5h0M478 1450h0M582 1531.5h0M464 1518h0M541 1539h0M472 1606.5h0M538 1540h0M453 1542.5h0M476 1493.5h0M469 1613h0M603.5 1549.5h0M596 1537.5h0M555.5 1528.5h0M540.5 1538.5h0M576.5 1530.5h0M468 1515.5h0M461.5 1575h0M549.5 1530h0M574 1528h0M465.5 1610h0M601.5 1536h0M550.5 1566h0M472.5 1595.5h0M570.5 1531.5h0M577 1575.5h0M605.5 1564h0M558 1528h0M474.5 1524.5h0M464 1591h0M459 1592h0M603 1536h0M572.5 1577h0M530.5 1543.5h0M611 1550h0M466.5 1586h0M453.5 1542h0M587.5 1573h0M549.5 1530h0M457.5 1504h0M457 1588.5h0M555.5 1531.5h0M471 1421h0M477.5 1570h0M545 1568h0M605.5 1557.5h0M460.5 1427.5h0M547 1531.5h0M477 1445h0M543 1563h0M529.5 1557h0M472.5 1593h0M549 1534h0M470 1510.5h0M611 1559.5h0M467 1428.5h0M532 1547h0M453.5 1558.5h0M464 1581.5h0M534.5 1552.5h0M459.5 1506h0M453 1444h0M473 1527h0M541.5 1540h0M481 1551h0M611 1553.5h0M463.5 1610.5h0M531.5 1558.5h0M472.5 1429h0M581.5 1530.5h0M533 1554h0M594 1531h0M530 1552.5h0M469.5 1427.5h0M468.5 1425.5h0M557 1574h0M590.5 1534h0M472 1506h0M467.5 1592.5h0M477 1443.5h0M606.5 1544h0M602.5 1536.5h0M459.5 1574h0M476.5 1569h0M481 1553h0M464 1425h0M590 1534h0M470 1511h0M465 1595h0M471 1596h0M465.5 1511.5h0M466.5 1606.5h0M571.5 1527.5h0M585 1530h0M470 1521.5h0M464.5 1519h0M540 1558.5h0M531.5 1562.5h0M464.5 1586h0M569 1575.5h0M530.5 1547h0M554.5 1528h0M599.5 1571h0M601 1542.5h0M528 1557h0M606.5 1547.5h0M532 1548.5h0M479 1465h0M551 1530h0M605.5 1560h0M597 1533h0M589 1567.5h0M564 1529.5h0M540.5 1537.5h0M552 1568h0M462.5 1594.5h0M601 1532.5h0M600.5 1564h0M463.5 1609.5h0M470.5 1584.5h0M468 1520.5h0M462.5 1581.5h0M602 1568h0M576 1530.5h0M546.5 1569h0M594 1532.5h0M542.5 1560h0M480.5 1564.5h0M569.5 1574h0M469.5 1519h0M587.5 1568h0M467.5 1422h0M599.5 1535h0M471.5 1577.5h0M614 1550.5h0M601.5 1568h0M464.5 1608h0M597.5 1570.5h0M576 1527h0M482.5 1552h0M472 1577.5h0M469 1587.5h0M470.5 1587h0M582 1573h0M468 1515h0M534 1552.5h0M468 1588.5h0M469.5 1426.5h0M609 1556.5h0M544.5 1561.5h0M535.5 1543.5h0M588.5 1532.5h0M461.5 1595.5h0M601 1567.5h0M552 1573h0M466.5 1520h0M539 1554.5h0M540 1563.5h0M549.5 1569.5h0M594 1533.5h0M467.5 1597h0M578 1526.5h0M462 1596.5h0M593.5 1537h0M540.5 1561.5h0M468.5 1514.5h0M601.5 1540.5h0M560 1530h0M465 1608h0M465.5 1518h0M600.5 1570h0M458.5 1593.5h0M463 1428.5h0M533.5 1547h0M469.5 1511.5h0M604 1549.5h0M471.5 1511h0M571.5 1531h0M464 1584h0M466.5 1588h0M480.5 1566.5h0M554 1573h0M603 1540.5h0M460 1601.5h0M468 1606.5h0M477.5 1447h0M614 1554.5h0M552 1534h0M550.5 1569.5h0M473 1595.5h0M607 1563h0M606.5 1565.5h0M458 1571h0M598 1534h0M593.5 1540.5h0M460 1530h0M595.5 1538h0M549.5 1569h0M603.5 1544h0M608.5 1556h0M461 1602.5h0M553 1573.5h0M470.5 1576.5h0M602.5 1569h0M542 1537.5h0M613 1547h0M603.5 1541.5h0M476.5 1536h0M530 1555h0M555.5 1569.5h0M473 1600h0M478 1456.5h0M597 1534h0M592 1535.5h0M600.5 1565h0M477 1446.5h0M602 1542.5h0M466 1574h0M608 1564.5h0M597 1568h0M460.5 1431h0M558 1575.5h0M475 1575.5h0M480 1468.5h0M479 1560h0M472 1529h0M471.5 1521.5h0M468 1612h0M460.5 1505h0M531 1563h0M473 1436.5h0M463.5 1602h0M530 1548.5h0M545 1567h0M539.5 1560h0M595.5 1539h0M462.5 1579h0M559.5 1571.5h0M610 1559.5h0M473 1575.5h0M573 1575.5h0M469 1583.5h0M607.5 1562h0M594 1573h0M609.5 1547.5h0M467 1593.5h0M537 1548h0M480.5 1558.5h0M469.5 1610.5h0M610 1548.5h0M465.5 1512h0M480.5 1551h0M473 1578.5h0M590.5 1571h0M529 1548.5h0M596.5 1573h0M584.5 1571.5h0M598 1533.5h0M453.5 1452h0M598 1543h0M588.5 1532.5h0M458.5 1442h0M469 1596h0M572 1576h0M478.5 1566h0M468 1608h0M471.5 1583h0M601 1557h0M601.5 1557h0M541 1564.5h0M460 1529.5h0M462 1576.5h0M544.5 1537.5h0M593 1535.5h0M469.5 1606h0M544 1560.5h0M461 1590.5h0M568 1571.5h0M613.5 1551h0M564.5 1535h0M551 1531.5h0M462 1526h0M536.5 1559h0M555.5 1533.5h0M540.5 1555.5h0M531 1554.5h0M476.5 1574.5h0M603 1545h0M472 1595.5h0M471.5 1604.5h0M537.5 1546.5h0M479.5 1560h0M593.5 1572h0M461.5 1604.5h0M570.5 1573h0M470 1427h0M474 1601.5h0M566 1534h0M465 1577.5h0M604 1562h0M606 1538.5h0M458 1502.5h0M479.5 1566.5h0M476 1537h0M470 1517h0M468.5 1420.5h0M576 1572.5h0M587 1534h0M463.5 1588.5h0M534.5 1558h0M467.5 1613.5h0M476.5 1450h0M469 1605.5h0M467.5 1523h0M459.5 1602h0M480.5 1469.5h0M594.5 1570h0M565.5 1574h0M460 1439h0M542.5 1555.5h0M602 1565h0M556 1529.5h0M454 1449.5h0M602.5 1566h0M591 1569h0M600.5 1541.5h0M606 1566h0M544 1562h0M595 1565h0M596.5 1539.5h0M457 1501.5h0M531 1553h0M464.5 1505.5h0M467.5 1521h0M600.5 1565.5h0M534 1562.5h0M532 1550h0M470 1507h0M541.5 1535.5h0M558 1531.5h0M462 1606.5h0M460.5 1598.5h0M605.5 1546h0M471.5 1579h0M554.5 1575h0M465 1606.5h0M575.5 1575h0M453.5 1471.5h0M460 1600h0M572 1533h0M580 1575h0M464 1591.5h0M535 1554.5h0M454.5 1454h0M553.5 1534.5h0M557 1528h0M471.5 1603h0M464.5 1422.5h0M598.5 1553.5h0M468.5 1429h0M608 1555h0M467.5 1423.5h0M564 1536.5h0M560 1574h0M533.5 1556h0M469 1597.5h0M467.5 1592h0M473.5 1433h0M458 1498.5h0M570.5 1570h0M526 1553h0M593.5 1541h0M470.5 1523h0M470.5 1592h0M601 1565h0M458 1503.5h0M471 1581h0M537.5 1548.5h0M468.5 1581h0M455.5 1555h0M561.5 1574h0M542 1542h0M452.5 1472h0M530 1550.5h0M471.5 1608.5h0M555 1573.5h0M586.5 1533h0M536 1547h0M457.5 1437h0M605 1562.5h0M552 1568h0M465 1600.5h0M560 1570h0M458.5 1437h0M540.5 1549h0M612.5 1553h0M478 1450h0M454 1464.5h0M472 1605.5h0M581.5 1531h0M607 1559.5h0M460 1431.5h0M462.5 1604h0M534.5 1557h0M474 1534.5h0M565 1536.5h0M538.5 1540.5h0M601.5 1542h0M549.5 1564h0M576.5 1533h0M534.5 1559.5h0M606 1558.5h0M466.5 1506.5h0M477.5 1448.5h0M553.5 1567h0M605.5 1559h0M592.5 1569.5h0M477.5 1564.5h0M475.5 1490h0M472.5 1509h0M472.5 1604h0M603 1546h0M462 1604h0M466 1419.5h0M607 1556h0M531 1559h0M566.5 1571.5h0M463.5 1519h0M471 1594.5h0M555 1529.5h0M534.5 1561.5h0M478 1568h0M583 1531.5h0M601 1565.5h0M607.5 1549h0M460 1434h0M463 1591h0M537.5 1541.5h0M459 1568.5h0M471 1595h0M580 1530.5h0M597 1570.5h0M554 1569h0M468.5 1524h0M458 1536h0M464 1602.5h0M464 1581h0M464.5 1524.5h0M535.5 1556h0M539 1540h0M610 1553.5h0M588.5 1534.5h0M535.5 1550.5h0M471 1573.5h0M461 1602h0M464 1591.5h0M460.5 1529.5h0M475.5 1568.5h0M465 1508h0M474 1569.5h0M611.5 1552h0M452.5 1454h0M458 1533.5h0M610.5 1553.5h0M587 1535.5h0M605 1547h0M610 1552.5h0M462 1598.5h0M469.5 1590.5h0M538 1561h0M534.5 1562h0M536 1558h0M472 1594.5h0M601.5 1542h0M541 1563h0M465.5 1580h0M532 1558.5h0M553 1534.5h0M463.5 1428h0M609 1560.5h0M532.5 1560.5h0M468.5 1520h0M545.5 1538.5h0M465.5 1582h0M530.5 1549h0M473 1431.5h0M469 1506.5h0M538 1546h0M469.5 1425h0M538 1559.5h0M598 1534.5h0M478 1568.5h0M577.5 1532.5h0M536 1546h0M541.5 1562h0M609 1553.5h0M472 1512h0M464.5 1601h0M589 1540.5h0M536.5 1561h0M479.5 1468.5h0M469 1583h0M467.5 1583.5h0M541 1542h0M603 1564.5h0M461 1588h0M464.5 1519h0M541.5 1550.5h0M543 1536.5h0M468 1578.5h0M471 1596.5h0M606 1548.5h0M454 1471h0M609.5 1561h0M604 1557h0M555 1529.5h0M462 1431h0M469 1525.5h0M469.5 1598h0M532 1555h0M595 1536h0M467.5 1584h0M467.5 1590h0M480.5 1549h0M458.5 1433h0M467.5 1580.5h0M537 1560h0M543.5 1543h0M539 1546.5h0M475.5 1496.5h0M462.5 1596.5h0M477.5 1455.5h0M599 1568.5h0M465.5 1607h0M462 1597h0M453 1457h0M533 1560h0M463.5 1609.5h0M574 1570.5h0M471 1526h0M453.5 1475h0M467.5 1523.5h0M536 1550.5h0M575.5 1530h0M468.5 1424h0M550.5 1536h0M610.5 1560.5h0M460.5 1591h0M466.5 1585h0M606 1538h0M463 1527.5h0M603.5 1552h0M538 1543.5h0M546.5 1538h0M596.5 1539h0M465 1605.5h0M557 1572.5h0M473 1607h0M565 1535h0M580.5 1532.5h0M467 1523h0M464 1508.5h0M606.5 1551.5h0M467.5 1576h0M467 1591h0M599 1540.5h0M454.5 1543.5h0M573.5 1572.5h0M613 1556.5h0M544.5 1563.5h0M602 1537.5h0M541 1540h0M593 1538h0M610.5 1556.5h0M462.5 1575.5h0M480 1553.5h0M548.5 1539h0M471.5 1595h0M577 1571.5h0M539 1565h0M462 1590h0M465.5 1612.5h0M598.5 1571h0M461 1431h0M597.5 1542.5h0M475.5 1488.5h0M453 1475.5h0M461 1431h0M467 1593.5h0M464 1600h0M470 1591.5h0M455 1481.5h0M458.5 1435.5h0M467 1605h0M539 1548.5h0M469.5 1579h0M461.5 1505h0M556 1569h0M601.5 1539.5h0M457 1499.5h0M538.5 1553h0M554.5 1572.5h0M475.5 1572.5h0M469.5 1573.5h0M607 1554.5h0M557.5 1531h0M593 1569.5h0M471 1506.5h0M543 1559h0M461.5 1430.5h0M553 1566h0M557 1534.5h0M462.5 1604.5h0M540 1544.5h0M468 1508h0M535.5 1549.5h0M461.5 1603.5h0M584 1566.5h0M469.5 1599.5h0M542 1556.5h0M606 1550.5h0M470 1606.5h0M585.5 1570h0M608.5 1558h0M468 1527.5h0M597.5 1538.5h0M463 1432h0M601.5 1558.5h0M462.5 1503.5h0M533 1554h0M474 1574h0M469 1574h0M461.5 1604.5h0M599.5 1541.5h0M469 1531h0M467 1529h0M465 1506.5h0M461 1599.5h0M464 1607.5h0M468 1576.5h0M457.5 1502.5h0M562.5 1570h0M584.5 1536.5h0M463.5 1589h0M456 1448.5h0M472 1506h0M533 1550h0M565 1575.5h0M608 1550h0M470.5 1605h0M592.5 1567h0M560.5 1535h0M467 1432h0M462.5 1597.5h0M464.5 1587.5h0M477 1446.5h0M471 1577.5h0M466.5 1587h0M460.5 1440h0M562 1536.5h0M567.5 1570h0M457.5 1536h0M532 1550.5h0M468.5 1605.5h0M460 1501.5h0M578.5 1569.5h0M470.5 1430.5h0M599.5 1566h0M460.5 1532.5h0M596.5 1569.5h0M467.5 1603h0M466.5 1426.5h0M571.5 1572h0M593 1538h0M571.5 1575h0M589 1537h0M542 1545.5h0M554.5 1533h0M462 1590.5h0M589.5 1541h0M555.5 1527.5h0M475.5 1444.5h0M569.5 1533h0M563 1570h0M569 1573.5h0M590 1568h0M479 1556h0M479.5 1554h0M473.5 1534h0M589.5 1562.5h0M471 1427.5h0M600.5 1553h0M460.5 1527.5h0M467 1508.5h0M459.5 1572h0M468 1582h0M539.5 1540.5h0M571 1575h0M570 1534.5h0M533 1548.5h0M535.5 1557h0M470.5 1600.5h0M596 1537h0M604 1559h0M606.5 1552.5h0M456.5 1562h0M602 1553.5h0M580.5 1534h0M573.5 1566h0M477 1453h0M610 1554h0M542 1559.5h0M463 1582.5h0M479 1551.5h0M469 1527h0M604.5 1547h0M558 1531.5h0M468.5 1600h0M461 1592h0M455 1544h0M565 1533.5h0M562 1573h0M606 1556h0M533.5 1555.5h0M469.5 1525.5h0M453.5 1457h0M456 1491.5h0M468 1605h0M471.5 1430h0M551 1565h0M469 1574h0M547 1540.5h0M599.5 1548h0M539.5 1546.5h0M550 1561.5h0M564.5 1575h0M601.5 1548h0M564.5 1573.5h0M468.5 1601h0M466 1429.5h0M464 1601.5h0M468.5 1426h0M458 1436h0M555.5 1530.5h0M458 1539h0M597.5 1567.5h0M599.5 1540.5h0M472 1498h0M597.5 1569.5h0M535.5 1558.5h0M590 1536.5h0M467 1424h0M456 1486.5h0M468 1429.5h0M467.5 1593h0M464.5 1525h0M576.5 1532h0M544 1559.5h0M462.5 1598h0M473 1570h0M535.5 1552.5h0M466.5 1583.5h0M466 1591h0M536.5 1552.5h0M466 1525h0M470 1592.5h0M561.5 1571h0M606.5 1549.5h0M461.5 1530.5h0M572 1537h0M457 1536h0M595 1541.5h0M459 1434h0M542.5 1556.5h0M537 1552.5h0M546.5 1560h0M545 1536h0M533 1557.5h0M554.5 1566.5h0M605 1556h0M474.5 1574h0M457.5 1565.5h0M589.5 1537h0M479 1555.5h0M585 1538h0M597.5 1551.5h0M580.5 1538.5h0M463.5 1600h0M543.5 1560h0M561.5 1533.5h0M543 1553.5h0M474.5 1538.5h0M480 1556h0M466 1589h0M553.5 1568h0M609.5 1557h0M562.5 1538.5h0M602 1544.5h0M602.5 1568.5h0M474 1431.5h0M537 1548h0M535 1553.5h0M555 1570h0M603.5 1541h0M549.5 1536.5h0M605.5 1557h0M455.5 1493h0M570 1531.5h0M465.5 1508.5h0M464 1527h0M592 1568.5h0M600 1563.5h0M568.5 1537h0M535.5 1563h0M541 1562h0M560 1533h0M469 1424.5h0M558 1537h0M533.5 1549.5h0M543 1561h0M579 1569h0M587.5 1537.5h0M467.5 1577.5h0M463 1509h0M579.5 1531h0M461 1575h0M598 1542.5h0M604.5 1558h0M460.5 1569.5h0M594.5 1566h0M612.5 1552.5h0M588.5 1571h0M556.5 1541h0M552 1547.5h0M558 1572h0M597 1560h0M460.5 1428h0M466 1505.5h0M480.5 1564h0M581 1568.5h0M464.5 1596h0M454 1471h0M459 1568.5h0M582.5 1568.5h0M555.5 1570.5h0M597.5 1566.5h0M597 1571h0M472.5 1435h0M559.5 1533.5h0M473 1434h0M602 1558h0M602 1559h0M465 1598h0M583 1567h0M598 1539.5h0M580 1531.5h0M463 1432h0M459.5 1568.5h0M470.5 1592h0M469 1506.5h0M571 1571h0M462.5 1530.5h0M562 1568.5h0M599 1549h0M545 1546h0M466 1594.5h0M469.5 1595h0M605.5 1552h0M532.5 1557.5h0M456 1481.5h0M463 1574.5h0M551.5 1558h0M543 1551h0M462.5 1571.5h0M584 1535.5h0M535.5 1548.5h0M470.5 1576.5h0M567 1572.5h0M466.5 1604h0M456.5 1486.5h0M479 1549h0M465 1507.5h0M536 1555h0M586.5 1571h0M593.5 1567.5h0M594.5 1564.5h0M585.5 1568h0M576 1537h0M553.5 1535h0M545 1557.5h0M476 1445h0M479.5 1548.5h0M555 1566h0M572 1572h0M537.5 1554h0M468 1598.5h0M598 1565h0M454.5 1450.5h0M539.5 1555h0M461 1434h0M549 1559.5h0M470.5 1573.5h0M476.5 1542.5h0M601 1556.5h0M469 1578h0M603 1548h0M571.5 1535.5h0M588.5 1534.5h0M478 1548.5h0M457.5 1569h0M471 1499.5h0M532 1555h0M467.5 1599.5h0M596 1553h0M456 1491.5h0M560.5 1570h0M558.5 1572.5h0M602.5 1549.5h0M467.5 1575h0M563 1562.5h0M460 1533h0M574.5 1532.5h0M578.5 1531h0M554 1562.5h0M553 1562.5h0M546 1544.5h0M461.5 1531h0M465 1426.5h0M468 1508h0M549.5 1536.5h0M576 1533.5h0M540.5 1556.5h0M599 1542h0M453 1467.5h0M575.5 1569.5h0M535 1549h0M456.5 1537h0M543 1541h0M600.5 1567h0M470 1433h0M580.5 1534h0M463.5 1506h0M468 1531h0M461 1435h0M586.5 1567.5h0M580 1570.5h0M458.5 1499.5h0M598 1544.5h0M557.5 1563.5h0M469 1593.5h0M578.5 1568h0M469.5 1507.5h0M467 1599h0M562 1566h0M560.5 1534h0M554 1569h0M469 1431h0M602.5 1540h0M538 1558h0M598 1544.5h0M478 1480h0M470.5 1574.5h0M467 1428.5h0M471.5 1502h0M603.5 1543h0M598 1566.5h0M537.5 1545h0M470 1600h0M590.5 1539.5h0M463.5 1596h0M457.5 1562.5h0M578.5 1535h0M606 1555h0M472.5 1575.5h0M589.5 1568.5h0M600 1563.5h0M461 1433.5h0M463.5 1598.5h0M608 1552h0M472 1434h0M470 1528.5h0M457 1495.5h0M549 1533.5h0M462 1574.5h0M541.5 1556h0M547.5 1546h0M593 1545h0M553 1566h0M590.5 1540.5h0M567.5 1571h0M474.5 1448h0M458 1537h0M567 1569.5h0M586 1568.5h0M467.5 1506.5h0M551.5 1560.5h0M547 1559.5h0M593.5 1563h0M600.5 1546.5h0M477.5 1473h0M550.5 1559.5h0M599 1561.5h0M469 1529h0M456 1488h0M579.5 1568h0M469 1509h0M453.5 1462.5h0M537 1552h0M473.5 1495h0M463.5 1527.5h0M467.5 1528.5h0M574 1533.5h0M600 1562h0M556 1565.5h0M479 1555h0M544 1541.5h0M464 1431h0M468.5 1575h0M475.5 1444.5h0M468 1523.5h0M477 1456h0M591 1542.5h0M550 1536.5h0M560.5 1538.5h0M585 1531.5h0M459.5 1590h0M596 1548.5h0M470 1431.5h0M458 1489.5h0M475 1488h0M567.5 1569.5h0M537.5 1544.5h0M567 1571h0M589 1541h0M456 1475.5h0M539.5 1548h0M594 1566.5h0M574.5 1540.5h0M597.5 1562.5h0M573.5 1568.5h0M560 1569.5h0M587 1569h0M585.5 1536h0M463.5 1601.5h0M467.5 1572h0M541 1558h0M455 1558h0M565 1538.5h0M596.5 1540h0M550 1539h0M468.5 1502h0M471.5 1499h0M549.5 1554.5h0M458.5 1438.5h0M456 1547h0M605 1550h0M577 1536h0M478.5 1464.5h0M573.5 1533.5h0M576 1571h0M585 1564h0M600.5 1562h0M600.5 1561h0M456 1465h0M543.5 1551.5h0M552 1537.5h0M472 1437h0M538.5 1553h0M600 1546.5h0M601.5 1553.5h0M477 1544h0M456.5 1545.5h0M549.5 1540h0M458.5 1568.5h0M569 1569.5h0M583 1537h0M455 1447h0M466 1592h0M601 1549h0M593 1544.5h0M571.5 1532.5h0M462.5 1437h0M461 1433h0M562.5 1538.5h0M542 1556h0M569.5 1569h0M467.5 1527.5h0M601.5 1560.5h0M581.5 1571h0M568 1567.5h0M467 1596h0M600.5 1563.5h0M563 1541h0M558.5 1567.5h0M462.5 1593.5h0M559.5 1539.5h0M477.5 1457.5h0M465.5 1583h0M463 1506h0M460.5 1568.5h0M547.5 1546.5h0M552.5 1554h0M469.5 1502h0M540 1545.5h0M476 1446.5h0M459 1434h0M463.5 1431h0M591 1541h0M455 1548h0M548 1559.5h0M464 1431h0M542.5 1539.5h0M561 1569.5h0M549.5 1558h0M549 1539h0M577.5 1569.5h0M546 1563h0M577.5 1534h0M601.5 1551h0M466 1577h0M471.5 1574h0M545.5 1539h0M467.5 1595h0M454 1475h0M570 1572h0M539.5 1546.5h0M553 1544.5h0M570.5 1566.5h0M474.5 1437h0M568 1539h0M477 1479h0M471 1436.5h0M546 1550h0M467.5 1530h0M537 1547h0M462.5 1600.5h0M565.5 1568.5h0M548 1565h0M572 1533h0M457 1447h0M561.5 1570.5h0M598 1559.5h0M556.5 1556.5h0M456 1479h0M477.5 1550h0M471.5 1431.5h0M556 1564h0M558 1538.5h0M476.5 1482.5h0M461 1530h0M587 1536h0M464.5 1532h0M604 1547.5h0M539.5 1548.5h0M544 1540.5h0M543.5 1554h0M596.5 1539.5h0M537.5 1554.5h0M560.5 1567.5h0M549 1535.5h0M468.5 1572h0M540 1546h0M598 1560.5h0M468 1428.5h0M474.5 1446h0M591 1537.5h0" stroke="#0000ae" stroke-width="1.6" stroke-linecap="square" fill="none"/>
<path d="M560.5 1537.5h0M544 1556.5h0M464 1531h0M544 1546h0M456 1449h0M541.5 1559h0M598 1548h0M466 1594h0M556 1564h0M595 1542.5h0M563.5 1569.5h0M550 1538.5h0M562.5 1535.5h0M558.5 1533.5h0M550.5 1555.5h0M557.5 1536.5h0M477.5 1558.5h0M460.5 1432h0M468.5 1576.5h0M471.5 1438.5h0M563 1537.5h0M466 1499.5h0M562 1545.5h0M547.5 1553.5h0M543.5 1554h0M594 1546h0M552.5 1563.5h0M477 1546h0M470.5 1503h0M471.5 1570h0M461 1529.5h0M596 1562.5h0M557.5 1561.5h0M595 1537.5h0M471.5 1571h0M475.5 1448.5h0M589 1541h0M591 1563.5h0M467 1591.5h0M604 1544h0M596.5 1558h0M586 1567h0M461.5 1529.5h0M559.5 1563.5h0M583.5 1536h0M464 1506.5h0M584.5 1565.5h0M583.5 1537h0M463 1569.5h0M473 1438h0M555 1563.5h0M465.5 1433h0M475.5 1564.5h0M564 1542.5h0M535 1550.5h0M551 1542h0M588.5 1538.5h0M588.5 1542h0M600 1552h0M580.5 1568h0M474.5 1571.5h0M542.5 1551h0M457 1498.5h0M586.5 1537h0M468.5 1435h0M573.5 1568h0M602.5 1544.5h0M468 1529h0M548.5 1543.5h0M461 1502h0M573.5 1533h0M559 1568h0M456 1447h0M587.5 1536.5h0M458.5 1437h0M558 1536h0M597 1541.5h0M544 1544.5h0M566.5 1561h0M544.5 1541.5h0M601.5 1549h0M557 1561.5h0M599.5 1548.5h0M577.5 1531.5h0M478 1459.5h0M607 1553.5h0M560.5 1570.5h0M468 1600.5h0M544.5 1544.5h0M542 1540h0M468.5 1600.5h0M576 1569h0M582 1532h0M594.5 1559h0M579 1534h0M466.5 1430h0M547.5 1546h0M596.5 1560.5h0M456.5 1542.5h0M572 1567.5h0M465 1427h0M545 1561h0M463 1504h0M466.5 1606.5h0M469.5 1504h0M555.5 1533.5h0M466 1506h0M475.5 1539.5h0M572.5 1535.5h0M540.5 1549.5h0M595.5 1565h0M583.5 1536.5h0M594 1562.5h0M457 1561h0M590.5 1566.5h0M573 1536.5h0M599 1546h0M459 1536h0M600 1557.5h0M466 1596.5h0M464.5 1603h0M579.5 1562.5h0M544 1541.5h0M475 1568.5h0M548.5 1545h0M466.5 1527.5h0M544.5 1548.5h0M595.5 1549h0M597.5 1554h0M553.5 1562h0M550 1537.5h0M458 1561h0M466.5 1599h0M559 1559h0M544.5 1556.5h0M581 1538.5h0M478 1455.5h0M470 1597h0M464.5 1577.5h0M558.5 1564.5h0M467.5 1503.5h0M474.5 1451.5h0M558.5 1564.5h0M468.5 1503.5h0M460.5 1532.5h0M565.5 1573h0M593 1542.5h0M544 1538.5h0M454 1463h0M592.5 1569h0M463 1530.5h0M464 1571h0M595 1544h0M462.5 1435h0M584 1537h0M462.5 1431.5h0M548.5 1558.5h0M559 1561.5h0M600.5 1543.5h0M470.5 1571.5h0M478 1560h0M545 1553.5h0M457.5 1497h0M465 1505.5h0M546.5 1554.5h0M474 1565.5h0M562.5 1536.5h0M563.5 1566h0M554 1544h0M598.5 1556h0M590.5 1559h0M573.5 1539h0M546.5 1540h0M472 1575.5h0M462.5 1598.5h0M589 1565.5h0M562 1542h0M457 1557.5h0M545.5 1551h0M469 1436h0M473.5 1495.5h0M594 1568h0M590.5 1555h0M553 1544.5h0M457.5 1500h0M595.5 1560h0M569 1569h0M465 1502.5h0M563 1541.5h0M584.5 1542h0M596.5 1549.5h0M595 1566h0M468 1591.5h0M465.5 1572h0M473 1438h0M454.5 1550h0M558.5 1536h0M543 1543.5h0M575 1537.5h0M541.5 1557.5h0M472 1438h0M456 1546h0M556 1563.5h0M552 1560h0M553.5 1551h0M536.5 1547.5h0M472 1571h0M456.5 1549h0M570 1568.5h0M558 1536h0M593 1557h0M591 1554.5h0M473.5 1440.5h0M555 1549h0M598 1544.5h0M477.5 1469h0M465 1505.5h0M590.5 1560.5h0M560.5 1568.5h0M570.5 1539h0M471 1532h0M478.5 1550h0M555 1559.5h0M569 1535.5h0M555.5 1559h0M470.5 1602.5h0M572.5 1538.5h0M478.5 1469h0M476.5 1444h0M469 1503h0M456 1454.5h0M588.5 1544.5h0M465.5 1504h0M475.5 1487.5h0M477 1461h0M458.5 1447h0M602.5 1548h0M463 1532h0M561.5 1560h0M551.5 1549h0M593.5 1562h0M582 1569.5h0M461.5 1503.5h0M469.5 1594.5h0M478 1476.5h0M474 1569h0M564 1570h0M465.5 1529.5h0M568.5 1537.5h0M557.5 1535h0M589 1566.5h0M595 1552.5h0M556.5 1559h0M471 1570h0M556.5 1532h0M470 1527.5h0M465 1594.5h0M564.5 1546h0M574.5 1550h0M478 1553.5h0M547.5 1555.5h0M470 1503h0M594.5 1558h0M556.5 1551h0M544.5 1543.5h0M476.5 1447h0M591 1565h0M555.5 1544.5h0M551 1550h0M460.5 1502.5h0M475 1482h0M470 1433h0M475 1542.5h0M558.5 1564h0M568 1536h0M591.5 1560.5h0M470.5 1530h0M599.5 1543.5h0M469 1500.5h0M464 1532h0M463.5 1569.5h0M560 1544.5h0M570.5 1564h0M541.5 1557h0M475.5 1543h0M579 1541h0M558 1558.5h0M465.5 1572.5h0M586 1569h0M558 1545.5h0M559.5 1560h0M593 1561.5h0M550.5 1539.5h0M462 1530h0M598.5 1543.5h0M466 1499h0M592 1563.5h0M473 1571h0M464.5 1506h0M468 1434.5h0M458 1545h0M475 1561.5h0M591 1548h0M467 1431.5h0M567.5 1539h0M465 1429.5h0M470.5 1573.5h0M587 1560h0M543 1544h0M457.5 1556.5h0M559.5 1566.5h0M478.5 1467h0M554 1558.5h0M544 1553.5h0M464 1434h0M544.5 1556.5h0M578 1565h0M455.5 1456.5h0M555 1538h0M558.5 1556h0M545 1537.5h0M572.5 1537h0M468.5 1529.5h0M455.5 1547h0M475.5 1448h0M459.5 1439h0M456 1548h0M598.5 1551h0M588.5 1567h0M546.5 1544.5h0M566.5 1567.5h0M476.5 1541h0M464 1430.5h0M563.5 1540h0M466 1430.5h0M585 1561.5h0M459.5 1440.5h0M468.5 1577h0M552.5 1545.5h0M553 1540h0M584.5 1536h0M460 1563.5h0M564 1566h0M547 1539.5h0M597 1553h0M458 1490h0M559 1561.5h0M472.5 1496.5h0M592.5 1563h0M596 1545.5h0M560 1548.5h0M573.5 1535.5h0M588.5 1545h0M590 1566h0M556.5 1563h0M546 1541h0M456.5 1461h0M558 1566.5h0M551 1560.5h0M539.5 1552h0M596 1552.5h0M594 1551h0M581 1566.5h0M558 1567h0M590 1542.5h0M594 1555h0M465 1599.5h0M457.5 1482.5h0M596.5 1561h0M585.5 1538.5h0M473 1566.5h0M558.5 1555.5h0M593.5 1560.5h0M551 1559h0M455 1445.5h0M473 1441.5h0M591.5 1566h0M566.5 1542.5h0M456 1449h0M563.5 1552.5h0M568 1566h0M455.5 1472.5h0M598 1554h0M477.5 1552h0M567.5 1558.5h0M457.5 1452.5h0M595 1559h0M455 1465h0M561 1568.5h0M592 1548.5h0M456 1458.5h0M565 1565h0M598 1563h0M571.5 1535.5h0M569.5 1565h0M545.5 1555.5h0M478.5 1560.5h0M552.5 1539.5h0M546 1550.5h0M576.5 1558h0M478 1470h0M589 1545.5h0M468 1530.5h0M473.5 1442.5h0M543.5 1544h0M574 1540h0M469 1503.5h0M551 1537.5h0M562.5 1561h0M469 1532.5h0M462 1503.5h0M546.5 1551h0M465 1432h0M601 1549.5h0M555 1547h0M558 1537.5h0M461 1436.5h0M465.5 1531h0M553.5 1557.5h0M549 1542h0M469.5 1434h0M556 1541h0M457 1442.5h0M550.5 1540.5h0M579.5 1536h0M465.5 1502.5h0M547.5 1552.5h0M461 1534h0M557 1563.5h0M557 1562.5h0M557 1557.5h0M540.5 1548.5h0M577.5 1538.5h0M547 1552h0M552 1540h0M576.5 1565h0M564 1543.5h0M471.5 1570.5h0M555.5 1555h0M544 1550h0M463 1435h0M468 1503h0M477.5 1545h0M476.5 1553.5h0M469.5 1532.5h0M455 1480.5h0M598.5 1553h0M543 1555.5h0M477.5 1468h0M544.5 1543.5h0M547 1543.5h0M461 1498h0M586 1547h0M582 1537h0M477.5 1544.5h0M552.5 1552h0M596 1549.5h0M551.5 1558.5h0M567.5 1539h0M577.5 1571h0M455.5 1451.5h0M456.5 1452.5h0M471 1533.5h0M552 1541.5h0M553 1555.5h0M477 1542h0M558 1539.5h0M552.5 1556.5h0M585.5 1557h0M459.5 1564h0M577 1566h0M557.5 1553.5h0M460.5 1564.5h0M560.5 1539h0M576.5 1536h0M467 1503.5h0M566 1537.5h0M590 1542h0M547.5 1558.5h0M593.5 1554h0M589.5 1547h0M478.5 1550h0M544.5 1553.5h0M550 1553.5h0M469 1528h0M548 1543.5h0M589 1543.5h0M575.5 1537h0M477 1556.5h0M477 1477h0M564 1568h0M572.5 1541h0M471 1440.5h0M573 1563h0M467.5 1499h0M455 1449.5h0M458 1485h0M559.5 1543.5h0M540.5 1550.5h0M459.5 1536.5h0M552 1561h0M592.5 1544h0M556.5 1552.5h0M547 1555h0M592 1549.5h0M470 1569.5h0M562 1543h0M583 1535.5h0M575.5 1566h0M591.5 1563h0M549 1542h0M577.5 1534.5h0M582.5 1535.5h0M475 1459h0M578 1556.5h0M593 1544h0M559.5 1549.5h0M457.5 1441.5h0M567 1563h0M590 1562.5h0M598.5 1552h0M571.5 1536h0M476.5 1465h0M475.5 1479.5h0M571.5 1564h0M473 1568h0M478.5 1472h0M573.5 1533.5h0M550 1555h0M469.5 1500h0M582 1565h0M597.5 1559h0M460.5 1566h0M577 1563.5h0M565 1565h0M577 1556.5h0M549.5 1545h0M473.5 1564h0M455 1459h0M564 1567h0M478.5 1550h0M583 1558.5h0M561.5 1566.5h0M460 1560.5h0M470.5 1500.5h0M458.5 1563.5h0M471 1441h0M553 1550h0M474 1452.5h0M457 1494.5h0M568.5 1537.5h0M471.5 1439.5h0M555.5 1553h0M559 1544h0M555.5 1547.5h0M548 1552h0M549 1541h0M548.5 1541.5h0M590 1541.5h0M579.5 1536.5h0M474 1541h0M458.5 1453.5h0M457 1552.5h0M557.5 1539.5h0M460 1533.5h0M465.5 1599h0M567 1541h0M584.5 1557.5h0M573.5 1540h0M551.5 1555.5h0M470.5 1504.5h0M594 1553.5h0M455.5 1450.5h0M549 1556.5h0M568.5 1541h0M571 1569h0M596.5 1554h0M458 1540.5h0M566 1565.5h0M596.5 1547h0M458.5 1556.5h0M551.5 1556h0M599.5 1550h0M595 1549.5h0M462.5 1435.5h0M575.5 1557.5h0M557 1547h0M564.5 1562h0M585 1565.5h0M464 1531.5h0M461 1439.5h0M468 1529.5h0M556.5 1538h0M590 1561.5h0M458.5 1445.5h0M570 1564.5h0M555.5 1540h0M589.5 1547.5h0M457.5 1546h0M549 1548.5h0M475.5 1477h0M593.5 1552h0M457.5 1550.5h0M463.5 1433.5h0M558 1557h0M578.5 1565h0M470 1435h0M455.5 1472.5h0M548 1540.5h0M559.5 1566h0M543 1553.5h0M555 1537.5h0M578.5 1554.5h0M553.5 1549.5h0M471.5 1497.5h0M588 1561.5h0M554.5 1541h0M478 1543.5h0M553 1536.5h0M463.5 1502h0M459.5 1441.5h0M555 1541h0M590.5 1542.5h0M595.5 1558h0M455 1479h0M552.5 1553.5h0M478 1549h0M589 1561.5h0M581 1544.5h0M552 1544.5h0M586 1554.5h0M573.5 1534h0M456.5 1453.5h0M563 1548h0M468 1531.5h0M456.5 1457.5h0M588.5 1547h0M574.5 1566h0M474 1492.5h0M462.5 1534.5h0M470.5 1442h0M546 1550.5h0M551.5 1556h0M594.5 1561.5h0M456 1456.5h0M582 1568h0M563.5 1559h0M558 1540h0M473.5 1565.5h0M547.5 1555h0M469 1439h0M598.5 1552.5h0M462.5 1498.5h0M545.5 1550.5h0M563.5 1566h0M591 1547h0M556 1535.5h0M583 1568.5h0M473.5 1447.5h0M550 1557h0M466 1504h0M566.5 1549h0M473 1568h0M469 1496.5h0M473.5 1443.5h0M470.5 1537.5h0M575 1565.5h0M471 1495.5h0M572.5 1563.5h0M476 1560h0M587 1561h0M460.5 1534.5h0M563 1549h0M473 1490h0M462.5 1532h0M469.5 1497h0M583 1564.5h0M583 1556h0M575.5 1537.5h0M570.5 1537.5h0M558.5 1539.5h0M563 1546h0M472.5 1564.5h0M476 1478.5h0M458.5 1445.5h0M473.5 1569h0M584 1549h0M474.5 1566h0M463 1567.5h0M465.5 1434.5h0M558.5 1553h0M456 1545.5h0M464 1569.5h0M551 1559h0M551 1552h0M585 1541h0M583 1539h0M561.5 1538.5h0M597 1548h0M466 1527.5h0M554.5 1536.5h0M582 1541.5h0M595.5 1551.5h0M558 1543h0M547.5 1550.5h0M562 1549h0M581 1563.5h0M456.5 1459.5h0M473.5 1481.5h0M464.5 1568.5h0M597.5 1560h0M563 1565.5h0M591.5 1550.5h0M455.5 1476.5h0M463.5 1433.5h0M455 1462h0M584 1565.5h0M571 1557.5h0M463 1437.5h0M589.5 1544h0M471 1498.5h0M569.5 1567.5h0M472.5 1538h0M562 1561h0M458 1544.5h0M586 1559.5h0M458.5 1497h0M585.5 1540h0M459 1562h0M578 1566h0M581 1556.5h0M456.5 1458h0M575 1567h0M581 1542h0M570 1562h0M458.5 1450.5h0M588.5 1551h0M564 1568h0M582 1561.5h0M468 1500h0M576.5 1566h0M476.5 1451.5h0M554 1560h0M571.5 1538.5h0M558.5 1538h0M574.5 1566h0M458.5 1495h0M459.5 1441.5h0M458 1546.5h0M589.5 1559.5h0M585 1558h0M553.5 1543.5h0M558 1545.5h0M568 1538h0M461 1566.5h0M583 1554.5h0M551 1541h0M581.5 1550.5h0M595 1556h0M560 1544.5h0M585.5 1563h0M554 1544.5h0M472.5 1491.5h0M470 1440h0M584.5 1550.5h0M554.5 1558h0M549 1554.5h0M552.5 1547h0M553 1548.5h0M573 1564.5h0M584.5 1553h0M577 1538.5h0M551.5 1542.5h0M554 1562h0M477 1555h0M458 1551h0M469 1440.5h0M468 1437h0M588.5 1557.5h0M475 1445h0M597 1554h0M558.5 1554.5h0M563.5 1566h0M565.5 1542.5h0M463.5 1433.5h0M590 1551.5h0M464 1502.5h0M471.5 1439h0M587.5 1546.5h0M559 1548.5h0M462.5 1435h0M462 1439.5h0M570 1565h0M564 1569.5h0M478 1472.5h0M469.5 1435h0M471 1566.5h0M464 1531.5h0M575 1560.5h0M558 1537h0M542.5 1553.5h0M475 1482h0M584.5 1564.5h0M475.5 1545h0M564.5 1539.5h0M559.5 1555h0M470.5 1567.5h0M475 1541.5h0M587 1561.5h0M575.5 1555h0M574 1565h0M592.5 1552h0M462 1561.5h0M563 1566.5h0M564 1545h0M468 1501h0M466.5 1499h0M464 1568h0M556.5 1555h0M591.5 1548h0M554.5 1543h0M572.5 1564h0M556.5 1535.5h0M585.5 1565.5h0M554.5 1555.5h0M475.5 1454.5h0M581 1556h0M562 1541.5h0M468 1502h0M562 1549.5h0M473 1451.5h0M585 1539.5h0M553 1545h0M555 1538.5h0M596.5 1563h0M471 1570.5h0M555 1551h0M592 1556.5h0M454.5 1470.5h0M463.5 1568h0M584.5 1540h0M560 1550.5h0M560.5 1552h0M563 1559.5h0M554 1539.5h0M471 1441.5h0M584.5 1540h0M470 1436h0M472 1438h0M548.5 1545.5h0M592.5 1561h0M593 1547h0M583.5 1555h0M560.5 1556.5h0M559 1537.5h0M556 1551.5h0M540.5 1548h0M464 1499.5h0M561.5 1554h0M475 1463h0M595 1549.5h0M551.5 1546.5h0M547.5 1553h0M565 1560.5h0M460 1536.5h0M547 1544.5h0M574.5 1551.5h0M587 1543h0M580.5 1566h0M551.5 1542.5h0M458 1549.5h0M596.5 1554.5h0M465 1436.5h0M473 1566h0M575 1536h0M457.5 1482.5h0M594.5 1553.5h0M578 1563.5h0M547.5 1552h0M591 1560.5h0M579 1559.5h0M563.5 1555.5h0M459 1495.5h0M562 1561h0M455.5 1472.5h0M476 1458h0M558 1547.5h0M457.5 1453h0M589 1545h0M575 1565h0M578 1537.5h0M550 1552h0M553 1545.5h0M583.5 1551h0M575 1538.5h0M465.5 1501.5h0M583.5 1565h0M555 1555.5h0M472.5 1448h0M475.5 1549h0M543 1553.5h0M456 1471h0M463.5 1570h0M580.5 1541h0M463.5 1501.5h0M555 1552h0M574.5 1553.5h0M579.5 1563h0M556.5 1540h0M466.5 1501h0M563.5 1557h0M472.5 1448.5h0M469 1498.5h0M474.5 1488h0M475.5 1474h0M457 1490h0M585.5 1543.5h0M556 1550h0M566 1564h0M466 1501.5h0M544.5 1546.5h0M592 1547.5h0M458.5 1447h0M473.5 1444h0M464.5 1569h0M561.5 1542h0M594.5 1548.5h0M474 1448h0M583.5 1540.5h0M582.5 1561.5h0M470.5 1436.5h0M568.5 1541.5h0M590 1550.5h0M584.5 1550h0M465 1572h0M470.5 1436.5h0M586.5 1554h0M567.5 1538.5h0M571.5 1557.5h0M464.5 1501.5h0M473 1445.5h0M557 1559.5h0M574.5 1564h0M547.5 1552h0M558 1561.5h0M580 1562.5h0M461.5 1536.5h0M558.5 1554.5h0M458.5 1452h0M558 1545.5h0M584 1551h0M556 1543.5h0M547.5 1549.5h0M457.5 1554h0M567 1560.5h0M568 1564h0M593.5 1550h0M563.5 1558h0M562 1552.5h0M551.5 1542.5h0M460 1445.5h0M564 1567h0M476.5 1553.5h0M475 1446.5h0M566.5 1546h0M468.5 1569.5h0M551 1546h0M569 1561.5h0M584.5 1537.5h0M475.5 1464.5h0M557 1554.5h0M473.5 1569h0M458.5 1491h0M572 1564.5h0M469 1499h0M466 1435.5h0M553 1556h0M582 1542.5h0M551 1545h0M477 1553h0M458.5 1445.5h0M583 1563.5h0M459.5 1444.5h0M472 1438.5h0M580.5 1567h0M592 1553.5h0M583 1541h0M582 1542h0M459 1538h0M470 1533.5h0M554 1545h0M471 1537h0M571 1537.5h0M572 1538.5h0M595 1552h0M578.5 1539.5h0M582 1556h0M581.5 1536h0M583 1560h0M556.5 1538h0M554.5 1552h0M590.5 1559h0M564.5 1555h0M461.5 1533h0M559.5 1553.5h0M469 1435.5h0M474.5 1564h0M568 1545.5h0M566.5 1540.5h0M556.5 1544h0M558 1549h0M476 1559.5h0M573 1564.5h0M586.5 1563h0M577.5 1557h0M547.5 1542h0M459.5 1561h0M576.5 1539h0M457.5 1451h0M592.5 1546.5h0M456 1461.5h0M579.5 1563.5h0M458.5 1447h0M553.5 1540.5h0M550.5 1541.5h0M583.5 1560.5h0M456.5 1452h0M467.5 1531.5h0M572 1540.5h0M549 1548h0M546 1552.5h0M552 1554h0M588 1552h0M459 1538h0M574.5 1565.5h0M549 1550.5h0M475 1551.5h0M567 1558h0M557 1561.5h0M587.5 1547.5h0M561 1556.5h0M475.5 1476h0M562.5 1540h0M466 1533h0M592.5 1546.5h0M468.5 1436.5h0M570.5 1549h0M590.5 1548.5h0M581 1560h0M582.5 1562.5h0M458.5 1491.5h0M582.5 1550.5h0M594 1548h0M476.5 1544.5h0M590.5 1547h0M458 1460.5h0M463 1439.5h0M594 1555.5h0M580 1541.5h0M588 1541.5h0M465 1569.5h0M593.5 1561h0M471 1495h0M562 1538.5h0M579.5 1557.5h0M567 1541.5h0M592.5 1546h0M570 1557.5h0M468.5 1437.5h0M466.5 1499.5h0M458 1558.5h0M595 1563h0M570.5 1561.5h0M572 1541h0M549 1556h0M552 1549.5h0M562.5 1555h0M589 1560.5h0M589 1560.5h0M568.5 1554.5h0M565 1563.5h0M559 1539.5h0M578.5 1538h0M583 1565h0M575.5 1565h0M474.5 1537.5h0M589.5 1551h0M564.5 1554h0M564 1546.5h0M554 1552h0M554.5 1550h0M585.5 1555.5h0M564 1542h0M586 1545h0M593 1555h0M593 1557.5h0M594 1547.5h0M565 1555h0M590.5 1560.5h0M558.5 1552h0M462.5 1569h0M562.5 1539.5h0M470 1436.5h0M477 1548.5h0M462.5 1441.5h0M562.5 1558.5h0M562.5 1543.5h0M565.5 1542.5h0M556 1546h0M473 1541h0M472.5 1496h0M457.5 1479h0M465.5 1503.5h0M472.5 1491.5h0" stroke="#0011d1" stroke-width="1.6" stroke-linecap="square" fill="none"/>
<path d="M457.5 1543h0M563.5 1558h0M472.5 1538h0M593.5 1562h0M582.5 1563.5h0M558.5 1545.5h0M567.5 1550h0M473 1565.5h0M576.5 1557h0M471 1446.5h0M456.5 1461.5h0M555.5 1550h0M549 1548.5h0M462 1437.5h0M460.5 1498h0M475.5 1558.5h0M582 1555.5h0M561.5 1553.5h0M460.5 1496h0M455 1470.5h0M557.5 1558.5h0M458 1487h0M550 1548.5h0M473.5 1565h0M462 1567h0M469 1439.5h0M584.5 1541.5h0M461.5 1438h0M460 1541h0M459.5 1450.5h0M582 1563h0M550 1550h0M459 1444h0M458.5 1492h0M578.5 1559h0M476.5 1454.5h0M465 1499.5h0M556 1544.5h0M552 1552.5h0M476 1557h0M579.5 1565.5h0M550.5 1550.5h0M589 1554h0M457.5 1485.5h0M591 1560h0M588.5 1561h0M464 1437h0M580 1540h0M460.5 1491.5h0M588 1553h0M560 1560.5h0M571 1546h0M472 1568.5h0M460.5 1442h0M455 1466h0M555 1541.5h0M545 1544.5h0M578.5 1565h0M581 1557.5h0M560.5 1555.5h0M471 1565.5h0M579.5 1554h0M590.5 1556h0M592.5 1548h0M549.5 1548.5h0M565.5 1562h0M559 1557.5h0M547.5 1556h0M471 1490.5h0M567.5 1565h0M564 1567h0M475.5 1466h0M476.5 1478.5h0M589 1553.5h0M577 1539.5h0M581 1543.5h0M554.5 1546.5h0M470 1533.5h0M455.5 1464.5h0M561.5 1565h0M476.5 1455h0M563 1548.5h0M465 1571h0M571 1563.5h0M474.5 1484h0M593.5 1564.5h0M457 1478.5h0M586.5 1544h0M585 1556.5h0M468.5 1436h0M548 1551h0M562 1561.5h0M588 1560h0M569 1555h0M580 1537.5h0M571.5 1562h0M560 1555.5h0M581.5 1547.5h0M593 1550.5h0M572.5 1559.5h0M577.5 1546.5h0M461 1439.5h0M560.5 1552.5h0M552 1547h0M551.5 1553.5h0M458.5 1453.5h0M593.5 1558.5h0M468 1437h0M455.5 1460h0M570.5 1558.5h0M579 1558.5h0M553 1554h0M588 1549h0M457.5 1453h0M553 1553.5h0M464.5 1532.5h0M583 1560.5h0M473 1540h0M585.5 1559.5h0M572.5 1553.5h0M473 1443h0M474.5 1548.5h0M575 1564h0M564 1543.5h0M461.5 1564h0M457.5 1487.5h0M461 1496.5h0M459.5 1494h0M574 1559.5h0M462 1538.5h0M464.5 1567.5h0M583 1549h0M573.5 1543h0M465.5 1436.5h0M460 1447h0M457 1558h0M548 1550h0M463 1501.5h0M588.5 1556.5h0M571 1540.5h0M564.5 1554h0M567.5 1540.5h0M582.5 1543h0M591.5 1555.5h0M476.5 1465.5h0M548.5 1550h0M462.5 1493h0M475.5 1458h0M568 1543h0M570 1537.5h0M584 1541.5h0M572 1562.5h0M555.5 1559h0M459 1538.5h0M560 1560h0M579.5 1557h0M583 1544h0M584.5 1560h0M572 1538.5h0M555 1557.5h0M460 1444h0M466.5 1532h0M463 1565.5h0M565.5 1561h0M457 1469h0M564 1550.5h0M570.5 1552.5h0M567.5 1542.5h0M591.5 1559h0M457 1452.5h0M473.5 1542.5h0M461 1449h0M469.5 1566h0M588.5 1551.5h0M582 1566.5h0M476.5 1463h0M572 1564.5h0M468.5 1434.5h0M467.5 1533h0M463.5 1500h0M473 1449h0M584 1543h0M564.5 1552.5h0M475 1474.5h0M581 1545.5h0M587.5 1549.5h0M465 1499.5h0M552.5 1548h0M563.5 1546.5h0M594.5 1548.5h0M457.5 1484h0M587.5 1553h0M588.5 1557h0M563.5 1560.5h0M462.5 1447.5h0M574 1558h0M583 1565.5h0M592.5 1545.5h0M589.5 1553h0M550.5 1548h0M567.5 1540.5h0M571 1566.5h0M562 1553h0M469 1568.5h0M559 1558.5h0M468 1435.5h0M591 1550h0M553.5 1543.5h0M563.5 1544.5h0M570.5 1565.5h0M475.5 1470h0M560 1564h0M471.5 1443.5h0M582.5 1562h0M572 1562.5h0M580 1546.5h0M560.5 1565.5h0M564.5 1562.5h0M473 1490.5h0M570.5 1556.5h0M572 1560.5h0M577 1555.5h0M463.5 1435.5h0M567 1563.5h0M585.5 1545.5h0M551 1539.5h0M572 1542h0M470.5 1496.5h0M575 1538h0M468 1531.5h0M467.5 1531.5h0M591.5 1550.5h0M586.5 1557.5h0M466.5 1568h0M585 1542.5h0M476.5 1545h0M463.5 1501.5h0M475.5 1554h0M471 1568h0M584.5 1558h0M585 1544.5h0M587 1546h0M590.5 1549.5h0M473.5 1547h0M470 1438h0M553.5 1550.5h0M584 1544h0M581.5 1540.5h0M459 1494h0M469.5 1535h0M574 1566h0M457 1467h0M579.5 1550h0M468 1568h0M561 1547.5h0M467.5 1435.5h0M560.5 1557h0M580 1549h0M582 1560h0M459.5 1443h0M459.5 1496h0M580 1541.5h0M593 1557.5h0M553 1541.5h0M576.5 1564.5h0M476.5 1554h0M457.5 1547h0M591 1552h0M567 1558.5h0M469 1438h0M474.5 1552h0M570 1543h0M579 1559h0M568.5 1540.5h0M578.5 1543.5h0M585 1552.5h0M583.5 1544h0M557.5 1556.5h0M583 1543.5h0M587 1552.5h0M562 1549.5h0M565 1553.5h0M595 1555.5h0M565.5 1559h0M464 1497h0M563.5 1542.5h0M575.5 1562h0M580.5 1557.5h0M579 1551.5h0M577 1550.5h0M548 1552h0M566 1546.5h0M595.5 1554.5h0M471 1537.5h0M589.5 1553h0M558.5 1558h0M456.5 1552h0M565 1555h0M473 1490.5h0M566.5 1542.5h0M581 1546h0M473 1445.5h0M573 1557.5h0M575.5 1560h0M473.5 1483.5h0M476.5 1561h0M464 1566h0M465 1435.5h0M585.5 1550h0M568 1557h0M457.5 1479.5h0M468.5 1438h0M577.5 1547h0M473.5 1444.5h0M587.5 1551h0M552.5 1558h0M464.5 1502h0M569.5 1555.5h0M563.5 1544h0M475 1459h0M593.5 1555h0M564.5 1548h0M460.5 1444h0M551.5 1549.5h0M463 1498h0M575 1543.5h0M467.5 1442.5h0M471.5 1565.5h0M582.5 1542.5h0M457 1475.5h0M550.5 1548.5h0M563.5 1556.5h0M573 1540h0M577 1566.5h0M565 1549h0M463.5 1566h0M473 1562h0M573 1543h0M559.5 1546.5h0M585 1544h0M591 1543.5h0M467 1569h0M581 1548.5h0M456 1463.5h0M591 1553h0M572 1546h0M582.5 1556.5h0M471.5 1449h0M568 1551h0M578.5 1565.5h0M471 1491.5h0M575.5 1560.5h0M470.5 1440.5h0M582 1552.5h0M570.5 1547h0M573.5 1535.5h0M476 1474h0M468 1571h0M593 1561h0M474.5 1466h0M567 1545.5h0M574 1562.5h0M473.5 1557.5h0M564 1544.5h0M467.5 1499h0M557 1545.5h0M592.5 1545.5h0M567 1556h0M476.5 1479.5h0M575 1554h0M459 1489h0M586 1558h0M471 1492.5h0M473.5 1486h0M582 1540h0M563 1544.5h0M469 1443h0M459.5 1483h0M579 1561.5h0M567.5 1553.5h0M590 1553.5h0M574.5 1552.5h0M562.5 1563h0M459 1560.5h0M587 1548.5h0M474.5 1473h0M473.5 1478.5h0M582.5 1548.5h0M460 1539.5h0M568.5 1562.5h0M456.5 1463h0M464.5 1498h0M593 1554h0M590.5 1557.5h0M459 1443h0M581 1548h0M572.5 1547.5h0M461 1541.5h0M584.5 1550.5h0M558 1552h0M590.5 1561h0M578 1566.5h0M472.5 1539.5h0M465.5 1537h0M467 1498.5h0M461.5 1449h0M460 1456.5h0M554 1543h0M462 1441.5h0M457.5 1459h0M474.5 1457h0M564.5 1552h0M459.5 1443.5h0M466.5 1571h0M572 1565h0M582.5 1559.5h0M563.5 1550.5h0M467 1537h0M582.5 1537.5h0M460 1493.5h0M459 1490h0M465 1443.5h0M466.5 1438.5h0M568.5 1554.5h0M458.5 1472.5h0M580.5 1565h0M457.5 1483.5h0M553.5 1540.5h0M457 1491h0M473.5 1447h0M463.5 1437.5h0M570 1542.5h0M578 1539.5h0M457.5 1449.5h0M476.5 1471h0M579 1552.5h0M461 1536.5h0M577 1540.5h0M471 1566h0M550 1548.5h0M473.5 1555.5h0M460.5 1489.5h0M559 1554h0M576.5 1558.5h0M562.5 1564h0M575 1551.5h0M593 1556.5h0M469.5 1444.5h0M466.5 1440.5h0M560.5 1548.5h0M467 1446h0M590.5 1555.5h0M563 1563h0M587.5 1560h0M473 1453h0M470 1445h0M583 1556.5h0M586.5 1557h0M473 1483h0M469 1557.5h0M469 1440.5h0M569 1541.5h0M583 1545h0M578 1562h0M569 1552h0M464.5 1569h0M461.5 1501h0M474 1485.5h0M560 1546.5h0M572 1564.5h0M460.5 1561h0M580.5 1541.5h0M459 1442h0M470 1436h0M577.5 1558.5h0M578 1542h0M568 1546h0M583 1559h0M557 1540.5h0M590 1550.5h0M470 1498h0M465.5 1562h0M583 1540h0M579.5 1564.5h0M581.5 1551h0M576.5 1542h0M568 1556h0M576 1553h0M561 1547h0M471.5 1448h0M578.5 1547h0M588 1555h0M575 1548h0M575.5 1560h0M573.5 1555h0M470 1447h0M471.5 1447.5h0M580 1537.5h0M587.5 1545.5h0M457.5 1482h0M457.5 1456.5h0M586.5 1555.5h0M576.5 1554.5h0M571 1542.5h0M463.5 1441h0M473.5 1565.5h0M583.5 1558h0M460.5 1448.5h0M584.5 1561.5h0M578 1562.5h0M563 1546h0M583.5 1545.5h0M574.5 1544h0M465.5 1534.5h0M568.5 1543h0M588 1557h0M465.5 1496h0M471.5 1539h0M565 1559h0M474 1546h0M467.5 1495.5h0M561 1556h0M568.5 1544h0M474.5 1458h0M474.5 1480.5h0M562.5 1559.5h0M576.5 1555.5h0M575.5 1545h0M473 1485h0M583 1550h0M465 1447.5h0M458.5 1485h0M551 1548.5h0M464 1441h0M475 1553h0M473 1540.5h0M554.5 1549h0M566 1564.5h0M464 1442.5h0M580.5 1558h0M459.5 1543.5h0M571.5 1551.5h0M568 1562h0M464 1565h0M461.5 1557h0M586 1556h0M475 1547h0M458 1475h0M580 1542h0M572.5 1550h0M457.5 1543.5h0M580.5 1544.5h0M476 1461h0M459.5 1449.5h0M467 1533.5h0M457.5 1467.5h0M464 1496h0M460.5 1535.5h0M556 1549h0M565.5 1560h0M571.5 1552.5h0M567 1559.5h0M569 1557.5h0M476 1474.5h0M580 1544.5h0M584 1552.5h0M565.5 1548.5h0M569.5 1544.5h0M467.5 1437.5h0M468.5 1533h0M458.5 1484.5h0M462 1497h0M577 1549.5h0M462.5 1444.5h0M567.5 1552.5h0M553 1553.5h0M457 1476h0M568.5 1558h0M568 1547h0M577 1545h0M459 1482.5h0M472 1493.5h0M564 1554h0M585.5 1551.5h0M466.5 1568.5h0M575 1544.5h0M460.5 1543.5h0M584 1547.5h0M586 1548h0M459.5 1445h0M564.5 1548.5h0M571 1548h0M584.5 1539.5h0M463 1441h0M567.5 1562.5h0M475 1558.5h0M564.5 1563.5h0M567.5 1547h0M577.5 1560.5h0M592 1548h0M561.5 1559h0M583.5 1552h0M463.5 1497.5h0M580.5 1553.5h0M584 1559h0M576 1557h0M580.5 1539.5h0M458.5 1562.5h0M567.5 1545h0M575.5 1555h0M474.5 1485.5h0M567 1560h0M587.5 1556h0M467.5 1439h0M471 1484h0M575.5 1545h0M473 1465.5h0M576 1549.5h0M579 1558.5h0M460 1448h0M565.5 1561h0M467 1444.5h0M567.5 1547h0M463.5 1566.5h0M573 1556h0M473 1487.5h0M580 1559.5h0M581.5 1553h0M476 1557h0M460.5 1541h0M581.5 1563.5h0M569.5 1546h0M568.5 1547h0M462.5 1443h0M472.5 1537.5h0M472 1442h0M580.5 1548h0M474.5 1450.5h0M593 1555h0M468 1557.5h0M457 1460h0M568 1554h0M463.5 1537h0M470 1445.5h0M465.5 1568h0M566.5 1552.5h0M588 1555.5h0M461.5 1442h0M472.5 1442.5h0M582.5 1544h0M466.5 1493.5h0M585 1550.5h0M571 1560h0M576 1550.5h0M555 1546h0M471.5 1447.5h0M571 1556.5h0M472 1491h0M457.5 1549h0M457 1478.5h0M476 1468.5h0M464 1436.5h0M564 1557.5h0M466 1439.5h0M577.5 1558h0M457.5 1454.5h0M476 1551.5h0M472.5 1454h0M460.5 1563.5h0M564.5 1564h0M575.5 1558h0M464 1565.5h0M466 1490h0M462 1499.5h0M466 1496h0M466 1445h0M474 1486.5h0M458.5 1483h0M567 1542h0M461.5 1535.5h0M467.5 1444h0M569.5 1541h0M468.5 1497.5h0M473 1557.5h0M566 1549.5h0M473 1445.5h0M568.5 1545.5h0M470 1566.5h0M459.5 1446.5h0M470 1570.5h0M464.5 1498h0M470 1494.5h0M458.5 1453h0M572.5 1547h0M582 1553.5h0M567.5 1544.5h0M464.5 1495.5h0M460.5 1563h0M571.5 1557h0M470 1489.5h0M457.5 1470.5h0M459.5 1449.5h0M475 1474.5h0M474.5 1474.5h0M458.5 1469.5h0M573 1544h0M457.5 1477h0M568.5 1555.5h0M589 1551.5h0M464 1534.5h0M459.5 1445h0M582 1559h0M460 1542h0M473 1488.5h0M470.5 1568h0M457.5 1553h0M460 1452h0M460.5 1445h0M459 1449.5h0M565.5 1558.5h0M566 1558.5h0M473 1485h0M463 1486h0M592.5 1551h0M587 1557h0M462.5 1499h0M564.5 1544.5h0M582.5 1550.5h0M553 1557h0M473 1552.5h0M457 1454h0M576.5 1546.5h0M569.5 1545h0M460 1551h0M469.5 1494h0M580.5 1555.5h0M460 1554.5h0M472.5 1548h0M471 1567h0M469.5 1535h0M556 1553.5h0M476 1476.5h0M570.5 1562h0M459 1484h0M569.5 1548h0M568 1555.5h0M473.5 1549.5h0M475 1553.5h0M576 1555h0M467 1497.5h0M460 1546.5h0M573 1556h0M562 1553.5h0M468.5 1567.5h0M579 1555h0M569.5 1546.5h0M468 1497h0M463.5 1444.5h0M467 1441h0M472 1549h0M581.5 1551.5h0M576.5 1561.5h0M466 1539h0M569.5 1547.5h0M566.5 1545.5h0M583 1560.5h0M470 1441.5h0M575.5 1547h0M462.5 1460.5h0M567 1543h0M459.5 1491.5h0M466 1532.5h0M576 1547.5h0M464.5 1441.5h0M573 1547.5h0M474.5 1550.5h0M475.5 1470h0M472 1444h0M574 1541h0M473.5 1559h0M472.5 1546.5h0M577.5 1551h0M476 1466h0M457 1485.5h0M579 1551h0M461 1560.5h0M570 1555.5h0M574 1552h0M470.5 1494h0M573 1549h0M588 1553.5h0M570 1542.5h0M476 1547.5h0M579.5 1550h0M572 1557.5h0M474 1457h0M468.5 1566h0M572.5 1548.5h0M582.5 1546.5h0M563.5 1545.5h0M579 1543.5h0M469.5 1566h0M463.5 1441h0M467.5 1493.5h0M578.5 1558h0M463.5 1497.5h0M473.5 1466h0M577.5 1543h0M462 1495.5h0M459 1560h0M572.5 1545.5h0M458 1455h0M571.5 1553.5h0M470 1539h0M582.5 1543.5h0M471 1490h0M474.5 1554.5h0M557.5 1549.5h0M572 1551h0M572.5 1542.5h0M462.5 1444.5h0M568 1556h0M570.5 1544.5h0M579.5 1551h0M463 1446.5h0M586 1545h0M467 1495.5h0M574 1543.5h0M468 1493.5h0M463.5 1498.5h0M474 1459h0M569 1558.5h0M471.5 1454.5h0M459 1449.5h0M569 1548h0M468.5 1535.5h0M461.5 1445h0M466 1535.5h0M471.5 1538h0M568 1546.5h0M573 1542h0M474.5 1454h0M563.5 1552h0M466 1443h0M466 1441h0M459 1492h0M460 1449.5h0M568 1547h0M471 1539.5h0M460.5 1479.5h0M466 1536.5h0M462 1556h0M473 1460h0M579 1549h0M459 1448.5h0M580.5 1560.5h0M464.5 1532.5h0M473.5 1552.5h0M470.5 1537.5h0M568 1547.5h0M473 1477.5h0M457.5 1458.5h0M458.5 1465.5h0M573 1553.5h0" stroke="#0030ef" stroke-width="1.6" stroke-linecap="square" fill="none"/>
<path d="M466 1568h0M467.5 1442h0M577.5 1558h0M470 1538h0M459.5 1541h0M464 1567h0M578 1556h0M471 1456.5h0M460 1491h0M581.5 1547.5h0M467 1493.5h0M584.5 1556h0M473.5 1545.5h0M569 1550.5h0M472.5 1483.5h0M567.5 1555.5h0M465.5 1532.5h0M461.5 1538h0M457 1460h0M574 1548.5h0M462 1493h0M460 1492h0M563.5 1551.5h0M577 1541.5h0M569 1557h0M592 1555.5h0M465.5 1565.5h0M462 1559.5h0M576.5 1543.5h0M465 1450h0M571.5 1541.5h0M473 1465h0M476 1459.5h0M462 1457h0M580.5 1554h0M472 1560h0M459.5 1454.5h0M470 1443.5h0M475 1553h0M461.5 1542h0M573 1544.5h0M457 1476.5h0M468.5 1565.5h0M460.5 1495h0M457.5 1478h0M458 1467h0M471 1487h0M472 1439.5h0M468.5 1499h0M459.5 1539.5h0M577 1549h0M472 1492.5h0M473 1545h0M466.5 1493.5h0M472 1562h0M571.5 1555.5h0M569.5 1554.5h0M569 1549h0M567.5 1543.5h0M464 1443.5h0M469 1539h0M578.5 1550.5h0M580.5 1553.5h0M470.5 1540.5h0M571 1550.5h0M460.5 1490.5h0M467.5 1439h0M464 1498.5h0M567 1555h0M581.5 1558.5h0M465.5 1451h0M460 1544h0M470.5 1538h0M474.5 1462h0M472 1483h0M582 1547.5h0M468 1439.5h0M461.5 1494h0M459.5 1561h0M578.5 1559h0M581.5 1554.5h0M462.5 1457.5h0M577.5 1544.5h0M464 1485h0M558 1544.5h0M471 1457h0M471 1562h0M472.5 1563.5h0M460.5 1553.5h0M568 1553h0M460.5 1479h0M568.5 1549h0M476 1462.5h0M469.5 1446.5h0M464 1533h0M459.5 1556.5h0M462.5 1563h0M474 1460h0M577.5 1550.5h0M461 1549h0M574.5 1550.5h0M460 1483.5h0M580 1546h0M460.5 1472h0M458.5 1473h0M573 1552h0M460 1555.5h0M471 1491h0M576.5 1544h0M462 1472h0M573.5 1556h0M580 1554h0M579.5 1562h0M578.5 1550h0M467 1495.5h0M578.5 1541.5h0M568.5 1550.5h0M465.5 1493.5h0M566.5 1556h0M460 1450h0M565.5 1550.5h0M470 1490h0M462.5 1566.5h0M461 1447.5h0M578.5 1546.5h0M460.5 1457h0M569 1556.5h0M460 1551.5h0M458.5 1464h0M472 1484h0M577 1543h0M462 1447h0M564.5 1558.5h0M459.5 1545.5h0M459 1487.5h0M463.5 1497h0M460 1463.5h0M460 1480.5h0M569 1557h0M475.5 1470.5h0M460 1551h0M570 1548h0M469 1495h0M473.5 1559h0M471 1462h0M474.5 1469.5h0M571 1550.5h0M473.5 1476h0M574.5 1548.5h0M473 1478h0M459.5 1483.5h0M579 1549.5h0M464.5 1441.5h0M469.5 1496h0M462.5 1485h0M467.5 1440.5h0M468 1440.5h0M471.5 1452.5h0M567.5 1555h0M459 1493h0M460 1459.5h0M566 1547.5h0M576.5 1545h0M464.5 1500.5h0M582 1547h0M463.5 1439.5h0M469.5 1450.5h0M468 1537h0M566 1556h0M566 1556.5h0M567 1557h0M468.5 1444.5h0M474.5 1553.5h0M583.5 1543.5h0M578 1548.5h0M567 1552.5h0M461.5 1492h0M577 1544h0M459 1556h0M470.5 1483h0M576.5 1549h0M458 1464h0M576.5 1546.5h0M470 1563h0M461 1443.5h0M457.5 1471h0M572.5 1549h0M465.5 1494h0M467 1570.5h0M577.5 1549.5h0M473 1546.5h0M569.5 1554.5h0M465 1536.5h0M473.5 1469h0M466.5 1535h0M464 1451.5h0M471.5 1444.5h0M575 1545h0M460.5 1485.5h0M580.5 1552.5h0M461.5 1493h0M460.5 1545.5h0M467.5 1440.5h0M473 1546h0M461.5 1494.5h0M586 1552.5h0M567 1547h0M472 1539h0M466 1442.5h0M458.5 1482.5h0M566 1554.5h0M470.5 1566.5h0M461.5 1495.5h0M577.5 1545h0M459.5 1561h0M468 1441.5h0M470 1491h0M571.5 1544.5h0M578 1560h0M473 1543h0M459.5 1471h0M469.5 1544h0M465 1444h0M462.5 1538.5h0M473.5 1464.5h0M570 1549h0M576 1547h0M458 1467.5h0M471 1485h0M474 1463h0M574 1548h0M572 1552h0M471 1490h0M572.5 1552h0M570 1550.5h0M467 1437.5h0M463 1535h0M466 1442h0M461 1562h0M459.5 1545.5h0M467.5 1441.5h0M473.5 1472h0M563 1557.5h0M472.5 1486.5h0M458 1471h0M578.5 1544.5h0M469 1562h0M561.5 1544h0M467.5 1491.5h0M464 1487.5h0M461 1553.5h0M572 1550h0M468 1454.5h0M577.5 1548.5h0M467.5 1563.5h0M466.5 1534h0M567 1553.5h0M468.5 1448.5h0M470.5 1538h0M583 1551h0M467.5 1442.5h0M462 1540.5h0M570 1551.5h0M465 1444.5h0M470 1565h0M461 1449.5h0M471 1559.5h0M460.5 1448h0M473 1552.5h0M578 1544h0M463.5 1449h0M471.5 1449h0M458 1460h0M468 1565.5h0M467.5 1564h0M473 1552.5h0M469 1445h0M571.5 1550h0M571.5 1548h0M568 1552h0M575.5 1550.5h0M472.5 1486.5h0M569.5 1550.5h0M463 1451.5h0M458.5 1476.5h0M470.5 1450h0M464 1565h0M463.5 1448.5h0M474 1559h0M463.5 1455h0M471.5 1552.5h0M463 1453h0M461.5 1452.5h0M571.5 1549h0M471.5 1448h0M574.5 1547h0M462.5 1542.5h0M459 1493h0M467 1450h0M568 1557h0M580.5 1544h0M576.5 1541.5h0M470.5 1446h0M466 1493.5h0M461 1459h0M472.5 1458.5h0M461.5 1484.5h0M463 1564.5h0M460.5 1488h0M458 1474.5h0M461 1545.5h0M464 1535.5h0M474 1542h0M578.5 1545h0M474 1544h0M460.5 1551h0M467 1448.5h0M463 1449h0M460 1459.5h0M467.5 1439.5h0M464.5 1493h0M473 1474h0M467.5 1497h0M569.5 1553.5h0M466 1567.5h0M464.5 1448.5h0M460 1451.5h0M462.5 1557.5h0M462 1492h0M469 1565h0M574 1557.5h0M572 1552h0M460.5 1485.5h0M473.5 1474.5h0M468 1441h0M467 1565h0M474 1464h0M460.5 1548h0M459 1456.5h0M572 1547h0M460 1454.5h0M465 1537.5h0M466.5 1537h0M458.5 1457h0M460.5 1452h0M464.5 1566h0M577.5 1557.5h0M468 1490.5h0M471 1538.5h0M462 1446.5h0M577.5 1551.5h0M469.5 1539h0M569 1554.5h0M470 1451.5h0M471 1543h0M472 1561h0M474 1548h0M570 1557h0M463 1496.5h0M460.5 1546h0M465.5 1454.5h0M467 1565.5h0M468 1487.5h0M471 1480h0M474 1468h0M471.5 1491h0M470.5 1475.5h0M465.5 1537.5h0M577 1553h0M471.5 1551.5h0M465 1495.5h0M464 1547.5h0M459.5 1549h0M462.5 1489h0M474.5 1555h0M462 1449h0M461.5 1479.5h0M471.5 1454h0M464.5 1444h0M465 1447h0M460 1555h0M471.5 1452.5h0M474 1470.5h0M472 1484.5h0M474 1549h0M465 1538.5h0M576.5 1549h0M473.5 1483h0M464.5 1560h0M466 1493.5h0M473.5 1472h0M466 1566h0M472.5 1476.5h0M577 1552.5h0M471 1555.5h0M463.5 1446h0M468.5 1564h0M459 1462.5h0M461 1490.5h0M465.5 1535h0M475.5 1473h0M572.5 1548.5h0M571 1551.5h0M473.5 1558.5h0M464.5 1564.5h0M466 1495h0M584 1551.5h0M463.5 1447.5h0M468.5 1491.5h0M469 1496h0M468.5 1451.5h0M467 1445.5h0M587.5 1551h0M467.5 1494h0M461 1490.5h0M459 1483.5h0M466 1492h0M467.5 1491.5h0M466 1446h0M468 1495h0M464 1485h0M472.5 1485h0M462.5 1490h0M463 1565h0M465 1564.5h0M573.5 1556.5h0M470.5 1455h0M466.5 1537h0M468 1555h0M461.5 1468h0M569 1551h0M467.5 1487.5h0M462 1562.5h0M471.5 1474.5h0M466.5 1487.5h0M467.5 1446.5h0M465 1443.5h0M471.5 1452.5h0M468.5 1561.5h0M460.5 1488h0M472.5 1548h0M569.5 1555h0M462 1563h0M463.5 1488.5h0M467 1443.5h0M461 1557h0M460.5 1452.5h0M469.5 1491h0M468.5 1539.5h0M469.5 1448h0M463.5 1487.5h0M576.5 1549.5h0M466 1439.5h0M463.5 1453.5h0M473 1542h0M463.5 1495.5h0M462 1462h0M468.5 1491h0M474 1464.5h0M464.5 1446.5h0M469 1447h0M466.5 1534h0M457 1471h0M461 1461.5h0M468 1562.5h0M465.5 1445h0M472 1561h0M471.5 1564.5h0M468 1444.5h0M462.5 1546h0M463.5 1566h0M469 1490.5h0M474.5 1477h0M471 1539h0M461 1452h0M463 1496h0M465 1444.5h0M470.5 1445.5h0M466 1444h0M473.5 1554h0M463 1477.5h0M574.5 1548h0M469.5 1484h0M575 1548.5h0M469 1456.5h0M461 1556.5h0M471.5 1456h0M470 1560h0M466.5 1535.5h0M462.5 1451.5h0" stroke="#005aff" stroke-width="1.6" stroke-linecap="square" fill="none"/>
<path d="M473 1552h0M464 1487h0M463.5 1454.5h0M463 1452.5h0M569.5 1553h0M465.5 1485h0M472 1469h0M471.5 1451.5h0M469 1540h0M465.5 1447.5h0M469.5 1454h0M457.5 1467h0M473 1475.5h0M462 1459.5h0M466.5 1443.5h0M460.5 1451.5h0M461.5 1543h0M459 1473h0M462.5 1494.5h0M472.5 1552h0M462 1455h0M459 1454h0M467 1491.5h0M472 1480.5h0M468 1493h0M461.5 1455h0M464.5 1559h0M469.5 1459h0M469.5 1562h0M458.5 1465h0M463.5 1493.5h0M472.5 1459h0M468 1483.5h0M463 1562h0M461 1545.5h0M467 1537h0M469 1446h0M473 1555.5h0M471 1555h0M459 1555.5h0M461.5 1550h0M472 1480.5h0M573.5 1545h0M569.5 1551h0M468.5 1446.5h0M461 1540h0M469.5 1563h0M466 1445h0M464.5 1487.5h0M460.5 1476h0M462 1484h0M462 1559.5h0M468 1450.5h0M465.5 1537h0M464 1539.5h0M463.5 1541h0M474 1457.5h0M474.5 1481.5h0M578.5 1544h0M468 1489.5h0M467 1453h0M467 1564.5h0M459 1454.5h0M467.5 1446h0M460 1474.5h0M469.5 1449.5h0M460 1459.5h0M470.5 1541h0M467.5 1559.5h0M473 1553.5h0M462 1548h0M470 1561h0M460 1460.5h0M459.5 1461h0M468 1555h0M460.5 1467h0M472 1553h0M471.5 1561.5h0M467 1539h0M460.5 1552h0M465 1493h0M474 1549.5h0M460.5 1461h0M470 1538h0M461.5 1547h0M474 1470.5h0M465.5 1539h0M470 1491h0M464 1495h0M467 1563h0M468 1444h0M470.5 1491h0M462 1556h0M465.5 1492h0M469.5 1554.5h0M462 1460.5h0M463.5 1559.5h0M465.5 1536h0M468 1451.5h0M459 1479h0M467.5 1565.5h0M469.5 1488h0M463 1488.5h0M466 1562.5h0M474.5 1553h0M472.5 1452h0M458 1474h0M463.5 1563.5h0M474.5 1479h0M465 1452.5h0M464 1494.5h0M469.5 1540h0M460 1483.5h0M472 1542h0M467 1485h0M462 1494.5h0M470 1559.5h0M473 1478.5h0M472 1544.5h0M472.5 1481h0M469 1492.5h0M467.5 1448h0M467.5 1485.5h0M472.5 1546h0M464 1444h0M469.5 1548.5h0M469 1561h0M462 1549.5h0M467 1561h0M466.5 1539h0M466.5 1452h0M472 1484.5h0M471.5 1561h0M471.5 1549.5h0M471 1457h0M460 1482.5h0M463.5 1444h0M463 1486.5h0M461 1455.5h0M471.5 1461.5h0M468.5 1447.5h0M460.5 1541h0M472.5 1476.5h0M461.5 1545.5h0M470.5 1483.5h0M459 1461.5h0M468 1493h0M463 1490h0M460 1471.5h0M464 1488h0M469.5 1455.5h0M462.5 1561h0M461.5 1560.5h0M468 1562h0M470 1538.5h0M466.5 1445.5h0M468 1551.5h0M462.5 1449h0M474.5 1541.5h0M463.5 1458h0M468.5 1560.5h0M466 1451h0M459.5 1460h0M473.5 1459h0M466 1562.5h0M460 1458h0M465.5 1494.5h0M472 1478h0M461.5 1485.5h0M463.5 1491.5h0M467.5 1492h0M472.5 1451.5h0M469.5 1565h0M470 1448.5h0M471 1542h0M464 1484h0M468.5 1448h0M468.5 1541h0M466.5 1564.5h0M467 1559h0M463 1449.5h0M465 1538.5h0M459.5 1472.5h0M472.5 1476h0M471 1457h0M466 1565h0M462.5 1489h0M464.5 1492.5h0M470.5 1561.5h0M471.5 1476h0M463 1564.5h0M462.5 1483.5h0M460.5 1447.5h0M460 1472.5h0M464 1462h0M466 1447.5h0M473 1549.5h0M467 1560.5h0M461.5 1446.5h0M474.5 1548.5h0M464 1456h0M469 1544h0M469.5 1561.5h0M471.5 1554.5h0M466 1492.5h0M461 1462h0M460 1553.5h0M470 1455h0M579 1553.5h0M472 1552.5h0M470.5 1537.5h0M469.5 1488h0M470 1445.5h0M469 1541.5h0M461 1552.5h0M473 1460h0M465 1561h0M467.5 1442h0M474 1552h0M469.5 1487h0M469.5 1483h0M460.5 1493h0M466.5 1561h0M459 1549.5h0M461 1488h0M463.5 1495.5h0M466 1565h0M461.5 1560.5h0M569.5 1551h0M461.5 1547h0M466.5 1559.5h0M461.5 1454h0M465.5 1451h0M463.5 1449.5h0M474.5 1467h0M461 1481.5h0M462 1462.5h0M472 1483.5h0M474.5 1550.5h0M460 1478.5h0M468.5 1490h0M460 1466.5h0M461.5 1486.5h0M471.5 1472.5h0M464 1561.5h0M470.5 1481h0M462 1451.5h0M467 1489h0M472 1459h0M470 1540.5h0M471.5 1556.5h0M464 1553h0M470.5 1488h0M466.5 1539h0M461.5 1555h0M460.5 1469h0M473 1466h0M470 1488.5h0M470 1563h0M472.5 1545h0M464.5 1561h0M472 1557.5h0M466.5 1447.5h0M465.5 1443.5h0M461 1555.5h0M462.5 1494.5h0M471 1563h0M472 1484.5h0M569.5 1550.5h0M461.5 1547h0M577 1545.5h0M469.5 1450.5h0M459 1459h0M472 1483h0M473.5 1468.5h0M470.5 1563.5h0M461.5 1545h0M472 1471.5h0M461 1557.5h0M468.5 1445.5h0M462 1545h0M473.5 1464h0M467.5 1491h0M460.5 1471h0M465.5 1552h0M468.5 1487.5h0M468 1492.5h0M472.5 1561.5h0M474 1551.5h0M469 1485h0M470 1485.5h0M460.5 1472h0M471 1554h0M459 1464h0M464 1492h0M471 1542.5h0M464 1543.5h0M473 1461.5h0M465.5 1450h0M461.5 1455h0M462 1480h0M461 1485.5h0M465 1449.5h0M464 1550.5h0M470.5 1451.5h0M462.5 1555h0M465 1489h0M467 1443.5h0M471.5 1547.5h0M462.5 1545.5h0M463.5 1491h0M462 1450h0M470 1558.5h0M469.5 1546h0M460 1454h0M470.5 1477.5h0M468 1491.5h0M472 1562.5h0M463 1446h0M461 1476.5h0M471 1547h0M463 1480h0M460.5 1546h0M464.5 1539.5h0M461.5 1455.5h0M466 1490.5h0M471 1465h0M471 1563.5h0M463.5 1560.5h0M466 1555.5h0M460.5 1456.5h0M466 1447h0M462 1451.5h0M467.5 1543h0M461.5 1484h0M461 1483h0M469.5 1453.5h0M462 1558.5h0M470.5 1484.5h0M462 1553h0M471.5 1545h0M463.5 1560h0M465.5 1565h0M468 1447h0M462.5 1486h0M465.5 1538h0M471 1552.5h0M470 1553.5h0M474 1558.5h0M466.5 1444.5h0M471 1474h0M468 1486h0M468.5 1560h0M471 1455.5h0M462 1543.5h0M460.5 1483.5h0M472.5 1457.5h0M459 1466.5h0M463 1492.5h0M468.5 1551h0M462.5 1551.5h0M468 1486.5h0M461 1545.5h0M463 1542.5h0M469.5 1549h0M471 1559h0M472.5 1468h0M462.5 1490.5h0M467.5 1540.5h0M470 1538.5h0M466 1486.5h0M465.5 1489.5h0M466.5 1538.5h0M471 1548h0M460 1465h0M469.5 1483h0M469 1537.5h0M474 1471h0M458.5 1460.5h0M468 1450.5h0M470 1455h0M472 1466h0M461 1482h0M470.5 1485h0M472.5 1545h0M466 1565h0M465.5 1451.5h0M470 1561h0M469 1453.5h0M469.5 1556.5h0M471 1467h0M471.5 1476.5h0M461.5 1461h0" stroke="#0090ff" stroke-width="1.6" stroke-linecap="square" fill="none"/>
<path d="M470.5 1453h0M471.5 1550h0M463 1538.5h0M464 1547h0M467 1482h0M472.5 1465.5h0M463 1479.5h0M465.5 1449h0M471 1542.5h0M463.5 1459.5h0M470.5 1545h0M461.5 1542h0M463 1559h0M467 1454.5h0M460 1458.5h0M459.5 1463h0M463 1549.5h0M466.5 1550.5h0M463.5 1480.5h0M462 1455.5h0M467.5 1447.5h0M463 1492h0M462.5 1553h0M461 1473.5h0M465 1454.5h0M472.5 1457.5h0M465 1538.5h0M471 1458.5h0M461 1475.5h0M466.5 1540h0M468.5 1562.5h0M459 1486h0M471.5 1540.5h0M466.5 1450h0M472.5 1472.5h0M466.5 1452h0M460.5 1552h0M471 1463.5h0M470.5 1559h0M471 1454h0M467.5 1546.5h0M468 1455.5h0M460 1471.5h0M461 1544.5h0M471 1557h0M461 1486h0M467 1457.5h0M468 1488.5h0M469.5 1487.5h0M461.5 1490h0M458.5 1549h0M472 1460.5h0M466 1539h0M463.5 1485h0M465.5 1492h0M461 1462h0M465.5 1491.5h0M470 1566h0M465 1494.5h0M469.5 1562.5h0M471.5 1552h0M460 1476h0M466.5 1452.5h0M465 1538.5h0M465 1558h0M472.5 1477h0M466 1494h0M464 1558.5h0M468.5 1450h0M461 1546h0M463 1540.5h0M472 1483.5h0M465 1492.5h0M466 1482.5h0M469.5 1487h0M464.5 1449h0M464.5 1561h0M462.5 1479.5h0M459 1467h0M472 1559.5h0M463 1496.5h0M463.5 1489.5h0M471.5 1485.5h0M461 1478.5h0M470 1543h0M471 1553.5h0M464 1454h0M462.5 1480.5h0M469 1490.5h0M471.5 1551h0M462 1551h0M467 1559.5h0M467 1557.5h0M469.5 1472.5h0M471.5 1457.5h0M474 1462h0M466.5 1561.5h0M463.5 1555.5h0M463.5 1485h0M470.5 1561.5h0M466.5 1456.5h0M471 1545h0M466.5 1564h0M471 1553h0M461 1478h0M462.5 1458.5h0M463.5 1542.5h0M472 1461h0M465.5 1451h0M468.5 1490.5h0M459.5 1469h0M461 1542.5h0M471.5 1456.5h0M460.5 1556.5h0M459.5 1464.5h0M462.5 1455h0M465.5 1562.5h0M468.5 1556h0M467 1452h0M470.5 1474.5h0M468.5 1456h0M463 1558h0M460.5 1465h0M460.5 1473h0M464.5 1488.5h0M465.5 1493.5h0M461 1482.5h0M459 1462.5h0M464 1487h0M471 1557h0M469.5 1552.5h0M464.5 1454h0M464.5 1452h0M465.5 1558h0M468.5 1482h0M465.5 1489.5h0M468.5 1457h0M461 1550.5h0M466.5 1479.5h0M470 1546h0M460 1465.5h0M462.5 1557.5h0M465 1478h0M461.5 1484.5h0M465 1447.5h0M465.5 1547h0M460 1472.5h0M468.5 1493h0M470.5 1483.5h0M468.5 1487h0M462 1556.5h0M466.5 1543h0M462.5 1480.5h0M460.5 1546.5h0M469.5 1480h0M462 1482h0M467.5 1453.5h0M463 1486h0M463.5 1561h0M464 1539.5h0M459 1470h0M466 1561.5h0M464 1489.5h0M462 1481.5h0M467 1450.5h0M467 1448h0M462 1486h0M468 1545h0M466 1537.5h0M472.5 1549.5h0M463.5 1541h0M472.5 1549.5h0M474 1472.5h0M460 1469h0M463.5 1488.5h0M470 1543h0M468.5 1448.5h0M472 1457h0M462.5 1482h0M467 1562h0M467.5 1449.5h0M470.5 1472.5h0M463.5 1563h0M463 1551.5h0M462.5 1546h0M470 1555.5h0M469.5 1557h0M471 1552h0M466.5 1540h0M468.5 1488.5h0M467 1484.5h0M459.5 1460.5h0M466.5 1493.5h0M474 1466.5h0M464.5 1456.5h0M465 1563.5h0M468 1456h0M470.5 1484h0M471 1477.5h0M459.5 1474h0M464 1485h0M466 1544.5h0M462.5 1554h0M468 1563h0M461 1477.5h0M464.5 1457.5h0M462.5 1546h0M467.5 1546.5h0M466 1482h0M467 1487h0M470.5 1453.5h0M464 1455.5h0M463 1450.5h0M471 1477h0M461 1548h0M465 1556.5h0M464 1561h0M461.5 1490.5h0M463 1540.5h0M467 1489.5h0M468 1553h0M463 1541h0M472 1469h0M464.5 1559h0M467 1539.5h0M465 1463h0M463.5 1541h0M471.5 1552h0M468.5 1489.5h0M472 1457.5h0M470 1554.5h0M465.5 1495.5h0M469.5 1543h0M464.5 1559h0M466 1451h0M467.5 1556.5h0M467 1459h0M465.5 1554h0M468 1486h0M466.5 1483.5h0M463 1457h0M469 1556.5h0M463 1560.5h0M469.5 1479.5h0M464.5 1480.5h0M470.5 1454h0M470 1474h0M468 1492.5h0M463.5 1555.5h0M469 1482.5h0M468 1486h0M463 1449h0M466 1543h0M469 1454.5h0M465 1461.5h0M470 1542h0M465.5 1490.5h0M464 1540.5h0M470 1477h0M462.5 1458.5h0M462.5 1550h0M466 1542.5h0M461.5 1459h0M471.5 1549.5h0M471.5 1553h0M470.5 1457h0M467.5 1542.5h0M467 1549h0M472 1547h0M459.5 1471h0M460 1471h0M472.5 1464h0M469 1455.5h0M472 1549h0M462 1463.5h0M465 1556.5h0M462.5 1546h0M465.5 1546h0M471 1469h0M464.5 1539.5h0M464 1541.5h0M469.5 1544.5h0M469 1486.5h0M462.5 1467.5h0M461 1475.5h0M472 1469.5h0M464 1488h0M465.5 1539h0M463.5 1459.5h0M466 1542h0M464 1479.5h0M468.5 1542.5h0M463.5 1483h0M467.5 1537.5h0M468 1490.5h0M464.5 1544h0M472.5 1463h0M470 1466.5h0M469.5 1480h0M462.5 1549.5h0M468 1480h0M465.5 1486.5h0M468.5 1537.5h0M464.5 1489h0M472 1476h0M464 1481h0M464 1552.5h0M469.5 1456h0M461.5 1490h0M462.5 1488h0M464.5 1481.5h0M463.5 1551.5h0M464 1492.5h0M461.5 1466.5h0M468 1482h0M465 1554h0M463 1493h0M468.5 1559h0M469 1473h0M466.5 1470h0M463.5 1560h0M465 1557h0M471.5 1461.5h0M471.5 1466.5h0M468.5 1451.5h0M467.5 1562h0M462 1486.5h0M469 1549.5h0M464.5 1543h0M465.5 1560.5h0M468 1453.5h0M464.5 1552h0M465.5 1562h0M467.5 1478.5h0M468.5 1483h0M464 1557h0M466 1541h0M459 1473h0M468.5 1455.5h0M467.5 1464h0M465 1548h0M467 1548h0M469.5 1542.5h0M463 1552h0M461 1465h0M459 1471h0M468.5 1464h0M471.5 1462h0M470.5 1484.5h0M462 1479h0M467.5 1542h0M462 1470.5h0M462.5 1555h0M467.5 1487.5h0M464.5 1455.5h0M465 1457h0M462.5 1550.5h0M460 1471.5h0M465.5 1540.5h0M467.5 1549h0M463 1543.5h0M467.5 1448.5h0M469.5 1552.5h0M469.5 1476h0" stroke="#0dc1f1" stroke-width="1.6" stroke-linecap="square" fill="none"/>
<path d="M461.5 1468h0M472.5 1548h0M465 1540.5h0M474 1464.5h0M464.5 1456.5h0M470.5 1548h0M467 1539.5h0M469 1544h0M464.5 1455.5h0M466.5 1485h0M461.5 1557h0M470.5 1544h0M462.5 1471.5h0M463.5 1561h0M472.5 1544.5h0M472.5 1469.5h0M462.5 1556h0M472.5 1470h0M463 1544h0M464.5 1483.5h0M466 1543h0M468.5 1556h0M465.5 1538.5h0M469.5 1552.5h0M470 1555.5h0M465.5 1551.5h0M462 1476h0M467 1454.5h0M464 1558.5h0M469.5 1465h0M467.5 1545.5h0M461.5 1456h0M466.5 1546h0M462.5 1480h0M467.5 1456h0M467 1541h0M466.5 1555h0M468.5 1546h0M467.5 1453h0M471 1473h0M463 1544.5h0M460.5 1552h0M467.5 1549h0M466 1547h0M466 1560.5h0M461 1549.5h0M471 1474.5h0M467.5 1551.5h0M467.5 1539.5h0M472 1465.5h0M462.5 1457.5h0M470 1546h0M470.5 1479h0M465.5 1551.5h0M461 1480.5h0M466 1544h0M462.5 1557.5h0M465.5 1483.5h0M461 1460h0M462.5 1459.5h0M462 1474.5h0M471.5 1473.5h0M468 1473h0M472.5 1466h0M467 1548.5h0M463.5 1488.5h0M464 1456.5h0M464 1460h0M469.5 1545h0M469 1560h0M464.5 1490h0M472 1551.5h0M468.5 1552.5h0M468 1459.5h0M465.5 1554.5h0M470.5 1468.5h0M461 1456h0M460 1472.5h0M471.5 1477.5h0M467.5 1446h0M471 1461h0M470 1552h0M465 1458h0M468.5 1450.5h0M470.5 1557h0M462.5 1548.5h0M467 1479.5h0M470 1548h0M463 1549h0M461.5 1547.5h0M463 1487.5h0M466 1542h0M468 1547.5h0M468.5 1488.5h0M471.5 1477.5h0M465 1492h0M472 1460.5h0M471 1475h0M462 1546h0M467.5 1538h0M466.5 1452.5h0M463 1481.5h0M463 1489h0M464 1484h0M464.5 1457.5h0M463 1475.5h0M463 1546h0M466 1554h0M469.5 1472.5h0M463 1553.5h0M470.5 1551h0M470 1545.5h0M468.5 1561h0M461 1459h0M461.5 1546h0M467.5 1488h0M472 1544.5h0M470.5 1556.5h0M464 1552.5h0M466 1548.5h0M467.5 1556h0M465.5 1554.5h0M463 1491h0M466.5 1453h0M463 1546h0M466.5 1492.5h0M461.5 1469.5h0M465 1540.5h0M459 1474.5h0M466.5 1489h0M468.5 1475.5h0M465.5 1544.5h0M464.5 1461h0M467.5 1559.5h0M465 1557h0M463.5 1476h0M472.5 1471.5h0M468 1486.5h0M461.5 1551.5h0M470.5 1461h0M462 1465h0M462 1475.5h0M466.5 1559.5h0M462.5 1475.5h0M471.5 1475h0M469 1476.5h0M472 1464.5h0M462.5 1462h0M466 1539.5h0M468 1559h0M465.5 1547.5h0M465.5 1488h0M470 1546h0M466.5 1552h0M465 1540h0M463.5 1556.5h0M468 1559.5h0M468.5 1560.5h0M462.5 1558.5h0M465.5 1490.5h0M466.5 1456.5h0M468 1538.5h0M462.5 1460.5h0M468 1557.5h0M466.5 1457h0M461.5 1474.5h0M467.5 1479.5h0M465.5 1459h0M468.5 1482h0M465.5 1479h0M463 1449h0M471.5 1461.5h0M466 1454h0M466 1560h0M470 1485h0M463.5 1554h0M465 1550.5h0M466.5 1465h0M469.5 1485h0M461.5 1467.5h0M466 1477.5h0M465 1489.5h0M465 1551.5h0M464.5 1462h0M467 1482h0M468 1556.5h0M467.5 1548h0M471.5 1464.5h0M465 1491h0M460.5 1471h0M470.5 1481.5h0M464.5 1544h0M463 1555h0M462 1476.5h0M466.5 1451h0M465.5 1557h0M463.5 1468.5h0M467.5 1471.5h0M469.5 1545.5h0M466.5 1485h0M471 1551.5h0M464 1486h0M467 1478h0M463.5 1459.5h0M467.5 1548h0M466.5 1561h0M463 1472h0M463.5 1484h0M467.5 1560h0M465 1554h0M468.5 1545.5h0M472 1543h0M466.5 1557.5h0M466.5 1544h0M467 1541h0M466 1550h0M471 1475.5h0M460.5 1468h0M465 1543h0M466.5 1489h0M467 1552h0M470 1459h0M469 1453.5h0M465 1556h0M466 1554.5h0M463.5 1559.5h0M469 1551.5h0M462 1467h0M465.5 1479h0M469 1465h0M467.5 1560.5h0M463 1483h0M464.5 1458.5h0M470 1481.5h0M463 1487h0M467.5 1455h0M467 1556.5h0M467.5 1553h0M467.5 1484h0M469 1462.5h0M467.5 1469h0M472 1552h0M466 1551h0M469.5 1453.5h0M461.5 1469.5h0M465.5 1541.5h0M471 1544h0M471 1463h0M463 1552h0M470.5 1457.5h0M467.5 1543h0M465.5 1550h0M465 1454h0M461.5 1466.5h0M466 1555.5h0M464.5 1469h0M462 1469.5h0M467.5 1555h0M462 1476h0M466 1463h0M469 1460h0M465 1539.5h0M467 1540h0M465.5 1455h0M467 1545h0M466 1561h0M472.5 1471h0M467.5 1486.5h0M470.5 1469h0M462 1547h0M459.5 1461.5h0M466 1477.5h0M471 1468.5h0M462 1477.5h0M469.5 1451.5h0M461 1478h0M470 1473h0M464.5 1454h0M464.5 1560h0M467 1457h0M464.5 1543h0M467 1547h0M463 1477.5h0M460 1471.5h0M464 1463h0M461 1462.5h0M469.5 1472h0M464.5 1541h0M469.5 1557.5h0M466 1552.5h0M469 1542.5h0M464 1547.5h0M465 1547.5h0M468.5 1543h0M465 1482h0M472.5 1473h0M462.5 1458h0M468 1561h0M468.5 1556.5h0M467 1479.5h0M468.5 1466h0M462 1467h0M465.5 1546h0M465.5 1559.5h0M466.5 1455.5h0M469 1460.5h0M469.5 1476h0M462 1476h0M468.5 1455h0M465 1546h0M465.5 1460h0M463.5 1480h0M472.5 1465.5h0M467.5 1549h0M472 1472h0M470 1461.5h0M466 1552.5h0M463 1470h0" stroke="#2fead0" stroke-width="1.6" stroke-linecap="square" fill="none"/>
<path d="M468 1559h0M464.5 1451.5h0M467.5 1540h0M465 1561h0M466.5 1456h0M470.5 1474.5h0M465.5 1544.5h0M465 1549h0M470.5 1459h0M465 1554h0M469 1473.5h0M467.5 1543.5h0M467 1557.5h0M462.5 1457.5h0M467 1460h0M464.5 1542.5h0M472.5 1553h0M467 1457h0M466.5 1468h0M464.5 1557.5h0M468.5 1472.5h0M472.5 1466.5h0M465 1539.5h0M462 1470h0M468 1545.5h0M467.5 1458.5h0M464.5 1475.5h0M466 1478h0M466 1548.5h0M469.5 1463h0M469.5 1552.5h0M470 1461h0M464 1463h0M465 1541h0M465 1481.5h0M463 1550.5h0M468.5 1474h0M470.5 1556h0M469 1479.5h0M464 1477h0M466.5 1458h0M467 1454h0M468.5 1487h0M465 1562.5h0M466.5 1486h0M465 1482.5h0M469.5 1477h0M469.5 1471.5h0M472 1469.5h0M466.5 1551h0M469.5 1479h0M472 1462.5h0M467.5 1454.5h0M462.5 1549h0M466.5 1460h0M466.5 1457.5h0M472.5 1476.5h0M466 1544.5h0M469 1463.5h0M461.5 1478h0M469 1461h0M468 1459h0M469.5 1543h0M469 1480h0M465.5 1473.5h0M464 1467.5h0M468.5 1541h0M469.5 1459h0M472.5 1462h0M462 1459.5h0M464.5 1546h0M471 1461.5h0M466 1477.5h0M471 1464h0M466 1547h0M470 1546h0M467 1561h0M464.5 1466h0M467 1459h0M467 1554h0M470.5 1474.5h0M467.5 1541.5h0M464.5 1552.5h0M465.5 1460h0M472 1462h0M458.5 1466.5h0M461.5 1460.5h0M464 1467.5h0M469 1470h0M467.5 1454h0M467.5 1544.5h0M470 1471h0M466.5 1467h0M468 1472.5h0M462.5 1545h0M467.5 1470.5h0M468 1484h0M460.5 1465h0M468.5 1472h0M463.5 1465h0M464.5 1541.5h0M461 1468.5h0M461.5 1465h0M468.5 1556h0M469.5 1480.5h0M464 1477.5h0M467.5 1457.5h0M468 1478h0M463.5 1555h0M469.5 1477h0M463.5 1546.5h0M469 1476.5h0M469.5 1544h0M468 1545.5h0M468 1560h0M463 1482h0M466.5 1479.5h0M461 1473.5h0M462.5 1463h0M465.5 1545.5h0M465.5 1466.5h0M464 1549h0M465.5 1545.5h0M466.5 1474h0M467.5 1462h0M469 1458h0M465.5 1553h0M463 1556h0M468 1483.5h0M468 1483h0M466.5 1542.5h0M467.5 1480.5h0M464.5 1554.5h0M468.5 1552.5h0M463 1483.5h0M471.5 1481h0M464 1465h0M471.5 1465h0M467.5 1460.5h0M463.5 1465.5h0M467.5 1551h0M467.5 1547h0M467 1489h0M469 1469.5h0M467.5 1551.5h0M463.5 1469.5h0M463 1544h0M462.5 1471.5h0M467 1476h0M471.5 1470h0M464.5 1461.5h0M463.5 1548h0M465.5 1543.5h0M467.5 1479h0M467.5 1454.5h0M468.5 1455.5h0M464 1552h0M472 1476h0M463.5 1462h0M470 1558h0M472.5 1463h0M462 1468.5h0M466 1463h0M466.5 1541.5h0M465 1463.5h0M470 1480.5h0M463.5 1557.5h0M468.5 1466h0M468.5 1456h0M468.5 1460h0M468 1472.5h0M470 1459h0M462.5 1469.5h0M461 1466.5h0M464.5 1470.5h0M468 1540h0M468.5 1458.5h0M467.5 1558.5h0M465.5 1476.5h0M467 1474h0M466 1482.5h0M467.5 1459.5h0M460.5 1471.5h0M464 1488h0M468 1479.5h0M468.5 1460h0M464.5 1478.5h0M466.5 1463h0M468.5 1471.5h0M464.5 1469h0M461.5 1472h0M463.5 1477.5h0M467.5 1547h0M467.5 1553.5h0M461.5 1472h0M466.5 1545h0M467.5 1477h0M465.5 1463.5h0M465.5 1480h0M465 1459h0M467 1480h0M466.5 1458h0M463.5 1481h0M466 1557h0M462 1475h0M467.5 1479.5h0M463.5 1456h0M469.5 1556.5h0M467.5 1543.5h0M467 1557.5h0M466 1550.5h0M471 1466h0M462.5 1470.5h0M470 1475h0M468.5 1476.5h0M467.5 1542.5h0M469.5 1551h0M471.5 1468.5h0M463 1482.5h0M464 1556h0M464.5 1556.5h0M467.5 1464h0M467 1474h0M469.5 1479h0M464 1548h0M466.5 1548.5h0M465 1543h0M465.5 1552.5h0M469 1465.5h0M471 1466.5h0M468.5 1543h0M471.5 1470h0M467 1473h0M465.5 1457h0M465.5 1461.5h0M466.5 1488.5h0M469 1468h0M465 1553.5h0M465 1460.5h0M462.5 1469h0M469 1464.5h0M467 1542h0M467.5 1554.5h0M467 1454.5h0M470 1478h0M463.5 1467h0" stroke="#61ff9e" stroke-width="1.6" stroke-linecap="square" fill="none"/>
<path d="M466 1477h0M468.5 1462.5h0M468.5 1557h0M470.5 1466.5h0M469.5 1460h0M467.5 1472.5h0M467 1466h0M462.5 1470.5h0M465.5 1476h0M466 1459h0M466 1555h0M464.5 1476h0M464 1461.5h0M463 1467.5h0M463.5 1552h0M466 1553h0M465 1486h0M468 1475h0M469 1480h0M465 1472.5h0M464.5 1480.5h0M461 1471.5h0M467.5 1471.5h0M466.5 1463.5h0M467 1547.5h0M468.5 1549h0M470.5 1551h0M470 1477h0M465 1558h0M465.5 1456.5h0M465 1458.5h0M465 1554.5h0M464.5 1469.5h0M467 1548h0M463 1478h0M469 1468.5h0M464 1459h0M467.5 1459.5h0M467 1460.5h0M468 1476h0M464.5 1460.5h0M469 1467h0M467 1469.5h0M466.5 1553h0M472 1466.5h0M466.5 1470h0M467.5 1464h0M468.5 1474h0M466.5 1472h0M464.5 1476h0M469 1472.5h0M464.5 1463.5h0M464.5 1475h0M465.5 1457h0M465.5 1464h0M464.5 1470.5h0M466 1541.5h0M463.5 1465h0M466 1480h0M467 1463h0M467.5 1470h0M467.5 1468h0M464 1477h0M470 1479.5h0M464.5 1552.5h0M467.5 1459.5h0M467.5 1545h0M466 1470.5h0M467.5 1469h0M462 1470h0M465.5 1470.5h0M467.5 1457.5h0M463.5 1472h0M466 1465.5h0M465.5 1548.5h0M464 1463.5h0M465.5 1553h0M468.5 1560.5h0M469.5 1466.5h0M465 1543h0M461.5 1468h0M468.5 1480.5h0M463 1467h0M463.5 1552.5h0M462 1466.5h0M465 1466h0M464 1478.5h0M468 1542h0M467 1463.5h0M465 1464.5h0M469.5 1461.5h0M464.5 1480.5h0M461.5 1475.5h0M463.5 1475h0M466 1473h0M463 1461.5h0M464 1473.5h0M466.5 1468.5h0M467 1560h0M469.5 1478.5h0M467 1472h0M466 1475h0M469.5 1480h0M470 1555.5h0M465 1480.5h0M469 1463.5h0M470 1470h0M468.5 1479h0M468.5 1479h0M464 1480.5h0M469 1477h0M463.5 1457.5h0M467 1481h0M466.5 1457.5h0M468 1466h0M464.5 1467h0M465 1474.5h0M468.5 1466h0M463.5 1544.5h0M466.5 1548.5h0M466.5 1551.5h0M464.5 1457.5h0M466.5 1546h0M466.5 1483h0M464 1467h0M465.5 1469h0M467.5 1466.5h0M463.5 1468h0M462.5 1471.5h0M466 1468h0M467.5 1544.5h0M464.5 1471.5h0M469.5 1462.5h0M468.5 1472h0M467 1463h0M467 1544h0M466 1548.5h0M464.5 1471.5h0M466.5 1455.5h0M466 1478h0M463.5 1548h0M469 1460h0M470.5 1469h0M465.5 1478.5h0M465 1473h0M463 1469.5h0M464.5 1462.5h0M465.5 1543.5h0M467 1474h0M466 1468h0M465.5 1550.5h0M464 1472h0M467 1463.5h0M470.5 1465.5h0M465.5 1542.5h0M463 1472h0M465 1477h0M466.5 1481h0M470 1481h0M466 1557.5h0M469 1466.5h0" stroke="#a4ff5c" stroke-width="1.6" stroke-linecap="square" fill="none"/>
<path d="M469 1471h0M467 1458.5h0M467.5 1464h0M464 1462h0M468.5 1466.5h0M465 1475h0M466 1464.5h0M466.5 1547h0M468 1462h0M469 1472h0M465 1543h0M465.5 1466.5h0M468.5 1471h0M470 1541.5h0M462 1470h0M470.5 1480.5h0M465 1474.5h0M469 1475h0M467 1472.5h0M464.5 1472h0M467 1469.5h0M468 1470h0M469 1478.5h0M465.5 1480h0M468.5 1466.5h0M466 1470h0M464 1462.5h0M465.5 1547.5h0M467.5 1557h0M467.5 1455.5h0M464.5 1460h0M466.5 1465.5h0M465.5 1462h0M469 1465h0M466 1477.5h0M467 1545.5h0M471 1462h0M468 1463.5h0M469 1470h0M464.5 1461.5h0M465 1462.5h0M466.5 1460h0M464.5 1465.5h0M468 1461h0M462.5 1477h0M463 1467.5h0M468.5 1461.5h0M463.5 1468.5h0M464.5 1469h0M465.5 1461h0M463 1465h0M466 1480.5h0M464 1474.5h0M464.5 1464h0M465.5 1466h0M464.5 1551.5h0M469 1460h0M467.5 1474.5h0M468 1464.5h0M465.5 1467.5h0M463 1463h0M465.5 1483h0M467 1482.5h0M465.5 1471.5h0M464.5 1474.5h0M463 1467.5h0M467 1551.5h0M464.5 1469.5h0M470 1460.5h0M467 1477.5h0M467 1471.5h0M465 1459h0M468.5 1474.5h0M468 1462h0M463 1466h0M468.5 1462h0M464.5 1466h0M465 1472h0M463.5 1475.5h0M468 1479h0M465 1549h0M463.5 1475.5h0M466 1459h0M467 1467h0M466 1461.5h0M464.5 1470h0M466 1469.5h0M465 1468.5h0M467 1471h0M463 1477.5h0M465 1477h0M466 1459h0M470.5 1481h0M467 1480.5h0M466 1465.5h0M465 1472.5h0M465.5 1480.5h0M464 1466h0M470 1467.5h0M468 1460h0M465.5 1468.5h0M465 1474h0M467 1479h0M468 1459h0M470.5 1469h0M467 1466.5h0M463.5 1474.5h0M465.5 1476h0M464 1465h0M463 1474.5h0M465.5 1467.5h0M467 1469.5h0" stroke="#d1f12e" stroke-width="1.6" stroke-linecap="square" fill="none"/>
<path d="M464.5 1464h0M468.5 1465.5h0M461.5 1470h0M463.5 1477h0M465 1470.5h0M468 1474.5h0M463.5 1474h0M467.5 1473h0M464.5 1475h0M470 1476h0M464.5 1475.5h0M470 1469.5h0M470.5 1461h0M465 1477.5h0M466.5 1466h0M463.5 1473.5h0M464.5 1469.5h0M464 1465.5h0M467 1475.5h0M463.5 1473h0M468 1458h0M468.5 1472.5h0M463.5 1464h0M465.5 1466.5h0M467.5 1473h0M466.5 1462.5h0M466.5 1472.5h0M465 1467.5h0M468.5 1465h0M465.5 1465.5h0M469 1475.5h0M463.5 1471.5h0M465 1459h0M463.5 1467h0M468.5 1468.5h0M466 1468.5h0M467.5 1472.5h0M465 1471h0M465 1459.5h0M465.5 1461.5h0M470 1472.5h0M465 1463.5h0M464.5 1473.5h0M467.5 1476h0M465 1462.5h0M466 1459.5h0M464.5 1475.5h0M468 1474.5h0M465 1473h0M467.5 1464h0M466 1473h0M466.5 1479h0M464.5 1472h0M467 1473h0M466 1474.5h0M468.5 1471.5h0M462.5 1466.5h0M467 1461h0M465 1468h0M467.5 1470h0M465 1476.5h0M468 1466h0M468 1467h0M465.5 1475.5h0M467.5 1465.5h0" stroke="#efdb0f" stroke-width="1.6" stroke-linecap="square" fill="none"/>
<path d="M468 1468.5h0M465.5 1478.5h0M468.5 1476.5h0M466.5 1464h0M467.5 1461h0M466 1475h0M464 1474.5h0M463.5 1473h0M466 1471.5h0M467 1475h0M465 1475.5h0M465 1544.5h0M465.5 1477.5h0M467.5 1467h0M467 1473h0M465.5 1475h0M466 1469.5h0M465 1473.5h0M466.5 1462h0M466 1464h0M466.5 1462.5h0M465.5 1468.5h0M466.5 1474h0M467.5 1473.5h0M466.5 1468h0M463.5 1472h0M464.5 1474.5h0M465.5 1467h0M468.5 1478.5h0M465 1474.5h0M464.5 1473h0M468 1475h0M465 1467.5h0M468.5 1471h0M467 1470h0M465.5 1462.5h0" stroke="#ffb200" stroke-width="1.6" stroke-linecap="square" fill="none"/>
<path d="M466 1475h0M467 1471h0M465 1472h0M468 1468h0M467 1466.5h0M463 1468.5h0M466.5 1465h0M466.5 1475.5h0M465 1477.5h0M467.5 1471h0M466.5 1463h0M467.5 1464h0M466 1474h0M468.5 1475.5h0" stroke="#ff7800" stroke-width="1.6" stroke-linecap="square" fill="none"/>
<path d="M466.5 1475h0M465 1472h0" stroke="#ed4500" stroke-width="1.6" stroke-linecap="square" fill="none"/>
<path d="M468 1466h0" stroke="#cf1700" stroke-width="1.6" stroke-linecap="square" fill="none"/>
<rect x="96.6" y="1362.3" width="258.6" height="265.1" fill="none" stroke="#000" stroke-width="2.2"/>
<line x1="84.9" y1="1394.9" x2="96.6" y2="1394.9" stroke="#000" stroke-width="1.6"/>
<line x1="84.9" y1="1496.8" x2="96.6" y2="1496.8" stroke="#000" stroke-width="1.6"/>
<line x1="84.9" y1="1613.7" x2="96.6" y2="1613.7" stroke="#000" stroke-width="1.6"/>
<line x1="88.4" y1="1466.1" x2="96.6" y2="1466.1" stroke="#000" stroke-width="1.6"/>
<line x1="88.4" y1="1448.2" x2="96.6" y2="1448.2" stroke="#000" stroke-width="1.6"/>
<line x1="88.4" y1="1435.5" x2="96.6" y2="1435.5" stroke="#000" stroke-width="1.6"/>
<line x1="88.4" y1="1425.6" x2="96.6" y2="1425.6" stroke="#000" stroke-width="1.6"/>
<line x1="88.4" y1="1417.5" x2="96.6" y2="1417.5" stroke="#000" stroke-width="1.6"/>
<line x1="88.4" y1="1410.7" x2="96.6" y2="1410.7" stroke="#000" stroke-width="1.6"/>
<line x1="88.4" y1="1404.8" x2="96.6" y2="1404.8" stroke="#000" stroke-width="1.6"/>
<line x1="88.4" y1="1399.6" x2="96.6" y2="1399.6" stroke="#000" stroke-width="1.6"/>
<line x1="88.4" y1="1500.6" x2="96.6" y2="1500.6" stroke="#000" stroke-width="1.6"/>
<line x1="88.4" y1="1503.7" x2="96.6" y2="1503.7" stroke="#000" stroke-width="1.6"/>
<line x1="88.4" y1="1508.2" x2="96.6" y2="1508.2" stroke="#000" stroke-width="1.6"/>
<line x1="88.4" y1="1514.3" x2="96.6" y2="1514.3" stroke="#000" stroke-width="1.6"/>
<line x1="88.4" y1="1521.1" x2="96.6" y2="1521.1" stroke="#000" stroke-width="1.6"/>
<line x1="88.4" y1="1527.2" x2="96.6" y2="1527.2" stroke="#000" stroke-width="1.6"/>
<line x1="88.4" y1="1533.3" x2="96.6" y2="1533.3" stroke="#000" stroke-width="1.6"/>
<line x1="88.4" y1="1540.1" x2="96.6" y2="1540.1" stroke="#000" stroke-width="1.6"/>
<line x1="88.4" y1="1568.9" x2="96.6" y2="1568.9" stroke="#000" stroke-width="1.6"/>
<line x1="88.4" y1="1575.8" x2="96.6" y2="1575.8" stroke="#000" stroke-width="1.6"/>
<line x1="88.4" y1="1583.3" x2="96.6" y2="1583.3" stroke="#000" stroke-width="1.6"/>
<line x1="88.4" y1="1590.2" x2="96.6" y2="1590.2" stroke="#000" stroke-width="1.6"/>
<line x1="88.4" y1="1595.5" x2="96.6" y2="1595.5" stroke="#000" stroke-width="1.6"/>
<line x1="88.4" y1="1599.3" x2="96.6" y2="1599.3" stroke="#000" stroke-width="1.6"/>
<line x1="88.4" y1="1602.3" x2="96.6" y2="1602.3" stroke="#000" stroke-width="1.6"/>
<line x1="88.4" y1="1606.1" x2="96.6" y2="1606.1" stroke="#000" stroke-width="1.6"/>
<line x1="88.4" y1="1609.1" x2="96.6" y2="1609.1" stroke="#000" stroke-width="1.6"/>
<rect x="88.4" y="1548.4" width="8.2" height="13.7" fill="#000"/>
<line x1="189.8" y1="1627.4" x2="189.8" y2="1638.9" stroke="#000" stroke-width="1.6"/>
<line x1="289.3" y1="1627.4" x2="289.3" y2="1638.9" stroke="#000" stroke-width="1.6"/>
<line x1="98.1" y1="1627.4" x2="98.1" y2="1635.2" stroke="#000" stroke-width="1.6"/>
<line x1="103.2" y1="1627.4" x2="103.2" y2="1635.2" stroke="#000" stroke-width="1.6"/>
<line x1="109.1" y1="1627.4" x2="109.1" y2="1635.2" stroke="#000" stroke-width="1.6"/>
<line x1="117.1" y1="1627.4" x2="117.1" y2="1635.2" stroke="#000" stroke-width="1.6"/>
<line x1="146.5" y1="1627.4" x2="146.5" y2="1635.2" stroke="#000" stroke-width="1.6"/>
<line x1="153.1" y1="1627.4" x2="153.1" y2="1635.2" stroke="#000" stroke-width="1.6"/>
<line x1="159.0" y1="1627.4" x2="159.0" y2="1635.2" stroke="#000" stroke-width="1.6"/>
<line x1="165.6" y1="1627.4" x2="165.6" y2="1635.2" stroke="#000" stroke-width="1.6"/>
<line x1="170.7" y1="1627.4" x2="170.7" y2="1635.2" stroke="#000" stroke-width="1.6"/>
<line x1="175.8" y1="1627.4" x2="175.8" y2="1635.2" stroke="#000" stroke-width="1.6"/>
<line x1="179.5" y1="1627.4" x2="179.5" y2="1635.2" stroke="#000" stroke-width="1.6"/>
<line x1="182.4" y1="1627.4" x2="182.4" y2="1635.2" stroke="#000" stroke-width="1.6"/>
<line x1="185.4" y1="1627.4" x2="185.4" y2="1635.2" stroke="#000" stroke-width="1.6"/>
<line x1="217.7" y1="1627.4" x2="217.7" y2="1635.2" stroke="#000" stroke-width="1.6"/>
<line x1="235.3" y1="1627.4" x2="235.3" y2="1635.2" stroke="#000" stroke-width="1.6"/>
<line x1="248.5" y1="1627.4" x2="248.5" y2="1635.2" stroke="#000" stroke-width="1.6"/>
<line x1="258.8" y1="1627.4" x2="258.8" y2="1635.2" stroke="#000" stroke-width="1.6"/>
<line x1="266.8" y1="1627.4" x2="266.8" y2="1635.2" stroke="#000" stroke-width="1.6"/>
<line x1="273.4" y1="1627.4" x2="273.4" y2="1635.2" stroke="#000" stroke-width="1.6"/>
<line x1="278.2" y1="1627.4" x2="278.2" y2="1635.2" stroke="#000" stroke-width="1.6"/>
<line x1="283.3" y1="1627.4" x2="283.3" y2="1635.2" stroke="#000" stroke-width="1.6"/>
<line x1="321.1" y1="1627.4" x2="321.1" y2="1635.2" stroke="#000" stroke-width="1.6"/>
<line x1="338.7" y1="1627.4" x2="338.7" y2="1635.2" stroke="#000" stroke-width="1.6"/>
<rect x="123.7" y="1627.4" width="15.5" height="8.2" fill="#000"/>
<text x="68.7" y="1407.3" font-size="22.5" text-anchor="end">10</text><text x="69.3" y="1398.3" font-size="14">5</text>
<text x="68.7" y="1506.0" font-size="22.5" text-anchor="end">10</text><text x="69.3" y="1497.0" font-size="14">4</text>
<text x="75.5" y="1558.3" font-size="22.5" text-anchor="end">0</text>
<text x="73.5" y="1616.0" font-size="22.5" text-anchor="end">-10</text><text x="74.1" y="1607.0" font-size="14">4</text>
<text x="131.8" y="1659.4" font-size="22" text-anchor="middle">0</text>
<text x="189.5" y="1659.4" font-size="22" text-anchor="middle">10</text><text x="201.8" y="1650.5" font-size="13">4</text>
<text x="289.5" y="1659.4" font-size="22" text-anchor="middle">10</text><text x="301.8" y="1650.5" font-size="13">5</text>
<rect x="430.6" y="1363.3" width="257.3" height="264.6" fill="none" stroke="#000" stroke-width="2.2"/>
<line x1="418.9" y1="1395.4" x2="430.6" y2="1395.4" stroke="#000" stroke-width="1.6"/>
<line x1="418.9" y1="1497.3" x2="430.6" y2="1497.3" stroke="#000" stroke-width="1.6"/>
<line x1="418.9" y1="1614.2" x2="430.6" y2="1614.2" stroke="#000" stroke-width="1.6"/>
<line x1="422.4" y1="1466.6" x2="430.6" y2="1466.6" stroke="#000" stroke-width="1.6"/>
<line x1="422.4" y1="1448.7" x2="430.6" y2="1448.7" stroke="#000" stroke-width="1.6"/>
<line x1="422.4" y1="1436.0" x2="430.6" y2="1436.0" stroke="#000" stroke-width="1.6"/>
<line x1="422.4" y1="1426.1" x2="430.6" y2="1426.1" stroke="#000" stroke-width="1.6"/>
<line x1="422.4" y1="1418.0" x2="430.6" y2="1418.0" stroke="#000" stroke-width="1.6"/>
<line x1="422.4" y1="1411.2" x2="430.6" y2="1411.2" stroke="#000" stroke-width="1.6"/>
<line x1="422.4" y1="1405.3" x2="430.6" y2="1405.3" stroke="#000" stroke-width="1.6"/>
<line x1="422.4" y1="1400.1" x2="430.6" y2="1400.1" stroke="#000" stroke-width="1.6"/>
<line x1="422.4" y1="1501.1" x2="430.6" y2="1501.1" stroke="#000" stroke-width="1.6"/>
<line x1="422.4" y1="1504.2" x2="430.6" y2="1504.2" stroke="#000" stroke-width="1.6"/>
<line x1="422.4" y1="1508.7" x2="430.6" y2="1508.7" stroke="#000" stroke-width="1.6"/>
<line x1="422.4" y1="1514.8" x2="430.6" y2="1514.8" stroke="#000" stroke-width="1.6"/>
<line x1="422.4" y1="1521.6" x2="430.6" y2="1521.6" stroke="#000" stroke-width="1.6"/>
<line x1="422.4" y1="1527.7" x2="430.6" y2="1527.7" stroke="#000" stroke-width="1.6"/>
<line x1="422.4" y1="1533.8" x2="430.6" y2="1533.8" stroke="#000" stroke-width="1.6"/>
<line x1="422.4" y1="1540.6" x2="430.6" y2="1540.6" stroke="#000" stroke-width="1.6"/>
<line x1="422.4" y1="1569.4" x2="430.6" y2="1569.4" stroke="#000" stroke-width="1.6"/>
<line x1="422.4" y1="1576.3" x2="430.6" y2="1576.3" stroke="#000" stroke-width="1.6"/>
<line x1="422.4" y1="1583.8" x2="430.6" y2="1583.8" stroke="#000" stroke-width="1.6"/>
<line x1="422.4" y1="1590.7" x2="430.6" y2="1590.7" stroke="#000" stroke-width="1.6"/>
<line x1="422.4" y1="1596.0" x2="430.6" y2="1596.0" stroke="#000" stroke-width="1.6"/>
<line x1="422.4" y1="1599.8" x2="430.6" y2="1599.8" stroke="#000" stroke-width="1.6"/>
<line x1="422.4" y1="1602.8" x2="430.6" y2="1602.8" stroke="#000" stroke-width="1.6"/>
<line x1="422.4" y1="1606.6" x2="430.6" y2="1606.6" stroke="#000" stroke-width="1.6"/>
<line x1="422.4" y1="1609.6" x2="430.6" y2="1609.6" stroke="#000" stroke-width="1.6"/>
<rect x="422.4" y="1548.9" width="8.2" height="13.7" fill="#000"/>
<line x1="523.8" y1="1627.9" x2="523.8" y2="1639.4" stroke="#000" stroke-width="1.6"/>
<line x1="623.3" y1="1627.9" x2="623.3" y2="1639.4" stroke="#000" stroke-width="1.6"/>
<line x1="432.1" y1="1627.9" x2="432.1" y2="1635.7" stroke="#000" stroke-width="1.6"/>
<line x1="437.2" y1="1627.9" x2="437.2" y2="1635.7" stroke="#000" stroke-width="1.6"/>
<line x1="443.1" y1="1627.9" x2="443.1" y2="1635.7" stroke="#000" stroke-width="1.6"/>
<line x1="451.1" y1="1627.9" x2="451.1" y2="1635.7" stroke="#000" stroke-width="1.6"/>
<line x1="480.5" y1="1627.9" x2="480.5" y2="1635.7" stroke="#000" stroke-width="1.6"/>
<line x1="487.1" y1="1627.9" x2="487.1" y2="1635.7" stroke="#000" stroke-width="1.6"/>
<line x1="493.0" y1="1627.9" x2="493.0" y2="1635.7" stroke="#000" stroke-width="1.6"/>
<line x1="499.6" y1="1627.9" x2="499.6" y2="1635.7" stroke="#000" stroke-width="1.6"/>
<line x1="504.7" y1="1627.9" x2="504.7" y2="1635.7" stroke="#000" stroke-width="1.6"/>
<line x1="509.8" y1="1627.9" x2="509.8" y2="1635.7" stroke="#000" stroke-width="1.6"/>
<line x1="513.5" y1="1627.9" x2="513.5" y2="1635.7" stroke="#000" stroke-width="1.6"/>
<line x1="516.4" y1="1627.9" x2="516.4" y2="1635.7" stroke="#000" stroke-width="1.6"/>
<line x1="519.4" y1="1627.9" x2="519.4" y2="1635.7" stroke="#000" stroke-width="1.6"/>
<line x1="551.7" y1="1627.9" x2="551.7" y2="1635.7" stroke="#000" stroke-width="1.6"/>
<line x1="569.3" y1="1627.9" x2="569.3" y2="1635.7" stroke="#000" stroke-width="1.6"/>
<line x1="582.5" y1="1627.9" x2="582.5" y2="1635.7" stroke="#000" stroke-width="1.6"/>
<line x1="592.8" y1="1627.9" x2="592.8" y2="1635.7" stroke="#000" stroke-width="1.6"/>
<line x1="600.8" y1="1627.9" x2="600.8" y2="1635.7" stroke="#000" stroke-width="1.6"/>
<line x1="607.4" y1="1627.9" x2="607.4" y2="1635.7" stroke="#000" stroke-width="1.6"/>
<line x1="612.2" y1="1627.9" x2="612.2" y2="1635.7" stroke="#000" stroke-width="1.6"/>
<line x1="617.3" y1="1627.9" x2="617.3" y2="1635.7" stroke="#000" stroke-width="1.6"/>
<line x1="655.1" y1="1627.9" x2="655.1" y2="1635.7" stroke="#000" stroke-width="1.6"/>
<line x1="672.7" y1="1627.9" x2="672.7" y2="1635.7" stroke="#000" stroke-width="1.6"/>
<rect x="457.7" y="1627.9" width="15.5" height="8.7" fill="#000"/>
<text x="402.7" y="1407.8" font-size="22.5" text-anchor="end">10</text><text x="403.3" y="1398.8" font-size="14">5</text>
<text x="402.7" y="1506.5" font-size="22.5" text-anchor="end">10</text><text x="403.3" y="1497.5" font-size="14">4</text>
<text x="409.5" y="1558.8" font-size="22.5" text-anchor="end">0</text>
<text x="407.5" y="1616.5" font-size="22.5" text-anchor="end">-10</text><text x="408.1" y="1607.5" font-size="14">4</text>
<text x="465.8" y="1659.9" font-size="22" text-anchor="middle">0</text>
<text x="523.5" y="1659.9" font-size="22" text-anchor="middle">10</text><text x="535.8" y="1651.0" font-size="13">4</text>
<text x="623.5" y="1659.9" font-size="22" text-anchor="middle">10</text><text x="635.8" y="1651.0" font-size="13">5</text>
<rect x="111.9" y="1418.4" width="51.2" height="89.4" fill="none" stroke="#000" stroke-width="1.8"/>
<rect x="182.9" y="1511.9" width="96.6" height="68.4" fill="none" stroke="#000" stroke-width="1.8"/>
<rect x="441" y="1420.3" width="51.7" height="88.7" fill="none" stroke="#000" stroke-width="1.8"/>
<rect x="523.1" y="1511.9" width="96.4" height="68.4" fill="none" stroke="#000" stroke-width="1.8"/>
<text x="103.9" y="1384.6" font-size="20">CD8<tspan font-size="12" dy="-8">+</tspan><tspan dy="8"> T cells</tspan></text>
<text x="162.5" y="1410.0" font-size="20" text-anchor="middle">18.2%</text>
<text x="195.2" y="1477.1" font-size="20">CD4<tspan font-size="12" dy="-8">+</tspan><tspan dy="8"> T cells</tspan></text>
<text x="253.1" y="1501.7" font-size="20" text-anchor="middle">51.2%</text>
<text x="436.2" y="1388.2" font-size="20">CD8<tspan font-size="12" dy="-8">+</tspan><tspan dy="8"> T cells</tspan></text>
<text x="494.2" y="1413.1" font-size="20" text-anchor="middle">42.7%</text>
<text x="533.3" y="1477.6" font-size="20">CD4<tspan font-size="12" dy="-8">+</tspan><tspan dy="8"> T cells</tspan></text>
<text x="591.3" y="1501.7" font-size="20" text-anchor="middle">26.2%</text>
<line x1="30.8" y1="1685.2" x2="30.8" y2="1634.0" stroke="#000" stroke-width="1.8"/>
<path d="M30.8,1618.5 L38.4,1637 L30.8,1632.5 L23.2,1637 Z" fill="#222"/>
<line x1="30.0" y1="1684.4" x2="81.0" y2="1684.4" stroke="#000" stroke-width="1.8"/>
<path d="M97,1684.4 L78.8,1692.4 L83.5,1684.4 L78.8,1676.4 Z" fill="#222"/>
<text transform="translate(19.0,1661.5) rotate(-90)" font-size="23.5" text-anchor="middle">CD8</text>
<text x="32.9" y="1713.0" font-size="24">CD4</text>
<line x1="859.4" y1="1359.2" x2="859.4" y2="1627.4" stroke="#000" stroke-width="2.2"/>
<line x1="852.4" y1="1626.4" x2="995.7" y2="1626.4" stroke="#000" stroke-width="2.2"/>
<line x1="852.4" y1="1626.4" x2="859.4" y2="1626.4" stroke="#000" stroke-width="2.2"/>
<text x="842.9" y="1634.0" font-size="22" text-anchor="end">0</text>
<line x1="852.4" y1="1537.7" x2="859.4" y2="1537.7" stroke="#000" stroke-width="2.2"/>
<text x="842.9" y="1545.3" font-size="22" text-anchor="end">20</text>
<line x1="852.4" y1="1448.9" x2="859.4" y2="1448.9" stroke="#000" stroke-width="2.2"/>
<text x="842.9" y="1456.5" font-size="22" text-anchor="end">40</text>
<line x1="852.4" y1="1360.2" x2="859.4" y2="1360.2" stroke="#000" stroke-width="2.2"/>
<text x="842.9" y="1367.8" font-size="22" text-anchor="end">60</text>
<rect x="879.7" y="1528.3" width="33.7" height="98.1" fill="none" stroke="#1b35ea" stroke-width="2.2"/>
<rect x="935.3" y="1471.1" width="34.0" height="155.3" fill="none" stroke="#e3161e" stroke-width="2.2"/>
<line x1="896.9" y1="1486.6" x2="896.9" y2="1566.5" stroke="#1b35ea" stroke-width="2.2"/>
<line x1="887.7" y1="1486.6" x2="906.1" y2="1486.6" stroke="#1b35ea" stroke-width="2.2"/>
<line x1="887.7" y1="1566.5" x2="906.1" y2="1566.5" stroke="#1b35ea" stroke-width="2.2"/>
<line x1="952.5" y1="1430.7" x2="952.5" y2="1508.4" stroke="#e3161e" stroke-width="2.2"/>
<line x1="943.0" y1="1430.7" x2="962.0" y2="1430.7" stroke="#e3161e" stroke-width="2.2"/>
<line x1="943.0" y1="1508.4" x2="962.0" y2="1508.4" stroke="#e3161e" stroke-width="2.2"/>
<circle cx="882.0" cy="1478.6" r="4.5" fill="#1b35ea"/>
<circle cx="896.9" cy="1482.1" r="4.5" fill="#1b35ea"/>
<circle cx="911.8" cy="1478.6" r="4.5" fill="#1b35ea"/>
<circle cx="882.0" cy="1546.4" r="4.5" fill="#1b35ea"/>
<circle cx="896.9" cy="1546.4" r="4.5" fill="#1b35ea"/>
<circle cx="911.8" cy="1548.7" r="4.5" fill="#1b35ea"/>
<circle cx="896.9" cy="1555.6" r="4.5" fill="#1b35ea"/>
<circle cx="896.9" cy="1577.5" r="4.5" fill="#1b35ea"/>
<path d="M952.5,1403.5 L957.7,1411.8 L947.3,1411.8 Z" fill="#e3161e"/>
<path d="M944.7,1432.2 L949.9,1440.5 L939.5,1440.5 Z" fill="#e3161e"/>
<path d="M960.1,1429.9 L965.3,1438.2 L954.9,1438.2 Z" fill="#e3161e"/>
<path d="M937.1,1463.3 L942.3,1471.6 L931.9,1471.6 Z" fill="#e3161e"/>
<path d="M952.5,1464.0 L957.7,1472.3 L947.3,1472.3 Z" fill="#e3161e"/>
<path d="M967.7,1463.3 L972.9,1471.6 L962.5,1471.6 Z" fill="#e3161e"/>
<path d="M952.5,1500.7 L957.7,1509.0 L947.3,1509.0 Z" fill="#e3161e"/>
<path d="M944.7,1517.3 L949.9,1525.6 L939.5,1525.6 Z" fill="#e3161e"/>
<path d="M960.1,1512.2 L965.3,1520.5 L954.9,1520.5 Z" fill="#e3161e"/>
<path d="M898.7,1381.6 V1372.9 H952.5 V1381.6" fill="none" stroke="#000" stroke-width="2"/>
<text x="882.0" y="1356.8" font-size="20.5"><tspan font-style="italic">P</tspan> = 0.0092</text>
<text transform="translate(903.8,1653.1) rotate(-45)" font-size="30" text-anchor="end">Scr</text>
<text transform="translate(960.0,1661.7) rotate(-45)" font-size="31" text-anchor="end">Y KO</text>
<text x="697.0" y="1693.6" font-size="33">CRISPR:</text>
<text transform="translate(799.2,1502.2) rotate(-90)" font-size="29" text-anchor="middle">% of CD8<tspan font-size="16" dy="-11">+</tspan><tspan dy="11"> T cells</tspan></text>
<text x="1070.0" y="1333.8" font-size="36">f</text>
<line x1="1231.7" y1="1358.2" x2="1231.7" y2="1626.7" stroke="#000" stroke-width="2.2"/>
<line x1="1224.7" y1="1625.7" x2="1377.4" y2="1625.7" stroke="#000" stroke-width="2.2"/>
<line x1="1224.7" y1="1625.7" x2="1231.7" y2="1625.7" stroke="#000" stroke-width="2.2"/>
<text x="1216.7" y="1633.3" font-size="22" text-anchor="end">0</text>
<line x1="1224.7" y1="1559.1" x2="1231.7" y2="1559.1" stroke="#000" stroke-width="2.2"/>
<text x="1216.7" y="1566.7" font-size="22" text-anchor="end">10</text>
<line x1="1224.7" y1="1492.5" x2="1231.7" y2="1492.5" stroke="#000" stroke-width="2.2"/>
<text x="1216.7" y="1500.0" font-size="22" text-anchor="end">20</text>
<line x1="1224.7" y1="1425.8" x2="1231.7" y2="1425.8" stroke="#000" stroke-width="2.2"/>
<text x="1216.7" y="1433.4" font-size="22" text-anchor="end">30</text>
<line x1="1224.7" y1="1359.2" x2="1231.7" y2="1359.2" stroke="#000" stroke-width="2.2"/>
<text x="1216.7" y="1366.8" font-size="22" text-anchor="end">40</text>
<rect x="1252.5" y="1515.8" width="33.8" height="109.9" fill="none" stroke="#1b35ea" stroke-width="2.2"/>
<rect x="1308.5" y="1471.1" width="33.8" height="154.6" fill="none" stroke="#e3161e" stroke-width="2.2"/>
<line x1="1269.4" y1="1485.1" x2="1269.4" y2="1541.8" stroke="#1b35ea" stroke-width="2.2"/>
<line x1="1261.9" y1="1485.1" x2="1276.9" y2="1485.1" stroke="#1b35ea" stroke-width="2.2"/>
<line x1="1261.9" y1="1541.8" x2="1276.9" y2="1541.8" stroke="#1b35ea" stroke-width="2.2"/>
<line x1="1325.4" y1="1433.8" x2="1325.4" y2="1505.1" stroke="#e3161e" stroke-width="2.2"/>
<line x1="1317.9" y1="1433.8" x2="1332.9" y2="1433.8" stroke="#e3161e" stroke-width="2.2"/>
<line x1="1317.9" y1="1505.1" x2="1332.9" y2="1505.1" stroke="#e3161e" stroke-width="2.2"/>
<circle cx="1269.4" cy="1478.8" r="4.5" fill="#1b35ea"/>
<circle cx="1261.4" cy="1488.5" r="4.5" fill="#1b35ea"/>
<circle cx="1277.1" cy="1488.9" r="4.5" fill="#1b35ea"/>
<circle cx="1269.4" cy="1504.2" r="4.5" fill="#1b35ea"/>
<circle cx="1261.4" cy="1522.8" r="4.5" fill="#1b35ea"/>
<circle cx="1277.1" cy="1522.3" r="4.5" fill="#1b35ea"/>
<circle cx="1261.4" cy="1555.6" r="4.5" fill="#1b35ea"/>
<circle cx="1277.1" cy="1550.1" r="4.5" fill="#1b35ea"/>
<path d="M1309.7,1415.3 L1314.9,1423.6 L1304.5,1423.6 Z" fill="#e3161e"/>
<path d="M1325.4,1419.4 L1330.6,1427.7 L1320.2,1427.7 Z" fill="#e3161e"/>
<path d="M1325.4,1441.2 L1330.6,1449.5 L1320.2,1449.5 Z" fill="#e3161e"/>
<path d="M1325.4,1451.6 L1330.6,1459.9 L1320.2,1459.9 Z" fill="#e3161e"/>
<path d="M1325.4,1461.2 L1330.6,1469.5 L1320.2,1469.5 Z" fill="#e3161e"/>
<path d="M1309.7,1489.5 L1314.9,1497.8 L1304.5,1497.8 Z" fill="#e3161e"/>
<path d="M1325.4,1498.0 L1330.6,1506.3 L1320.2,1506.3 Z" fill="#e3161e"/>
<path d="M1341.1,1495.0 L1346.3,1503.3 L1335.9,1503.3 Z" fill="#e3161e"/>
<path d="M1325.4,1513.7 L1330.6,1522.0 L1320.2,1522.0 Z" fill="#e3161e"/>
<path d="M1270.3,1383.4 V1374.9 H1328.3 V1383.4" fill="none" stroke="#000" stroke-width="2"/>
<text x="1254.2" y="1356.8" font-size="20.5"><tspan font-style="italic">P</tspan> = 0.0136</text>
<text transform="translate(1278.3,1652.9) rotate(-45)" font-size="30" text-anchor="end">Scr</text>
<text transform="translate(1336.3,1659.6) rotate(-45)" font-size="31" text-anchor="end">Y KO</text>
<text x="1074.4" y="1691.4" font-size="33">CRISPR:</text>
<text transform="translate(1129.7,1494.5) rotate(-90)" font-size="28" text-anchor="middle">% CD206<tspan font-size="16" dy="-11">+</tspan><tspan dy="11">PDL1</tspan><tspan font-size="16" dy="-11">+</tspan></text>
<text transform="translate(1163.5,1494.5) rotate(-90)" font-size="28.5" text-anchor="middle">Macrophages</text>
</svg></body></html>
